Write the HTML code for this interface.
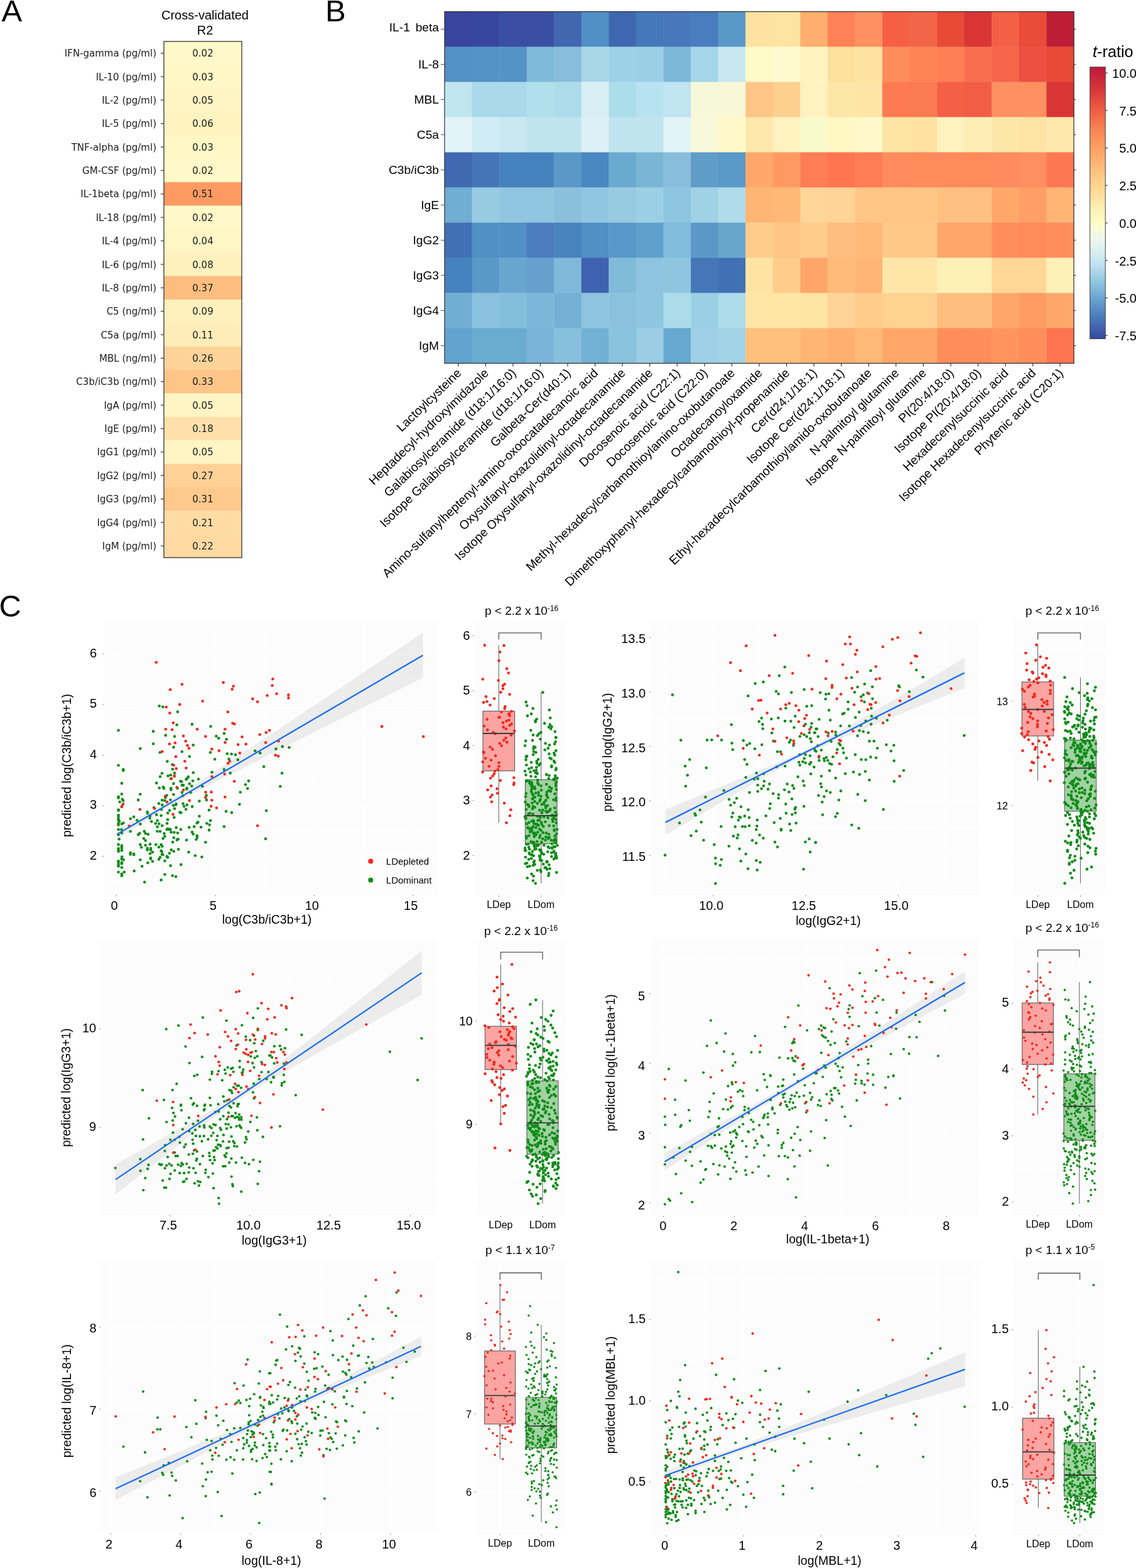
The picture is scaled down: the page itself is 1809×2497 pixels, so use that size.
<!DOCTYPE html>
<html><head><meta charset="utf-8"><title>Figure</title>
<style>html,body{margin:0;padding:0;background:#fff;} svg{display:block;}</style></head>
<body><svg width="1809" height="2497" viewBox="0 0 1809 2497">
<rect width="1809" height="2497" fill="#fff"/>
<text x="2.5" y="33.7" font-size="49" text-anchor="start" font-family="'Liberation Sans', Arial, sans-serif" fill="#000" >A</text>
<text x="326.5" y="30.5" font-size="20" text-anchor="middle" font-family="'Liberation Sans', Arial, sans-serif" fill="#000" >Cross-validated</text>
<text x="326.5" y="55.0" font-size="20" text-anchor="middle" font-family="'Liberation Sans', Arial, sans-serif" fill="#000" >R2</text>
<rect x="261" y="66.00" width="124" height="37.66" fill="#fff8c8"/>
<rect x="261" y="103.36" width="124" height="37.66" fill="#fff7c6"/>
<rect x="261" y="140.73" width="124" height="37.66" fill="#fff4c3"/>
<rect x="261" y="178.09" width="124" height="37.66" fill="#fff3c1"/>
<rect x="261" y="215.45" width="124" height="37.66" fill="#fff7c6"/>
<rect x="261" y="252.82" width="124" height="37.66" fill="#fff8c8"/>
<rect x="261" y="290.18" width="124" height="37.66" fill="#fc9a62"/>
<rect x="261" y="327.55" width="124" height="37.66" fill="#fff8c8"/>
<rect x="261" y="364.91" width="124" height="37.66" fill="#fff6c5"/>
<rect x="261" y="402.27" width="124" height="37.66" fill="#fff1be"/>
<rect x="261" y="439.64" width="124" height="37.66" fill="#fdbd7e"/>
<rect x="261" y="477.00" width="124" height="37.66" fill="#fff0bd"/>
<rect x="261" y="514.36" width="124" height="37.66" fill="#ffedb9"/>
<rect x="261" y="551.73" width="124" height="37.66" fill="#fed39a"/>
<rect x="261" y="589.09" width="124" height="37.66" fill="#fdc588"/>
<rect x="261" y="626.45" width="124" height="37.66" fill="#fff4c3"/>
<rect x="261" y="663.82" width="124" height="37.66" fill="#fee1aa"/>
<rect x="261" y="701.18" width="124" height="37.66" fill="#fff4c3"/>
<rect x="261" y="738.55" width="124" height="37.66" fill="#fed197"/>
<rect x="261" y="775.91" width="124" height="37.66" fill="#fec98d"/>
<rect x="261" y="813.27" width="124" height="37.66" fill="#fedca4"/>
<rect x="261" y="850.64" width="124" height="37.66" fill="#fedaa2"/>
<text x="249.0" y="90.2" font-size="15" text-anchor="end" font-family="'DejaVu Sans', sans-serif" fill="#1a1a1a" >IFN-gamma (pg/ml)</text>
<text x="323.0" y="90.2" font-size="15" text-anchor="middle" font-family="'DejaVu Sans', sans-serif" fill="#1a1a1a" >0.02</text>
<line x1="256" y1="84.7" x2="261" y2="84.7" stroke="#333" stroke-width="1.2"/>
<text x="249.0" y="127.5" font-size="15" text-anchor="end" font-family="'DejaVu Sans', sans-serif" fill="#1a1a1a" >IL-10 (pg/ml)</text>
<text x="323.0" y="127.5" font-size="15" text-anchor="middle" font-family="'DejaVu Sans', sans-serif" fill="#1a1a1a" >0.03</text>
<line x1="256" y1="122.0" x2="261" y2="122.0" stroke="#333" stroke-width="1.2"/>
<text x="249.0" y="164.9" font-size="15" text-anchor="end" font-family="'DejaVu Sans', sans-serif" fill="#1a1a1a" >IL-2 (pg/ml)</text>
<text x="323.0" y="164.9" font-size="15" text-anchor="middle" font-family="'DejaVu Sans', sans-serif" fill="#1a1a1a" >0.05</text>
<line x1="256" y1="159.4" x2="261" y2="159.4" stroke="#333" stroke-width="1.2"/>
<text x="249.0" y="202.3" font-size="15" text-anchor="end" font-family="'DejaVu Sans', sans-serif" fill="#1a1a1a" >IL-5 (pg/ml)</text>
<text x="323.0" y="202.3" font-size="15" text-anchor="middle" font-family="'DejaVu Sans', sans-serif" fill="#1a1a1a" >0.06</text>
<line x1="256" y1="196.8" x2="261" y2="196.8" stroke="#333" stroke-width="1.2"/>
<text x="249.0" y="239.6" font-size="15" text-anchor="end" font-family="'DejaVu Sans', sans-serif" fill="#1a1a1a" >TNF-alpha (pg/ml)</text>
<text x="323.0" y="239.6" font-size="15" text-anchor="middle" font-family="'DejaVu Sans', sans-serif" fill="#1a1a1a" >0.03</text>
<line x1="256" y1="234.1" x2="261" y2="234.1" stroke="#333" stroke-width="1.2"/>
<text x="249.0" y="277.0" font-size="15" text-anchor="end" font-family="'DejaVu Sans', sans-serif" fill="#1a1a1a" >GM-CSF (pg/ml)</text>
<text x="323.0" y="277.0" font-size="15" text-anchor="middle" font-family="'DejaVu Sans', sans-serif" fill="#1a1a1a" >0.02</text>
<line x1="256" y1="271.5" x2="261" y2="271.5" stroke="#333" stroke-width="1.2"/>
<text x="249.0" y="314.4" font-size="15" text-anchor="end" font-family="'DejaVu Sans', sans-serif" fill="#1a1a1a" >IL-1beta (pg/ml)</text>
<text x="323.0" y="314.4" font-size="15" text-anchor="middle" font-family="'DejaVu Sans', sans-serif" fill="#1a1a1a" >0.51</text>
<line x1="256" y1="308.9" x2="261" y2="308.9" stroke="#333" stroke-width="1.2"/>
<text x="249.0" y="351.7" font-size="15" text-anchor="end" font-family="'DejaVu Sans', sans-serif" fill="#1a1a1a" >IL-18 (pg/ml)</text>
<text x="323.0" y="351.7" font-size="15" text-anchor="middle" font-family="'DejaVu Sans', sans-serif" fill="#1a1a1a" >0.02</text>
<line x1="256" y1="346.2" x2="261" y2="346.2" stroke="#333" stroke-width="1.2"/>
<text x="249.0" y="389.1" font-size="15" text-anchor="end" font-family="'DejaVu Sans', sans-serif" fill="#1a1a1a" >IL-4 (pg/ml)</text>
<text x="323.0" y="389.1" font-size="15" text-anchor="middle" font-family="'DejaVu Sans', sans-serif" fill="#1a1a1a" >0.04</text>
<line x1="256" y1="383.6" x2="261" y2="383.6" stroke="#333" stroke-width="1.2"/>
<text x="249.0" y="426.5" font-size="15" text-anchor="end" font-family="'DejaVu Sans', sans-serif" fill="#1a1a1a" >IL-6 (pg/ml)</text>
<text x="323.0" y="426.5" font-size="15" text-anchor="middle" font-family="'DejaVu Sans', sans-serif" fill="#1a1a1a" >0.08</text>
<line x1="256" y1="421.0" x2="261" y2="421.0" stroke="#333" stroke-width="1.2"/>
<text x="249.0" y="463.8" font-size="15" text-anchor="end" font-family="'DejaVu Sans', sans-serif" fill="#1a1a1a" >IL-8 (pg/ml)</text>
<text x="323.0" y="463.8" font-size="15" text-anchor="middle" font-family="'DejaVu Sans', sans-serif" fill="#1a1a1a" >0.37</text>
<line x1="256" y1="458.3" x2="261" y2="458.3" stroke="#333" stroke-width="1.2"/>
<text x="249.0" y="501.2" font-size="15" text-anchor="end" font-family="'DejaVu Sans', sans-serif" fill="#1a1a1a" >C5 (ng/ml)</text>
<text x="323.0" y="501.2" font-size="15" text-anchor="middle" font-family="'DejaVu Sans', sans-serif" fill="#1a1a1a" >0.09</text>
<line x1="256" y1="495.7" x2="261" y2="495.7" stroke="#333" stroke-width="1.2"/>
<text x="249.0" y="538.5" font-size="15" text-anchor="end" font-family="'DejaVu Sans', sans-serif" fill="#1a1a1a" >C5a (pg/ml)</text>
<text x="323.0" y="538.5" font-size="15" text-anchor="middle" font-family="'DejaVu Sans', sans-serif" fill="#1a1a1a" >0.11</text>
<line x1="256" y1="533.0" x2="261" y2="533.0" stroke="#333" stroke-width="1.2"/>
<text x="249.0" y="575.9" font-size="15" text-anchor="end" font-family="'DejaVu Sans', sans-serif" fill="#1a1a1a" >MBL (ng/ml)</text>
<text x="323.0" y="575.9" font-size="15" text-anchor="middle" font-family="'DejaVu Sans', sans-serif" fill="#1a1a1a" >0.26</text>
<line x1="256" y1="570.4" x2="261" y2="570.4" stroke="#333" stroke-width="1.2"/>
<text x="249.0" y="613.3" font-size="15" text-anchor="end" font-family="'DejaVu Sans', sans-serif" fill="#1a1a1a" >C3b/iC3b (ng/ml)</text>
<text x="323.0" y="613.3" font-size="15" text-anchor="middle" font-family="'DejaVu Sans', sans-serif" fill="#1a1a1a" >0.33</text>
<line x1="256" y1="607.8" x2="261" y2="607.8" stroke="#333" stroke-width="1.2"/>
<text x="249.0" y="650.6" font-size="15" text-anchor="end" font-family="'DejaVu Sans', sans-serif" fill="#1a1a1a" >IgA (pg/ml)</text>
<text x="323.0" y="650.6" font-size="15" text-anchor="middle" font-family="'DejaVu Sans', sans-serif" fill="#1a1a1a" >0.05</text>
<line x1="256" y1="645.1" x2="261" y2="645.1" stroke="#333" stroke-width="1.2"/>
<text x="249.0" y="688.0" font-size="15" text-anchor="end" font-family="'DejaVu Sans', sans-serif" fill="#1a1a1a" >IgE (pg/ml)</text>
<text x="323.0" y="688.0" font-size="15" text-anchor="middle" font-family="'DejaVu Sans', sans-serif" fill="#1a1a1a" >0.18</text>
<line x1="256" y1="682.5" x2="261" y2="682.5" stroke="#333" stroke-width="1.2"/>
<text x="249.0" y="725.4" font-size="15" text-anchor="end" font-family="'DejaVu Sans', sans-serif" fill="#1a1a1a" >IgG1 (pg/ml)</text>
<text x="323.0" y="725.4" font-size="15" text-anchor="middle" font-family="'DejaVu Sans', sans-serif" fill="#1a1a1a" >0.05</text>
<line x1="256" y1="719.9" x2="261" y2="719.9" stroke="#333" stroke-width="1.2"/>
<text x="249.0" y="762.7" font-size="15" text-anchor="end" font-family="'DejaVu Sans', sans-serif" fill="#1a1a1a" >IgG2 (pg/ml)</text>
<text x="323.0" y="762.7" font-size="15" text-anchor="middle" font-family="'DejaVu Sans', sans-serif" fill="#1a1a1a" >0.27</text>
<line x1="256" y1="757.2" x2="261" y2="757.2" stroke="#333" stroke-width="1.2"/>
<text x="249.0" y="800.1" font-size="15" text-anchor="end" font-family="'DejaVu Sans', sans-serif" fill="#1a1a1a" >IgG3 (pg/ml)</text>
<text x="323.0" y="800.1" font-size="15" text-anchor="middle" font-family="'DejaVu Sans', sans-serif" fill="#1a1a1a" >0.31</text>
<line x1="256" y1="794.6" x2="261" y2="794.6" stroke="#333" stroke-width="1.2"/>
<text x="249.0" y="837.5" font-size="15" text-anchor="end" font-family="'DejaVu Sans', sans-serif" fill="#1a1a1a" >IgG4 (pg/ml)</text>
<text x="323.0" y="837.5" font-size="15" text-anchor="middle" font-family="'DejaVu Sans', sans-serif" fill="#1a1a1a" >0.21</text>
<line x1="256" y1="832.0" x2="261" y2="832.0" stroke="#333" stroke-width="1.2"/>
<text x="249.0" y="874.8" font-size="15" text-anchor="end" font-family="'DejaVu Sans', sans-serif" fill="#1a1a1a" >IgM (pg/ml)</text>
<text x="323.0" y="874.8" font-size="15" text-anchor="middle" font-family="'DejaVu Sans', sans-serif" fill="#1a1a1a" >0.22</text>
<line x1="256" y1="869.3" x2="261" y2="869.3" stroke="#333" stroke-width="1.2"/>
<rect x="261" y="66" width="124" height="822" fill="none" stroke="#333" stroke-width="1.3"/>
<text x="518.0" y="34.0" font-size="49" text-anchor="start" font-family="'Liberation Sans', Arial, sans-serif" fill="#000" >B</text>
<rect x="708.00" y="18.50" width="43.97" height="56.40" fill="#38449e"/>
<rect x="751.57" y="18.50" width="43.97" height="56.40" fill="#38469f"/>
<rect x="795.13" y="18.50" width="43.97" height="56.40" fill="#3a4ea2"/>
<rect x="838.70" y="18.50" width="43.97" height="56.40" fill="#3a4ea2"/>
<rect x="882.26" y="18.50" width="43.97" height="56.40" fill="#4067b0"/>
<rect x="925.83" y="18.50" width="43.97" height="56.40" fill="#5090c5"/>
<rect x="969.39" y="18.50" width="43.97" height="56.40" fill="#3f67b0"/>
<rect x="1012.96" y="18.50" width="43.97" height="56.40" fill="#4578ba"/>
<rect x="1056.52" y="18.50" width="43.97" height="56.40" fill="#4878bb"/>
<rect x="1100.09" y="18.50" width="43.97" height="56.40" fill="#4a7dbd"/>
<rect x="1143.65" y="18.50" width="43.97" height="56.40" fill="#5a98c8"/>
<rect x="1187.22" y="18.50" width="43.97" height="56.40" fill="#fde2a0"/>
<rect x="1230.78" y="18.50" width="43.97" height="56.40" fill="#fee4a2"/>
<rect x="1274.35" y="18.50" width="43.97" height="56.40" fill="#feae6e"/>
<rect x="1317.91" y="18.50" width="43.97" height="56.40" fill="#ff8256"/>
<rect x="1361.48" y="18.50" width="43.97" height="56.40" fill="#ff9060"/>
<rect x="1405.04" y="18.50" width="43.97" height="56.40" fill="#f56045"/>
<rect x="1448.61" y="18.50" width="43.97" height="56.40" fill="#f26548"/>
<rect x="1492.17" y="18.50" width="43.97" height="56.40" fill="#e84a35"/>
<rect x="1535.74" y="18.50" width="43.97" height="56.40" fill="#d93535"/>
<rect x="1579.30" y="18.50" width="43.97" height="56.40" fill="#f36045"/>
<rect x="1622.87" y="18.50" width="43.97" height="56.40" fill="#e94c38"/>
<rect x="1666.43" y="18.50" width="43.97" height="56.40" fill="#be1e35"/>
<rect x="708.00" y="74.50" width="43.97" height="56.40" fill="#5291c5"/>
<rect x="751.57" y="74.50" width="43.97" height="56.40" fill="#5493c6"/>
<rect x="795.13" y="74.50" width="43.97" height="56.40" fill="#5493c6"/>
<rect x="838.70" y="74.50" width="43.97" height="56.40" fill="#7eb9d9"/>
<rect x="882.26" y="74.50" width="43.97" height="56.40" fill="#88bedb"/>
<rect x="925.83" y="74.50" width="43.97" height="56.40" fill="#a8d8e8"/>
<rect x="969.39" y="74.50" width="43.97" height="56.40" fill="#9ed0e6"/>
<rect x="1012.96" y="74.50" width="43.97" height="56.40" fill="#9ccfe5"/>
<rect x="1056.52" y="74.50" width="43.97" height="56.40" fill="#7db8d8"/>
<rect x="1100.09" y="74.50" width="43.97" height="56.40" fill="#a4d6e8"/>
<rect x="1143.65" y="74.50" width="43.97" height="56.40" fill="#c8e8f0"/>
<rect x="1187.22" y="74.50" width="43.97" height="56.40" fill="#fffac8"/>
<rect x="1230.78" y="74.50" width="43.97" height="56.40" fill="#fffad0"/>
<rect x="1274.35" y="74.50" width="43.97" height="56.40" fill="#fff3c0"/>
<rect x="1317.91" y="74.50" width="43.97" height="56.40" fill="#fde09c"/>
<rect x="1361.48" y="74.50" width="43.97" height="56.40" fill="#fee2a0"/>
<rect x="1405.04" y="74.50" width="43.97" height="56.40" fill="#ff8c5a"/>
<rect x="1448.61" y="74.50" width="43.97" height="56.40" fill="#ff8455"/>
<rect x="1492.17" y="74.50" width="43.97" height="56.40" fill="#ff7f55"/>
<rect x="1535.74" y="74.50" width="43.97" height="56.40" fill="#f86e4e"/>
<rect x="1579.30" y="74.50" width="43.97" height="56.40" fill="#f4654a"/>
<rect x="1622.87" y="74.50" width="43.97" height="56.40" fill="#eb5040"/>
<rect x="1666.43" y="74.50" width="43.97" height="56.40" fill="#e94a38"/>
<rect x="708.00" y="130.50" width="43.97" height="56.40" fill="#c0e5ef"/>
<rect x="751.57" y="130.50" width="43.97" height="56.40" fill="#a9d9ea"/>
<rect x="795.13" y="130.50" width="43.97" height="56.40" fill="#a9d9ea"/>
<rect x="838.70" y="130.50" width="43.97" height="56.40" fill="#b0e0ec"/>
<rect x="882.26" y="130.50" width="43.97" height="56.40" fill="#acdcea"/>
<rect x="925.83" y="130.50" width="43.97" height="56.40" fill="#d8eff5"/>
<rect x="969.39" y="130.50" width="43.97" height="56.40" fill="#acdeea"/>
<rect x="1012.96" y="130.50" width="43.97" height="56.40" fill="#b8e2ef"/>
<rect x="1056.52" y="130.50" width="43.97" height="56.40" fill="#c0e4f0"/>
<rect x="1100.09" y="130.50" width="43.97" height="56.40" fill="#f6f8da"/>
<rect x="1143.65" y="130.50" width="43.97" height="56.40" fill="#f8f8d8"/>
<rect x="1187.22" y="130.50" width="43.97" height="56.40" fill="#fec587"/>
<rect x="1230.78" y="130.50" width="43.97" height="56.40" fill="#fed090"/>
<rect x="1274.35" y="130.50" width="43.97" height="56.40" fill="#fff2c0"/>
<rect x="1317.91" y="130.50" width="43.97" height="56.40" fill="#fee6a8"/>
<rect x="1361.48" y="130.50" width="43.97" height="56.40" fill="#fee4a6"/>
<rect x="1405.04" y="130.50" width="43.97" height="56.40" fill="#fd7a52"/>
<rect x="1448.61" y="130.50" width="43.97" height="56.40" fill="#fa7a52"/>
<rect x="1492.17" y="130.50" width="43.97" height="56.40" fill="#f45f45"/>
<rect x="1535.74" y="130.50" width="43.97" height="56.40" fill="#f15e45"/>
<rect x="1579.30" y="130.50" width="43.97" height="56.40" fill="#ff9060"/>
<rect x="1622.87" y="130.50" width="43.97" height="56.40" fill="#ff9060"/>
<rect x="1666.43" y="130.50" width="43.97" height="56.40" fill="#da3535"/>
<rect x="708.00" y="186.50" width="43.97" height="56.40" fill="#e2f4f8"/>
<rect x="751.57" y="186.50" width="43.97" height="56.40" fill="#d0ecf4"/>
<rect x="795.13" y="186.50" width="43.97" height="56.40" fill="#c8e8f2"/>
<rect x="838.70" y="186.50" width="43.97" height="56.40" fill="#c0e4ef"/>
<rect x="882.26" y="186.50" width="43.97" height="56.40" fill="#c0e4ef"/>
<rect x="925.83" y="186.50" width="43.97" height="56.40" fill="#dcf0f6"/>
<rect x="969.39" y="186.50" width="43.97" height="56.40" fill="#c0e4ef"/>
<rect x="1012.96" y="186.50" width="43.97" height="56.40" fill="#c0e4ef"/>
<rect x="1056.52" y="186.50" width="43.97" height="56.40" fill="#e2f4f8"/>
<rect x="1100.09" y="186.50" width="43.97" height="56.40" fill="#f8f8da"/>
<rect x="1143.65" y="186.50" width="43.97" height="56.40" fill="#fff8c8"/>
<rect x="1187.22" y="186.50" width="43.97" height="56.40" fill="#fee8ac"/>
<rect x="1230.78" y="186.50" width="43.97" height="56.40" fill="#fff2c0"/>
<rect x="1274.35" y="186.50" width="43.97" height="56.40" fill="#f8facc"/>
<rect x="1317.91" y="186.50" width="43.97" height="56.40" fill="#fff8c4"/>
<rect x="1361.48" y="186.50" width="43.97" height="56.40" fill="#fff8c8"/>
<rect x="1405.04" y="186.50" width="43.97" height="56.40" fill="#fee4a2"/>
<rect x="1448.61" y="186.50" width="43.97" height="56.40" fill="#fee2a0"/>
<rect x="1492.17" y="186.50" width="43.97" height="56.40" fill="#fff2c0"/>
<rect x="1535.74" y="186.50" width="43.97" height="56.40" fill="#feeeb5"/>
<rect x="1579.30" y="186.50" width="43.97" height="56.40" fill="#fee6a8"/>
<rect x="1622.87" y="186.50" width="43.97" height="56.40" fill="#fee4a4"/>
<rect x="1666.43" y="186.50" width="43.97" height="56.40" fill="#fee8ac"/>
<rect x="708.00" y="242.50" width="43.97" height="56.40" fill="#4069b2"/>
<rect x="751.57" y="242.50" width="43.97" height="56.40" fill="#4575b7"/>
<rect x="795.13" y="242.50" width="43.97" height="56.40" fill="#4683be"/>
<rect x="838.70" y="242.50" width="43.97" height="56.40" fill="#4683be"/>
<rect x="882.26" y="242.50" width="43.97" height="56.40" fill="#5b98c8"/>
<rect x="925.83" y="242.50" width="43.97" height="56.40" fill="#4a88c2"/>
<rect x="969.39" y="242.50" width="43.97" height="56.40" fill="#6aa9d0"/>
<rect x="1012.96" y="242.50" width="43.97" height="56.40" fill="#7ab5d6"/>
<rect x="1056.52" y="242.50" width="43.97" height="56.40" fill="#88bedc"/>
<rect x="1100.09" y="242.50" width="43.97" height="56.40" fill="#5f9cc8"/>
<rect x="1143.65" y="242.50" width="43.97" height="56.40" fill="#5b9ac8"/>
<rect x="1187.22" y="242.50" width="43.97" height="56.40" fill="#fea86a"/>
<rect x="1230.78" y="242.50" width="43.97" height="56.40" fill="#ff9862"/>
<rect x="1274.35" y="242.50" width="43.97" height="56.40" fill="#ff7d55"/>
<rect x="1317.91" y="242.50" width="43.97" height="56.40" fill="#ff7550"/>
<rect x="1361.48" y="242.50" width="43.97" height="56.40" fill="#ff7c55"/>
<rect x="1405.04" y="242.50" width="43.97" height="56.40" fill="#ff8c5c"/>
<rect x="1448.61" y="242.50" width="43.97" height="56.40" fill="#ff8a5a"/>
<rect x="1492.17" y="242.50" width="43.97" height="56.40" fill="#ff8a5a"/>
<rect x="1535.74" y="242.50" width="43.97" height="56.40" fill="#ff8a5a"/>
<rect x="1579.30" y="242.50" width="43.97" height="56.40" fill="#ff8c5e"/>
<rect x="1622.87" y="242.50" width="43.97" height="56.40" fill="#ff8e60"/>
<rect x="1666.43" y="242.50" width="43.97" height="56.40" fill="#fd7852"/>
<rect x="708.00" y="298.50" width="43.97" height="56.40" fill="#70aed4"/>
<rect x="751.57" y="298.50" width="43.97" height="56.40" fill="#98cae2"/>
<rect x="795.13" y="298.50" width="43.97" height="56.40" fill="#90c6e0"/>
<rect x="838.70" y="298.50" width="43.97" height="56.40" fill="#90c6e0"/>
<rect x="882.26" y="298.50" width="43.97" height="56.40" fill="#8ac0dc"/>
<rect x="925.83" y="298.50" width="43.97" height="56.40" fill="#90c6e2"/>
<rect x="969.39" y="298.50" width="43.97" height="56.40" fill="#98cae2"/>
<rect x="1012.96" y="298.50" width="43.97" height="56.40" fill="#9ccfe4"/>
<rect x="1056.52" y="298.50" width="43.97" height="56.40" fill="#8ec6e0"/>
<rect x="1100.09" y="298.50" width="43.97" height="56.40" fill="#a0d2e6"/>
<rect x="1143.65" y="298.50" width="43.97" height="56.40" fill="#b0dcea"/>
<rect x="1187.22" y="298.50" width="43.97" height="56.40" fill="#ffb574"/>
<rect x="1230.78" y="298.50" width="43.97" height="56.40" fill="#ffb876"/>
<rect x="1274.35" y="298.50" width="43.97" height="56.40" fill="#ffd598"/>
<rect x="1317.91" y="298.50" width="43.97" height="56.40" fill="#ffd496"/>
<rect x="1361.48" y="298.50" width="43.97" height="56.40" fill="#ffc585"/>
<rect x="1405.04" y="298.50" width="43.97" height="56.40" fill="#ffc585"/>
<rect x="1448.61" y="298.50" width="43.97" height="56.40" fill="#ffc585"/>
<rect x="1492.17" y="298.50" width="43.97" height="56.40" fill="#ffc080"/>
<rect x="1535.74" y="298.50" width="43.97" height="56.40" fill="#ffc080"/>
<rect x="1579.30" y="298.50" width="43.97" height="56.40" fill="#ffa86a"/>
<rect x="1622.87" y="298.50" width="43.97" height="56.40" fill="#ff9e66"/>
<rect x="1666.43" y="298.50" width="43.97" height="56.40" fill="#ffb574"/>
<rect x="708.00" y="354.50" width="43.97" height="56.40" fill="#4270b5"/>
<rect x="751.57" y="354.50" width="43.97" height="56.40" fill="#5090c4"/>
<rect x="795.13" y="354.50" width="43.97" height="56.40" fill="#5090c4"/>
<rect x="838.70" y="354.50" width="43.97" height="56.40" fill="#4a7cbe"/>
<rect x="882.26" y="354.50" width="43.97" height="56.40" fill="#4883bd"/>
<rect x="925.83" y="354.50" width="43.97" height="56.40" fill="#5090c4"/>
<rect x="969.39" y="354.50" width="43.97" height="56.40" fill="#5898c8"/>
<rect x="1012.96" y="354.50" width="43.97" height="56.40" fill="#60a0cc"/>
<rect x="1056.52" y="354.50" width="43.97" height="56.40" fill="#80bcdc"/>
<rect x="1100.09" y="354.50" width="43.97" height="56.40" fill="#5b98c8"/>
<rect x="1143.65" y="354.50" width="43.97" height="56.40" fill="#68a6ce"/>
<rect x="1187.22" y="354.50" width="43.97" height="56.40" fill="#ffcc8c"/>
<rect x="1230.78" y="354.50" width="43.97" height="56.40" fill="#ffc685"/>
<rect x="1274.35" y="354.50" width="43.97" height="56.40" fill="#ffcc8c"/>
<rect x="1317.91" y="354.50" width="43.97" height="56.40" fill="#ffbd7e"/>
<rect x="1361.48" y="354.50" width="43.97" height="56.40" fill="#ffb878"/>
<rect x="1405.04" y="354.50" width="43.97" height="56.40" fill="#ffc886"/>
<rect x="1448.61" y="354.50" width="43.97" height="56.40" fill="#ffc886"/>
<rect x="1492.17" y="354.50" width="43.97" height="56.40" fill="#ffa66a"/>
<rect x="1535.74" y="354.50" width="43.97" height="56.40" fill="#ffa66a"/>
<rect x="1579.30" y="354.50" width="43.97" height="56.40" fill="#ff8e5c"/>
<rect x="1622.87" y="354.50" width="43.97" height="56.40" fill="#ff8a5a"/>
<rect x="1666.43" y="354.50" width="43.97" height="56.40" fill="#ff8e5c"/>
<rect x="708.00" y="410.50" width="43.97" height="56.40" fill="#4682bd"/>
<rect x="751.57" y="410.50" width="43.97" height="56.40" fill="#5a98c8"/>
<rect x="795.13" y="410.50" width="43.97" height="56.40" fill="#68a6d0"/>
<rect x="838.70" y="410.50" width="43.97" height="56.40" fill="#66a0cc"/>
<rect x="882.26" y="410.50" width="43.97" height="56.40" fill="#80b8d9"/>
<rect x="925.83" y="410.50" width="43.97" height="56.40" fill="#3f62b0"/>
<rect x="969.39" y="410.50" width="43.97" height="56.40" fill="#80bbd9"/>
<rect x="1012.96" y="410.50" width="43.97" height="56.40" fill="#8ec4df"/>
<rect x="1056.52" y="410.50" width="43.97" height="56.40" fill="#8ec6e0"/>
<rect x="1100.09" y="410.50" width="43.97" height="56.40" fill="#4576b8"/>
<rect x="1143.65" y="410.50" width="43.97" height="56.40" fill="#4270b5"/>
<rect x="1187.22" y="410.50" width="43.97" height="56.40" fill="#ffe4a4"/>
<rect x="1230.78" y="410.50" width="43.97" height="56.40" fill="#ffcc8c"/>
<rect x="1274.35" y="410.50" width="43.97" height="56.40" fill="#ffa56a"/>
<rect x="1317.91" y="410.50" width="43.97" height="56.40" fill="#ffbb7a"/>
<rect x="1361.48" y="410.50" width="43.97" height="56.40" fill="#ffb575"/>
<rect x="1405.04" y="410.50" width="43.97" height="56.40" fill="#ffe6a8"/>
<rect x="1448.61" y="410.50" width="43.97" height="56.40" fill="#ffe6a8"/>
<rect x="1492.17" y="410.50" width="43.97" height="56.40" fill="#fff0b5"/>
<rect x="1535.74" y="410.50" width="43.97" height="56.40" fill="#fff0b5"/>
<rect x="1579.30" y="410.50" width="43.97" height="56.40" fill="#ffd696"/>
<rect x="1622.87" y="410.50" width="43.97" height="56.40" fill="#ffd696"/>
<rect x="1666.43" y="410.50" width="43.97" height="56.40" fill="#fff0b8"/>
<rect x="708.00" y="466.50" width="43.97" height="56.40" fill="#70aed4"/>
<rect x="751.57" y="466.50" width="43.97" height="56.40" fill="#8ac1de"/>
<rect x="795.13" y="466.50" width="43.97" height="56.40" fill="#84bedd"/>
<rect x="838.70" y="466.50" width="43.97" height="56.40" fill="#7cb6d8"/>
<rect x="882.26" y="466.50" width="43.97" height="56.40" fill="#74b0d4"/>
<rect x="925.83" y="466.50" width="43.97" height="56.40" fill="#8ec4e0"/>
<rect x="969.39" y="466.50" width="43.97" height="56.40" fill="#8ac2de"/>
<rect x="1012.96" y="466.50" width="43.97" height="56.40" fill="#8ec6e0"/>
<rect x="1056.52" y="466.50" width="43.97" height="56.40" fill="#acdcea"/>
<rect x="1100.09" y="466.50" width="43.97" height="56.40" fill="#9ccee4"/>
<rect x="1143.65" y="466.50" width="43.97" height="56.40" fill="#acdcea"/>
<rect x="1187.22" y="466.50" width="43.97" height="56.40" fill="#ffe6a6"/>
<rect x="1230.78" y="466.50" width="43.97" height="56.40" fill="#ffe6a4"/>
<rect x="1274.35" y="466.50" width="43.97" height="56.40" fill="#ffe4a2"/>
<rect x="1317.91" y="466.50" width="43.97" height="56.40" fill="#ffd496"/>
<rect x="1361.48" y="466.50" width="43.97" height="56.40" fill="#ffcc8c"/>
<rect x="1405.04" y="466.50" width="43.97" height="56.40" fill="#ffd292"/>
<rect x="1448.61" y="466.50" width="43.97" height="56.40" fill="#ffd292"/>
<rect x="1492.17" y="466.50" width="43.97" height="56.40" fill="#ffbe7e"/>
<rect x="1535.74" y="466.50" width="43.97" height="56.40" fill="#ffbe7e"/>
<rect x="1579.30" y="466.50" width="43.97" height="56.40" fill="#ffa66a"/>
<rect x="1622.87" y="466.50" width="43.97" height="56.40" fill="#ff9c64"/>
<rect x="1666.43" y="466.50" width="43.97" height="56.40" fill="#ffa86c"/>
<rect x="708.00" y="522.50" width="43.97" height="56.40" fill="#64a2cf"/>
<rect x="751.57" y="522.50" width="43.97" height="56.40" fill="#6aabd2"/>
<rect x="795.13" y="522.50" width="43.97" height="56.40" fill="#6aabd2"/>
<rect x="838.70" y="522.50" width="43.97" height="56.40" fill="#7ab4d8"/>
<rect x="882.26" y="522.50" width="43.97" height="56.40" fill="#86c0dc"/>
<rect x="925.83" y="522.50" width="43.97" height="56.40" fill="#72b0d4"/>
<rect x="969.39" y="522.50" width="43.97" height="56.40" fill="#8ac3de"/>
<rect x="1012.96" y="522.50" width="43.97" height="56.40" fill="#9ccde4"/>
<rect x="1056.52" y="522.50" width="43.97" height="56.40" fill="#66a8d0"/>
<rect x="1100.09" y="522.50" width="43.97" height="56.40" fill="#9ecfe5"/>
<rect x="1143.65" y="522.50" width="43.97" height="56.40" fill="#a2d4e6"/>
<rect x="1187.22" y="522.50" width="43.97" height="56.40" fill="#ffc07e"/>
<rect x="1230.78" y="522.50" width="43.97" height="56.40" fill="#ffc07e"/>
<rect x="1274.35" y="522.50" width="43.97" height="56.40" fill="#ffb674"/>
<rect x="1317.91" y="522.50" width="43.97" height="56.40" fill="#ffb070"/>
<rect x="1361.48" y="522.50" width="43.97" height="56.40" fill="#ffb878"/>
<rect x="1405.04" y="522.50" width="43.97" height="56.40" fill="#ffa86a"/>
<rect x="1448.61" y="522.50" width="43.97" height="56.40" fill="#ffa86a"/>
<rect x="1492.17" y="522.50" width="43.97" height="56.40" fill="#ff8e5c"/>
<rect x="1535.74" y="522.50" width="43.97" height="56.40" fill="#ff8e5c"/>
<rect x="1579.30" y="522.50" width="43.97" height="56.40" fill="#ff945e"/>
<rect x="1622.87" y="522.50" width="43.97" height="56.40" fill="#ff8e5c"/>
<rect x="1666.43" y="522.50" width="43.97" height="56.40" fill="#fd7550"/>
<rect x="708" y="18.5" width="1002" height="560.0" fill="none" stroke="#2a2a2a" stroke-width="1.2"/>
<text x="699.0" y="50.0" font-size="19.2" text-anchor="end" font-family="'Liberation Sans', Arial, sans-serif" fill="#000" word-spacing="3.5">IL-1 beta</text>
<line x1="702" y1="46.5" x2="708" y2="46.5" stroke="#555" stroke-width="1.05"/>
<line x1="1710" y1="46.5" x2="1713" y2="46.5" stroke="#333" stroke-width="1.2"/>
<text x="699.0" y="108.8" font-size="19.2" text-anchor="end" font-family="'Liberation Sans', Arial, sans-serif" fill="#000" >IL-8</text>
<line x1="702" y1="102.5" x2="708" y2="102.5" stroke="#555" stroke-width="1.05"/>
<line x1="1710" y1="102.5" x2="1713" y2="102.5" stroke="#333" stroke-width="1.2"/>
<text x="699.0" y="164.8" font-size="19.2" text-anchor="end" font-family="'Liberation Sans', Arial, sans-serif" fill="#000" >MBL</text>
<line x1="702" y1="158.5" x2="708" y2="158.5" stroke="#555" stroke-width="1.05"/>
<line x1="1710" y1="158.5" x2="1713" y2="158.5" stroke="#333" stroke-width="1.2"/>
<text x="699.0" y="220.8" font-size="19.2" text-anchor="end" font-family="'Liberation Sans', Arial, sans-serif" fill="#000" >C5a</text>
<line x1="702" y1="214.5" x2="708" y2="214.5" stroke="#555" stroke-width="1.05"/>
<line x1="1710" y1="214.5" x2="1713" y2="214.5" stroke="#333" stroke-width="1.2"/>
<text x="699.0" y="276.8" font-size="19.2" text-anchor="end" font-family="'Liberation Sans', Arial, sans-serif" fill="#000" >C3b/iC3b</text>
<line x1="702" y1="270.5" x2="708" y2="270.5" stroke="#555" stroke-width="1.05"/>
<line x1="1710" y1="270.5" x2="1713" y2="270.5" stroke="#333" stroke-width="1.2"/>
<text x="699.0" y="332.8" font-size="19.2" text-anchor="end" font-family="'Liberation Sans', Arial, sans-serif" fill="#000" >IgE</text>
<line x1="702" y1="326.5" x2="708" y2="326.5" stroke="#555" stroke-width="1.05"/>
<line x1="1710" y1="326.5" x2="1713" y2="326.5" stroke="#333" stroke-width="1.2"/>
<text x="699.0" y="388.8" font-size="19.2" text-anchor="end" font-family="'Liberation Sans', Arial, sans-serif" fill="#000" >IgG2</text>
<line x1="702" y1="382.5" x2="708" y2="382.5" stroke="#555" stroke-width="1.05"/>
<line x1="1710" y1="382.5" x2="1713" y2="382.5" stroke="#333" stroke-width="1.2"/>
<text x="699.0" y="444.8" font-size="19.2" text-anchor="end" font-family="'Liberation Sans', Arial, sans-serif" fill="#000" >IgG3</text>
<line x1="702" y1="438.5" x2="708" y2="438.5" stroke="#555" stroke-width="1.05"/>
<line x1="1710" y1="438.5" x2="1713" y2="438.5" stroke="#333" stroke-width="1.2"/>
<text x="699.0" y="500.8" font-size="19.2" text-anchor="end" font-family="'Liberation Sans', Arial, sans-serif" fill="#000" >IgG4</text>
<line x1="702" y1="494.5" x2="708" y2="494.5" stroke="#555" stroke-width="1.05"/>
<line x1="1710" y1="494.5" x2="1713" y2="494.5" stroke="#333" stroke-width="1.2"/>
<text x="699.0" y="556.8" font-size="19.2" text-anchor="end" font-family="'Liberation Sans', Arial, sans-serif" fill="#000" >IgM</text>
<line x1="702" y1="550.5" x2="708" y2="550.5" stroke="#555" stroke-width="1.05"/>
<line x1="1710" y1="550.5" x2="1713" y2="550.5" stroke="#333" stroke-width="1.2"/>
<line x1="729.8" y1="578.5" x2="729.8" y2="583.5" stroke="#333" stroke-width="1.2"/>
<text x="735.8" y="595.5" font-size="19.6" text-anchor="end" font-family="'Liberation Sans', Arial, sans-serif" transform="rotate(-44 735.8 595.5)">Lactoylcysteine</text>
<line x1="773.3" y1="578.5" x2="773.3" y2="583.5" stroke="#333" stroke-width="1.2"/>
<text x="779.3" y="595.5" font-size="19.6" text-anchor="end" font-family="'Liberation Sans', Arial, sans-serif" transform="rotate(-44 779.3 595.5)">Heptadecyl-hydroxyimidazole</text>
<line x1="816.9" y1="578.5" x2="816.9" y2="583.5" stroke="#333" stroke-width="1.2"/>
<text x="822.9" y="595.5" font-size="19.6" text-anchor="end" font-family="'Liberation Sans', Arial, sans-serif" transform="rotate(-44 822.9 595.5)">Galabiosylceramide (d18:1/16:0)</text>
<line x1="860.5" y1="578.5" x2="860.5" y2="583.5" stroke="#333" stroke-width="1.2"/>
<text x="866.5" y="595.5" font-size="19.6" text-anchor="end" font-family="'Liberation Sans', Arial, sans-serif" transform="rotate(-44 866.5 595.5)">Isotope Galabiosylceramide (d18:1/16:0)</text>
<line x1="904.0" y1="578.5" x2="904.0" y2="583.5" stroke="#333" stroke-width="1.2"/>
<text x="910.0" y="595.5" font-size="19.6" text-anchor="end" font-family="'Liberation Sans', Arial, sans-serif" transform="rotate(-44 910.0 595.5)">Galbeta-Cer(d40:1)</text>
<line x1="947.6" y1="578.5" x2="947.6" y2="583.5" stroke="#333" stroke-width="1.2"/>
<text x="953.6" y="595.5" font-size="19.6" text-anchor="end" font-family="'Liberation Sans', Arial, sans-serif" transform="rotate(-44 953.6 595.5)">Amino-sulfanylheptenyl-amino-oxoocatadecanoic acid</text>
<line x1="991.2" y1="578.5" x2="991.2" y2="583.5" stroke="#333" stroke-width="1.2"/>
<text x="997.2" y="595.5" font-size="19.6" text-anchor="end" font-family="'Liberation Sans', Arial, sans-serif" transform="rotate(-44 997.2 595.5)">Oxysulfanyl-oxazolidinyl-octadecanamide</text>
<line x1="1034.7" y1="578.5" x2="1034.7" y2="583.5" stroke="#333" stroke-width="1.2"/>
<text x="1040.7" y="595.5" font-size="19.6" text-anchor="end" font-family="'Liberation Sans', Arial, sans-serif" transform="rotate(-44 1040.7 595.5)">Isotope Oxysulfanyl-oxazolidinyl-octadecanamide</text>
<line x1="1078.3" y1="578.5" x2="1078.3" y2="583.5" stroke="#333" stroke-width="1.2"/>
<text x="1084.3" y="595.5" font-size="19.6" text-anchor="end" font-family="'Liberation Sans', Arial, sans-serif" transform="rotate(-44 1084.3 595.5)">Docosenoic acid (C22:1)</text>
<line x1="1121.9" y1="578.5" x2="1121.9" y2="583.5" stroke="#333" stroke-width="1.2"/>
<text x="1127.9" y="595.5" font-size="19.6" text-anchor="end" font-family="'Liberation Sans', Arial, sans-serif" transform="rotate(-44 1127.9 595.5)">Docosenoic acid (C22:0)</text>
<line x1="1165.4" y1="578.5" x2="1165.4" y2="583.5" stroke="#333" stroke-width="1.2"/>
<text x="1171.4" y="595.5" font-size="19.6" text-anchor="end" font-family="'Liberation Sans', Arial, sans-serif" transform="rotate(-44 1171.4 595.5)">Methyl-hexadecylcarbamothioylamino-oxobutanoate</text>
<line x1="1209.0" y1="578.5" x2="1209.0" y2="583.5" stroke="#333" stroke-width="1.2"/>
<text x="1215.0" y="595.5" font-size="19.6" text-anchor="end" font-family="'Liberation Sans', Arial, sans-serif" transform="rotate(-44 1215.0 595.5)">Octadecanoyloxamide</text>
<line x1="1252.6" y1="578.5" x2="1252.6" y2="583.5" stroke="#333" stroke-width="1.2"/>
<text x="1258.6" y="595.5" font-size="19.6" text-anchor="end" font-family="'Liberation Sans', Arial, sans-serif" transform="rotate(-44 1258.6 595.5)">Dimethoxyphenyl-hexadecylcarbamothioyl-propenamide</text>
<line x1="1296.1" y1="578.5" x2="1296.1" y2="583.5" stroke="#333" stroke-width="1.2"/>
<text x="1302.1" y="595.5" font-size="19.6" text-anchor="end" font-family="'Liberation Sans', Arial, sans-serif" transform="rotate(-44 1302.1 595.5)">Cer(d24:1/18:1)</text>
<line x1="1339.7" y1="578.5" x2="1339.7" y2="583.5" stroke="#333" stroke-width="1.2"/>
<text x="1345.7" y="595.5" font-size="19.6" text-anchor="end" font-family="'Liberation Sans', Arial, sans-serif" transform="rotate(-44 1345.7 595.5)">Isotope Cer(d24:1/18:1)</text>
<line x1="1383.3" y1="578.5" x2="1383.3" y2="583.5" stroke="#333" stroke-width="1.2"/>
<text x="1389.3" y="595.5" font-size="19.6" text-anchor="end" font-family="'Liberation Sans', Arial, sans-serif" transform="rotate(-44 1389.3 595.5)">Ethyl-hexadecylcarbamothioylamido-oxobutanoate</text>
<line x1="1426.8" y1="578.5" x2="1426.8" y2="583.5" stroke="#333" stroke-width="1.2"/>
<text x="1432.8" y="595.5" font-size="19.6" text-anchor="end" font-family="'Liberation Sans', Arial, sans-serif" transform="rotate(-44 1432.8 595.5)">N-palmitoyl glutamine</text>
<line x1="1470.4" y1="578.5" x2="1470.4" y2="583.5" stroke="#333" stroke-width="1.2"/>
<text x="1476.4" y="595.5" font-size="19.6" text-anchor="end" font-family="'Liberation Sans', Arial, sans-serif" transform="rotate(-44 1476.4 595.5)">Isotope N-palmitoyl glutamine</text>
<line x1="1514.0" y1="578.5" x2="1514.0" y2="583.5" stroke="#333" stroke-width="1.2"/>
<text x="1520.0" y="595.5" font-size="19.6" text-anchor="end" font-family="'Liberation Sans', Arial, sans-serif" transform="rotate(-44 1520.0 595.5)">PI(20:4/18:0)</text>
<line x1="1557.5" y1="578.5" x2="1557.5" y2="583.5" stroke="#333" stroke-width="1.2"/>
<text x="1563.5" y="595.5" font-size="19.6" text-anchor="end" font-family="'Liberation Sans', Arial, sans-serif" transform="rotate(-44 1563.5 595.5)">Isotope PI(20:4/18:0)</text>
<line x1="1601.1" y1="578.5" x2="1601.1" y2="583.5" stroke="#333" stroke-width="1.2"/>
<text x="1607.1" y="595.5" font-size="19.6" text-anchor="end" font-family="'Liberation Sans', Arial, sans-serif" transform="rotate(-44 1607.1 595.5)">Hexadecenylsuccinic acid</text>
<line x1="1644.7" y1="578.5" x2="1644.7" y2="583.5" stroke="#333" stroke-width="1.2"/>
<text x="1650.7" y="595.5" font-size="19.6" text-anchor="end" font-family="'Liberation Sans', Arial, sans-serif" transform="rotate(-44 1650.7 595.5)">Isotope Hexadecenylsuccinic acid</text>
<line x1="1688.2" y1="578.5" x2="1688.2" y2="583.5" stroke="#333" stroke-width="1.2"/>
<text x="1694.2" y="595.5" font-size="19.6" text-anchor="end" font-family="'Liberation Sans', Arial, sans-serif" transform="rotate(-44 1694.2 595.5)">Phytenic acid (C20:1)</text>
<defs><linearGradient id="cbg" x1="0" y1="0" x2="0" y2="1">
<stop offset="0.0000" stop-color="#bb1b37"/>
<stop offset="0.0217" stop-color="#c4203a"/>
<stop offset="0.0907" stop-color="#d93a3a"/>
<stop offset="0.1597" stop-color="#ef5d45"/>
<stop offset="0.2287" stop-color="#f98352"/>
<stop offset="0.2977" stop-color="#fca062"/>
<stop offset="0.3667" stop-color="#fdbb78"/>
<stop offset="0.4356" stop-color="#fed48e"/>
<stop offset="0.5046" stop-color="#feeaad"/>
<stop offset="0.5736" stop-color="#fdfdc8"/>
<stop offset="0.6426" stop-color="#eaf5f0"/>
<stop offset="0.7116" stop-color="#c8e6f0"/>
<stop offset="0.7806" stop-color="#98cbe2"/>
<stop offset="0.8495" stop-color="#6aa6cf"/>
<stop offset="0.9185" stop-color="#4a7cbc"/>
<stop offset="0.9875" stop-color="#3a52a5"/>
<stop offset="1.0000" stop-color="#34489f"/>
</linearGradient></defs>
<rect x="1735.7" y="106.8" width="24.5" height="432.7" fill="url(#cbg)" stroke="#444" stroke-width="1"/>
<line x1="1760.2" y1="116.2" x2="1763.7" y2="116.2" stroke="#333" stroke-width="1.2"/>
<text x="1810.0" y="124.0" font-size="20" text-anchor="end" font-family="'Liberation Sans', Arial, sans-serif" fill="#000" >10.0</text>
<line x1="1760.2" y1="175.9" x2="1763.7" y2="175.9" stroke="#333" stroke-width="1.2"/>
<text x="1810.0" y="183.7" font-size="20" text-anchor="end" font-family="'Liberation Sans', Arial, sans-serif" fill="#000" >7.5</text>
<line x1="1760.2" y1="235.6" x2="1763.7" y2="235.6" stroke="#333" stroke-width="1.2"/>
<text x="1810.0" y="243.4" font-size="20" text-anchor="end" font-family="'Liberation Sans', Arial, sans-serif" fill="#000" >5.0</text>
<line x1="1760.2" y1="295.3" x2="1763.7" y2="295.3" stroke="#333" stroke-width="1.2"/>
<text x="1810.0" y="303.1" font-size="20" text-anchor="end" font-family="'Liberation Sans', Arial, sans-serif" fill="#000" >2.5</text>
<line x1="1760.2" y1="355.0" x2="1763.7" y2="355.0" stroke="#333" stroke-width="1.2"/>
<text x="1810.0" y="362.8" font-size="20" text-anchor="end" font-family="'Liberation Sans', Arial, sans-serif" fill="#000" >0.0</text>
<line x1="1760.2" y1="414.7" x2="1763.7" y2="414.7" stroke="#333" stroke-width="1.2"/>
<text x="1810.0" y="422.5" font-size="20" text-anchor="end" font-family="'Liberation Sans', Arial, sans-serif" fill="#000" >-2.5</text>
<line x1="1760.2" y1="474.4" x2="1763.7" y2="474.4" stroke="#333" stroke-width="1.2"/>
<text x="1810.0" y="482.2" font-size="20" text-anchor="end" font-family="'Liberation Sans', Arial, sans-serif" fill="#000" >-5.0</text>
<line x1="1760.2" y1="534.1" x2="1763.7" y2="534.1" stroke="#333" stroke-width="1.2"/>
<text x="1810.0" y="541.9" font-size="20" text-anchor="end" font-family="'Liberation Sans', Arial, sans-serif" fill="#000" >-7.5</text>
<text x="1740" y="90.9" font-size="25.3" font-family="'Liberation Sans', Arial, sans-serif"><tspan font-style="italic">t</tspan>-ratio</text>
<text x="-1.5" y="982.0" font-size="49" text-anchor="start" font-family="'Liberation Sans', Arial, sans-serif" fill="#000" >C</text>
<rect x="165" y="988" width="532" height="437" fill="#fcfcfc"/>
<line x1="185.6" y1="988" x2="185.6" y2="1425" stroke="#fff" stroke-width="1.4"/>
<line x1="264.3" y1="988" x2="264.3" y2="1425" stroke="#fff" stroke-width="1.4"/>
<line x1="343.0" y1="988" x2="343.0" y2="1425" stroke="#fff" stroke-width="1.4"/>
<line x1="421.7" y1="988" x2="421.7" y2="1425" stroke="#fff" stroke-width="1.4"/>
<line x1="500.4" y1="988" x2="500.4" y2="1425" stroke="#fff" stroke-width="1.4"/>
<line x1="579.1" y1="988" x2="579.1" y2="1425" stroke="#fff" stroke-width="1.4"/>
<line x1="657.8" y1="988" x2="657.8" y2="1425" stroke="#fff" stroke-width="1.4"/>
<line x1="165" y1="1403.9" x2="697" y2="1403.9" stroke="#fff" stroke-width="1.4"/>
<line x1="165" y1="1363.6" x2="697" y2="1363.6" stroke="#fff" stroke-width="1.4"/>
<line x1="165" y1="1323.3" x2="697" y2="1323.3" stroke="#fff" stroke-width="1.4"/>
<line x1="165" y1="1283.0" x2="697" y2="1283.0" stroke="#fff" stroke-width="1.4"/>
<line x1="165" y1="1242.7" x2="697" y2="1242.7" stroke="#fff" stroke-width="1.4"/>
<line x1="165" y1="1202.4" x2="697" y2="1202.4" stroke="#fff" stroke-width="1.4"/>
<line x1="165" y1="1162.1" x2="697" y2="1162.1" stroke="#fff" stroke-width="1.4"/>
<line x1="165" y1="1121.8" x2="697" y2="1121.8" stroke="#fff" stroke-width="1.4"/>
<line x1="165" y1="1081.5" x2="697" y2="1081.5" stroke="#fff" stroke-width="1.4"/>
<line x1="165" y1="1041.2" x2="697" y2="1041.2" stroke="#fff" stroke-width="1.4"/>
<line x1="165" y1="1000.9" x2="697" y2="1000.9" stroke="#fff" stroke-width="1.4"/>
<line x1="185.6" y1="1425" x2="185.6" y2="1427.2" stroke="#888" stroke-width="1"/>
<text x="182.0" y="1449.4" font-size="20" text-anchor="middle" font-family="'Liberation Sans', Arial, sans-serif" fill="#000" >0</text>
<line x1="343.0" y1="1425" x2="343.0" y2="1427.2" stroke="#888" stroke-width="1"/>
<text x="339.4" y="1449.4" font-size="20" text-anchor="middle" font-family="'Liberation Sans', Arial, sans-serif" fill="#000" >5</text>
<line x1="500.4" y1="1425" x2="500.4" y2="1427.2" stroke="#888" stroke-width="1"/>
<text x="496.8" y="1449.4" font-size="20" text-anchor="middle" font-family="'Liberation Sans', Arial, sans-serif" fill="#000" >10</text>
<line x1="657.8" y1="1425" x2="657.8" y2="1427.2" stroke="#888" stroke-width="1"/>
<text x="654.2" y="1449.4" font-size="20" text-anchor="middle" font-family="'Liberation Sans', Arial, sans-serif" fill="#000" >15</text>
<line x1="162.8" y1="1041.2" x2="165" y2="1041.2" stroke="#888" stroke-width="1"/>
<text x="154.0" y="1046.5" font-size="20" text-anchor="end" font-family="'Liberation Sans', Arial, sans-serif" fill="#000" >6</text>
<line x1="162.8" y1="1121.8" x2="165" y2="1121.8" stroke="#888" stroke-width="1"/>
<text x="154.0" y="1127.1" font-size="20" text-anchor="end" font-family="'Liberation Sans', Arial, sans-serif" fill="#000" >5</text>
<line x1="162.8" y1="1202.4" x2="165" y2="1202.4" stroke="#888" stroke-width="1"/>
<text x="154.0" y="1207.7" font-size="20" text-anchor="end" font-family="'Liberation Sans', Arial, sans-serif" fill="#000" >4</text>
<line x1="162.8" y1="1283.0" x2="165" y2="1283.0" stroke="#888" stroke-width="1"/>
<text x="154.0" y="1288.3" font-size="20" text-anchor="end" font-family="'Liberation Sans', Arial, sans-serif" fill="#000" >3</text>
<line x1="162.8" y1="1363.6" x2="165" y2="1363.6" stroke="#888" stroke-width="1"/>
<text x="154.0" y="1368.9" font-size="20" text-anchor="end" font-family="'Liberation Sans', Arial, sans-serif" fill="#000" >2</text>
<text x="425.0" y="1471.0" font-size="19.5" text-anchor="middle" font-family="'Liberation Sans', Arial, sans-serif" fill="#000" >log(C3b/iC3b+1)</text>
<text x="113.3" y="1219" font-size="19.5" text-anchor="middle" font-family="'Liberation Sans', Arial, sans-serif" transform="rotate(-90 113.3 1219)">predicted log(C3b/iC3b+1)</text>
<polygon points="186.2,1320.7 198.4,1314.4 210.6,1307.9 222.7,1301.4 234.9,1294.8 247.1,1287.9 259.3,1280.9 271.5,1273.7 283.7,1266.2 295.8,1258.6 308.0,1250.8 320.2,1243.0 332.4,1235.0 344.6,1227.1 356.8,1219.1 368.9,1211.0 381.1,1202.9 393.3,1194.9 405.5,1186.8 417.7,1178.6 429.9,1170.5 442.0,1162.4 454.2,1154.3 466.4,1146.1 478.6,1138.0 490.8,1129.8 502.9,1121.7 515.1,1113.5 527.3,1105.4 539.5,1097.2 551.7,1089.1 563.9,1080.9 576.0,1072.7 588.2,1064.6 600.4,1056.4 612.6,1048.2 624.8,1040.1 637.0,1031.9 649.1,1023.7 661.3,1015.6 673.5,1007.4 673.5,1079.4 661.3,1085.5 649.1,1091.6 637.0,1097.7 624.8,1103.8 612.6,1109.9 600.4,1116.0 588.2,1122.1 576.0,1128.2 563.9,1134.3 551.7,1140.4 539.5,1146.5 527.3,1152.6 515.1,1158.7 502.9,1164.8 490.8,1170.9 478.6,1177.1 466.4,1183.2 454.2,1189.3 442.0,1195.4 429.9,1201.6 417.7,1207.7 405.5,1213.9 393.3,1220.0 381.1,1226.2 368.9,1232.4 356.8,1238.6 344.6,1244.9 332.4,1251.2 320.2,1257.5 308.0,1263.9 295.8,1270.4 283.7,1277.1 271.5,1283.9 259.3,1290.9 247.1,1298.1 234.9,1305.6 222.7,1313.2 210.6,1320.9 198.4,1328.8 186.2,1336.7" fill="#d6d6d6" fill-opacity="0.42"/>
<circle cx="253.7" cy="1124.2" r="2.3" fill="#0e8c18"/>
<circle cx="259.4" cy="1125.7" r="2.3" fill="#0e8c18"/>
<circle cx="282.9" cy="1133.6" r="2.3" fill="#0e8c18"/>
<circle cx="281.6" cy="1154.3" r="2.3" fill="#0e8c18"/>
<circle cx="305.9" cy="1153.4" r="2.3" fill="#0e8c18"/>
<circle cx="335.5" cy="1156.7" r="2.3" fill="#0e8c18"/>
<circle cx="188.6" cy="1163.0" r="2.3" fill="#0e8c18"/>
<circle cx="244.0" cy="1164.6" r="2.3" fill="#0e8c18"/>
<circle cx="263.7" cy="1170.9" r="2.3" fill="#0e8c18"/>
<circle cx="278.0" cy="1172.7" r="2.3" fill="#0e8c18"/>
<circle cx="344.4" cy="1172.2" r="2.3" fill="#0e8c18"/>
<circle cx="348.2" cy="1175.6" r="2.3" fill="#0e8c18"/>
<circle cx="356.9" cy="1168.1" r="2.3" fill="#0e8c18"/>
<circle cx="360.7" cy="1177.3" r="2.3" fill="#0e8c18"/>
<circle cx="244.0" cy="1184.5" r="2.3" fill="#0e8c18"/>
<circle cx="307.6" cy="1186.5" r="2.3" fill="#0e8c18"/>
<circle cx="276.5" cy="1190.1" r="2.3" fill="#0e8c18"/>
<circle cx="223.3" cy="1192.1" r="2.3" fill="#0e8c18"/>
<circle cx="254.8" cy="1198.3" r="2.3" fill="#0e8c18"/>
<circle cx="289.8" cy="1197.0" r="2.3" fill="#0e8c18"/>
<circle cx="334.9" cy="1198.3" r="2.3" fill="#0e8c18"/>
<circle cx="361.8" cy="1200.3" r="2.3" fill="#0e8c18"/>
<circle cx="368.7" cy="1200.8" r="2.3" fill="#0e8c18"/>
<circle cx="375.1" cy="1201.9" r="2.3" fill="#0e8c18"/>
<circle cx="406.2" cy="1195.8" r="2.3" fill="#0e8c18"/>
<circle cx="414.2" cy="1199.3" r="2.3" fill="#0e8c18"/>
<circle cx="301.7" cy="1204.7" r="2.3" fill="#0e8c18"/>
<circle cx="439.4" cy="1192.6" r="2.3" fill="#0e8c18"/>
<circle cx="449.7" cy="1188.9" r="2.3" fill="#0e8c18"/>
<circle cx="460.4" cy="1190.3" r="2.3" fill="#0e8c18"/>
<circle cx="188.6" cy="1218.7" r="2.3" fill="#0e8c18"/>
<circle cx="196.3" cy="1225.2" r="2.3" fill="#0e8c18"/>
<circle cx="196.3" cy="1226.9" r="2.3" fill="#0e8c18"/>
<circle cx="266.3" cy="1212.6" r="2.3" fill="#0e8c18"/>
<circle cx="274.5" cy="1217.8" r="2.3" fill="#0e8c18"/>
<circle cx="342.1" cy="1209.0" r="2.3" fill="#0e8c18"/>
<circle cx="364.6" cy="1208.8" r="2.3" fill="#0e8c18"/>
<circle cx="378.7" cy="1209.9" r="2.3" fill="#0e8c18"/>
<circle cx="420.1" cy="1220.8" r="2.3" fill="#0e8c18"/>
<circle cx="274.9" cy="1224.9" r="2.3" fill="#0e8c18"/>
<circle cx="278.0" cy="1231.1" r="2.3" fill="#0e8c18"/>
<circle cx="257.9" cy="1231.5" r="2.3" fill="#0e8c18"/>
<circle cx="307.7" cy="1230.5" r="2.3" fill="#0e8c18"/>
<circle cx="337.5" cy="1229.7" r="2.3" fill="#0e8c18"/>
<circle cx="356.9" cy="1225.4" r="2.3" fill="#0e8c18"/>
<circle cx="366.7" cy="1231.1" r="2.3" fill="#0e8c18"/>
<circle cx="255.0" cy="1236.7" r="2.3" fill="#0e8c18"/>
<circle cx="267.6" cy="1235.6" r="2.3" fill="#0e8c18"/>
<circle cx="271.8" cy="1234.3" r="2.3" fill="#0e8c18"/>
<circle cx="277.8" cy="1236.1" r="2.3" fill="#0e8c18"/>
<circle cx="272.1" cy="1240.2" r="2.3" fill="#0e8c18"/>
<circle cx="299.9" cy="1237.1" r="2.3" fill="#0e8c18"/>
<circle cx="298.0" cy="1239.2" r="2.3" fill="#0e8c18"/>
<circle cx="296.4" cy="1241.3" r="2.3" fill="#0e8c18"/>
<circle cx="316.0" cy="1240.7" r="2.3" fill="#0e8c18"/>
<circle cx="193.9" cy="1247.4" r="2.3" fill="#0e8c18"/>
<circle cx="249.2" cy="1246.9" r="2.3" fill="#0e8c18"/>
<circle cx="276.4" cy="1247.9" r="2.3" fill="#0e8c18"/>
<circle cx="287.5" cy="1244.1" r="2.3" fill="#0e8c18"/>
<circle cx="289.3" cy="1244.8" r="2.3" fill="#0e8c18"/>
<circle cx="307.1" cy="1243.5" r="2.3" fill="#0e8c18"/>
<circle cx="396.0" cy="1243.6" r="2.3" fill="#0e8c18"/>
<circle cx="289.8" cy="1250.4" r="2.3" fill="#0e8c18"/>
<circle cx="292.0" cy="1250.4" r="2.3" fill="#0e8c18"/>
<circle cx="301.7" cy="1248.1" r="2.3" fill="#0e8c18"/>
<circle cx="305.3" cy="1251.7" r="2.3" fill="#0e8c18"/>
<circle cx="322.4" cy="1252.3" r="2.3" fill="#0e8c18"/>
<circle cx="390.9" cy="1249.5" r="2.3" fill="#0e8c18"/>
<circle cx="394.2" cy="1255.6" r="2.3" fill="#0e8c18"/>
<circle cx="253.7" cy="1254.8" r="2.3" fill="#0e8c18"/>
<circle cx="259.9" cy="1253.2" r="2.3" fill="#0e8c18"/>
<circle cx="261.1" cy="1255.5" r="2.3" fill="#0e8c18"/>
<circle cx="272.2" cy="1255.3" r="2.3" fill="#0e8c18"/>
<circle cx="272.4" cy="1257.6" r="2.3" fill="#0e8c18"/>
<circle cx="282.4" cy="1255.3" r="2.3" fill="#0e8c18"/>
<circle cx="297.7" cy="1255.0" r="2.3" fill="#0e8c18"/>
<circle cx="297.2" cy="1256.6" r="2.3" fill="#0e8c18"/>
<circle cx="193.9" cy="1264.5" r="2.3" fill="#0e8c18"/>
<circle cx="223.3" cy="1264.8" r="2.3" fill="#0e8c18"/>
<circle cx="289.8" cy="1261.9" r="2.3" fill="#0e8c18"/>
<circle cx="303.5" cy="1261.9" r="2.3" fill="#0e8c18"/>
<circle cx="382.7" cy="1261.5" r="2.3" fill="#0e8c18"/>
<circle cx="188.6" cy="1268.9" r="2.3" fill="#0e8c18"/>
<circle cx="188.6" cy="1270.4" r="2.3" fill="#0e8c18"/>
<circle cx="265.5" cy="1266.8" r="2.3" fill="#0e8c18"/>
<circle cx="276.4" cy="1265.2" r="2.3" fill="#0e8c18"/>
<circle cx="263.5" cy="1270.1" r="2.3" fill="#0e8c18"/>
<circle cx="291.1" cy="1267.3" r="2.3" fill="#0e8c18"/>
<circle cx="328.6" cy="1266.6" r="2.3" fill="#0e8c18"/>
<circle cx="194.7" cy="1272.7" r="2.3" fill="#0e8c18"/>
<circle cx="196.2" cy="1275.0" r="2.3" fill="#0e8c18"/>
<circle cx="220.1" cy="1273.9" r="2.3" fill="#0e8c18"/>
<circle cx="258.1" cy="1274.2" r="2.3" fill="#0e8c18"/>
<circle cx="262.4" cy="1274.7" r="2.3" fill="#0e8c18"/>
<circle cx="271.4" cy="1273.7" r="2.3" fill="#0e8c18"/>
<circle cx="190.7" cy="1277.0" r="2.3" fill="#0e8c18"/>
<circle cx="317.4" cy="1275.7" r="2.3" fill="#0e8c18"/>
<circle cx="328.9" cy="1273.9" r="2.3" fill="#0e8c18"/>
<circle cx="253.0" cy="1279.6" r="2.3" fill="#0e8c18"/>
<circle cx="258.3" cy="1281.9" r="2.3" fill="#0e8c18"/>
<circle cx="276.0" cy="1282.6" r="2.3" fill="#0e8c18"/>
<circle cx="280.5" cy="1280.3" r="2.3" fill="#0e8c18"/>
<circle cx="280.0" cy="1281.6" r="2.3" fill="#0e8c18"/>
<circle cx="291.5" cy="1279.8" r="2.3" fill="#0e8c18"/>
<circle cx="297.7" cy="1281.8" r="2.3" fill="#0e8c18"/>
<circle cx="194.2" cy="1283.6" r="2.3" fill="#0e8c18"/>
<circle cx="293.1" cy="1284.1" r="2.3" fill="#0e8c18"/>
<circle cx="306.1" cy="1284.4" r="2.3" fill="#0e8c18"/>
<circle cx="381.4" cy="1280.9" r="2.3" fill="#0e8c18"/>
<circle cx="188.6" cy="1289.5" r="2.3" fill="#0e8c18"/>
<circle cx="188.6" cy="1290.6" r="2.3" fill="#0e8c18"/>
<circle cx="245.1" cy="1286.0" r="2.3" fill="#0e8c18"/>
<circle cx="257.0" cy="1289.0" r="2.3" fill="#0e8c18"/>
<circle cx="278.0" cy="1287.8" r="2.3" fill="#0e8c18"/>
<circle cx="296.1" cy="1288.8" r="2.3" fill="#0e8c18"/>
<circle cx="332.9" cy="1290.1" r="2.3" fill="#0e8c18"/>
<circle cx="360.0" cy="1292.1" r="2.3" fill="#0e8c18"/>
<circle cx="369.0" cy="1294.1" r="2.3" fill="#0e8c18"/>
<circle cx="424.1" cy="1291.0" r="2.3" fill="#0e8c18"/>
<circle cx="234.6" cy="1293.1" r="2.3" fill="#0e8c18"/>
<circle cx="234.9" cy="1294.9" r="2.3" fill="#0e8c18"/>
<circle cx="267.1" cy="1294.7" r="2.3" fill="#0e8c18"/>
<circle cx="270.1" cy="1290.6" r="2.3" fill="#0e8c18"/>
<circle cx="286.4" cy="1293.6" r="2.3" fill="#0e8c18"/>
<circle cx="288.2" cy="1294.2" r="2.3" fill="#0e8c18"/>
<circle cx="188.6" cy="1298.0" r="2.3" fill="#0e8c18"/>
<circle cx="188.6" cy="1300.0" r="2.3" fill="#0e8c18"/>
<circle cx="238.9" cy="1299.3" r="2.3" fill="#0e8c18"/>
<circle cx="249.2" cy="1297.4" r="2.3" fill="#0e8c18"/>
<circle cx="256.6" cy="1298.7" r="2.3" fill="#0e8c18"/>
<circle cx="317.4" cy="1299.8" r="2.3" fill="#0e8c18"/>
<circle cx="188.6" cy="1303.5" r="2.3" fill="#0e8c18"/>
<circle cx="207.8" cy="1303.8" r="2.3" fill="#0e8c18"/>
<circle cx="213.1" cy="1300.7" r="2.3" fill="#0e8c18"/>
<circle cx="188.6" cy="1305.9" r="2.3" fill="#0e8c18"/>
<circle cx="189.9" cy="1307.9" r="2.3" fill="#0e8c18"/>
<circle cx="218.3" cy="1306.2" r="2.3" fill="#0e8c18"/>
<circle cx="238.6" cy="1303.0" r="2.3" fill="#0e8c18"/>
<circle cx="241.2" cy="1308.2" r="2.3" fill="#0e8c18"/>
<circle cx="250.6" cy="1306.7" r="2.3" fill="#0e8c18"/>
<circle cx="267.1" cy="1305.3" r="2.3" fill="#0e8c18"/>
<circle cx="277.3" cy="1301.8" r="2.3" fill="#0e8c18"/>
<circle cx="188.6" cy="1311.2" r="2.3" fill="#0e8c18"/>
<circle cx="188.6" cy="1313.8" r="2.3" fill="#0e8c18"/>
<circle cx="193.9" cy="1312.0" r="2.3" fill="#0e8c18"/>
<circle cx="196.5" cy="1310.5" r="2.3" fill="#0e8c18"/>
<circle cx="223.4" cy="1312.2" r="2.3" fill="#0e8c18"/>
<circle cx="247.8" cy="1311.2" r="2.3" fill="#0e8c18"/>
<circle cx="253.3" cy="1311.7" r="2.3" fill="#0e8c18"/>
<circle cx="266.0" cy="1311.2" r="2.3" fill="#0e8c18"/>
<circle cx="313.7" cy="1310.7" r="2.3" fill="#0e8c18"/>
<circle cx="315.3" cy="1309.2" r="2.3" fill="#0e8c18"/>
<circle cx="329.3" cy="1311.2" r="2.3" fill="#0e8c18"/>
<circle cx="335.2" cy="1306.7" r="2.3" fill="#0e8c18"/>
<circle cx="333.7" cy="1313.6" r="2.3" fill="#0e8c18"/>
<circle cx="193.5" cy="1321.0" r="2.3" fill="#0e8c18"/>
<circle cx="188.6" cy="1321.0" r="2.3" fill="#0e8c18"/>
<circle cx="250.6" cy="1316.6" r="2.3" fill="#0e8c18"/>
<circle cx="258.3" cy="1314.8" r="2.3" fill="#0e8c18"/>
<circle cx="280.6" cy="1317.9" r="2.3" fill="#0e8c18"/>
<circle cx="301.2" cy="1317.6" r="2.3" fill="#0e8c18"/>
<circle cx="309.2" cy="1316.4" r="2.3" fill="#0e8c18"/>
<circle cx="320.1" cy="1317.3" r="2.3" fill="#0e8c18"/>
<circle cx="356.9" cy="1316.3" r="2.3" fill="#0e8c18"/>
<circle cx="207.7" cy="1324.0" r="2.3" fill="#0e8c18"/>
<circle cx="229.7" cy="1323.7" r="2.3" fill="#0e8c18"/>
<circle cx="250.4" cy="1323.8" r="2.3" fill="#0e8c18"/>
<circle cx="255.0" cy="1324.0" r="2.3" fill="#0e8c18"/>
<circle cx="265.7" cy="1321.0" r="2.3" fill="#0e8c18"/>
<circle cx="267.1" cy="1319.9" r="2.3" fill="#0e8c18"/>
<circle cx="268.5" cy="1320.5" r="2.3" fill="#0e8c18"/>
<circle cx="270.1" cy="1321.0" r="2.3" fill="#0e8c18"/>
<circle cx="271.4" cy="1320.7" r="2.3" fill="#0e8c18"/>
<circle cx="287.9" cy="1320.9" r="2.3" fill="#0e8c18"/>
<circle cx="333.0" cy="1321.9" r="2.3" fill="#0e8c18"/>
<circle cx="193.9" cy="1326.5" r="2.3" fill="#0e8c18"/>
<circle cx="188.6" cy="1329.3" r="2.3" fill="#0e8c18"/>
<circle cx="220.1" cy="1329.3" r="2.3" fill="#0e8c18"/>
<circle cx="222.3" cy="1327.1" r="2.3" fill="#0e8c18"/>
<circle cx="231.7" cy="1327.3" r="2.3" fill="#0e8c18"/>
<circle cx="235.8" cy="1328.6" r="2.3" fill="#0e8c18"/>
<circle cx="261.4" cy="1327.3" r="2.3" fill="#0e8c18"/>
<circle cx="272.4" cy="1325.3" r="2.3" fill="#0e8c18"/>
<circle cx="277.3" cy="1325.5" r="2.3" fill="#0e8c18"/>
<circle cx="282.9" cy="1326.5" r="2.3" fill="#0e8c18"/>
<circle cx="305.9" cy="1325.1" r="2.3" fill="#0e8c18"/>
<circle cx="307.6" cy="1328.3" r="2.3" fill="#0e8c18"/>
<circle cx="313.7" cy="1330.9" r="2.3" fill="#0e8c18"/>
<circle cx="314.1" cy="1333.4" r="2.3" fill="#0e8c18"/>
<circle cx="189.7" cy="1336.3" r="2.3" fill="#0e8c18"/>
<circle cx="228.9" cy="1335.2" r="2.3" fill="#0e8c18"/>
<circle cx="231.7" cy="1338.6" r="2.3" fill="#0e8c18"/>
<circle cx="259.6" cy="1335.2" r="2.3" fill="#0e8c18"/>
<circle cx="262.4" cy="1331.7" r="2.3" fill="#0e8c18"/>
<circle cx="276.7" cy="1334.0" r="2.3" fill="#0e8c18"/>
<circle cx="281.8" cy="1337.6" r="2.3" fill="#0e8c18"/>
<circle cx="283.6" cy="1336.3" r="2.3" fill="#0e8c18"/>
<circle cx="297.1" cy="1337.8" r="2.3" fill="#0e8c18"/>
<circle cx="312.5" cy="1336.8" r="2.3" fill="#0e8c18"/>
<circle cx="422.9" cy="1335.8" r="2.3" fill="#0e8c18"/>
<circle cx="188.6" cy="1344.9" r="2.3" fill="#0e8c18"/>
<circle cx="193.9" cy="1346.5" r="2.3" fill="#0e8c18"/>
<circle cx="193.9" cy="1349.0" r="2.3" fill="#0e8c18"/>
<circle cx="193.9" cy="1350.6" r="2.3" fill="#0e8c18"/>
<circle cx="223.3" cy="1344.9" r="2.3" fill="#0e8c18"/>
<circle cx="225.1" cy="1349.3" r="2.3" fill="#0e8c18"/>
<circle cx="231.7" cy="1346.0" r="2.3" fill="#0e8c18"/>
<circle cx="239.0" cy="1344.4" r="2.3" fill="#0e8c18"/>
<circle cx="248.2" cy="1345.0" r="2.3" fill="#0e8c18"/>
<circle cx="253.0" cy="1349.0" r="2.3" fill="#0e8c18"/>
<circle cx="256.6" cy="1345.0" r="2.3" fill="#0e8c18"/>
<circle cx="258.3" cy="1347.8" r="2.3" fill="#0e8c18"/>
<circle cx="275.0" cy="1341.1" r="2.3" fill="#0e8c18"/>
<circle cx="327.3" cy="1341.3" r="2.3" fill="#0e8c18"/>
<circle cx="188.6" cy="1351.4" r="2.3" fill="#0e8c18"/>
<circle cx="188.6" cy="1353.6" r="2.3" fill="#0e8c18"/>
<circle cx="188.6" cy="1355.9" r="2.3" fill="#0e8c18"/>
<circle cx="193.9" cy="1354.4" r="2.3" fill="#0e8c18"/>
<circle cx="234.6" cy="1350.9" r="2.3" fill="#0e8c18"/>
<circle cx="234.6" cy="1353.4" r="2.3" fill="#0e8c18"/>
<circle cx="240.0" cy="1351.1" r="2.3" fill="#0e8c18"/>
<circle cx="240.0" cy="1353.6" r="2.3" fill="#0e8c18"/>
<circle cx="284.1" cy="1352.6" r="2.3" fill="#0e8c18"/>
<circle cx="207.7" cy="1358.0" r="2.3" fill="#0e8c18"/>
<circle cx="207.7" cy="1360.5" r="2.3" fill="#0e8c18"/>
<circle cx="213.1" cy="1359.7" r="2.3" fill="#0e8c18"/>
<circle cx="213.1" cy="1361.3" r="2.3" fill="#0e8c18"/>
<circle cx="239.0" cy="1359.3" r="2.3" fill="#0e8c18"/>
<circle cx="243.0" cy="1357.0" r="2.3" fill="#0e8c18"/>
<circle cx="256.6" cy="1354.9" r="2.3" fill="#0e8c18"/>
<circle cx="257.8" cy="1356.5" r="2.3" fill="#0e8c18"/>
<circle cx="259.4" cy="1361.0" r="2.3" fill="#0e8c18"/>
<circle cx="257.9" cy="1360.8" r="2.3" fill="#0e8c18"/>
<circle cx="269.8" cy="1358.7" r="2.3" fill="#0e8c18"/>
<circle cx="272.7" cy="1353.4" r="2.3" fill="#0e8c18"/>
<circle cx="276.7" cy="1355.7" r="2.3" fill="#0e8c18"/>
<circle cx="300.5" cy="1357.0" r="2.3" fill="#0e8c18"/>
<circle cx="310.9" cy="1362.5" r="2.3" fill="#0e8c18"/>
<circle cx="321.4" cy="1364.8" r="2.3" fill="#0e8c18"/>
<circle cx="194.2" cy="1364.6" r="2.3" fill="#0e8c18"/>
<circle cx="193.7" cy="1368.0" r="2.3" fill="#0e8c18"/>
<circle cx="196.6" cy="1369.2" r="2.3" fill="#0e8c18"/>
<circle cx="223.3" cy="1369.2" r="2.3" fill="#0e8c18"/>
<circle cx="240.0" cy="1366.2" r="2.3" fill="#0e8c18"/>
<circle cx="240.0" cy="1367.7" r="2.3" fill="#0e8c18"/>
<circle cx="253.0" cy="1368.4" r="2.3" fill="#0e8c18"/>
<circle cx="255.0" cy="1365.2" r="2.3" fill="#0e8c18"/>
<circle cx="265.7" cy="1363.9" r="2.3" fill="#0e8c18"/>
<circle cx="267.1" cy="1365.4" r="2.3" fill="#0e8c18"/>
<circle cx="188.6" cy="1371.2" r="2.3" fill="#0e8c18"/>
<circle cx="188.6" cy="1373.6" r="2.3" fill="#0e8c18"/>
<circle cx="188.6" cy="1376.9" r="2.3" fill="#0e8c18"/>
<circle cx="188.6" cy="1379.4" r="2.3" fill="#0e8c18"/>
<circle cx="193.9" cy="1373.6" r="2.3" fill="#0e8c18"/>
<circle cx="193.9" cy="1375.3" r="2.3" fill="#0e8c18"/>
<circle cx="235.3" cy="1374.0" r="2.3" fill="#0e8c18"/>
<circle cx="243.0" cy="1371.7" r="2.3" fill="#0e8c18"/>
<circle cx="262.5" cy="1371.0" r="2.3" fill="#0e8c18"/>
<circle cx="193.9" cy="1381.5" r="2.3" fill="#0e8c18"/>
<circle cx="226.2" cy="1379.5" r="2.3" fill="#0e8c18"/>
<circle cx="271.6" cy="1378.6" r="2.3" fill="#0e8c18"/>
<circle cx="288.2" cy="1376.9" r="2.3" fill="#0e8c18"/>
<circle cx="188.6" cy="1388.7" r="2.3" fill="#0e8c18"/>
<circle cx="193.9" cy="1391.7" r="2.3" fill="#0e8c18"/>
<circle cx="197.8" cy="1388.7" r="2.3" fill="#0e8c18"/>
<circle cx="193.9" cy="1394.7" r="2.3" fill="#0e8c18"/>
<circle cx="213.7" cy="1387.1" r="2.3" fill="#0e8c18"/>
<circle cx="262.5" cy="1392.5" r="2.3" fill="#0e8c18"/>
<circle cx="274.7" cy="1394.5" r="2.3" fill="#0e8c18"/>
<circle cx="280.0" cy="1396.0" r="2.3" fill="#0e8c18"/>
<circle cx="256.6" cy="1401.4" r="2.3" fill="#0e8c18"/>
<circle cx="230.3" cy="1404.8" r="2.3" fill="#0e8c18"/>
<circle cx="449.1" cy="1231.3" r="2.3" fill="#0e8c18"/>
<circle cx="446.3" cy="1252.2" r="2.3" fill="#0e8c18"/>
<circle cx="248.7" cy="1054.8" r="2.3" fill="#f3281c"/>
<circle cx="289.8" cy="1089.7" r="2.3" fill="#f3281c"/>
<circle cx="271.1" cy="1098.2" r="2.3" fill="#f3281c"/>
<circle cx="355.6" cy="1086.9" r="2.3" fill="#f3281c"/>
<circle cx="371.7" cy="1092.8" r="2.3" fill="#f3281c"/>
<circle cx="369.7" cy="1097.6" r="2.3" fill="#f3281c"/>
<circle cx="425.6" cy="1107.6" r="2.3" fill="#f3281c"/>
<circle cx="402.4" cy="1112.9" r="2.3" fill="#f3281c"/>
<circle cx="410.1" cy="1117.6" r="2.3" fill="#f3281c"/>
<circle cx="322.7" cy="1116.5" r="2.3" fill="#f3281c"/>
<circle cx="286.2" cy="1121.9" r="2.3" fill="#f3281c"/>
<circle cx="264.7" cy="1126.0" r="2.3" fill="#f3281c"/>
<circle cx="270.4" cy="1135.5" r="2.3" fill="#f3281c"/>
<circle cx="362.8" cy="1133.7" r="2.3" fill="#f3281c"/>
<circle cx="275.9" cy="1151.1" r="2.3" fill="#f3281c"/>
<circle cx="370.5" cy="1151.8" r="2.3" fill="#f3281c"/>
<circle cx="373.3" cy="1153.0" r="2.3" fill="#f3281c"/>
<circle cx="263.9" cy="1161.3" r="2.3" fill="#f3281c"/>
<circle cx="274.1" cy="1162.0" r="2.3" fill="#f3281c"/>
<circle cx="314.1" cy="1161.3" r="2.3" fill="#f3281c"/>
<circle cx="358.4" cy="1161.2" r="2.3" fill="#f3281c"/>
<circle cx="429.2" cy="1163.0" r="2.3" fill="#f3281c"/>
<circle cx="292.0" cy="1172.0" r="2.3" fill="#f3281c"/>
<circle cx="327.3" cy="1172.8" r="2.3" fill="#f3281c"/>
<circle cx="385.5" cy="1173.5" r="2.3" fill="#f3281c"/>
<circle cx="413.7" cy="1169.7" r="2.3" fill="#f3281c"/>
<circle cx="423.8" cy="1166.6" r="2.3" fill="#f3281c"/>
<circle cx="295.7" cy="1180.2" r="2.3" fill="#f3281c"/>
<circle cx="269.9" cy="1184.7" r="2.3" fill="#f3281c"/>
<circle cx="278.7" cy="1183.0" r="2.3" fill="#f3281c"/>
<circle cx="298.5" cy="1187.1" r="2.3" fill="#f3281c"/>
<circle cx="301.0" cy="1191.6" r="2.3" fill="#f3281c"/>
<circle cx="358.5" cy="1182.4" r="2.3" fill="#f3281c"/>
<circle cx="379.1" cy="1185.7" r="2.3" fill="#f3281c"/>
<circle cx="391.7" cy="1185.0" r="2.3" fill="#f3281c"/>
<circle cx="423.1" cy="1182.5" r="2.3" fill="#f3281c"/>
<circle cx="337.3" cy="1192.9" r="2.3" fill="#f3281c"/>
<circle cx="348.8" cy="1195.5" r="2.3" fill="#f3281c"/>
<circle cx="258.3" cy="1196.7" r="2.3" fill="#f3281c"/>
<circle cx="381.9" cy="1199.3" r="2.3" fill="#f3281c"/>
<circle cx="280.0" cy="1204.9" r="2.3" fill="#f3281c"/>
<circle cx="434.4" cy="1081.3" r="2.3" fill="#f3281c"/>
<circle cx="433.5" cy="1091.8" r="2.3" fill="#f3281c"/>
<circle cx="440.5" cy="1104.8" r="2.3" fill="#f3281c"/>
<circle cx="459.4" cy="1106.6" r="2.3" fill="#f3281c"/>
<circle cx="459.4" cy="1111.4" r="2.3" fill="#f3281c"/>
<circle cx="443.5" cy="1180.2" r="2.3" fill="#f3281c"/>
<circle cx="608.1" cy="1156.9" r="2.3" fill="#f3281c"/>
<circle cx="674.2" cy="1173.0" r="2.3" fill="#f3281c"/>
<circle cx="438.7" cy="1202.6" r="2.3" fill="#f3281c"/>
<circle cx="443.1" cy="1204.1" r="2.3" fill="#f3281c"/>
<circle cx="294.3" cy="1212.2" r="2.3" fill="#f3281c"/>
<circle cx="276.7" cy="1218.5" r="2.3" fill="#f3281c"/>
<circle cx="280.6" cy="1224.1" r="2.3" fill="#f3281c"/>
<circle cx="296.4" cy="1223.1" r="2.3" fill="#f3281c"/>
<circle cx="365.8" cy="1212.2" r="2.3" fill="#f3281c"/>
<circle cx="363.1" cy="1215.5" r="2.3" fill="#f3281c"/>
<circle cx="277.5" cy="1235.6" r="2.3" fill="#f3281c"/>
<circle cx="273.1" cy="1239.7" r="2.3" fill="#f3281c"/>
<circle cx="337.5" cy="1236.7" r="2.3" fill="#f3281c"/>
<circle cx="357.7" cy="1232.8" r="2.3" fill="#f3281c"/>
<circle cx="373.1" cy="1244.3" r="2.3" fill="#f3281c"/>
<circle cx="281.6" cy="1253.7" r="2.3" fill="#f3281c"/>
<circle cx="292.1" cy="1258.1" r="2.3" fill="#f3281c"/>
<circle cx="327.5" cy="1261.5" r="2.3" fill="#f3281c"/>
<circle cx="336.5" cy="1261.4" r="2.3" fill="#f3281c"/>
<circle cx="263.2" cy="1268.1" r="2.3" fill="#f3281c"/>
<circle cx="266.0" cy="1277.2" r="2.3" fill="#f3281c"/>
<circle cx="358.4" cy="1269.3" r="2.3" fill="#f3281c"/>
<circle cx="327.3" cy="1269.9" r="2.3" fill="#f3281c"/>
<circle cx="301.7" cy="1274.9" r="2.3" fill="#f3281c"/>
<circle cx="337.3" cy="1274.2" r="2.3" fill="#f3281c"/>
<circle cx="196.0" cy="1280.4" r="2.3" fill="#f3281c"/>
<circle cx="193.9" cy="1285.0" r="2.3" fill="#f3281c"/>
<circle cx="222.8" cy="1289.0" r="2.3" fill="#f3281c"/>
<circle cx="246.1" cy="1287.5" r="2.3" fill="#f3281c"/>
<circle cx="336.2" cy="1283.9" r="2.3" fill="#f3281c"/>
<circle cx="344.9" cy="1286.5" r="2.3" fill="#f3281c"/>
<circle cx="275.5" cy="1296.9" r="2.3" fill="#f3281c"/>
<circle cx="205.9" cy="1315.3" r="2.3" fill="#f3281c"/>
<circle cx="410.1" cy="1315.0" r="2.3" fill="#f3281c"/>
<line x1="186.2" y1="1328.7" x2="673.5" y2="1043.4" stroke="#1f6fe6" stroke-width="2.3"/>
<rect x="572" y="1354" width="120" height="67" fill="#fdfdfd"/>
<circle cx="590.3" cy="1371.6" r="4" fill="#f3281c"/>
<circle cx="590.3" cy="1401.4" r="4" fill="#0e8c18"/>
<text x="614.8" y="1377.0" font-size="15" text-anchor="start" font-family="'Liberation Sans', Arial, sans-serif" fill="#000" >LDepleted</text>
<text x="614.8" y="1407.0" font-size="15" text-anchor="start" font-family="'Liberation Sans', Arial, sans-serif" fill="#000" >LDominant</text>
<rect x="755" y="989" width="146" height="437" fill="#fcfcfc"/>
<line x1="755" y1="1406.3" x2="901" y2="1406.3" stroke="#fff" stroke-width="1.4"/>
<line x1="755" y1="1362.5" x2="901" y2="1362.5" stroke="#fff" stroke-width="1.4"/>
<line x1="755" y1="1318.7" x2="901" y2="1318.7" stroke="#fff" stroke-width="1.4"/>
<line x1="755" y1="1274.9" x2="901" y2="1274.9" stroke="#fff" stroke-width="1.4"/>
<line x1="755" y1="1231.1" x2="901" y2="1231.1" stroke="#fff" stroke-width="1.4"/>
<line x1="755" y1="1187.3" x2="901" y2="1187.3" stroke="#fff" stroke-width="1.4"/>
<line x1="755" y1="1143.6" x2="901" y2="1143.6" stroke="#fff" stroke-width="1.4"/>
<line x1="755" y1="1099.8" x2="901" y2="1099.8" stroke="#fff" stroke-width="1.4"/>
<line x1="755" y1="1056.0" x2="901" y2="1056.0" stroke="#fff" stroke-width="1.4"/>
<line x1="755" y1="1012.2" x2="901" y2="1012.2" stroke="#fff" stroke-width="1.4"/>
<line x1="794.3" y1="989" x2="794.3" y2="1426" stroke="#fff" stroke-width="1.4"/>
<line x1="861.7" y1="989" x2="861.7" y2="1426" stroke="#fff" stroke-width="1.4"/>
<line x1="752.8" y1="1012.2" x2="755" y2="1012.2" stroke="#888" stroke-width="1"/>
<text x="748.4" y="1018.6" font-size="20" text-anchor="end" font-family="'Liberation Sans', Arial, sans-serif" fill="#000" >6</text>
<line x1="752.8" y1="1099.8" x2="755" y2="1099.8" stroke="#888" stroke-width="1"/>
<text x="748.4" y="1106.2" font-size="20" text-anchor="end" font-family="'Liberation Sans', Arial, sans-serif" fill="#000" >5</text>
<line x1="752.8" y1="1187.3" x2="755" y2="1187.3" stroke="#888" stroke-width="1"/>
<text x="748.4" y="1193.8" font-size="20" text-anchor="end" font-family="'Liberation Sans', Arial, sans-serif" fill="#000" >4</text>
<line x1="752.8" y1="1274.9" x2="755" y2="1274.9" stroke="#888" stroke-width="1"/>
<text x="748.4" y="1281.3" font-size="20" text-anchor="end" font-family="'Liberation Sans', Arial, sans-serif" fill="#000" >3</text>
<line x1="752.8" y1="1362.5" x2="755" y2="1362.5" stroke="#888" stroke-width="1"/>
<text x="748.4" y="1368.9" font-size="20" text-anchor="end" font-family="'Liberation Sans', Arial, sans-serif" fill="#000" >2</text>
<line x1="794.3" y1="1426" x2="794.3" y2="1428.2" stroke="#888" stroke-width="1"/>
<text x="794.3" y="1446.0" font-size="16" text-anchor="middle" font-family="'Liberation Sans', Arial, sans-serif" fill="#000" >LDep</text>
<line x1="861.7" y1="1426" x2="861.7" y2="1428.2" stroke="#888" stroke-width="1"/>
<text x="861.7" y="1446.0" font-size="16" text-anchor="middle" font-family="'Liberation Sans', Arial, sans-serif" fill="#000" >LDom</text>
<polyline points="794.3,1018.6 794.3,1007.9 861.7,1007.9 861.7,1018.6" fill="none" stroke="#555" stroke-width="1.3"/>
<text x="772" y="979" font-size="19" font-family="'Liberation Sans', Arial, sans-serif">p &lt; 2.2 x 10<tspan font-size="12" dy="-6.5">-16</tspan></text>
<line x1="794.3" y1="1027.6" x2="794.3" y2="1310.2" stroke="#666" stroke-width="1.05"/>
<rect x="769.0" y="1132.4" width="50.6" height="95.2" fill="#fba4a2" stroke="#555" stroke-width="1.05"/>
<line x1="861.7" y1="1102.6" x2="861.7" y2="1406.7" stroke="#666" stroke-width="1.05"/>
<rect x="836.4" y="1241.7" width="50.6" height="101.9" fill="#a2d2a2" stroke="#555" stroke-width="1.05"/>
<circle cx="811.9" cy="1299.0" r="2.3" fill="#f3281c"/>
<circle cx="813.4" cy="1289.6" r="2.3" fill="#f3281c"/>
<circle cx="803.1" cy="1279.0" r="2.3" fill="#f3281c"/>
<circle cx="783.0" cy="1276.7" r="2.3" fill="#f3281c"/>
<circle cx="781.0" cy="1269.5" r="2.3" fill="#f3281c"/>
<circle cx="783.6" cy="1266.0" r="2.3" fill="#f3281c"/>
<circle cx="792.2" cy="1263.2" r="2.3" fill="#f3281c"/>
<circle cx="776.6" cy="1257.9" r="2.3" fill="#f3281c"/>
<circle cx="791.5" cy="1256.1" r="2.3" fill="#f3281c"/>
<circle cx="782.1" cy="1251.6" r="2.3" fill="#f3281c"/>
<circle cx="818.1" cy="1249.6" r="2.3" fill="#f3281c"/>
<circle cx="818.7" cy="1246.7" r="2.3" fill="#f3281c"/>
<circle cx="796.7" cy="1242.9" r="2.3" fill="#f3281c"/>
<circle cx="781.1" cy="1239.3" r="2.3" fill="#f3281c"/>
<circle cx="818.3" cy="1238.5" r="2.3" fill="#f3281c"/>
<circle cx="784.5" cy="1235.8" r="2.3" fill="#f3281c"/>
<circle cx="786.9" cy="1232.4" r="2.3" fill="#f3281c"/>
<circle cx="768.5" cy="1229.4" r="2.3" fill="#f3281c"/>
<circle cx="788.2" cy="1228.0" r="2.3" fill="#f3281c"/>
<circle cx="793.0" cy="1225.5" r="2.3" fill="#f3281c"/>
<circle cx="794.4" cy="1220.5" r="2.3" fill="#f3281c"/>
<circle cx="778.9" cy="1220.3" r="2.3" fill="#f3281c"/>
<circle cx="794.5" cy="1214.5" r="2.3" fill="#f3281c"/>
<circle cx="768.7" cy="1213.2" r="2.3" fill="#f3281c"/>
<circle cx="782.1" cy="1210.5" r="2.3" fill="#f3281c"/>
<circle cx="773.1" cy="1207.4" r="2.3" fill="#f3281c"/>
<circle cx="789.1" cy="1203.6" r="2.3" fill="#f3281c"/>
<circle cx="770.6" cy="1198.8" r="2.3" fill="#f3281c"/>
<circle cx="769.7" cy="1197.6" r="2.3" fill="#f3281c"/>
<circle cx="784.2" cy="1193.2" r="2.3" fill="#f3281c"/>
<circle cx="780.5" cy="1189.8" r="2.3" fill="#f3281c"/>
<circle cx="798.7" cy="1187.5" r="2.3" fill="#f3281c"/>
<circle cx="795.8" cy="1183.7" r="2.3" fill="#f3281c"/>
<circle cx="807.2" cy="1182.1" r="2.3" fill="#f3281c"/>
<circle cx="802.4" cy="1178.9" r="2.3" fill="#f3281c"/>
<circle cx="805.4" cy="1175.3" r="2.3" fill="#f3281c"/>
<circle cx="813.9" cy="1170.6" r="2.3" fill="#f3281c"/>
<circle cx="788.6" cy="1168.2" r="2.3" fill="#f3281c"/>
<circle cx="785.3" cy="1166.5" r="2.3" fill="#f3281c"/>
<circle cx="819.3" cy="1164.0" r="2.3" fill="#f3281c"/>
<circle cx="776.2" cy="1162.4" r="2.3" fill="#f3281c"/>
<circle cx="805.9" cy="1160.8" r="2.3" fill="#f3281c"/>
<circle cx="801.7" cy="1157.9" r="2.3" fill="#f3281c"/>
<circle cx="770.8" cy="1156.2" r="2.3" fill="#f3281c"/>
<circle cx="811.6" cy="1155.2" r="2.3" fill="#f3281c"/>
<circle cx="814.5" cy="1152.7" r="2.3" fill="#f3281c"/>
<circle cx="800.9" cy="1150.9" r="2.3" fill="#f3281c"/>
<circle cx="806.4" cy="1148.3" r="2.3" fill="#f3281c"/>
<circle cx="810.4" cy="1146.7" r="2.3" fill="#f3281c"/>
<circle cx="775.7" cy="1145.6" r="2.3" fill="#f3281c"/>
<circle cx="795.5" cy="1142.4" r="2.3" fill="#f3281c"/>
<circle cx="794.5" cy="1142.1" r="2.3" fill="#f3281c"/>
<circle cx="811.6" cy="1139.7" r="2.3" fill="#f3281c"/>
<circle cx="810.0" cy="1137.1" r="2.3" fill="#f3281c"/>
<circle cx="811.1" cy="1136.4" r="2.3" fill="#f3281c"/>
<circle cx="798.6" cy="1133.8" r="2.3" fill="#f3281c"/>
<circle cx="814.6" cy="1132.8" r="2.3" fill="#f3281c"/>
<circle cx="803.7" cy="1128.4" r="2.3" fill="#f3281c"/>
<circle cx="804.3" cy="1125.1" r="2.3" fill="#f3281c"/>
<circle cx="780.4" cy="1122.7" r="2.3" fill="#f3281c"/>
<circle cx="770.1" cy="1118.6" r="2.3" fill="#f3281c"/>
<circle cx="775.4" cy="1117.2" r="2.3" fill="#f3281c"/>
<circle cx="787.1" cy="1112.5" r="2.3" fill="#f3281c"/>
<circle cx="773.9" cy="1109.4" r="2.3" fill="#f3281c"/>
<circle cx="811.6" cy="1105.8" r="2.3" fill="#f3281c"/>
<circle cx="797.3" cy="1102.4" r="2.3" fill="#f3281c"/>
<circle cx="800.9" cy="1096.8" r="2.3" fill="#f3281c"/>
<circle cx="800.8" cy="1091.9" r="2.3" fill="#f3281c"/>
<circle cx="803.6" cy="1089.5" r="2.3" fill="#f3281c"/>
<circle cx="793.7" cy="1083.6" r="2.3" fill="#f3281c"/>
<circle cx="768.7" cy="1081.5" r="2.3" fill="#f3281c"/>
<circle cx="809.7" cy="1071.7" r="2.3" fill="#f3281c"/>
<circle cx="807.1" cy="1064.9" r="2.3" fill="#f3281c"/>
<circle cx="794.5" cy="1052.1" r="2.3" fill="#f3281c"/>
<circle cx="796.1" cy="1038.3" r="2.3" fill="#f3281c"/>
<circle cx="802.5" cy="1028.0" r="2.3" fill="#f3281c"/>
<circle cx="771.9" cy="1027.6" r="2.3" fill="#f3281c"/>
<circle cx="806.5" cy="1310.2" r="2.3" fill="#f3281c"/>
<circle cx="848.9" cy="1402.5" r="2.3" fill="#0e8c18"/>
<circle cx="839.7" cy="1398.3" r="2.3" fill="#0e8c18"/>
<circle cx="849.6" cy="1395.2" r="2.3" fill="#0e8c18"/>
<circle cx="873.5" cy="1394.5" r="2.3" fill="#0e8c18"/>
<circle cx="846.5" cy="1391.9" r="2.3" fill="#0e8c18"/>
<circle cx="874.1" cy="1390.8" r="2.3" fill="#0e8c18"/>
<circle cx="886.3" cy="1389.4" r="2.3" fill="#0e8c18"/>
<circle cx="861.4" cy="1388.1" r="2.3" fill="#0e8c18"/>
<circle cx="855.6" cy="1386.0" r="2.3" fill="#0e8c18"/>
<circle cx="860.6" cy="1385.6" r="2.3" fill="#0e8c18"/>
<circle cx="871.2" cy="1384.4" r="2.3" fill="#0e8c18"/>
<circle cx="875.5" cy="1383.2" r="2.3" fill="#0e8c18"/>
<circle cx="867.7" cy="1381.7" r="2.3" fill="#0e8c18"/>
<circle cx="869.1" cy="1381.5" r="2.3" fill="#0e8c18"/>
<circle cx="839.9" cy="1380.2" r="2.3" fill="#0e8c18"/>
<circle cx="843.5" cy="1379.2" r="2.3" fill="#0e8c18"/>
<circle cx="849.0" cy="1378.1" r="2.3" fill="#0e8c18"/>
<circle cx="874.3" cy="1377.3" r="2.3" fill="#0e8c18"/>
<circle cx="851.6" cy="1376.5" r="2.3" fill="#0e8c18"/>
<circle cx="865.2" cy="1376.1" r="2.3" fill="#0e8c18"/>
<circle cx="836.5" cy="1375.3" r="2.3" fill="#0e8c18"/>
<circle cx="839.0" cy="1374.5" r="2.3" fill="#0e8c18"/>
<circle cx="849.8" cy="1373.4" r="2.3" fill="#0e8c18"/>
<circle cx="870.6" cy="1372.7" r="2.3" fill="#0e8c18"/>
<circle cx="871.6" cy="1372.5" r="2.3" fill="#0e8c18"/>
<circle cx="870.8" cy="1371.8" r="2.3" fill="#0e8c18"/>
<circle cx="850.9" cy="1371.1" r="2.3" fill="#0e8c18"/>
<circle cx="862.6" cy="1370.4" r="2.3" fill="#0e8c18"/>
<circle cx="859.9" cy="1369.6" r="2.3" fill="#0e8c18"/>
<circle cx="860.0" cy="1368.9" r="2.3" fill="#0e8c18"/>
<circle cx="842.0" cy="1368.5" r="2.3" fill="#0e8c18"/>
<circle cx="882.0" cy="1368.0" r="2.3" fill="#0e8c18"/>
<circle cx="846.2" cy="1367.1" r="2.3" fill="#0e8c18"/>
<circle cx="886.4" cy="1366.5" r="2.3" fill="#0e8c18"/>
<circle cx="884.2" cy="1365.8" r="2.3" fill="#0e8c18"/>
<circle cx="836.8" cy="1365.0" r="2.3" fill="#0e8c18"/>
<circle cx="859.6" cy="1364.6" r="2.3" fill="#0e8c18"/>
<circle cx="878.2" cy="1364.1" r="2.3" fill="#0e8c18"/>
<circle cx="885.9" cy="1363.5" r="2.3" fill="#0e8c18"/>
<circle cx="859.1" cy="1362.9" r="2.3" fill="#0e8c18"/>
<circle cx="849.8" cy="1362.7" r="2.3" fill="#0e8c18"/>
<circle cx="846.7" cy="1361.7" r="2.3" fill="#0e8c18"/>
<circle cx="884.7" cy="1361.2" r="2.3" fill="#0e8c18"/>
<circle cx="846.8" cy="1360.7" r="2.3" fill="#0e8c18"/>
<circle cx="865.9" cy="1360.2" r="2.3" fill="#0e8c18"/>
<circle cx="843.2" cy="1359.9" r="2.3" fill="#0e8c18"/>
<circle cx="862.9" cy="1359.4" r="2.3" fill="#0e8c18"/>
<circle cx="885.1" cy="1359.0" r="2.3" fill="#0e8c18"/>
<circle cx="842.7" cy="1358.2" r="2.3" fill="#0e8c18"/>
<circle cx="878.2" cy="1358.0" r="2.3" fill="#0e8c18"/>
<circle cx="862.2" cy="1357.5" r="2.3" fill="#0e8c18"/>
<circle cx="881.7" cy="1357.0" r="2.3" fill="#0e8c18"/>
<circle cx="872.2" cy="1356.5" r="2.3" fill="#0e8c18"/>
<circle cx="847.8" cy="1355.9" r="2.3" fill="#0e8c18"/>
<circle cx="882.2" cy="1355.6" r="2.3" fill="#0e8c18"/>
<circle cx="861.0" cy="1355.2" r="2.3" fill="#0e8c18"/>
<circle cx="837.2" cy="1354.6" r="2.3" fill="#0e8c18"/>
<circle cx="836.1" cy="1354.2" r="2.3" fill="#0e8c18"/>
<circle cx="861.3" cy="1353.6" r="2.3" fill="#0e8c18"/>
<circle cx="859.2" cy="1353.3" r="2.3" fill="#0e8c18"/>
<circle cx="851.5" cy="1352.5" r="2.3" fill="#0e8c18"/>
<circle cx="843.2" cy="1352.2" r="2.3" fill="#0e8c18"/>
<circle cx="853.6" cy="1351.9" r="2.3" fill="#0e8c18"/>
<circle cx="852.2" cy="1351.4" r="2.3" fill="#0e8c18"/>
<circle cx="879.3" cy="1351.0" r="2.3" fill="#0e8c18"/>
<circle cx="836.0" cy="1350.5" r="2.3" fill="#0e8c18"/>
<circle cx="874.6" cy="1350.2" r="2.3" fill="#0e8c18"/>
<circle cx="879.2" cy="1349.5" r="2.3" fill="#0e8c18"/>
<circle cx="842.1" cy="1349.0" r="2.3" fill="#0e8c18"/>
<circle cx="883.7" cy="1348.8" r="2.3" fill="#0e8c18"/>
<circle cx="872.7" cy="1348.4" r="2.3" fill="#0e8c18"/>
<circle cx="882.4" cy="1348.1" r="2.3" fill="#0e8c18"/>
<circle cx="850.9" cy="1347.7" r="2.3" fill="#0e8c18"/>
<circle cx="855.1" cy="1347.2" r="2.3" fill="#0e8c18"/>
<circle cx="856.2" cy="1346.8" r="2.3" fill="#0e8c18"/>
<circle cx="887.4" cy="1346.2" r="2.3" fill="#0e8c18"/>
<circle cx="866.3" cy="1346.1" r="2.3" fill="#0e8c18"/>
<circle cx="854.5" cy="1345.7" r="2.3" fill="#0e8c18"/>
<circle cx="858.0" cy="1345.0" r="2.3" fill="#0e8c18"/>
<circle cx="850.1" cy="1344.7" r="2.3" fill="#0e8c18"/>
<circle cx="838.4" cy="1344.5" r="2.3" fill="#0e8c18"/>
<circle cx="841.1" cy="1344.0" r="2.3" fill="#0e8c18"/>
<circle cx="879.0" cy="1343.8" r="2.3" fill="#0e8c18"/>
<circle cx="850.6" cy="1343.0" r="2.3" fill="#0e8c18"/>
<circle cx="884.2" cy="1342.3" r="2.3" fill="#0e8c18"/>
<circle cx="848.8" cy="1341.8" r="2.3" fill="#0e8c18"/>
<circle cx="849.6" cy="1341.3" r="2.3" fill="#0e8c18"/>
<circle cx="862.3" cy="1341.0" r="2.3" fill="#0e8c18"/>
<circle cx="845.7" cy="1340.4" r="2.3" fill="#0e8c18"/>
<circle cx="855.2" cy="1340.0" r="2.3" fill="#0e8c18"/>
<circle cx="885.2" cy="1339.1" r="2.3" fill="#0e8c18"/>
<circle cx="881.5" cy="1338.7" r="2.3" fill="#0e8c18"/>
<circle cx="877.8" cy="1338.0" r="2.3" fill="#0e8c18"/>
<circle cx="868.5" cy="1337.7" r="2.3" fill="#0e8c18"/>
<circle cx="883.0" cy="1337.3" r="2.3" fill="#0e8c18"/>
<circle cx="884.4" cy="1336.4" r="2.3" fill="#0e8c18"/>
<circle cx="864.2" cy="1335.8" r="2.3" fill="#0e8c18"/>
<circle cx="873.0" cy="1335.3" r="2.3" fill="#0e8c18"/>
<circle cx="838.4" cy="1334.8" r="2.3" fill="#0e8c18"/>
<circle cx="873.7" cy="1334.2" r="2.3" fill="#0e8c18"/>
<circle cx="859.2" cy="1333.7" r="2.3" fill="#0e8c18"/>
<circle cx="874.7" cy="1333.5" r="2.3" fill="#0e8c18"/>
<circle cx="869.2" cy="1332.8" r="2.3" fill="#0e8c18"/>
<circle cx="850.7" cy="1332.3" r="2.3" fill="#0e8c18"/>
<circle cx="838.4" cy="1332.0" r="2.3" fill="#0e8c18"/>
<circle cx="883.7" cy="1331.4" r="2.3" fill="#0e8c18"/>
<circle cx="842.5" cy="1330.7" r="2.3" fill="#0e8c18"/>
<circle cx="860.3" cy="1330.2" r="2.3" fill="#0e8c18"/>
<circle cx="853.6" cy="1329.4" r="2.3" fill="#0e8c18"/>
<circle cx="851.3" cy="1328.8" r="2.3" fill="#0e8c18"/>
<circle cx="874.0" cy="1328.5" r="2.3" fill="#0e8c18"/>
<circle cx="886.3" cy="1327.7" r="2.3" fill="#0e8c18"/>
<circle cx="849.3" cy="1327.1" r="2.3" fill="#0e8c18"/>
<circle cx="869.8" cy="1326.6" r="2.3" fill="#0e8c18"/>
<circle cx="851.4" cy="1326.4" r="2.3" fill="#0e8c18"/>
<circle cx="864.7" cy="1325.9" r="2.3" fill="#0e8c18"/>
<circle cx="856.2" cy="1325.4" r="2.3" fill="#0e8c18"/>
<circle cx="844.5" cy="1324.8" r="2.3" fill="#0e8c18"/>
<circle cx="844.2" cy="1324.3" r="2.3" fill="#0e8c18"/>
<circle cx="846.6" cy="1323.5" r="2.3" fill="#0e8c18"/>
<circle cx="882.7" cy="1322.8" r="2.3" fill="#0e8c18"/>
<circle cx="861.5" cy="1322.3" r="2.3" fill="#0e8c18"/>
<circle cx="847.2" cy="1322.0" r="2.3" fill="#0e8c18"/>
<circle cx="882.7" cy="1321.4" r="2.3" fill="#0e8c18"/>
<circle cx="887.3" cy="1320.7" r="2.3" fill="#0e8c18"/>
<circle cx="859.1" cy="1320.6" r="2.3" fill="#0e8c18"/>
<circle cx="843.1" cy="1319.7" r="2.3" fill="#0e8c18"/>
<circle cx="845.8" cy="1319.1" r="2.3" fill="#0e8c18"/>
<circle cx="840.6" cy="1318.6" r="2.3" fill="#0e8c18"/>
<circle cx="853.5" cy="1318.1" r="2.3" fill="#0e8c18"/>
<circle cx="840.6" cy="1317.7" r="2.3" fill="#0e8c18"/>
<circle cx="848.2" cy="1317.3" r="2.3" fill="#0e8c18"/>
<circle cx="849.2" cy="1316.4" r="2.3" fill="#0e8c18"/>
<circle cx="865.3" cy="1316.1" r="2.3" fill="#0e8c18"/>
<circle cx="881.7" cy="1315.3" r="2.3" fill="#0e8c18"/>
<circle cx="874.6" cy="1314.7" r="2.3" fill="#0e8c18"/>
<circle cx="857.2" cy="1314.5" r="2.3" fill="#0e8c18"/>
<circle cx="857.3" cy="1313.9" r="2.3" fill="#0e8c18"/>
<circle cx="862.9" cy="1313.1" r="2.3" fill="#0e8c18"/>
<circle cx="855.3" cy="1312.7" r="2.3" fill="#0e8c18"/>
<circle cx="853.3" cy="1312.4" r="2.3" fill="#0e8c18"/>
<circle cx="839.1" cy="1311.9" r="2.3" fill="#0e8c18"/>
<circle cx="850.2" cy="1311.4" r="2.3" fill="#0e8c18"/>
<circle cx="885.8" cy="1310.4" r="2.3" fill="#0e8c18"/>
<circle cx="842.4" cy="1309.9" r="2.3" fill="#0e8c18"/>
<circle cx="861.9" cy="1309.7" r="2.3" fill="#0e8c18"/>
<circle cx="868.4" cy="1308.8" r="2.3" fill="#0e8c18"/>
<circle cx="880.4" cy="1308.2" r="2.3" fill="#0e8c18"/>
<circle cx="847.0" cy="1307.8" r="2.3" fill="#0e8c18"/>
<circle cx="849.9" cy="1307.5" r="2.3" fill="#0e8c18"/>
<circle cx="848.7" cy="1306.8" r="2.3" fill="#0e8c18"/>
<circle cx="856.5" cy="1306.5" r="2.3" fill="#0e8c18"/>
<circle cx="858.9" cy="1306.0" r="2.3" fill="#0e8c18"/>
<circle cx="885.1" cy="1305.0" r="2.3" fill="#0e8c18"/>
<circle cx="879.7" cy="1304.6" r="2.3" fill="#0e8c18"/>
<circle cx="880.9" cy="1304.1" r="2.3" fill="#0e8c18"/>
<circle cx="837.0" cy="1303.4" r="2.3" fill="#0e8c18"/>
<circle cx="837.6" cy="1303.1" r="2.3" fill="#0e8c18"/>
<circle cx="872.5" cy="1302.3" r="2.3" fill="#0e8c18"/>
<circle cx="882.1" cy="1301.8" r="2.3" fill="#0e8c18"/>
<circle cx="860.3" cy="1301.6" r="2.3" fill="#0e8c18"/>
<circle cx="866.2" cy="1301.0" r="2.3" fill="#0e8c18"/>
<circle cx="835.9" cy="1300.5" r="2.3" fill="#0e8c18"/>
<circle cx="856.1" cy="1300.0" r="2.3" fill="#0e8c18"/>
<circle cx="883.7" cy="1299.2" r="2.3" fill="#0e8c18"/>
<circle cx="878.5" cy="1298.8" r="2.3" fill="#0e8c18"/>
<circle cx="880.0" cy="1298.0" r="2.3" fill="#0e8c18"/>
<circle cx="886.1" cy="1297.5" r="2.3" fill="#0e8c18"/>
<circle cx="848.7" cy="1296.3" r="2.3" fill="#0e8c18"/>
<circle cx="841.5" cy="1296.0" r="2.3" fill="#0e8c18"/>
<circle cx="843.9" cy="1295.2" r="2.3" fill="#0e8c18"/>
<circle cx="862.9" cy="1294.4" r="2.3" fill="#0e8c18"/>
<circle cx="871.1" cy="1293.5" r="2.3" fill="#0e8c18"/>
<circle cx="884.5" cy="1293.2" r="2.3" fill="#0e8c18"/>
<circle cx="873.1" cy="1292.1" r="2.3" fill="#0e8c18"/>
<circle cx="869.3" cy="1291.7" r="2.3" fill="#0e8c18"/>
<circle cx="875.4" cy="1291.0" r="2.3" fill="#0e8c18"/>
<circle cx="859.5" cy="1290.3" r="2.3" fill="#0e8c18"/>
<circle cx="864.4" cy="1290.0" r="2.3" fill="#0e8c18"/>
<circle cx="837.9" cy="1289.0" r="2.3" fill="#0e8c18"/>
<circle cx="876.3" cy="1288.5" r="2.3" fill="#0e8c18"/>
<circle cx="847.9" cy="1287.9" r="2.3" fill="#0e8c18"/>
<circle cx="883.4" cy="1286.6" r="2.3" fill="#0e8c18"/>
<circle cx="869.2" cy="1286.4" r="2.3" fill="#0e8c18"/>
<circle cx="851.6" cy="1285.5" r="2.3" fill="#0e8c18"/>
<circle cx="842.5" cy="1284.6" r="2.3" fill="#0e8c18"/>
<circle cx="848.9" cy="1284.0" r="2.3" fill="#0e8c18"/>
<circle cx="868.7" cy="1283.5" r="2.3" fill="#0e8c18"/>
<circle cx="871.9" cy="1282.7" r="2.3" fill="#0e8c18"/>
<circle cx="841.7" cy="1281.9" r="2.3" fill="#0e8c18"/>
<circle cx="839.5" cy="1281.1" r="2.3" fill="#0e8c18"/>
<circle cx="863.0" cy="1280.9" r="2.3" fill="#0e8c18"/>
<circle cx="866.0" cy="1279.9" r="2.3" fill="#0e8c18"/>
<circle cx="855.9" cy="1279.4" r="2.3" fill="#0e8c18"/>
<circle cx="847.4" cy="1278.7" r="2.3" fill="#0e8c18"/>
<circle cx="866.9" cy="1277.6" r="2.3" fill="#0e8c18"/>
<circle cx="836.4" cy="1277.1" r="2.3" fill="#0e8c18"/>
<circle cx="851.5" cy="1276.4" r="2.3" fill="#0e8c18"/>
<circle cx="859.7" cy="1275.6" r="2.3" fill="#0e8c18"/>
<circle cx="885.4" cy="1274.8" r="2.3" fill="#0e8c18"/>
<circle cx="869.2" cy="1274.4" r="2.3" fill="#0e8c18"/>
<circle cx="881.5" cy="1273.6" r="2.3" fill="#0e8c18"/>
<circle cx="860.4" cy="1273.0" r="2.3" fill="#0e8c18"/>
<circle cx="848.0" cy="1272.3" r="2.3" fill="#0e8c18"/>
<circle cx="848.6" cy="1271.4" r="2.3" fill="#0e8c18"/>
<circle cx="885.5" cy="1270.9" r="2.3" fill="#0e8c18"/>
<circle cx="872.3" cy="1270.2" r="2.3" fill="#0e8c18"/>
<circle cx="851.8" cy="1269.5" r="2.3" fill="#0e8c18"/>
<circle cx="837.0" cy="1268.5" r="2.3" fill="#0e8c18"/>
<circle cx="861.6" cy="1268.0" r="2.3" fill="#0e8c18"/>
<circle cx="870.7" cy="1267.1" r="2.3" fill="#0e8c18"/>
<circle cx="857.6" cy="1266.4" r="2.3" fill="#0e8c18"/>
<circle cx="849.2" cy="1266.2" r="2.3" fill="#0e8c18"/>
<circle cx="870.3" cy="1265.3" r="2.3" fill="#0e8c18"/>
<circle cx="883.6" cy="1264.3" r="2.3" fill="#0e8c18"/>
<circle cx="847.6" cy="1263.7" r="2.3" fill="#0e8c18"/>
<circle cx="837.7" cy="1263.5" r="2.3" fill="#0e8c18"/>
<circle cx="853.3" cy="1262.8" r="2.3" fill="#0e8c18"/>
<circle cx="857.6" cy="1261.9" r="2.3" fill="#0e8c18"/>
<circle cx="871.1" cy="1261.4" r="2.3" fill="#0e8c18"/>
<circle cx="846.1" cy="1260.6" r="2.3" fill="#0e8c18"/>
<circle cx="877.0" cy="1260.1" r="2.3" fill="#0e8c18"/>
<circle cx="874.0" cy="1258.9" r="2.3" fill="#0e8c18"/>
<circle cx="862.0" cy="1258.2" r="2.3" fill="#0e8c18"/>
<circle cx="846.5" cy="1257.4" r="2.3" fill="#0e8c18"/>
<circle cx="886.0" cy="1257.2" r="2.3" fill="#0e8c18"/>
<circle cx="852.0" cy="1256.1" r="2.3" fill="#0e8c18"/>
<circle cx="878.2" cy="1255.5" r="2.3" fill="#0e8c18"/>
<circle cx="847.8" cy="1255.1" r="2.3" fill="#0e8c18"/>
<circle cx="847.3" cy="1253.9" r="2.3" fill="#0e8c18"/>
<circle cx="875.1" cy="1253.2" r="2.3" fill="#0e8c18"/>
<circle cx="851.1" cy="1253.0" r="2.3" fill="#0e8c18"/>
<circle cx="885.0" cy="1251.8" r="2.3" fill="#0e8c18"/>
<circle cx="861.5" cy="1251.5" r="2.3" fill="#0e8c18"/>
<circle cx="845.6" cy="1250.7" r="2.3" fill="#0e8c18"/>
<circle cx="847.4" cy="1249.7" r="2.3" fill="#0e8c18"/>
<circle cx="857.4" cy="1249.1" r="2.3" fill="#0e8c18"/>
<circle cx="870.2" cy="1248.9" r="2.3" fill="#0e8c18"/>
<circle cx="884.9" cy="1248.0" r="2.3" fill="#0e8c18"/>
<circle cx="843.4" cy="1247.2" r="2.3" fill="#0e8c18"/>
<circle cx="856.2" cy="1246.7" r="2.3" fill="#0e8c18"/>
<circle cx="846.9" cy="1246.1" r="2.3" fill="#0e8c18"/>
<circle cx="886.2" cy="1245.3" r="2.3" fill="#0e8c18"/>
<circle cx="843.2" cy="1244.3" r="2.3" fill="#0e8c18"/>
<circle cx="838.6" cy="1244.1" r="2.3" fill="#0e8c18"/>
<circle cx="839.0" cy="1243.1" r="2.3" fill="#0e8c18"/>
<circle cx="856.2" cy="1242.4" r="2.3" fill="#0e8c18"/>
<circle cx="882.3" cy="1242.0" r="2.3" fill="#0e8c18"/>
<circle cx="881.5" cy="1241.0" r="2.3" fill="#0e8c18"/>
<circle cx="873.7" cy="1239.9" r="2.3" fill="#0e8c18"/>
<circle cx="887.4" cy="1239.1" r="2.3" fill="#0e8c18"/>
<circle cx="884.0" cy="1238.7" r="2.3" fill="#0e8c18"/>
<circle cx="852.9" cy="1237.0" r="2.3" fill="#0e8c18"/>
<circle cx="845.5" cy="1236.3" r="2.3" fill="#0e8c18"/>
<circle cx="884.2" cy="1235.3" r="2.3" fill="#0e8c18"/>
<circle cx="874.4" cy="1235.1" r="2.3" fill="#0e8c18"/>
<circle cx="837.5" cy="1234.1" r="2.3" fill="#0e8c18"/>
<circle cx="870.2" cy="1233.4" r="2.3" fill="#0e8c18"/>
<circle cx="855.4" cy="1231.9" r="2.3" fill="#0e8c18"/>
<circle cx="855.2" cy="1231.4" r="2.3" fill="#0e8c18"/>
<circle cx="853.0" cy="1230.6" r="2.3" fill="#0e8c18"/>
<circle cx="844.6" cy="1229.4" r="2.3" fill="#0e8c18"/>
<circle cx="836.0" cy="1228.1" r="2.3" fill="#0e8c18"/>
<circle cx="850.3" cy="1227.2" r="2.3" fill="#0e8c18"/>
<circle cx="854.0" cy="1226.8" r="2.3" fill="#0e8c18"/>
<circle cx="885.2" cy="1225.9" r="2.3" fill="#0e8c18"/>
<circle cx="842.3" cy="1224.3" r="2.3" fill="#0e8c18"/>
<circle cx="885.7" cy="1223.6" r="2.3" fill="#0e8c18"/>
<circle cx="846.6" cy="1222.5" r="2.3" fill="#0e8c18"/>
<circle cx="854.3" cy="1222.1" r="2.3" fill="#0e8c18"/>
<circle cx="878.3" cy="1221.2" r="2.3" fill="#0e8c18"/>
<circle cx="878.3" cy="1219.6" r="2.3" fill="#0e8c18"/>
<circle cx="858.2" cy="1218.8" r="2.3" fill="#0e8c18"/>
<circle cx="838.4" cy="1218.2" r="2.3" fill="#0e8c18"/>
<circle cx="860.3" cy="1216.3" r="2.3" fill="#0e8c18"/>
<circle cx="855.1" cy="1215.5" r="2.3" fill="#0e8c18"/>
<circle cx="883.4" cy="1214.3" r="2.3" fill="#0e8c18"/>
<circle cx="845.9" cy="1214.0" r="2.3" fill="#0e8c18"/>
<circle cx="854.7" cy="1212.2" r="2.3" fill="#0e8c18"/>
<circle cx="882.2" cy="1211.9" r="2.3" fill="#0e8c18"/>
<circle cx="837.5" cy="1210.0" r="2.3" fill="#0e8c18"/>
<circle cx="857.1" cy="1209.3" r="2.3" fill="#0e8c18"/>
<circle cx="877.8" cy="1208.4" r="2.3" fill="#0e8c18"/>
<circle cx="875.5" cy="1207.0" r="2.3" fill="#0e8c18"/>
<circle cx="838.0" cy="1205.5" r="2.3" fill="#0e8c18"/>
<circle cx="837.7" cy="1205.1" r="2.3" fill="#0e8c18"/>
<circle cx="839.1" cy="1204.1" r="2.3" fill="#0e8c18"/>
<circle cx="883.4" cy="1202.5" r="2.3" fill="#0e8c18"/>
<circle cx="849.2" cy="1201.6" r="2.3" fill="#0e8c18"/>
<circle cx="874.5" cy="1200.6" r="2.3" fill="#0e8c18"/>
<circle cx="882.3" cy="1199.3" r="2.3" fill="#0e8c18"/>
<circle cx="853.4" cy="1198.2" r="2.3" fill="#0e8c18"/>
<circle cx="849.9" cy="1196.8" r="2.3" fill="#0e8c18"/>
<circle cx="885.3" cy="1195.4" r="2.3" fill="#0e8c18"/>
<circle cx="867.7" cy="1194.2" r="2.3" fill="#0e8c18"/>
<circle cx="849.4" cy="1192.3" r="2.3" fill="#0e8c18"/>
<circle cx="872.9" cy="1191.6" r="2.3" fill="#0e8c18"/>
<circle cx="852.2" cy="1190.0" r="2.3" fill="#0e8c18"/>
<circle cx="850.1" cy="1189.1" r="2.3" fill="#0e8c18"/>
<circle cx="836.1" cy="1187.5" r="2.3" fill="#0e8c18"/>
<circle cx="874.9" cy="1186.5" r="2.3" fill="#0e8c18"/>
<circle cx="883.2" cy="1184.8" r="2.3" fill="#0e8c18"/>
<circle cx="868.6" cy="1183.7" r="2.3" fill="#0e8c18"/>
<circle cx="884.6" cy="1181.2" r="2.3" fill="#0e8c18"/>
<circle cx="837.1" cy="1179.9" r="2.3" fill="#0e8c18"/>
<circle cx="848.0" cy="1179.0" r="2.3" fill="#0e8c18"/>
<circle cx="860.4" cy="1177.0" r="2.3" fill="#0e8c18"/>
<circle cx="885.3" cy="1174.6" r="2.3" fill="#0e8c18"/>
<circle cx="885.1" cy="1174.4" r="2.3" fill="#0e8c18"/>
<circle cx="855.8" cy="1171.5" r="2.3" fill="#0e8c18"/>
<circle cx="848.9" cy="1170.5" r="2.3" fill="#0e8c18"/>
<circle cx="858.1" cy="1168.6" r="2.3" fill="#0e8c18"/>
<circle cx="861.4" cy="1166.2" r="2.3" fill="#0e8c18"/>
<circle cx="883.8" cy="1165.1" r="2.3" fill="#0e8c18"/>
<circle cx="845.3" cy="1163.0" r="2.3" fill="#0e8c18"/>
<circle cx="877.3" cy="1160.7" r="2.3" fill="#0e8c18"/>
<circle cx="874.0" cy="1158.0" r="2.3" fill="#0e8c18"/>
<circle cx="878.4" cy="1157.2" r="2.3" fill="#0e8c18"/>
<circle cx="875.8" cy="1153.9" r="2.3" fill="#0e8c18"/>
<circle cx="867.2" cy="1151.9" r="2.3" fill="#0e8c18"/>
<circle cx="852.8" cy="1149.6" r="2.3" fill="#0e8c18"/>
<circle cx="852.4" cy="1147.7" r="2.3" fill="#0e8c18"/>
<circle cx="854.6" cy="1145.2" r="2.3" fill="#0e8c18"/>
<circle cx="876.3" cy="1143.2" r="2.3" fill="#0e8c18"/>
<circle cx="840.0" cy="1139.9" r="2.3" fill="#0e8c18"/>
<circle cx="846.1" cy="1136.9" r="2.3" fill="#0e8c18"/>
<circle cx="874.8" cy="1130.6" r="2.3" fill="#0e8c18"/>
<circle cx="848.7" cy="1128.3" r="2.3" fill="#0e8c18"/>
<circle cx="839.2" cy="1123.8" r="2.3" fill="#0e8c18"/>
<circle cx="837.6" cy="1117.9" r="2.3" fill="#0e8c18"/>
<circle cx="864.4" cy="1102.6" r="2.3" fill="#0e8c18"/>
<circle cx="852.7" cy="1406.7" r="2.3" fill="#0e8c18"/>
<line x1="769.0" y1="1168" x2="819.6" y2="1168" stroke="#3c3c3c" stroke-width="1.9"/>
<line x1="836.4" y1="1299" x2="887.0" y2="1299" stroke="#3c3c3c" stroke-width="1.9"/>
<rect x="1036" y="988" width="522.5" height="437.4000000000001" fill="#fcfcfc"/>
<line x1="1062.1" y1="988" x2="1062.1" y2="1425.4" stroke="#fff" stroke-width="1.4"/>
<line x1="1135.7" y1="988" x2="1135.7" y2="1425.4" stroke="#fff" stroke-width="1.4"/>
<line x1="1209.3" y1="988" x2="1209.3" y2="1425.4" stroke="#fff" stroke-width="1.4"/>
<line x1="1283.0" y1="988" x2="1283.0" y2="1425.4" stroke="#fff" stroke-width="1.4"/>
<line x1="1356.7" y1="988" x2="1356.7" y2="1425.4" stroke="#fff" stroke-width="1.4"/>
<line x1="1430.3" y1="988" x2="1430.3" y2="1425.4" stroke="#fff" stroke-width="1.4"/>
<line x1="1503.9" y1="988" x2="1503.9" y2="1425.4" stroke="#fff" stroke-width="1.4"/>
<line x1="1036" y1="1405.7" x2="1558.5" y2="1405.7" stroke="#fff" stroke-width="1.4"/>
<line x1="1036" y1="1362.3" x2="1558.5" y2="1362.3" stroke="#fff" stroke-width="1.4"/>
<line x1="1036" y1="1318.9" x2="1558.5" y2="1318.9" stroke="#fff" stroke-width="1.4"/>
<line x1="1036" y1="1275.5" x2="1558.5" y2="1275.5" stroke="#fff" stroke-width="1.4"/>
<line x1="1036" y1="1232.1" x2="1558.5" y2="1232.1" stroke="#fff" stroke-width="1.4"/>
<line x1="1036" y1="1188.7" x2="1558.5" y2="1188.7" stroke="#fff" stroke-width="1.4"/>
<line x1="1036" y1="1145.3" x2="1558.5" y2="1145.3" stroke="#fff" stroke-width="1.4"/>
<line x1="1036" y1="1101.9" x2="1558.5" y2="1101.9" stroke="#fff" stroke-width="1.4"/>
<line x1="1036" y1="1058.5" x2="1558.5" y2="1058.5" stroke="#fff" stroke-width="1.4"/>
<line x1="1036" y1="1015.1" x2="1558.5" y2="1015.1" stroke="#fff" stroke-width="1.4"/>
<line x1="1135.7" y1="1425.4" x2="1135.7" y2="1427.6000000000001" stroke="#888" stroke-width="1"/>
<text x="1132.7" y="1448.6" font-size="20" text-anchor="middle" font-family="'Liberation Sans', Arial, sans-serif" fill="#000" >10.0</text>
<line x1="1283.0" y1="1425.4" x2="1283.0" y2="1427.6000000000001" stroke="#888" stroke-width="1"/>
<text x="1280.0" y="1448.6" font-size="20" text-anchor="middle" font-family="'Liberation Sans', Arial, sans-serif" fill="#000" >12.5</text>
<line x1="1430.3" y1="1425.4" x2="1430.3" y2="1427.6000000000001" stroke="#888" stroke-width="1"/>
<text x="1427.3" y="1448.6" font-size="20" text-anchor="middle" font-family="'Liberation Sans', Arial, sans-serif" fill="#000" >15.0</text>
<line x1="1033.8" y1="1015.1" x2="1036" y2="1015.1" stroke="#888" stroke-width="1"/>
<text x="1028.2" y="1023.9" font-size="20" text-anchor="end" font-family="'Liberation Sans', Arial, sans-serif" fill="#000" >13.5</text>
<line x1="1033.8" y1="1101.9" x2="1036" y2="1101.9" stroke="#888" stroke-width="1"/>
<text x="1028.2" y="1110.7" font-size="20" text-anchor="end" font-family="'Liberation Sans', Arial, sans-serif" fill="#000" >13.0</text>
<line x1="1033.8" y1="1188.7" x2="1036" y2="1188.7" stroke="#888" stroke-width="1"/>
<text x="1028.2" y="1197.5" font-size="20" text-anchor="end" font-family="'Liberation Sans', Arial, sans-serif" fill="#000" >12.5</text>
<line x1="1033.8" y1="1275.5" x2="1036" y2="1275.5" stroke="#888" stroke-width="1"/>
<text x="1028.2" y="1284.3" font-size="20" text-anchor="end" font-family="'Liberation Sans', Arial, sans-serif" fill="#000" >12.0</text>
<line x1="1033.8" y1="1362.3" x2="1036" y2="1362.3" stroke="#888" stroke-width="1"/>
<text x="1028.2" y="1371.1" font-size="20" text-anchor="end" font-family="'Liberation Sans', Arial, sans-serif" fill="#000" >11.5</text>
<text x="1319.0" y="1473.0" font-size="19.5" text-anchor="middle" font-family="'Liberation Sans', Arial, sans-serif" fill="#000" >log(IgG2+1)</text>
<text x="974.4" y="1198" font-size="19.5" text-anchor="middle" font-family="'Liberation Sans', Arial, sans-serif" transform="rotate(-90 974.4 1198)">predicted log(IgG2+1)</text>
<polygon points="1059.6,1289.1 1071.5,1284.2 1083.4,1279.3 1095.3,1274.4 1107.2,1269.5 1119.1,1264.6 1131.0,1259.7 1142.9,1254.8 1154.8,1249.9 1166.7,1245.0 1178.6,1240.0 1190.6,1235.0 1202.5,1230.1 1214.4,1225.0 1226.3,1219.9 1238.2,1214.8 1250.1,1209.5 1262.0,1204.1 1273.9,1198.4 1285.8,1192.5 1297.7,1186.2 1309.6,1179.8 1321.5,1173.1 1333.4,1166.4 1345.3,1159.6 1357.2,1152.7 1369.1,1145.8 1381.0,1138.8 1392.9,1131.9 1404.8,1124.9 1416.8,1117.9 1428.7,1110.9 1440.6,1103.9 1452.5,1096.9 1464.4,1089.9 1476.3,1082.9 1488.2,1075.9 1500.1,1068.9 1512.0,1061.8 1523.9,1054.8 1535.8,1047.8 1535.8,1095.2 1523.9,1100.1 1512.0,1105.0 1500.1,1109.9 1488.2,1114.7 1476.3,1119.6 1464.4,1124.5 1452.5,1129.4 1440.6,1134.3 1428.7,1139.2 1416.8,1144.1 1404.8,1149.1 1392.9,1154.0 1381.0,1158.9 1369.1,1163.9 1357.2,1168.9 1345.3,1173.9 1333.4,1179.0 1321.5,1184.2 1309.6,1189.4 1297.7,1194.9 1285.8,1200.5 1273.9,1206.5 1262.0,1212.7 1250.1,1219.2 1238.2,1225.8 1226.3,1232.6 1214.4,1239.4 1202.5,1246.3 1190.6,1253.2 1178.6,1260.1 1166.7,1267.1 1154.8,1274.1 1142.9,1281.1 1131.0,1288.0 1119.1,1295.0 1107.2,1302.0 1095.3,1309.1 1083.4,1316.1 1071.5,1323.1 1059.6,1330.1" fill="#d6d6d6" fill-opacity="0.42"/>
<circle cx="1249.7" cy="1062.2" r="2.25" fill="#0e8c18"/>
<circle cx="1240.9" cy="1075.9" r="2.25" fill="#0e8c18"/>
<circle cx="1202.6" cy="1088.4" r="2.25" fill="#0e8c18"/>
<circle cx="1215.5" cy="1086.0" r="2.25" fill="#0e8c18"/>
<circle cx="1280.6" cy="1097.9" r="2.25" fill="#0e8c18"/>
<circle cx="1236.0" cy="1101.1" r="2.25" fill="#0e8c18"/>
<circle cx="1239.7" cy="1105.0" r="2.25" fill="#0e8c18"/>
<circle cx="1260.3" cy="1102.7" r="2.25" fill="#0e8c18"/>
<circle cx="1070.9" cy="1106.6" r="2.25" fill="#0e8c18"/>
<circle cx="1191.4" cy="1108.2" r="2.25" fill="#0e8c18"/>
<circle cx="1284.7" cy="1124.7" r="2.25" fill="#0e8c18"/>
<circle cx="1292.6" cy="1123.8" r="2.25" fill="#0e8c18"/>
<circle cx="1251.3" cy="1127.8" r="2.25" fill="#0e8c18"/>
<circle cx="1212.7" cy="1143.5" r="2.25" fill="#0e8c18"/>
<circle cx="1228.3" cy="1145.1" r="2.25" fill="#0e8c18"/>
<circle cx="1239.3" cy="1143.2" r="2.25" fill="#0e8c18"/>
<circle cx="1266.3" cy="1140.6" r="2.25" fill="#0e8c18"/>
<circle cx="1208.7" cy="1149.0" r="2.25" fill="#0e8c18"/>
<circle cx="1250.0" cy="1148.2" r="2.25" fill="#0e8c18"/>
<circle cx="1259.3" cy="1148.4" r="2.25" fill="#0e8c18"/>
<circle cx="1214.4" cy="1153.5" r="2.25" fill="#0e8c18"/>
<circle cx="1282.6" cy="1153.2" r="2.25" fill="#0e8c18"/>
<circle cx="1292.6" cy="1151.9" r="2.25" fill="#0e8c18"/>
<circle cx="1164.7" cy="1154.0" r="2.25" fill="#0e8c18"/>
<circle cx="1214.7" cy="1160.4" r="2.25" fill="#0e8c18"/>
<circle cx="1264.5" cy="1158.5" r="2.25" fill="#0e8c18"/>
<circle cx="1291.5" cy="1158.0" r="2.25" fill="#0e8c18"/>
<circle cx="1299.5" cy="1160.7" r="2.25" fill="#0e8c18"/>
<circle cx="1229.1" cy="1167.2" r="2.25" fill="#0e8c18"/>
<circle cx="1288.8" cy="1166.7" r="2.25" fill="#0e8c18"/>
<circle cx="1297.1" cy="1166.8" r="2.25" fill="#0e8c18"/>
<circle cx="1280.7" cy="1169.9" r="2.25" fill="#0e8c18"/>
<circle cx="1273.8" cy="1172.8" r="2.25" fill="#0e8c18"/>
<circle cx="1284.6" cy="1173.1" r="2.25" fill="#0e8c18"/>
<circle cx="1290.4" cy="1176.2" r="2.25" fill="#0e8c18"/>
<circle cx="1084.2" cy="1178.7" r="2.25" fill="#0e8c18"/>
<circle cx="1126.0" cy="1178.4" r="2.25" fill="#0e8c18"/>
<circle cx="1133.4" cy="1178.2" r="2.25" fill="#0e8c18"/>
<circle cx="1149.1" cy="1178.4" r="2.25" fill="#0e8c18"/>
<circle cx="1183.8" cy="1179.2" r="2.25" fill="#0e8c18"/>
<circle cx="1231.5" cy="1179.9" r="2.25" fill="#0e8c18"/>
<circle cx="1258.9" cy="1178.6" r="2.25" fill="#0e8c18"/>
<circle cx="1256.9" cy="1182.1" r="2.25" fill="#0e8c18"/>
<circle cx="1292.0" cy="1181.3" r="2.25" fill="#0e8c18"/>
<circle cx="1165.5" cy="1183.5" r="2.25" fill="#0e8c18"/>
<circle cx="1193.8" cy="1184.0" r="2.25" fill="#0e8c18"/>
<circle cx="1189.5" cy="1186.4" r="2.25" fill="#0e8c18"/>
<circle cx="1213.2" cy="1186.0" r="2.25" fill="#0e8c18"/>
<circle cx="1263.4" cy="1186.9" r="2.25" fill="#0e8c18"/>
<circle cx="1166.8" cy="1193.7" r="2.25" fill="#0e8c18"/>
<circle cx="1202.0" cy="1192.4" r="2.25" fill="#0e8c18"/>
<circle cx="1238.0" cy="1196.9" r="2.25" fill="#0e8c18"/>
<circle cx="1243.0" cy="1197.2" r="2.25" fill="#0e8c18"/>
<circle cx="1273.5" cy="1201.7" r="2.25" fill="#0e8c18"/>
<circle cx="1282.6" cy="1201.7" r="2.25" fill="#0e8c18"/>
<circle cx="1289.9" cy="1203.6" r="2.25" fill="#0e8c18"/>
<circle cx="1280.7" cy="1207.8" r="2.25" fill="#0e8c18"/>
<circle cx="1098.2" cy="1209.4" r="2.25" fill="#0e8c18"/>
<circle cx="1185.8" cy="1209.4" r="2.25" fill="#0e8c18"/>
<circle cx="1297.9" cy="1195.3" r="2.25" fill="#0e8c18"/>
<circle cx="1386.5" cy="1068.0" r="2.25" fill="#0e8c18"/>
<circle cx="1459.3" cy="1067.1" r="2.25" fill="#0e8c18"/>
<circle cx="1356.1" cy="1079.1" r="2.25" fill="#0e8c18"/>
<circle cx="1469.7" cy="1078.3" r="2.25" fill="#0e8c18"/>
<circle cx="1376.8" cy="1089.2" r="2.25" fill="#0e8c18"/>
<circle cx="1389.2" cy="1093.7" r="2.25" fill="#0e8c18"/>
<circle cx="1365.6" cy="1094.0" r="2.25" fill="#0e8c18"/>
<circle cx="1431.0" cy="1092.1" r="2.25" fill="#0e8c18"/>
<circle cx="1432.3" cy="1094.0" r="2.25" fill="#0e8c18"/>
<circle cx="1306.1" cy="1103.0" r="2.25" fill="#0e8c18"/>
<circle cx="1315.3" cy="1105.6" r="2.25" fill="#0e8c18"/>
<circle cx="1319.8" cy="1104.7" r="2.25" fill="#0e8c18"/>
<circle cx="1360.9" cy="1102.2" r="2.25" fill="#0e8c18"/>
<circle cx="1381.6" cy="1103.4" r="2.25" fill="#0e8c18"/>
<circle cx="1374.7" cy="1106.4" r="2.25" fill="#0e8c18"/>
<circle cx="1371.2" cy="1109.6" r="2.25" fill="#0e8c18"/>
<circle cx="1448.0" cy="1101.4" r="2.25" fill="#0e8c18"/>
<circle cx="1314.6" cy="1113.3" r="2.25" fill="#0e8c18"/>
<circle cx="1389.4" cy="1112.8" r="2.25" fill="#0e8c18"/>
<circle cx="1350.5" cy="1117.7" r="2.25" fill="#0e8c18"/>
<circle cx="1376.5" cy="1117.8" r="2.25" fill="#0e8c18"/>
<circle cx="1387.4" cy="1128.1" r="2.25" fill="#0e8c18"/>
<circle cx="1320.1" cy="1131.0" r="2.25" fill="#0e8c18"/>
<circle cx="1350.6" cy="1129.6" r="2.25" fill="#0e8c18"/>
<circle cx="1368.1" cy="1134.1" r="2.25" fill="#0e8c18"/>
<circle cx="1341.8" cy="1137.1" r="2.25" fill="#0e8c18"/>
<circle cx="1344.2" cy="1135.8" r="2.25" fill="#0e8c18"/>
<circle cx="1304.4" cy="1145.6" r="2.25" fill="#0e8c18"/>
<circle cx="1322.2" cy="1146.8" r="2.25" fill="#0e8c18"/>
<circle cx="1362.2" cy="1142.4" r="2.25" fill="#0e8c18"/>
<circle cx="1387.9" cy="1140.6" r="2.25" fill="#0e8c18"/>
<circle cx="1395.6" cy="1143.7" r="2.25" fill="#0e8c18"/>
<circle cx="1378.6" cy="1148.0" r="2.25" fill="#0e8c18"/>
<circle cx="1412.8" cy="1147.1" r="2.25" fill="#0e8c18"/>
<circle cx="1300.8" cy="1160.7" r="2.25" fill="#0e8c18"/>
<circle cx="1338.6" cy="1155.9" r="2.25" fill="#0e8c18"/>
<circle cx="1352.6" cy="1155.9" r="2.25" fill="#0e8c18"/>
<circle cx="1370.7" cy="1155.6" r="2.25" fill="#0e8c18"/>
<circle cx="1387.1" cy="1153.2" r="2.25" fill="#0e8c18"/>
<circle cx="1297.6" cy="1166.8" r="2.25" fill="#0e8c18"/>
<circle cx="1319.0" cy="1167.6" r="2.25" fill="#0e8c18"/>
<circle cx="1330.5" cy="1165.7" r="2.25" fill="#0e8c18"/>
<circle cx="1331.0" cy="1170.4" r="2.25" fill="#0e8c18"/>
<circle cx="1368.6" cy="1163.6" r="2.25" fill="#0e8c18"/>
<circle cx="1374.7" cy="1165.1" r="2.25" fill="#0e8c18"/>
<circle cx="1382.8" cy="1166.8" r="2.25" fill="#0e8c18"/>
<circle cx="1302.7" cy="1173.1" r="2.25" fill="#0e8c18"/>
<circle cx="1365.6" cy="1171.8" r="2.25" fill="#0e8c18"/>
<circle cx="1323.6" cy="1180.8" r="2.25" fill="#0e8c18"/>
<circle cx="1384.4" cy="1180.3" r="2.25" fill="#0e8c18"/>
<circle cx="1391.8" cy="1180.3" r="2.25" fill="#0e8c18"/>
<circle cx="1336.2" cy="1184.0" r="2.25" fill="#0e8c18"/>
<circle cx="1338.1" cy="1186.4" r="2.25" fill="#0e8c18"/>
<circle cx="1411.4" cy="1186.0" r="2.25" fill="#0e8c18"/>
<circle cx="1423.4" cy="1186.8" r="2.25" fill="#0e8c18"/>
<circle cx="1302.4" cy="1187.6" r="2.25" fill="#0e8c18"/>
<circle cx="1296.8" cy="1192.1" r="2.25" fill="#0e8c18"/>
<circle cx="1342.3" cy="1191.4" r="2.25" fill="#0e8c18"/>
<circle cx="1397.2" cy="1191.4" r="2.25" fill="#0e8c18"/>
<circle cx="1333.3" cy="1193.4" r="2.25" fill="#0e8c18"/>
<circle cx="1307.9" cy="1194.6" r="2.25" fill="#0e8c18"/>
<circle cx="1299.5" cy="1196.6" r="2.25" fill="#0e8c18"/>
<circle cx="1343.4" cy="1198.8" r="2.25" fill="#0e8c18"/>
<circle cx="1418.9" cy="1196.1" r="2.25" fill="#0e8c18"/>
<circle cx="1361.9" cy="1201.7" r="2.25" fill="#0e8c18"/>
<circle cx="1326.5" cy="1205.2" r="2.25" fill="#0e8c18"/>
<circle cx="1315.9" cy="1206.2" r="2.25" fill="#0e8c18"/>
<circle cx="1312.1" cy="1208.1" r="2.25" fill="#0e8c18"/>
<circle cx="1347.9" cy="1207.3" r="2.25" fill="#0e8c18"/>
<circle cx="1386.5" cy="1205.4" r="2.25" fill="#0e8c18"/>
<circle cx="1395.1" cy="1206.8" r="2.25" fill="#0e8c18"/>
<circle cx="1371.5" cy="1209.4" r="2.25" fill="#0e8c18"/>
<circle cx="1378.8" cy="1209.7" r="2.25" fill="#0e8c18"/>
<circle cx="1535.4" cy="1171.2" r="2.25" fill="#0e8c18"/>
<circle cx="1303.9" cy="1206.0" r="2.25" fill="#0e8c18"/>
<circle cx="1091.0" cy="1219.9" r="2.25" fill="#0e8c18"/>
<circle cx="1124.7" cy="1222.7" r="2.25" fill="#0e8c18"/>
<circle cx="1189.5" cy="1217.2" r="2.25" fill="#0e8c18"/>
<circle cx="1250.2" cy="1219.9" r="2.25" fill="#0e8c18"/>
<circle cx="1236.9" cy="1221.2" r="2.25" fill="#0e8c18"/>
<circle cx="1272.2" cy="1213.8" r="2.25" fill="#0e8c18"/>
<circle cx="1278.3" cy="1213.0" r="2.25" fill="#0e8c18"/>
<circle cx="1282.6" cy="1214.8" r="2.25" fill="#0e8c18"/>
<circle cx="1273.8" cy="1218.5" r="2.25" fill="#0e8c18"/>
<circle cx="1289.1" cy="1217.1" r="2.25" fill="#0e8c18"/>
<circle cx="1291.2" cy="1214.3" r="2.25" fill="#0e8c18"/>
<circle cx="1296.3" cy="1221.4" r="2.25" fill="#0e8c18"/>
<circle cx="1094.8" cy="1234.6" r="2.25" fill="#0e8c18"/>
<circle cx="1204.7" cy="1231.0" r="2.25" fill="#0e8c18"/>
<circle cx="1216.0" cy="1232.0" r="2.25" fill="#0e8c18"/>
<circle cx="1187.7" cy="1237.9" r="2.25" fill="#0e8c18"/>
<circle cx="1201.2" cy="1240.7" r="2.25" fill="#0e8c18"/>
<circle cx="1206.8" cy="1240.0" r="2.25" fill="#0e8c18"/>
<circle cx="1270.6" cy="1237.1" r="2.25" fill="#0e8c18"/>
<circle cx="1291.2" cy="1232.6" r="2.25" fill="#0e8c18"/>
<circle cx="1216.9" cy="1244.0" r="2.25" fill="#0e8c18"/>
<circle cx="1279.0" cy="1243.7" r="2.25" fill="#0e8c18"/>
<circle cx="1091.9" cy="1252.1" r="2.25" fill="#0e8c18"/>
<circle cx="1206.6" cy="1250.2" r="2.25" fill="#0e8c18"/>
<circle cx="1225.4" cy="1248.4" r="2.25" fill="#0e8c18"/>
<circle cx="1216.0" cy="1251.6" r="2.25" fill="#0e8c18"/>
<circle cx="1253.6" cy="1248.4" r="2.25" fill="#0e8c18"/>
<circle cx="1262.2" cy="1251.0" r="2.25" fill="#0e8c18"/>
<circle cx="1280.6" cy="1251.1" r="2.25" fill="#0e8c18"/>
<circle cx="1212.6" cy="1255.9" r="2.25" fill="#0e8c18"/>
<circle cx="1223.0" cy="1256.7" r="2.25" fill="#0e8c18"/>
<circle cx="1264.3" cy="1255.6" r="2.25" fill="#0e8c18"/>
<circle cx="1249.2" cy="1257.7" r="2.25" fill="#0e8c18"/>
<circle cx="1152.7" cy="1258.7" r="2.25" fill="#0e8c18"/>
<circle cx="1206.6" cy="1260.3" r="2.25" fill="#0e8c18"/>
<circle cx="1193.5" cy="1262.0" r="2.25" fill="#0e8c18"/>
<circle cx="1256.5" cy="1261.2" r="2.25" fill="#0e8c18"/>
<circle cx="1231.2" cy="1263.8" r="2.25" fill="#0e8c18"/>
<circle cx="1239.9" cy="1265.6" r="2.25" fill="#0e8c18"/>
<circle cx="1123.4" cy="1269.3" r="2.25" fill="#0e8c18"/>
<circle cx="1173.1" cy="1271.2" r="2.25" fill="#0e8c18"/>
<circle cx="1161.0" cy="1273.1" r="2.25" fill="#0e8c18"/>
<circle cx="1239.6" cy="1270.9" r="2.25" fill="#0e8c18"/>
<circle cx="1261.0" cy="1272.2" r="2.25" fill="#0e8c18"/>
<circle cx="1169.4" cy="1278.3" r="2.25" fill="#0e8c18"/>
<circle cx="1226.7" cy="1280.0" r="2.25" fill="#0e8c18"/>
<circle cx="1251.3" cy="1280.4" r="2.25" fill="#0e8c18"/>
<circle cx="1163.4" cy="1282.3" r="2.25" fill="#0e8c18"/>
<circle cx="1180.0" cy="1284.7" r="2.25" fill="#0e8c18"/>
<circle cx="1280.1" cy="1283.9" r="2.25" fill="#0e8c18"/>
<circle cx="1114.7" cy="1289.7" r="2.25" fill="#0e8c18"/>
<circle cx="1191.5" cy="1289.5" r="2.25" fill="#0e8c18"/>
<circle cx="1225.6" cy="1287.6" r="2.25" fill="#0e8c18"/>
<circle cx="1266.9" cy="1285.7" r="2.25" fill="#0e8c18"/>
<circle cx="1265.8" cy="1288.6" r="2.25" fill="#0e8c18"/>
<circle cx="1106.4" cy="1295.8" r="2.25" fill="#0e8c18"/>
<circle cx="1107.7" cy="1298.2" r="2.25" fill="#0e8c18"/>
<circle cx="1167.0" cy="1294.7" r="2.25" fill="#0e8c18"/>
<circle cx="1251.8" cy="1295.1" r="2.25" fill="#0e8c18"/>
<circle cx="1266.6" cy="1294.5" r="2.25" fill="#0e8c18"/>
<circle cx="1219.7" cy="1299.2" r="2.25" fill="#0e8c18"/>
<circle cx="1185.8" cy="1299.5" r="2.25" fill="#0e8c18"/>
<circle cx="1165.3" cy="1301.1" r="2.25" fill="#0e8c18"/>
<circle cx="1177.4" cy="1300.9" r="2.25" fill="#0e8c18"/>
<circle cx="1179.0" cy="1301.7" r="2.25" fill="#0e8c18"/>
<circle cx="1193.0" cy="1302.1" r="2.25" fill="#0e8c18"/>
<circle cx="1261.3" cy="1296.9" r="2.25" fill="#0e8c18"/>
<circle cx="1242.5" cy="1303.3" r="2.25" fill="#0e8c18"/>
<circle cx="1175.8" cy="1305.9" r="2.25" fill="#0e8c18"/>
<circle cx="1205.8" cy="1305.7" r="2.25" fill="#0e8c18"/>
<circle cx="1082.1" cy="1310.4" r="2.25" fill="#0e8c18"/>
<circle cx="1116.7" cy="1309.3" r="2.25" fill="#0e8c18"/>
<circle cx="1232.8" cy="1310.1" r="2.25" fill="#0e8c18"/>
<circle cx="1257.3" cy="1312.2" r="2.25" fill="#0e8c18"/>
<circle cx="1267.7" cy="1310.7" r="2.25" fill="#0e8c18"/>
<circle cx="1148.3" cy="1316.2" r="2.25" fill="#0e8c18"/>
<circle cx="1170.7" cy="1316.4" r="2.25" fill="#0e8c18"/>
<circle cx="1182.2" cy="1316.2" r="2.25" fill="#0e8c18"/>
<circle cx="1186.7" cy="1316.5" r="2.25" fill="#0e8c18"/>
<circle cx="1193.1" cy="1314.9" r="2.25" fill="#0e8c18"/>
<circle cx="1205.4" cy="1315.5" r="2.25" fill="#0e8c18"/>
<circle cx="1204.2" cy="1320.9" r="2.25" fill="#0e8c18"/>
<circle cx="1244.1" cy="1320.4" r="2.25" fill="#0e8c18"/>
<circle cx="1243.8" cy="1322.0" r="2.25" fill="#0e8c18"/>
<circle cx="1259.3" cy="1322.5" r="2.25" fill="#0e8c18"/>
<circle cx="1108.8" cy="1323.4" r="2.25" fill="#0e8c18"/>
<circle cx="1175.3" cy="1329.4" r="2.25" fill="#0e8c18"/>
<circle cx="1167.8" cy="1331.5" r="2.25" fill="#0e8c18"/>
<circle cx="1209.5" cy="1329.8" r="2.25" fill="#0e8c18"/>
<circle cx="1100.4" cy="1330.8" r="2.25" fill="#0e8c18"/>
<circle cx="1173.9" cy="1334.5" r="2.25" fill="#0e8c18"/>
<circle cx="1215.5" cy="1334.7" r="2.25" fill="#0e8c18"/>
<circle cx="1288.6" cy="1336.0" r="2.25" fill="#0e8c18"/>
<circle cx="1120.4" cy="1338.0" r="2.25" fill="#0e8c18"/>
<circle cx="1198.0" cy="1338.2" r="2.25" fill="#0e8c18"/>
<circle cx="1204.2" cy="1342.5" r="2.25" fill="#0e8c18"/>
<circle cx="1234.0" cy="1340.9" r="2.25" fill="#0e8c18"/>
<circle cx="1282.5" cy="1340.8" r="2.25" fill="#0e8c18"/>
<circle cx="1298.7" cy="1341.6" r="2.25" fill="#0e8c18"/>
<circle cx="1137.4" cy="1345.1" r="2.25" fill="#0e8c18"/>
<circle cx="1160.8" cy="1347.4" r="2.25" fill="#0e8c18"/>
<circle cx="1177.6" cy="1351.7" r="2.25" fill="#0e8c18"/>
<circle cx="1238.1" cy="1348.8" r="2.25" fill="#0e8c18"/>
<circle cx="1187.7" cy="1359.9" r="2.25" fill="#0e8c18"/>
<circle cx="1290.2" cy="1356.7" r="2.25" fill="#0e8c18"/>
<circle cx="1059.0" cy="1361.8" r="2.25" fill="#0e8c18"/>
<circle cx="1139.3" cy="1366.5" r="2.25" fill="#0e8c18"/>
<circle cx="1148.8" cy="1368.7" r="2.25" fill="#0e8c18"/>
<circle cx="1179.8" cy="1371.3" r="2.25" fill="#0e8c18"/>
<circle cx="1204.4" cy="1370.2" r="2.25" fill="#0e8c18"/>
<circle cx="1210.5" cy="1373.2" r="2.25" fill="#0e8c18"/>
<circle cx="1139.6" cy="1375.5" r="2.25" fill="#0e8c18"/>
<circle cx="1146.9" cy="1377.9" r="2.25" fill="#0e8c18"/>
<circle cx="1191.2" cy="1383.4" r="2.25" fill="#0e8c18"/>
<circle cx="1205.8" cy="1385.4" r="2.25" fill="#0e8c18"/>
<circle cx="1279.6" cy="1384.2" r="2.25" fill="#0e8c18"/>
<circle cx="1139.3" cy="1407.0" r="2.25" fill="#0e8c18"/>
<circle cx="1304.4" cy="1210.9" r="2.25" fill="#0e8c18"/>
<circle cx="1312.7" cy="1211.4" r="2.25" fill="#0e8c18"/>
<circle cx="1318.2" cy="1211.1" r="2.25" fill="#0e8c18"/>
<circle cx="1423.7" cy="1211.4" r="2.25" fill="#0e8c18"/>
<circle cx="1321.1" cy="1215.8" r="2.25" fill="#0e8c18"/>
<circle cx="1324.3" cy="1217.2" r="2.25" fill="#0e8c18"/>
<circle cx="1320.9" cy="1227.2" r="2.25" fill="#0e8c18"/>
<circle cx="1439.0" cy="1227.0" r="2.25" fill="#0e8c18"/>
<circle cx="1346.0" cy="1232.0" r="2.25" fill="#0e8c18"/>
<circle cx="1359.0" cy="1229.6" r="2.25" fill="#0e8c18"/>
<circle cx="1368.8" cy="1233.3" r="2.25" fill="#0e8c18"/>
<circle cx="1377.9" cy="1228.5" r="2.25" fill="#0e8c18"/>
<circle cx="1307.9" cy="1235.9" r="2.25" fill="#0e8c18"/>
<circle cx="1330.7" cy="1239.1" r="2.25" fill="#0e8c18"/>
<circle cx="1384.4" cy="1242.3" r="2.25" fill="#0e8c18"/>
<circle cx="1423.9" cy="1244.2" r="2.25" fill="#0e8c18"/>
<circle cx="1306.9" cy="1248.1" r="2.25" fill="#0e8c18"/>
<circle cx="1308.2" cy="1253.2" r="2.25" fill="#0e8c18"/>
<circle cx="1316.1" cy="1259.5" r="2.25" fill="#0e8c18"/>
<circle cx="1322.2" cy="1262.0" r="2.25" fill="#0e8c18"/>
<circle cx="1338.9" cy="1259.6" r="2.25" fill="#0e8c18"/>
<circle cx="1303.4" cy="1266.7" r="2.25" fill="#0e8c18"/>
<circle cx="1312.4" cy="1268.5" r="2.25" fill="#0e8c18"/>
<circle cx="1365.9" cy="1264.9" r="2.25" fill="#0e8c18"/>
<circle cx="1335.8" cy="1274.1" r="2.25" fill="#0e8c18"/>
<circle cx="1377.8" cy="1275.1" r="2.25" fill="#0e8c18"/>
<circle cx="1309.3" cy="1277.3" r="2.25" fill="#0e8c18"/>
<circle cx="1406.7" cy="1289.0" r="2.25" fill="#0e8c18"/>
<circle cx="1310.0" cy="1297.4" r="2.25" fill="#0e8c18"/>
<circle cx="1333.3" cy="1295.3" r="2.25" fill="#0e8c18"/>
<circle cx="1330.5" cy="1300.4" r="2.25" fill="#0e8c18"/>
<circle cx="1356.3" cy="1313.8" r="2.25" fill="#0e8c18"/>
<circle cx="1367.5" cy="1318.9" r="2.25" fill="#0e8c18"/>
<circle cx="1298.9" cy="1341.7" r="2.25" fill="#0e8c18"/>
<circle cx="1234.1" cy="1011.8" r="2.25" fill="#f3281c"/>
<circle cx="1188.3" cy="1028.5" r="2.25" fill="#f3281c"/>
<circle cx="1287.8" cy="1043.9" r="2.25" fill="#f3281c"/>
<circle cx="1163.4" cy="1055.2" r="2.25" fill="#f3281c"/>
<circle cx="1179.0" cy="1068.0" r="2.25" fill="#f3281c"/>
<circle cx="1224.8" cy="1075.9" r="2.25" fill="#f3281c"/>
<circle cx="1262.2" cy="1072.2" r="2.25" fill="#f3281c"/>
<circle cx="1293.1" cy="1097.4" r="2.25" fill="#f3281c"/>
<circle cx="1207.9" cy="1115.4" r="2.25" fill="#f3281c"/>
<circle cx="1211.9" cy="1114.9" r="2.25" fill="#f3281c"/>
<circle cx="1251.3" cy="1122.2" r="2.25" fill="#f3281c"/>
<circle cx="1256.9" cy="1120.1" r="2.25" fill="#f3281c"/>
<circle cx="1267.4" cy="1123.8" r="2.25" fill="#f3281c"/>
<circle cx="1197.8" cy="1128.9" r="2.25" fill="#f3281c"/>
<circle cx="1243.0" cy="1129.1" r="2.25" fill="#f3281c"/>
<circle cx="1272.2" cy="1131.0" r="2.25" fill="#f3281c"/>
<circle cx="1221.6" cy="1135.5" r="2.25" fill="#f3281c"/>
<circle cx="1284.3" cy="1139.0" r="2.25" fill="#f3281c"/>
<circle cx="1281.4" cy="1144.2" r="2.25" fill="#f3281c"/>
<circle cx="1271.9" cy="1149.2" r="2.25" fill="#f3281c"/>
<circle cx="1280.2" cy="1155.9" r="2.25" fill="#f3281c"/>
<circle cx="1230.7" cy="1160.7" r="2.25" fill="#f3281c"/>
<circle cx="1289.4" cy="1161.5" r="2.25" fill="#f3281c"/>
<circle cx="1276.2" cy="1168.0" r="2.25" fill="#f3281c"/>
<circle cx="1142.9" cy="1171.7" r="2.25" fill="#f3281c"/>
<circle cx="1252.9" cy="1174.9" r="2.25" fill="#f3281c"/>
<circle cx="1234.1" cy="1180.5" r="2.25" fill="#f3281c"/>
<circle cx="1263.8" cy="1179.7" r="2.25" fill="#f3281c"/>
<circle cx="1264.2" cy="1184.0" r="2.25" fill="#f3281c"/>
<circle cx="1183.5" cy="1191.7" r="2.25" fill="#f3281c"/>
<circle cx="1244.6" cy="1200.9" r="2.25" fill="#f3281c"/>
<circle cx="1209.2" cy="1202.5" r="2.25" fill="#f3281c"/>
<circle cx="1353.0" cy="1014.2" r="2.25" fill="#f3281c"/>
<circle cx="1465.8" cy="1007.8" r="2.25" fill="#f3281c"/>
<circle cx="1421.0" cy="1017.9" r="2.25" fill="#f3281c"/>
<circle cx="1429.7" cy="1015.2" r="2.25" fill="#f3281c"/>
<circle cx="1346.1" cy="1025.6" r="2.25" fill="#f3281c"/>
<circle cx="1354.3" cy="1025.6" r="2.25" fill="#f3281c"/>
<circle cx="1405.9" cy="1030.1" r="2.25" fill="#f3281c"/>
<circle cx="1364.5" cy="1035.6" r="2.25" fill="#f3281c"/>
<circle cx="1362.2" cy="1042.1" r="2.25" fill="#f3281c"/>
<circle cx="1457.2" cy="1044.6" r="2.25" fill="#f3281c"/>
<circle cx="1459.9" cy="1045.2" r="2.25" fill="#f3281c"/>
<circle cx="1316.2" cy="1052.8" r="2.25" fill="#f3281c"/>
<circle cx="1342.0" cy="1058.4" r="2.25" fill="#f3281c"/>
<circle cx="1450.9" cy="1056.0" r="2.25" fill="#f3281c"/>
<circle cx="1394.7" cy="1061.4" r="2.25" fill="#f3281c"/>
<circle cx="1365.1" cy="1070.1" r="2.25" fill="#f3281c"/>
<circle cx="1315.0" cy="1080.7" r="2.25" fill="#f3281c"/>
<circle cx="1347.7" cy="1079.7" r="2.25" fill="#f3281c"/>
<circle cx="1395.0" cy="1081.4" r="2.25" fill="#f3281c"/>
<circle cx="1400.8" cy="1080.4" r="2.25" fill="#f3281c"/>
<circle cx="1325.1" cy="1091.2" r="2.25" fill="#f3281c"/>
<circle cx="1324.9" cy="1094.7" r="2.25" fill="#f3281c"/>
<circle cx="1356.7" cy="1096.0" r="2.25" fill="#f3281c"/>
<circle cx="1429.4" cy="1099.8" r="2.25" fill="#f3281c"/>
<circle cx="1383.6" cy="1104.8" r="2.25" fill="#f3281c"/>
<circle cx="1339.1" cy="1105.6" r="2.25" fill="#f3281c"/>
<circle cx="1514.5" cy="1096.5" r="2.25" fill="#f3281c"/>
<circle cx="1332.6" cy="1112.8" r="2.25" fill="#f3281c"/>
<circle cx="1447.7" cy="1109.2" r="2.25" fill="#f3281c"/>
<circle cx="1372.0" cy="1115.7" r="2.25" fill="#f3281c"/>
<circle cx="1433.1" cy="1116.1" r="2.25" fill="#f3281c"/>
<circle cx="1360.0" cy="1122.3" r="2.25" fill="#f3281c"/>
<circle cx="1394.5" cy="1118.8" r="2.25" fill="#f3281c"/>
<circle cx="1385.3" cy="1121.4" r="2.25" fill="#f3281c"/>
<circle cx="1387.1" cy="1122.3" r="2.25" fill="#f3281c"/>
<circle cx="1381.8" cy="1129.9" r="2.25" fill="#f3281c"/>
<circle cx="1416.2" cy="1138.7" r="2.25" fill="#f3281c"/>
<circle cx="1406.2" cy="1151.3" r="2.25" fill="#f3281c"/>
<circle cx="1315.3" cy="1165.6" r="2.25" fill="#f3281c"/>
<circle cx="1325.1" cy="1164.7" r="2.25" fill="#f3281c"/>
<circle cx="1358.5" cy="1164.3" r="2.25" fill="#f3281c"/>
<circle cx="1318.5" cy="1171.7" r="2.25" fill="#f3281c"/>
<circle cx="1336.8" cy="1178.7" r="2.25" fill="#f3281c"/>
<circle cx="1338.7" cy="1179.7" r="2.25" fill="#f3281c"/>
<circle cx="1332.3" cy="1199.0" r="2.25" fill="#f3281c"/>
<circle cx="1304.4" cy="1204.1" r="2.25" fill="#f3281c"/>
<circle cx="1337.0" cy="1216.2" r="2.25" fill="#f3281c"/>
<circle cx="1432.7" cy="1235.9" r="2.25" fill="#f3281c"/>
<line x1="1059.6" y1="1309.6" x2="1535.8" y2="1071.5" stroke="#1f6fe6" stroke-width="2.3"/>
<rect x="1612.9" y="987.6" width="146.89999999999986" height="438.1" fill="#fcfcfc"/>
<line x1="1612.9" y1="1366.0" x2="1759.8" y2="1366.0" stroke="#fff" stroke-width="1.4"/>
<line x1="1612.9" y1="1282.9" x2="1759.8" y2="1282.9" stroke="#fff" stroke-width="1.4"/>
<line x1="1612.9" y1="1199.8" x2="1759.8" y2="1199.8" stroke="#fff" stroke-width="1.4"/>
<line x1="1612.9" y1="1116.7" x2="1759.8" y2="1116.7" stroke="#fff" stroke-width="1.4"/>
<line x1="1612.9" y1="1033.6" x2="1759.8" y2="1033.6" stroke="#fff" stroke-width="1.4"/>
<line x1="1652.6" y1="987.6" x2="1652.6" y2="1425.7" stroke="#fff" stroke-width="1.4"/>
<line x1="1720.5" y1="987.6" x2="1720.5" y2="1425.7" stroke="#fff" stroke-width="1.4"/>
<line x1="1610.7" y1="1116.7" x2="1612.9" y2="1116.7" stroke="#888" stroke-width="1"/>
<text x="1605.1" y="1122.7" font-size="16.3" text-anchor="end" font-family="'Liberation Sans', Arial, sans-serif" fill="#000" >13</text>
<line x1="1610.7" y1="1282.9" x2="1612.9" y2="1282.9" stroke="#888" stroke-width="1"/>
<text x="1605.1" y="1288.9" font-size="16.3" text-anchor="end" font-family="'Liberation Sans', Arial, sans-serif" fill="#000" >12</text>
<line x1="1652.6" y1="1425.7" x2="1652.6" y2="1427.9" stroke="#888" stroke-width="1"/>
<text x="1652.6" y="1445.7" font-size="16" text-anchor="middle" font-family="'Liberation Sans', Arial, sans-serif" fill="#000" >LDep</text>
<line x1="1720.5" y1="1425.7" x2="1720.5" y2="1427.9" stroke="#888" stroke-width="1"/>
<text x="1720.5" y="1445.7" font-size="16" text-anchor="middle" font-family="'Liberation Sans', Arial, sans-serif" fill="#000" >LDom</text>
<polyline points="1652.6,1018.6 1652.6,1007.9 1720.5,1007.9 1720.5,1018.6" fill="none" stroke="#555" stroke-width="1.3"/>
<text x="1632.9" y="979" font-size="19" font-family="'Liberation Sans', Arial, sans-serif">p &lt; 2.2 x 10<tspan font-size="12" dy="-6.5">-16</tspan></text>
<line x1="1652.6" y1="1026.9" x2="1652.6" y2="1243.6" stroke="#666" stroke-width="1.05"/>
<rect x="1627.4" y="1086" width="50.4" height="86.0" fill="#fba4a2" stroke="#555" stroke-width="1.05"/>
<line x1="1720.5" y1="1078.8" x2="1720.5" y2="1406.7" stroke="#666" stroke-width="1.05"/>
<rect x="1695.3" y="1178.6" width="50.4" height="113.3" fill="#a2d2a2" stroke="#555" stroke-width="1.05"/>
<circle cx="1641.4" cy="1227.1" r="2.35" fill="#f3281c"/>
<circle cx="1663.7" cy="1220.8" r="2.35" fill="#f3281c"/>
<circle cx="1645.8" cy="1214.9" r="2.35" fill="#f3281c"/>
<circle cx="1643.4" cy="1213.7" r="2.35" fill="#f3281c"/>
<circle cx="1676.5" cy="1210.1" r="2.35" fill="#f3281c"/>
<circle cx="1652.8" cy="1206.2" r="2.35" fill="#f3281c"/>
<circle cx="1670.7" cy="1201.4" r="2.35" fill="#f3281c"/>
<circle cx="1658.7" cy="1197.7" r="2.35" fill="#f3281c"/>
<circle cx="1628.5" cy="1195.5" r="2.35" fill="#f3281c"/>
<circle cx="1648.1" cy="1193.3" r="2.35" fill="#f3281c"/>
<circle cx="1649.3" cy="1190.2" r="2.35" fill="#f3281c"/>
<circle cx="1666.6" cy="1187.2" r="2.35" fill="#f3281c"/>
<circle cx="1644.7" cy="1184.7" r="2.35" fill="#f3281c"/>
<circle cx="1663.1" cy="1182.3" r="2.35" fill="#f3281c"/>
<circle cx="1654.5" cy="1179.9" r="2.35" fill="#f3281c"/>
<circle cx="1638.0" cy="1178.1" r="2.35" fill="#f3281c"/>
<circle cx="1671.2" cy="1177.2" r="2.35" fill="#f3281c"/>
<circle cx="1631.6" cy="1173.8" r="2.35" fill="#f3281c"/>
<circle cx="1669.0" cy="1172.9" r="2.35" fill="#f3281c"/>
<circle cx="1635.7" cy="1170.2" r="2.35" fill="#f3281c"/>
<circle cx="1627.0" cy="1168.3" r="2.35" fill="#f3281c"/>
<circle cx="1637.3" cy="1165.3" r="2.35" fill="#f3281c"/>
<circle cx="1666.1" cy="1164.2" r="2.35" fill="#f3281c"/>
<circle cx="1677.2" cy="1161.9" r="2.35" fill="#f3281c"/>
<circle cx="1627.1" cy="1159.6" r="2.35" fill="#f3281c"/>
<circle cx="1652.1" cy="1157.6" r="2.35" fill="#f3281c"/>
<circle cx="1652.2" cy="1153.7" r="2.35" fill="#f3281c"/>
<circle cx="1667.9" cy="1152.1" r="2.35" fill="#f3281c"/>
<circle cx="1636.4" cy="1150.4" r="2.35" fill="#f3281c"/>
<circle cx="1652.3" cy="1148.0" r="2.35" fill="#f3281c"/>
<circle cx="1644.7" cy="1144.4" r="2.35" fill="#f3281c"/>
<circle cx="1669.7" cy="1143.3" r="2.35" fill="#f3281c"/>
<circle cx="1640.3" cy="1141.7" r="2.35" fill="#f3281c"/>
<circle cx="1675.4" cy="1138.1" r="2.35" fill="#f3281c"/>
<circle cx="1641.5" cy="1136.2" r="2.35" fill="#f3281c"/>
<circle cx="1637.9" cy="1133.2" r="2.35" fill="#f3281c"/>
<circle cx="1662.9" cy="1132.9" r="2.35" fill="#f3281c"/>
<circle cx="1652.5" cy="1129.9" r="2.35" fill="#f3281c"/>
<circle cx="1632.5" cy="1126.7" r="2.35" fill="#f3281c"/>
<circle cx="1659.6" cy="1124.3" r="2.35" fill="#f3281c"/>
<circle cx="1631.1" cy="1121.8" r="2.35" fill="#f3281c"/>
<circle cx="1667.4" cy="1121.5" r="2.35" fill="#f3281c"/>
<circle cx="1662.7" cy="1118.6" r="2.35" fill="#f3281c"/>
<circle cx="1667.4" cy="1116.7" r="2.35" fill="#f3281c"/>
<circle cx="1659.2" cy="1114.2" r="2.35" fill="#f3281c"/>
<circle cx="1645.2" cy="1110.0" r="2.35" fill="#f3281c"/>
<circle cx="1647.5" cy="1108.6" r="2.35" fill="#f3281c"/>
<circle cx="1647.2" cy="1105.4" r="2.35" fill="#f3281c"/>
<circle cx="1672.7" cy="1104.4" r="2.35" fill="#f3281c"/>
<circle cx="1631.3" cy="1100.9" r="2.35" fill="#f3281c"/>
<circle cx="1672.6" cy="1099.6" r="2.35" fill="#f3281c"/>
<circle cx="1628.2" cy="1097.7" r="2.35" fill="#f3281c"/>
<circle cx="1637.5" cy="1094.1" r="2.35" fill="#f3281c"/>
<circle cx="1640.4" cy="1091.4" r="2.35" fill="#f3281c"/>
<circle cx="1673.2" cy="1091.0" r="2.35" fill="#f3281c"/>
<circle cx="1652.7" cy="1087.5" r="2.35" fill="#f3281c"/>
<circle cx="1646.4" cy="1085.4" r="2.35" fill="#f3281c"/>
<circle cx="1672.3" cy="1084.5" r="2.35" fill="#f3281c"/>
<circle cx="1638.9" cy="1082.6" r="2.35" fill="#f3281c"/>
<circle cx="1650.6" cy="1081.3" r="2.35" fill="#f3281c"/>
<circle cx="1654.2" cy="1079.4" r="2.35" fill="#f3281c"/>
<circle cx="1665.7" cy="1077.5" r="2.35" fill="#f3281c"/>
<circle cx="1665.6" cy="1075.0" r="2.35" fill="#f3281c"/>
<circle cx="1660.1" cy="1072.9" r="2.35" fill="#f3281c"/>
<circle cx="1644.8" cy="1071.8" r="2.35" fill="#f3281c"/>
<circle cx="1643.7" cy="1070.1" r="2.35" fill="#f3281c"/>
<circle cx="1634.9" cy="1067.1" r="2.35" fill="#f3281c"/>
<circle cx="1670.2" cy="1063.9" r="2.35" fill="#f3281c"/>
<circle cx="1660.9" cy="1062.6" r="2.35" fill="#f3281c"/>
<circle cx="1665.0" cy="1059.5" r="2.35" fill="#f3281c"/>
<circle cx="1635.6" cy="1056.8" r="2.35" fill="#f3281c"/>
<circle cx="1649.5" cy="1051.4" r="2.35" fill="#f3281c"/>
<circle cx="1666.7" cy="1048.3" r="2.35" fill="#f3281c"/>
<circle cx="1656.7" cy="1046.0" r="2.35" fill="#f3281c"/>
<circle cx="1633.4" cy="1040.0" r="2.35" fill="#f3281c"/>
<circle cx="1650.6" cy="1026.9" r="2.35" fill="#f3281c"/>
<circle cx="1672.4" cy="1243.6" r="2.35" fill="#f3281c"/>
<circle cx="1707.0" cy="1398.0" r="2.35" fill="#0e8c18"/>
<circle cx="1704.6" cy="1390.6" r="2.35" fill="#0e8c18"/>
<circle cx="1710.3" cy="1385.9" r="2.35" fill="#0e8c18"/>
<circle cx="1730.9" cy="1384.2" r="2.35" fill="#0e8c18"/>
<circle cx="1738.2" cy="1380.7" r="2.35" fill="#0e8c18"/>
<circle cx="1702.7" cy="1376.3" r="2.35" fill="#0e8c18"/>
<circle cx="1702.8" cy="1374.5" r="2.35" fill="#0e8c18"/>
<circle cx="1707.5" cy="1372.4" r="2.35" fill="#0e8c18"/>
<circle cx="1711.6" cy="1370.1" r="2.35" fill="#0e8c18"/>
<circle cx="1721.6" cy="1366.7" r="2.35" fill="#0e8c18"/>
<circle cx="1703.1" cy="1366.0" r="2.35" fill="#0e8c18"/>
<circle cx="1711.7" cy="1363.6" r="2.35" fill="#0e8c18"/>
<circle cx="1704.5" cy="1362.1" r="2.35" fill="#0e8c18"/>
<circle cx="1744.9" cy="1360.3" r="2.35" fill="#0e8c18"/>
<circle cx="1732.3" cy="1357.9" r="2.35" fill="#0e8c18"/>
<circle cx="1700.0" cy="1356.0" r="2.35" fill="#0e8c18"/>
<circle cx="1744.3" cy="1355.5" r="2.35" fill="#0e8c18"/>
<circle cx="1700.0" cy="1354.2" r="2.35" fill="#0e8c18"/>
<circle cx="1714.5" cy="1351.9" r="2.35" fill="#0e8c18"/>
<circle cx="1745.4" cy="1351.2" r="2.35" fill="#0e8c18"/>
<circle cx="1735.7" cy="1350.1" r="2.35" fill="#0e8c18"/>
<circle cx="1732.5" cy="1347.5" r="2.35" fill="#0e8c18"/>
<circle cx="1717.2" cy="1346.8" r="2.35" fill="#0e8c18"/>
<circle cx="1704.9" cy="1344.9" r="2.35" fill="#0e8c18"/>
<circle cx="1727.6" cy="1344.2" r="2.35" fill="#0e8c18"/>
<circle cx="1700.3" cy="1342.3" r="2.35" fill="#0e8c18"/>
<circle cx="1705.4" cy="1341.6" r="2.35" fill="#0e8c18"/>
<circle cx="1714.8" cy="1340.8" r="2.35" fill="#0e8c18"/>
<circle cx="1696.5" cy="1339.7" r="2.35" fill="#0e8c18"/>
<circle cx="1715.3" cy="1337.9" r="2.35" fill="#0e8c18"/>
<circle cx="1735.5" cy="1336.7" r="2.35" fill="#0e8c18"/>
<circle cx="1730.4" cy="1335.2" r="2.35" fill="#0e8c18"/>
<circle cx="1720.5" cy="1335.0" r="2.35" fill="#0e8c18"/>
<circle cx="1727.3" cy="1333.4" r="2.35" fill="#0e8c18"/>
<circle cx="1718.6" cy="1332.5" r="2.35" fill="#0e8c18"/>
<circle cx="1702.1" cy="1331.3" r="2.35" fill="#0e8c18"/>
<circle cx="1725.8" cy="1330.7" r="2.35" fill="#0e8c18"/>
<circle cx="1715.6" cy="1329.5" r="2.35" fill="#0e8c18"/>
<circle cx="1732.9" cy="1328.2" r="2.35" fill="#0e8c18"/>
<circle cx="1741.5" cy="1326.8" r="2.35" fill="#0e8c18"/>
<circle cx="1716.9" cy="1326.6" r="2.35" fill="#0e8c18"/>
<circle cx="1724.3" cy="1325.2" r="2.35" fill="#0e8c18"/>
<circle cx="1733.3" cy="1324.0" r="2.35" fill="#0e8c18"/>
<circle cx="1716.4" cy="1322.9" r="2.35" fill="#0e8c18"/>
<circle cx="1706.5" cy="1322.6" r="2.35" fill="#0e8c18"/>
<circle cx="1731.9" cy="1321.8" r="2.35" fill="#0e8c18"/>
<circle cx="1740.0" cy="1320.1" r="2.35" fill="#0e8c18"/>
<circle cx="1734.6" cy="1319.1" r="2.35" fill="#0e8c18"/>
<circle cx="1730.8" cy="1318.7" r="2.35" fill="#0e8c18"/>
<circle cx="1738.6" cy="1318.1" r="2.35" fill="#0e8c18"/>
<circle cx="1729.7" cy="1316.5" r="2.35" fill="#0e8c18"/>
<circle cx="1727.8" cy="1316.1" r="2.35" fill="#0e8c18"/>
<circle cx="1718.1" cy="1314.7" r="2.35" fill="#0e8c18"/>
<circle cx="1710.9" cy="1314.1" r="2.35" fill="#0e8c18"/>
<circle cx="1727.1" cy="1313.1" r="2.35" fill="#0e8c18"/>
<circle cx="1699.8" cy="1312.8" r="2.35" fill="#0e8c18"/>
<circle cx="1716.4" cy="1311.4" r="2.35" fill="#0e8c18"/>
<circle cx="1735.0" cy="1311.1" r="2.35" fill="#0e8c18"/>
<circle cx="1731.5" cy="1310.1" r="2.35" fill="#0e8c18"/>
<circle cx="1727.2" cy="1308.9" r="2.35" fill="#0e8c18"/>
<circle cx="1707.7" cy="1308.1" r="2.35" fill="#0e8c18"/>
<circle cx="1716.6" cy="1307.8" r="2.35" fill="#0e8c18"/>
<circle cx="1718.2" cy="1307.0" r="2.35" fill="#0e8c18"/>
<circle cx="1726.7" cy="1306.0" r="2.35" fill="#0e8c18"/>
<circle cx="1715.8" cy="1305.2" r="2.35" fill="#0e8c18"/>
<circle cx="1729.5" cy="1304.5" r="2.35" fill="#0e8c18"/>
<circle cx="1742.6" cy="1303.9" r="2.35" fill="#0e8c18"/>
<circle cx="1704.2" cy="1303.0" r="2.35" fill="#0e8c18"/>
<circle cx="1728.4" cy="1301.9" r="2.35" fill="#0e8c18"/>
<circle cx="1734.8" cy="1301.0" r="2.35" fill="#0e8c18"/>
<circle cx="1714.8" cy="1300.9" r="2.35" fill="#0e8c18"/>
<circle cx="1720.0" cy="1299.8" r="2.35" fill="#0e8c18"/>
<circle cx="1744.9" cy="1298.9" r="2.35" fill="#0e8c18"/>
<circle cx="1696.8" cy="1298.7" r="2.35" fill="#0e8c18"/>
<circle cx="1722.7" cy="1297.4" r="2.35" fill="#0e8c18"/>
<circle cx="1703.1" cy="1297.2" r="2.35" fill="#0e8c18"/>
<circle cx="1735.0" cy="1296.1" r="2.35" fill="#0e8c18"/>
<circle cx="1743.1" cy="1295.4" r="2.35" fill="#0e8c18"/>
<circle cx="1721.5" cy="1294.6" r="2.35" fill="#0e8c18"/>
<circle cx="1700.0" cy="1294.1" r="2.35" fill="#0e8c18"/>
<circle cx="1724.3" cy="1293.4" r="2.35" fill="#0e8c18"/>
<circle cx="1722.6" cy="1292.5" r="2.35" fill="#0e8c18"/>
<circle cx="1731.7" cy="1292.0" r="2.35" fill="#0e8c18"/>
<circle cx="1721.1" cy="1290.9" r="2.35" fill="#0e8c18"/>
<circle cx="1727.7" cy="1290.3" r="2.35" fill="#0e8c18"/>
<circle cx="1737.4" cy="1289.5" r="2.35" fill="#0e8c18"/>
<circle cx="1721.6" cy="1289.0" r="2.35" fill="#0e8c18"/>
<circle cx="1715.9" cy="1287.6" r="2.35" fill="#0e8c18"/>
<circle cx="1743.5" cy="1286.9" r="2.35" fill="#0e8c18"/>
<circle cx="1705.6" cy="1286.3" r="2.35" fill="#0e8c18"/>
<circle cx="1730.0" cy="1285.0" r="2.35" fill="#0e8c18"/>
<circle cx="1715.0" cy="1284.2" r="2.35" fill="#0e8c18"/>
<circle cx="1734.0" cy="1283.6" r="2.35" fill="#0e8c18"/>
<circle cx="1701.1" cy="1283.0" r="2.35" fill="#0e8c18"/>
<circle cx="1745.4" cy="1281.9" r="2.35" fill="#0e8c18"/>
<circle cx="1713.1" cy="1281.4" r="2.35" fill="#0e8c18"/>
<circle cx="1697.7" cy="1280.6" r="2.35" fill="#0e8c18"/>
<circle cx="1708.9" cy="1279.5" r="2.35" fill="#0e8c18"/>
<circle cx="1715.3" cy="1278.9" r="2.35" fill="#0e8c18"/>
<circle cx="1695.5" cy="1277.8" r="2.35" fill="#0e8c18"/>
<circle cx="1716.3" cy="1276.9" r="2.35" fill="#0e8c18"/>
<circle cx="1716.4" cy="1276.5" r="2.35" fill="#0e8c18"/>
<circle cx="1730.7" cy="1275.2" r="2.35" fill="#0e8c18"/>
<circle cx="1712.9" cy="1274.8" r="2.35" fill="#0e8c18"/>
<circle cx="1708.4" cy="1273.4" r="2.35" fill="#0e8c18"/>
<circle cx="1706.3" cy="1272.5" r="2.35" fill="#0e8c18"/>
<circle cx="1732.9" cy="1271.9" r="2.35" fill="#0e8c18"/>
<circle cx="1743.1" cy="1271.5" r="2.35" fill="#0e8c18"/>
<circle cx="1721.9" cy="1270.3" r="2.35" fill="#0e8c18"/>
<circle cx="1706.0" cy="1269.6" r="2.35" fill="#0e8c18"/>
<circle cx="1736.0" cy="1268.2" r="2.35" fill="#0e8c18"/>
<circle cx="1714.9" cy="1268.1" r="2.35" fill="#0e8c18"/>
<circle cx="1705.7" cy="1266.7" r="2.35" fill="#0e8c18"/>
<circle cx="1701.4" cy="1265.7" r="2.35" fill="#0e8c18"/>
<circle cx="1734.7" cy="1265.1" r="2.35" fill="#0e8c18"/>
<circle cx="1736.4" cy="1264.2" r="2.35" fill="#0e8c18"/>
<circle cx="1727.4" cy="1263.9" r="2.35" fill="#0e8c18"/>
<circle cx="1718.9" cy="1262.4" r="2.35" fill="#0e8c18"/>
<circle cx="1723.7" cy="1262.0" r="2.35" fill="#0e8c18"/>
<circle cx="1706.4" cy="1260.8" r="2.35" fill="#0e8c18"/>
<circle cx="1744.3" cy="1260.0" r="2.35" fill="#0e8c18"/>
<circle cx="1712.9" cy="1259.7" r="2.35" fill="#0e8c18"/>
<circle cx="1727.6" cy="1258.4" r="2.35" fill="#0e8c18"/>
<circle cx="1736.9" cy="1257.4" r="2.35" fill="#0e8c18"/>
<circle cx="1736.8" cy="1257.3" r="2.35" fill="#0e8c18"/>
<circle cx="1718.9" cy="1256.3" r="2.35" fill="#0e8c18"/>
<circle cx="1709.9" cy="1255.1" r="2.35" fill="#0e8c18"/>
<circle cx="1723.0" cy="1254.8" r="2.35" fill="#0e8c18"/>
<circle cx="1701.2" cy="1253.3" r="2.35" fill="#0e8c18"/>
<circle cx="1737.7" cy="1253.0" r="2.35" fill="#0e8c18"/>
<circle cx="1713.0" cy="1251.7" r="2.35" fill="#0e8c18"/>
<circle cx="1738.5" cy="1251.5" r="2.35" fill="#0e8c18"/>
<circle cx="1708.5" cy="1250.3" r="2.35" fill="#0e8c18"/>
<circle cx="1714.1" cy="1249.1" r="2.35" fill="#0e8c18"/>
<circle cx="1707.8" cy="1248.9" r="2.35" fill="#0e8c18"/>
<circle cx="1716.7" cy="1248.0" r="2.35" fill="#0e8c18"/>
<circle cx="1704.4" cy="1247.0" r="2.35" fill="#0e8c18"/>
<circle cx="1694.9" cy="1246.3" r="2.35" fill="#0e8c18"/>
<circle cx="1731.9" cy="1245.7" r="2.35" fill="#0e8c18"/>
<circle cx="1709.3" cy="1244.8" r="2.35" fill="#0e8c18"/>
<circle cx="1707.4" cy="1244.0" r="2.35" fill="#0e8c18"/>
<circle cx="1710.3" cy="1242.5" r="2.35" fill="#0e8c18"/>
<circle cx="1719.4" cy="1241.9" r="2.35" fill="#0e8c18"/>
<circle cx="1716.8" cy="1240.8" r="2.35" fill="#0e8c18"/>
<circle cx="1727.6" cy="1240.6" r="2.35" fill="#0e8c18"/>
<circle cx="1728.7" cy="1239.3" r="2.35" fill="#0e8c18"/>
<circle cx="1713.4" cy="1239.0" r="2.35" fill="#0e8c18"/>
<circle cx="1742.5" cy="1237.8" r="2.35" fill="#0e8c18"/>
<circle cx="1738.7" cy="1236.9" r="2.35" fill="#0e8c18"/>
<circle cx="1697.7" cy="1236.3" r="2.35" fill="#0e8c18"/>
<circle cx="1737.4" cy="1235.0" r="2.35" fill="#0e8c18"/>
<circle cx="1741.4" cy="1234.5" r="2.35" fill="#0e8c18"/>
<circle cx="1735.1" cy="1233.6" r="2.35" fill="#0e8c18"/>
<circle cx="1702.0" cy="1232.5" r="2.35" fill="#0e8c18"/>
<circle cx="1737.5" cy="1232.4" r="2.35" fill="#0e8c18"/>
<circle cx="1727.3" cy="1230.8" r="2.35" fill="#0e8c18"/>
<circle cx="1695.6" cy="1230.3" r="2.35" fill="#0e8c18"/>
<circle cx="1695.4" cy="1229.6" r="2.35" fill="#0e8c18"/>
<circle cx="1743.7" cy="1228.5" r="2.35" fill="#0e8c18"/>
<circle cx="1728.5" cy="1228.1" r="2.35" fill="#0e8c18"/>
<circle cx="1707.6" cy="1226.6" r="2.35" fill="#0e8c18"/>
<circle cx="1700.0" cy="1226.1" r="2.35" fill="#0e8c18"/>
<circle cx="1702.1" cy="1225.5" r="2.35" fill="#0e8c18"/>
<circle cx="1706.8" cy="1224.3" r="2.35" fill="#0e8c18"/>
<circle cx="1734.7" cy="1223.8" r="2.35" fill="#0e8c18"/>
<circle cx="1712.6" cy="1223.2" r="2.35" fill="#0e8c18"/>
<circle cx="1702.6" cy="1222.4" r="2.35" fill="#0e8c18"/>
<circle cx="1741.3" cy="1222.2" r="2.35" fill="#0e8c18"/>
<circle cx="1735.5" cy="1221.2" r="2.35" fill="#0e8c18"/>
<circle cx="1703.4" cy="1221.0" r="2.35" fill="#0e8c18"/>
<circle cx="1740.6" cy="1220.2" r="2.35" fill="#0e8c18"/>
<circle cx="1726.1" cy="1219.5" r="2.35" fill="#0e8c18"/>
<circle cx="1735.0" cy="1219.2" r="2.35" fill="#0e8c18"/>
<circle cx="1729.2" cy="1218.6" r="2.35" fill="#0e8c18"/>
<circle cx="1740.8" cy="1218.3" r="2.35" fill="#0e8c18"/>
<circle cx="1735.3" cy="1217.9" r="2.35" fill="#0e8c18"/>
<circle cx="1737.9" cy="1217.3" r="2.35" fill="#0e8c18"/>
<circle cx="1704.9" cy="1216.7" r="2.35" fill="#0e8c18"/>
<circle cx="1730.4" cy="1215.9" r="2.35" fill="#0e8c18"/>
<circle cx="1722.1" cy="1215.5" r="2.35" fill="#0e8c18"/>
<circle cx="1732.9" cy="1214.9" r="2.35" fill="#0e8c18"/>
<circle cx="1717.3" cy="1214.1" r="2.35" fill="#0e8c18"/>
<circle cx="1740.2" cy="1214.0" r="2.35" fill="#0e8c18"/>
<circle cx="1723.3" cy="1213.4" r="2.35" fill="#0e8c18"/>
<circle cx="1708.4" cy="1212.7" r="2.35" fill="#0e8c18"/>
<circle cx="1706.8" cy="1212.5" r="2.35" fill="#0e8c18"/>
<circle cx="1702.0" cy="1211.9" r="2.35" fill="#0e8c18"/>
<circle cx="1720.1" cy="1211.2" r="2.35" fill="#0e8c18"/>
<circle cx="1697.8" cy="1210.8" r="2.35" fill="#0e8c18"/>
<circle cx="1718.8" cy="1210.1" r="2.35" fill="#0e8c18"/>
<circle cx="1702.2" cy="1209.6" r="2.35" fill="#0e8c18"/>
<circle cx="1720.1" cy="1208.9" r="2.35" fill="#0e8c18"/>
<circle cx="1720.4" cy="1208.4" r="2.35" fill="#0e8c18"/>
<circle cx="1722.5" cy="1208.0" r="2.35" fill="#0e8c18"/>
<circle cx="1739.2" cy="1207.2" r="2.35" fill="#0e8c18"/>
<circle cx="1695.1" cy="1206.8" r="2.35" fill="#0e8c18"/>
<circle cx="1738.0" cy="1206.4" r="2.35" fill="#0e8c18"/>
<circle cx="1718.9" cy="1205.5" r="2.35" fill="#0e8c18"/>
<circle cx="1723.7" cy="1205.3" r="2.35" fill="#0e8c18"/>
<circle cx="1729.0" cy="1204.8" r="2.35" fill="#0e8c18"/>
<circle cx="1738.0" cy="1204.3" r="2.35" fill="#0e8c18"/>
<circle cx="1714.1" cy="1203.4" r="2.35" fill="#0e8c18"/>
<circle cx="1716.3" cy="1202.8" r="2.35" fill="#0e8c18"/>
<circle cx="1744.2" cy="1202.3" r="2.35" fill="#0e8c18"/>
<circle cx="1698.7" cy="1202.0" r="2.35" fill="#0e8c18"/>
<circle cx="1727.5" cy="1201.5" r="2.35" fill="#0e8c18"/>
<circle cx="1727.5" cy="1201.1" r="2.35" fill="#0e8c18"/>
<circle cx="1696.3" cy="1200.2" r="2.35" fill="#0e8c18"/>
<circle cx="1726.1" cy="1199.7" r="2.35" fill="#0e8c18"/>
<circle cx="1729.9" cy="1199.3" r="2.35" fill="#0e8c18"/>
<circle cx="1742.7" cy="1198.6" r="2.35" fill="#0e8c18"/>
<circle cx="1711.8" cy="1198.1" r="2.35" fill="#0e8c18"/>
<circle cx="1745.3" cy="1197.3" r="2.35" fill="#0e8c18"/>
<circle cx="1721.0" cy="1196.9" r="2.35" fill="#0e8c18"/>
<circle cx="1719.7" cy="1196.6" r="2.35" fill="#0e8c18"/>
<circle cx="1740.9" cy="1195.7" r="2.35" fill="#0e8c18"/>
<circle cx="1696.5" cy="1195.6" r="2.35" fill="#0e8c18"/>
<circle cx="1731.7" cy="1194.8" r="2.35" fill="#0e8c18"/>
<circle cx="1726.9" cy="1194.4" r="2.35" fill="#0e8c18"/>
<circle cx="1712.2" cy="1193.9" r="2.35" fill="#0e8c18"/>
<circle cx="1739.1" cy="1193.5" r="2.35" fill="#0e8c18"/>
<circle cx="1713.6" cy="1192.5" r="2.35" fill="#0e8c18"/>
<circle cx="1719.2" cy="1192.4" r="2.35" fill="#0e8c18"/>
<circle cx="1721.8" cy="1191.6" r="2.35" fill="#0e8c18"/>
<circle cx="1734.4" cy="1190.8" r="2.35" fill="#0e8c18"/>
<circle cx="1705.6" cy="1190.7" r="2.35" fill="#0e8c18"/>
<circle cx="1717.2" cy="1190.1" r="2.35" fill="#0e8c18"/>
<circle cx="1716.5" cy="1189.4" r="2.35" fill="#0e8c18"/>
<circle cx="1723.3" cy="1188.9" r="2.35" fill="#0e8c18"/>
<circle cx="1737.3" cy="1188.3" r="2.35" fill="#0e8c18"/>
<circle cx="1709.9" cy="1187.6" r="2.35" fill="#0e8c18"/>
<circle cx="1737.3" cy="1187.4" r="2.35" fill="#0e8c18"/>
<circle cx="1715.6" cy="1186.8" r="2.35" fill="#0e8c18"/>
<circle cx="1720.7" cy="1186.3" r="2.35" fill="#0e8c18"/>
<circle cx="1708.8" cy="1185.9" r="2.35" fill="#0e8c18"/>
<circle cx="1720.8" cy="1184.9" r="2.35" fill="#0e8c18"/>
<circle cx="1744.9" cy="1184.4" r="2.35" fill="#0e8c18"/>
<circle cx="1728.4" cy="1183.9" r="2.35" fill="#0e8c18"/>
<circle cx="1735.5" cy="1183.7" r="2.35" fill="#0e8c18"/>
<circle cx="1711.8" cy="1182.7" r="2.35" fill="#0e8c18"/>
<circle cx="1711.1" cy="1182.3" r="2.35" fill="#0e8c18"/>
<circle cx="1710.2" cy="1181.9" r="2.35" fill="#0e8c18"/>
<circle cx="1724.9" cy="1181.2" r="2.35" fill="#0e8c18"/>
<circle cx="1727.4" cy="1180.8" r="2.35" fill="#0e8c18"/>
<circle cx="1735.1" cy="1180.4" r="2.35" fill="#0e8c18"/>
<circle cx="1696.9" cy="1179.9" r="2.35" fill="#0e8c18"/>
<circle cx="1731.9" cy="1179.3" r="2.35" fill="#0e8c18"/>
<circle cx="1740.3" cy="1178.8" r="2.35" fill="#0e8c18"/>
<circle cx="1722.8" cy="1178.1" r="2.35" fill="#0e8c18"/>
<circle cx="1697.4" cy="1177.2" r="2.35" fill="#0e8c18"/>
<circle cx="1710.2" cy="1176.7" r="2.35" fill="#0e8c18"/>
<circle cx="1695.1" cy="1175.9" r="2.35" fill="#0e8c18"/>
<circle cx="1704.6" cy="1175.4" r="2.35" fill="#0e8c18"/>
<circle cx="1742.2" cy="1175.1" r="2.35" fill="#0e8c18"/>
<circle cx="1726.1" cy="1174.2" r="2.35" fill="#0e8c18"/>
<circle cx="1728.6" cy="1173.7" r="2.35" fill="#0e8c18"/>
<circle cx="1735.4" cy="1172.8" r="2.35" fill="#0e8c18"/>
<circle cx="1741.6" cy="1172.3" r="2.35" fill="#0e8c18"/>
<circle cx="1726.2" cy="1171.9" r="2.35" fill="#0e8c18"/>
<circle cx="1726.5" cy="1171.0" r="2.35" fill="#0e8c18"/>
<circle cx="1727.0" cy="1170.1" r="2.35" fill="#0e8c18"/>
<circle cx="1730.6" cy="1169.9" r="2.35" fill="#0e8c18"/>
<circle cx="1725.5" cy="1168.8" r="2.35" fill="#0e8c18"/>
<circle cx="1729.8" cy="1168.7" r="2.35" fill="#0e8c18"/>
<circle cx="1705.7" cy="1167.9" r="2.35" fill="#0e8c18"/>
<circle cx="1729.1" cy="1167.2" r="2.35" fill="#0e8c18"/>
<circle cx="1718.3" cy="1166.2" r="2.35" fill="#0e8c18"/>
<circle cx="1734.0" cy="1165.4" r="2.35" fill="#0e8c18"/>
<circle cx="1700.0" cy="1164.8" r="2.35" fill="#0e8c18"/>
<circle cx="1704.1" cy="1164.4" r="2.35" fill="#0e8c18"/>
<circle cx="1696.7" cy="1163.3" r="2.35" fill="#0e8c18"/>
<circle cx="1734.6" cy="1163.0" r="2.35" fill="#0e8c18"/>
<circle cx="1741.8" cy="1162.3" r="2.35" fill="#0e8c18"/>
<circle cx="1728.5" cy="1161.1" r="2.35" fill="#0e8c18"/>
<circle cx="1713.8" cy="1160.6" r="2.35" fill="#0e8c18"/>
<circle cx="1737.1" cy="1159.8" r="2.35" fill="#0e8c18"/>
<circle cx="1735.2" cy="1159.1" r="2.35" fill="#0e8c18"/>
<circle cx="1723.7" cy="1158.1" r="2.35" fill="#0e8c18"/>
<circle cx="1708.1" cy="1157.7" r="2.35" fill="#0e8c18"/>
<circle cx="1710.3" cy="1156.6" r="2.35" fill="#0e8c18"/>
<circle cx="1716.5" cy="1156.0" r="2.35" fill="#0e8c18"/>
<circle cx="1711.2" cy="1155.1" r="2.35" fill="#0e8c18"/>
<circle cx="1716.9" cy="1154.6" r="2.35" fill="#0e8c18"/>
<circle cx="1727.8" cy="1153.6" r="2.35" fill="#0e8c18"/>
<circle cx="1742.8" cy="1152.9" r="2.35" fill="#0e8c18"/>
<circle cx="1697.6" cy="1152.3" r="2.35" fill="#0e8c18"/>
<circle cx="1724.0" cy="1151.5" r="2.35" fill="#0e8c18"/>
<circle cx="1696.8" cy="1150.4" r="2.35" fill="#0e8c18"/>
<circle cx="1700.9" cy="1150.0" r="2.35" fill="#0e8c18"/>
<circle cx="1736.5" cy="1148.4" r="2.35" fill="#0e8c18"/>
<circle cx="1724.4" cy="1148.2" r="2.35" fill="#0e8c18"/>
<circle cx="1742.0" cy="1147.4" r="2.35" fill="#0e8c18"/>
<circle cx="1717.7" cy="1146.5" r="2.35" fill="#0e8c18"/>
<circle cx="1695.5" cy="1144.8" r="2.35" fill="#0e8c18"/>
<circle cx="1714.7" cy="1144.5" r="2.35" fill="#0e8c18"/>
<circle cx="1725.2" cy="1143.7" r="2.35" fill="#0e8c18"/>
<circle cx="1743.0" cy="1142.9" r="2.35" fill="#0e8c18"/>
<circle cx="1745.2" cy="1141.9" r="2.35" fill="#0e8c18"/>
<circle cx="1719.2" cy="1140.3" r="2.35" fill="#0e8c18"/>
<circle cx="1716.0" cy="1139.4" r="2.35" fill="#0e8c18"/>
<circle cx="1700.0" cy="1138.3" r="2.35" fill="#0e8c18"/>
<circle cx="1727.9" cy="1137.3" r="2.35" fill="#0e8c18"/>
<circle cx="1705.7" cy="1136.9" r="2.35" fill="#0e8c18"/>
<circle cx="1702.6" cy="1135.3" r="2.35" fill="#0e8c18"/>
<circle cx="1695.6" cy="1134.5" r="2.35" fill="#0e8c18"/>
<circle cx="1695.0" cy="1132.9" r="2.35" fill="#0e8c18"/>
<circle cx="1729.9" cy="1131.8" r="2.35" fill="#0e8c18"/>
<circle cx="1701.1" cy="1130.5" r="2.35" fill="#0e8c18"/>
<circle cx="1744.5" cy="1130.3" r="2.35" fill="#0e8c18"/>
<circle cx="1699.3" cy="1128.2" r="2.35" fill="#0e8c18"/>
<circle cx="1739.5" cy="1126.9" r="2.35" fill="#0e8c18"/>
<circle cx="1701.4" cy="1125.6" r="2.35" fill="#0e8c18"/>
<circle cx="1695.7" cy="1125.4" r="2.35" fill="#0e8c18"/>
<circle cx="1731.8" cy="1123.9" r="2.35" fill="#0e8c18"/>
<circle cx="1707.3" cy="1122.7" r="2.35" fill="#0e8c18"/>
<circle cx="1732.5" cy="1121.4" r="2.35" fill="#0e8c18"/>
<circle cx="1704.4" cy="1118.8" r="2.35" fill="#0e8c18"/>
<circle cx="1697.4" cy="1117.3" r="2.35" fill="#0e8c18"/>
<circle cx="1734.6" cy="1116.0" r="2.35" fill="#0e8c18"/>
<circle cx="1731.5" cy="1114.0" r="2.35" fill="#0e8c18"/>
<circle cx="1738.8" cy="1112.6" r="2.35" fill="#0e8c18"/>
<circle cx="1732.3" cy="1111.4" r="2.35" fill="#0e8c18"/>
<circle cx="1699.1" cy="1109.8" r="2.35" fill="#0e8c18"/>
<circle cx="1727.1" cy="1107.8" r="2.35" fill="#0e8c18"/>
<circle cx="1731.3" cy="1104.1" r="2.35" fill="#0e8c18"/>
<circle cx="1718.5" cy="1103.1" r="2.35" fill="#0e8c18"/>
<circle cx="1742.7" cy="1100.1" r="2.35" fill="#0e8c18"/>
<circle cx="1707.9" cy="1096.7" r="2.35" fill="#0e8c18"/>
<circle cx="1744.4" cy="1094.6" r="2.35" fill="#0e8c18"/>
<circle cx="1731.7" cy="1088.8" r="2.35" fill="#0e8c18"/>
<circle cx="1695.4" cy="1078.8" r="2.35" fill="#0e8c18"/>
<circle cx="1695.6" cy="1406.7" r="2.35" fill="#0e8c18"/>
<line x1="1627.4" y1="1129.8" x2="1677.8" y2="1129.8" stroke="#3c3c3c" stroke-width="1.9"/>
<line x1="1695.3" y1="1223.3" x2="1745.7" y2="1223.3" stroke="#3c3c3c" stroke-width="1.9"/>
<rect x="160" y="1496.6" width="535.7" height="438.20000000000005" fill="#fcfcfc"/>
<line x1="206.5" y1="1496.6" x2="206.5" y2="1934.8" stroke="#fff" stroke-width="1.4"/>
<line x1="270.4" y1="1496.6" x2="270.4" y2="1934.8" stroke="#fff" stroke-width="1.4"/>
<line x1="334.2" y1="1496.6" x2="334.2" y2="1934.8" stroke="#fff" stroke-width="1.4"/>
<line x1="398.1" y1="1496.6" x2="398.1" y2="1934.8" stroke="#fff" stroke-width="1.4"/>
<line x1="462.0" y1="1496.6" x2="462.0" y2="1934.8" stroke="#fff" stroke-width="1.4"/>
<line x1="525.8" y1="1496.6" x2="525.8" y2="1934.8" stroke="#fff" stroke-width="1.4"/>
<line x1="589.7" y1="1496.6" x2="589.7" y2="1934.8" stroke="#fff" stroke-width="1.4"/>
<line x1="653.5" y1="1496.6" x2="653.5" y2="1934.8" stroke="#fff" stroke-width="1.4"/>
<line x1="160" y1="1874.2" x2="695.7" y2="1874.2" stroke="#fff" stroke-width="1.4"/>
<line x1="160" y1="1795.5" x2="695.7" y2="1795.5" stroke="#fff" stroke-width="1.4"/>
<line x1="160" y1="1716.8" x2="695.7" y2="1716.8" stroke="#fff" stroke-width="1.4"/>
<line x1="160" y1="1638.1" x2="695.7" y2="1638.1" stroke="#fff" stroke-width="1.4"/>
<line x1="160" y1="1559.4" x2="695.7" y2="1559.4" stroke="#fff" stroke-width="1.4"/>
<line x1="270.4" y1="1934.8" x2="270.4" y2="1937.0" stroke="#888" stroke-width="1"/>
<text x="267.9" y="1958.3" font-size="20" text-anchor="middle" font-family="'Liberation Sans', Arial, sans-serif" fill="#000" >7.5</text>
<line x1="398.1" y1="1934.8" x2="398.1" y2="1937.0" stroke="#888" stroke-width="1"/>
<text x="395.6" y="1958.3" font-size="20" text-anchor="middle" font-family="'Liberation Sans', Arial, sans-serif" fill="#000" >10.0</text>
<line x1="525.8" y1="1934.8" x2="525.8" y2="1937.0" stroke="#888" stroke-width="1"/>
<text x="523.3" y="1958.3" font-size="20" text-anchor="middle" font-family="'Liberation Sans', Arial, sans-serif" fill="#000" >12.5</text>
<line x1="653.5" y1="1934.8" x2="653.5" y2="1937.0" stroke="#888" stroke-width="1"/>
<text x="651.0" y="1958.3" font-size="20" text-anchor="middle" font-family="'Liberation Sans', Arial, sans-serif" fill="#000" >15.0</text>
<line x1="157.8" y1="1638.1" x2="160" y2="1638.1" stroke="#888" stroke-width="1"/>
<text x="153.2" y="1643.9" font-size="20" text-anchor="end" font-family="'Liberation Sans', Arial, sans-serif" fill="#000" >10</text>
<line x1="157.8" y1="1795.5" x2="160" y2="1795.5" stroke="#888" stroke-width="1"/>
<text x="153.2" y="1801.3" font-size="20" text-anchor="end" font-family="'Liberation Sans', Arial, sans-serif" fill="#000" >9</text>
<text x="436.8" y="1982.4" font-size="19.5" text-anchor="middle" font-family="'Liberation Sans', Arial, sans-serif" fill="#000" >log(IgG3+1)</text>
<text x="112" y="1732" font-size="19.5" text-anchor="middle" font-family="'Liberation Sans', Arial, sans-serif" transform="rotate(-90 112 1732)">predicted log(IgG3+1)</text>
<polygon points="184.0,1854.4 196.2,1847.6 208.4,1840.7 220.6,1833.9 232.8,1827.0 244.9,1820.1 257.1,1813.2 269.3,1806.3 281.5,1799.4 293.7,1792.4 305.9,1785.4 318.1,1778.3 330.3,1771.2 342.5,1763.9 354.7,1756.4 366.9,1748.7 379.0,1740.7 391.2,1732.3 403.4,1723.6 415.6,1714.7 427.8,1705.5 440.0,1696.2 452.2,1686.9 464.4,1677.4 476.6,1667.9 488.8,1658.4 500.9,1648.9 513.1,1639.3 525.3,1629.7 537.5,1620.1 549.7,1610.5 561.9,1600.9 574.1,1591.3 586.3,1581.6 598.5,1572.0 610.6,1562.3 622.8,1552.7 635.0,1543.1 647.2,1533.4 659.4,1523.8 671.6,1514.1 671.6,1584.1 659.4,1590.9 647.2,1597.7 635.0,1604.5 622.8,1611.4 610.6,1618.2 598.5,1625.0 586.3,1631.8 574.1,1638.7 561.9,1645.5 549.7,1652.4 537.5,1659.2 525.3,1666.1 513.1,1673.0 500.9,1679.8 488.8,1686.8 476.6,1693.7 464.4,1700.7 452.2,1707.7 440.0,1714.8 427.8,1722.0 415.6,1729.3 403.4,1736.8 391.2,1744.6 379.0,1752.7 366.9,1761.1 354.7,1769.9 342.5,1778.9 330.3,1788.0 318.1,1797.3 305.9,1806.7 293.7,1816.2 281.5,1825.7 269.3,1835.2 257.1,1844.8 244.9,1854.3 232.8,1863.9 220.6,1873.5 208.4,1883.2 196.2,1892.8 184.0,1902.4" fill="#d6d6d6" fill-opacity="0.42"/>
<circle cx="410.6" cy="1605.8" r="2.15" fill="#0e8c18"/>
<circle cx="322.9" cy="1620.4" r="2.15" fill="#0e8c18"/>
<circle cx="360.7" cy="1625.3" r="2.15" fill="#0e8c18"/>
<circle cx="403.1" cy="1621.0" r="2.15" fill="#0e8c18"/>
<circle cx="284.2" cy="1633.2" r="2.15" fill="#0e8c18"/>
<circle cx="264.7" cy="1638.9" r="2.15" fill="#0e8c18"/>
<circle cx="385.3" cy="1632.7" r="2.15" fill="#0e8c18"/>
<circle cx="410.6" cy="1640.3" r="2.15" fill="#0e8c18"/>
<circle cx="391.4" cy="1650.8" r="2.15" fill="#0e8c18"/>
<circle cx="404.4" cy="1649.3" r="2.15" fill="#0e8c18"/>
<circle cx="398.3" cy="1656.5" r="2.15" fill="#0e8c18"/>
<circle cx="419.2" cy="1657.5" r="2.15" fill="#0e8c18"/>
<circle cx="404.9" cy="1661.3" r="2.15" fill="#0e8c18"/>
<circle cx="376.6" cy="1664.9" r="2.15" fill="#0e8c18"/>
<circle cx="295.4" cy="1666.6" r="2.15" fill="#0e8c18"/>
<circle cx="407.3" cy="1673.8" r="2.15" fill="#0e8c18"/>
<circle cx="429.0" cy="1680.9" r="2.15" fill="#0e8c18"/>
<circle cx="399.3" cy="1682.3" r="2.15" fill="#0e8c18"/>
<circle cx="405.7" cy="1684.6" r="2.15" fill="#0e8c18"/>
<circle cx="409.6" cy="1682.2" r="2.15" fill="#0e8c18"/>
<circle cx="321.9" cy="1683.2" r="2.15" fill="#0e8c18"/>
<circle cx="381.7" cy="1689.7" r="2.15" fill="#0e8c18"/>
<circle cx="301.7" cy="1692.8" r="2.15" fill="#0e8c18"/>
<circle cx="402.2" cy="1693.0" r="2.15" fill="#0e8c18"/>
<circle cx="416.4" cy="1691.5" r="2.15" fill="#0e8c18"/>
<circle cx="362.6" cy="1699.9" r="2.15" fill="#0e8c18"/>
<circle cx="368.1" cy="1701.9" r="2.15" fill="#0e8c18"/>
<circle cx="370.4" cy="1700.7" r="2.15" fill="#0e8c18"/>
<circle cx="381.7" cy="1699.4" r="2.15" fill="#0e8c18"/>
<circle cx="404.5" cy="1699.9" r="2.15" fill="#0e8c18"/>
<circle cx="387.3" cy="1703.5" r="2.15" fill="#0e8c18"/>
<circle cx="358.0" cy="1703.7" r="2.15" fill="#0e8c18"/>
<circle cx="348.0" cy="1705.8" r="2.15" fill="#0e8c18"/>
<circle cx="371.7" cy="1706.8" r="2.15" fill="#0e8c18"/>
<circle cx="337.6" cy="1706.8" r="2.15" fill="#0e8c18"/>
<circle cx="337.5" cy="1710.1" r="2.15" fill="#0e8c18"/>
<circle cx="359.2" cy="1709.6" r="2.15" fill="#0e8c18"/>
<circle cx="386.5" cy="1707.3" r="2.15" fill="#0e8c18"/>
<circle cx="385.3" cy="1708.5" r="2.15" fill="#0e8c18"/>
<circle cx="416.4" cy="1707.3" r="2.15" fill="#0e8c18"/>
<circle cx="427.4" cy="1707.1" r="2.15" fill="#0e8c18"/>
<circle cx="314.1" cy="1711.7" r="2.15" fill="#0e8c18"/>
<circle cx="309.5" cy="1713.4" r="2.15" fill="#0e8c18"/>
<circle cx="455.6" cy="1639.4" r="2.15" fill="#0e8c18"/>
<circle cx="480.3" cy="1648.0" r="2.15" fill="#0e8c18"/>
<circle cx="436.9" cy="1666.2" r="2.15" fill="#0e8c18"/>
<circle cx="445.8" cy="1665.7" r="2.15" fill="#0e8c18"/>
<circle cx="447.7" cy="1671.2" r="2.15" fill="#0e8c18"/>
<circle cx="453.8" cy="1669.2" r="2.15" fill="#0e8c18"/>
<circle cx="671.4" cy="1653.6" r="2.15" fill="#0e8c18"/>
<circle cx="620.8" cy="1674.9" r="2.15" fill="#0e8c18"/>
<circle cx="430.5" cy="1680.9" r="2.15" fill="#0e8c18"/>
<circle cx="433.3" cy="1684.0" r="2.15" fill="#0e8c18"/>
<circle cx="436.6" cy="1693.5" r="2.15" fill="#0e8c18"/>
<circle cx="452.2" cy="1693.8" r="2.15" fill="#0e8c18"/>
<circle cx="451.9" cy="1711.7" r="2.15" fill="#0e8c18"/>
<circle cx="435.4" cy="1715.0" r="2.15" fill="#0e8c18"/>
<circle cx="334.2" cy="1719.3" r="2.15" fill="#0e8c18"/>
<circle cx="353.9" cy="1720.3" r="2.15" fill="#0e8c18"/>
<circle cx="281.3" cy="1726.0" r="2.15" fill="#0e8c18"/>
<circle cx="227.2" cy="1736.0" r="2.15" fill="#0e8c18"/>
<circle cx="274.7" cy="1736.0" r="2.15" fill="#0e8c18"/>
<circle cx="412.8" cy="1718.3" r="2.15" fill="#0e8c18"/>
<circle cx="424.6" cy="1718.3" r="2.15" fill="#0e8c18"/>
<circle cx="404.0" cy="1725.7" r="2.15" fill="#0e8c18"/>
<circle cx="372.0" cy="1731.4" r="2.15" fill="#0e8c18"/>
<circle cx="377.7" cy="1729.0" r="2.15" fill="#0e8c18"/>
<circle cx="380.2" cy="1729.0" r="2.15" fill="#0e8c18"/>
<circle cx="384.0" cy="1732.3" r="2.15" fill="#0e8c18"/>
<circle cx="365.4" cy="1736.0" r="2.15" fill="#0e8c18"/>
<circle cx="368.4" cy="1737.0" r="2.15" fill="#0e8c18"/>
<circle cx="369.5" cy="1740.5" r="2.15" fill="#0e8c18"/>
<circle cx="402.9" cy="1739.7" r="2.15" fill="#0e8c18"/>
<circle cx="260.9" cy="1751.6" r="2.15" fill="#0e8c18"/>
<circle cx="304.1" cy="1748.9" r="2.15" fill="#0e8c18"/>
<circle cx="334.2" cy="1748.4" r="2.15" fill="#0e8c18"/>
<circle cx="355.6" cy="1746.2" r="2.15" fill="#0e8c18"/>
<circle cx="404.4" cy="1749.2" r="2.15" fill="#0e8c18"/>
<circle cx="357.2" cy="1753.9" r="2.15" fill="#0e8c18"/>
<circle cx="361.5" cy="1752.3" r="2.15" fill="#0e8c18"/>
<circle cx="287.9" cy="1760.7" r="2.15" fill="#0e8c18"/>
<circle cx="288.2" cy="1759.4" r="2.15" fill="#0e8c18"/>
<circle cx="308.7" cy="1756.9" r="2.15" fill="#0e8c18"/>
<circle cx="307.1" cy="1759.0" r="2.15" fill="#0e8c18"/>
<circle cx="313.7" cy="1761.0" r="2.15" fill="#0e8c18"/>
<circle cx="326.3" cy="1759.4" r="2.15" fill="#0e8c18"/>
<circle cx="325.7" cy="1760.7" r="2.15" fill="#0e8c18"/>
<circle cx="335.2" cy="1760.2" r="2.15" fill="#0e8c18"/>
<circle cx="347.7" cy="1758.4" r="2.15" fill="#0e8c18"/>
<circle cx="365.3" cy="1761.3" r="2.15" fill="#0e8c18"/>
<circle cx="367.9" cy="1763.6" r="2.15" fill="#0e8c18"/>
<circle cx="372.0" cy="1756.9" r="2.15" fill="#0e8c18"/>
<circle cx="378.4" cy="1761.8" r="2.15" fill="#0e8c18"/>
<circle cx="378.6" cy="1758.5" r="2.15" fill="#0e8c18"/>
<circle cx="380.2" cy="1758.1" r="2.15" fill="#0e8c18"/>
<circle cx="274.1" cy="1764.3" r="2.15" fill="#0e8c18"/>
<circle cx="289.0" cy="1768.1" r="2.15" fill="#0e8c18"/>
<circle cx="325.7" cy="1766.4" r="2.15" fill="#0e8c18"/>
<circle cx="324.8" cy="1768.1" r="2.15" fill="#0e8c18"/>
<circle cx="276.2" cy="1772.4" r="2.15" fill="#0e8c18"/>
<circle cx="278.7" cy="1777.9" r="2.15" fill="#0e8c18"/>
<circle cx="301.0" cy="1779.9" r="2.15" fill="#0e8c18"/>
<circle cx="342.9" cy="1770.9" r="2.15" fill="#0e8c18"/>
<circle cx="348.2" cy="1770.1" r="2.15" fill="#0e8c18"/>
<circle cx="363.9" cy="1771.9" r="2.15" fill="#0e8c18"/>
<circle cx="375.1" cy="1772.7" r="2.15" fill="#0e8c18"/>
<circle cx="381.0" cy="1775.0" r="2.15" fill="#0e8c18"/>
<circle cx="368.7" cy="1777.4" r="2.15" fill="#0e8c18"/>
<circle cx="370.7" cy="1777.4" r="2.15" fill="#0e8c18"/>
<circle cx="374.3" cy="1780.2" r="2.15" fill="#0e8c18"/>
<circle cx="377.7" cy="1778.6" r="2.15" fill="#0e8c18"/>
<circle cx="380.2" cy="1779.9" r="2.15" fill="#0e8c18"/>
<circle cx="384.2" cy="1779.1" r="2.15" fill="#0e8c18"/>
<circle cx="381.0" cy="1782.9" r="2.15" fill="#0e8c18"/>
<circle cx="384.5" cy="1782.9" r="2.15" fill="#0e8c18"/>
<circle cx="355.6" cy="1777.4" r="2.15" fill="#0e8c18"/>
<circle cx="409.1" cy="1779.3" r="2.15" fill="#0e8c18"/>
<circle cx="237.2" cy="1780.9" r="2.15" fill="#0e8c18"/>
<circle cx="265.3" cy="1786.8" r="2.15" fill="#0e8c18"/>
<circle cx="275.0" cy="1784.4" r="2.15" fill="#0e8c18"/>
<circle cx="296.1" cy="1788.8" r="2.15" fill="#0e8c18"/>
<circle cx="315.3" cy="1784.8" r="2.15" fill="#0e8c18"/>
<circle cx="350.6" cy="1782.5" r="2.15" fill="#0e8c18"/>
<circle cx="361.5" cy="1782.2" r="2.15" fill="#0e8c18"/>
<circle cx="398.6" cy="1786.7" r="2.15" fill="#0e8c18"/>
<circle cx="307.6" cy="1789.8" r="2.15" fill="#0e8c18"/>
<circle cx="317.8" cy="1793.9" r="2.15" fill="#0e8c18"/>
<circle cx="325.0" cy="1792.2" r="2.15" fill="#0e8c18"/>
<circle cx="325.3" cy="1795.5" r="2.15" fill="#0e8c18"/>
<circle cx="334.2" cy="1793.9" r="2.15" fill="#0e8c18"/>
<circle cx="336.7" cy="1796.3" r="2.15" fill="#0e8c18"/>
<circle cx="340.1" cy="1790.6" r="2.15" fill="#0e8c18"/>
<circle cx="343.2" cy="1791.7" r="2.15" fill="#0e8c18"/>
<circle cx="350.6" cy="1796.3" r="2.15" fill="#0e8c18"/>
<circle cx="351.8" cy="1799.3" r="2.15" fill="#0e8c18"/>
<circle cx="359.5" cy="1790.1" r="2.15" fill="#0e8c18"/>
<circle cx="363.8" cy="1790.6" r="2.15" fill="#0e8c18"/>
<circle cx="361.0" cy="1797.2" r="2.15" fill="#0e8c18"/>
<circle cx="367.7" cy="1795.2" r="2.15" fill="#0e8c18"/>
<circle cx="376.6" cy="1793.6" r="2.15" fill="#0e8c18"/>
<circle cx="381.4" cy="1792.2" r="2.15" fill="#0e8c18"/>
<circle cx="382.7" cy="1794.7" r="2.15" fill="#0e8c18"/>
<circle cx="384.0" cy="1796.0" r="2.15" fill="#0e8c18"/>
<circle cx="290.8" cy="1798.3" r="2.15" fill="#0e8c18"/>
<circle cx="310.9" cy="1799.3" r="2.15" fill="#0e8c18"/>
<circle cx="301.3" cy="1801.3" r="2.15" fill="#0e8c18"/>
<circle cx="395.2" cy="1801.9" r="2.15" fill="#0e8c18"/>
<circle cx="409.8" cy="1800.0" r="2.15" fill="#0e8c18"/>
<circle cx="275.5" cy="1803.7" r="2.15" fill="#0e8c18"/>
<circle cx="306.3" cy="1804.9" r="2.15" fill="#0e8c18"/>
<circle cx="339.6" cy="1804.1" r="2.15" fill="#0e8c18"/>
<circle cx="355.9" cy="1807.5" r="2.15" fill="#0e8c18"/>
<circle cx="368.7" cy="1809.8" r="2.15" fill="#0e8c18"/>
<circle cx="312.0" cy="1809.0" r="2.15" fill="#0e8c18"/>
<circle cx="318.3" cy="1809.5" r="2.15" fill="#0e8c18"/>
<circle cx="324.8" cy="1809.2" r="2.15" fill="#0e8c18"/>
<circle cx="336.7" cy="1808.7" r="2.15" fill="#0e8c18"/>
<circle cx="346.2" cy="1809.0" r="2.15" fill="#0e8c18"/>
<circle cx="391.7" cy="1810.8" r="2.15" fill="#0e8c18"/>
<circle cx="392.5" cy="1814.3" r="2.15" fill="#0e8c18"/>
<circle cx="418.7" cy="1810.5" r="2.15" fill="#0e8c18"/>
<circle cx="227.7" cy="1814.6" r="2.15" fill="#0e8c18"/>
<circle cx="271.3" cy="1815.1" r="2.15" fill="#0e8c18"/>
<circle cx="278.3" cy="1814.9" r="2.15" fill="#0e8c18"/>
<circle cx="285.4" cy="1810.3" r="2.15" fill="#0e8c18"/>
<circle cx="306.6" cy="1815.1" r="2.15" fill="#0e8c18"/>
<circle cx="331.4" cy="1814.4" r="2.15" fill="#0e8c18"/>
<circle cx="344.9" cy="1815.6" r="2.15" fill="#0e8c18"/>
<circle cx="321.5" cy="1817.5" r="2.15" fill="#0e8c18"/>
<circle cx="355.1" cy="1817.7" r="2.15" fill="#0e8c18"/>
<circle cx="364.9" cy="1818.2" r="2.15" fill="#0e8c18"/>
<circle cx="371.3" cy="1817.4" r="2.15" fill="#0e8c18"/>
<circle cx="373.3" cy="1820.2" r="2.15" fill="#0e8c18"/>
<circle cx="390.2" cy="1819.5" r="2.15" fill="#0e8c18"/>
<circle cx="286.5" cy="1819.7" r="2.15" fill="#0e8c18"/>
<circle cx="307.6" cy="1821.2" r="2.15" fill="#0e8c18"/>
<circle cx="295.6" cy="1822.5" r="2.15" fill="#0e8c18"/>
<circle cx="347.3" cy="1823.0" r="2.15" fill="#0e8c18"/>
<circle cx="350.6" cy="1823.5" r="2.15" fill="#0e8c18"/>
<circle cx="351.5" cy="1825.1" r="2.15" fill="#0e8c18"/>
<circle cx="373.0" cy="1825.1" r="2.15" fill="#0e8c18"/>
<circle cx="377.3" cy="1825.8" r="2.15" fill="#0e8c18"/>
<circle cx="263.0" cy="1823.6" r="2.15" fill="#0e8c18"/>
<circle cx="293.3" cy="1826.6" r="2.15" fill="#0e8c18"/>
<circle cx="344.1" cy="1826.8" r="2.15" fill="#0e8c18"/>
<circle cx="346.2" cy="1828.9" r="2.15" fill="#0e8c18"/>
<circle cx="361.0" cy="1828.4" r="2.15" fill="#0e8c18"/>
<circle cx="363.8" cy="1827.7" r="2.15" fill="#0e8c18"/>
<circle cx="340.0" cy="1832.5" r="2.15" fill="#0e8c18"/>
<circle cx="341.9" cy="1832.0" r="2.15" fill="#0e8c18"/>
<circle cx="262.5" cy="1832.8" r="2.15" fill="#0e8c18"/>
<circle cx="309.1" cy="1831.8" r="2.15" fill="#0e8c18"/>
<circle cx="313.7" cy="1833.7" r="2.15" fill="#0e8c18"/>
<circle cx="278.0" cy="1835.5" r="2.15" fill="#0e8c18"/>
<circle cx="300.7" cy="1838.6" r="2.15" fill="#0e8c18"/>
<circle cx="307.1" cy="1837.4" r="2.15" fill="#0e8c18"/>
<circle cx="333.2" cy="1836.1" r="2.15" fill="#0e8c18"/>
<circle cx="360.7" cy="1836.6" r="2.15" fill="#0e8c18"/>
<circle cx="357.7" cy="1839.9" r="2.15" fill="#0e8c18"/>
<circle cx="359.3" cy="1842.4" r="2.15" fill="#0e8c18"/>
<circle cx="267.0" cy="1842.5" r="2.15" fill="#0e8c18"/>
<circle cx="279.8" cy="1841.0" r="2.15" fill="#0e8c18"/>
<circle cx="282.8" cy="1841.0" r="2.15" fill="#0e8c18"/>
<circle cx="323.0" cy="1841.0" r="2.15" fill="#0e8c18"/>
<circle cx="333.7" cy="1841.0" r="2.15" fill="#0e8c18"/>
<circle cx="340.9" cy="1842.7" r="2.15" fill="#0e8c18"/>
<circle cx="334.5" cy="1847.3" r="2.15" fill="#0e8c18"/>
<circle cx="341.8" cy="1847.5" r="2.15" fill="#0e8c18"/>
<circle cx="313.5" cy="1845.3" r="2.15" fill="#0e8c18"/>
<circle cx="312.5" cy="1848.1" r="2.15" fill="#0e8c18"/>
<circle cx="368.5" cy="1845.0" r="2.15" fill="#0e8c18"/>
<circle cx="385.1" cy="1843.7" r="2.15" fill="#0e8c18"/>
<circle cx="223.4" cy="1846.0" r="2.15" fill="#0e8c18"/>
<circle cx="403.4" cy="1847.1" r="2.15" fill="#0e8c18"/>
<circle cx="413.9" cy="1850.1" r="2.15" fill="#0e8c18"/>
<circle cx="338.6" cy="1852.6" r="2.15" fill="#0e8c18"/>
<circle cx="365.1" cy="1851.4" r="2.15" fill="#0e8c18"/>
<circle cx="375.8" cy="1851.4" r="2.15" fill="#0e8c18"/>
<circle cx="390.2" cy="1851.9" r="2.15" fill="#0e8c18"/>
<circle cx="396.5" cy="1853.9" r="2.15" fill="#0e8c18"/>
<circle cx="236.4" cy="1855.0" r="2.15" fill="#0e8c18"/>
<circle cx="253.7" cy="1853.9" r="2.15" fill="#0e8c18"/>
<circle cx="256.1" cy="1855.0" r="2.15" fill="#0e8c18"/>
<circle cx="257.5" cy="1854.4" r="2.15" fill="#0e8c18"/>
<circle cx="265.2" cy="1856.0" r="2.15" fill="#0e8c18"/>
<circle cx="269.6" cy="1853.4" r="2.15" fill="#0e8c18"/>
<circle cx="273.1" cy="1856.0" r="2.15" fill="#0e8c18"/>
<circle cx="283.7" cy="1854.7" r="2.15" fill="#0e8c18"/>
<circle cx="288.0" cy="1856.8" r="2.15" fill="#0e8c18"/>
<circle cx="289.3" cy="1852.2" r="2.15" fill="#0e8c18"/>
<circle cx="291.0" cy="1854.4" r="2.15" fill="#0e8c18"/>
<circle cx="297.2" cy="1853.4" r="2.15" fill="#0e8c18"/>
<circle cx="318.4" cy="1853.9" r="2.15" fill="#0e8c18"/>
<circle cx="355.2" cy="1857.3" r="2.15" fill="#0e8c18"/>
<circle cx="358.5" cy="1857.2" r="2.15" fill="#0e8c18"/>
<circle cx="183.7" cy="1860.1" r="2.15" fill="#0e8c18"/>
<circle cx="235.1" cy="1861.4" r="2.15" fill="#0e8c18"/>
<circle cx="262.7" cy="1860.4" r="2.15" fill="#0e8c18"/>
<circle cx="301.3" cy="1859.3" r="2.15" fill="#0e8c18"/>
<circle cx="308.1" cy="1860.4" r="2.15" fill="#0e8c18"/>
<circle cx="223.6" cy="1864.5" r="2.15" fill="#0e8c18"/>
<circle cx="278.2" cy="1863.9" r="2.15" fill="#0e8c18"/>
<circle cx="327.6" cy="1862.9" r="2.15" fill="#0e8c18"/>
<circle cx="271.6" cy="1869.3" r="2.15" fill="#0e8c18"/>
<circle cx="286.2" cy="1868.2" r="2.15" fill="#0e8c18"/>
<circle cx="293.1" cy="1868.2" r="2.15" fill="#0e8c18"/>
<circle cx="300.5" cy="1867.0" r="2.15" fill="#0e8c18"/>
<circle cx="311.5" cy="1867.8" r="2.15" fill="#0e8c18"/>
<circle cx="327.0" cy="1867.8" r="2.15" fill="#0e8c18"/>
<circle cx="339.0" cy="1868.8" r="2.15" fill="#0e8c18"/>
<circle cx="412.6" cy="1865.2" r="2.15" fill="#0e8c18"/>
<circle cx="231.3" cy="1876.1" r="2.15" fill="#0e8c18"/>
<circle cx="368.7" cy="1873.8" r="2.15" fill="#0e8c18"/>
<circle cx="331.9" cy="1874.6" r="2.15" fill="#0e8c18"/>
<circle cx="259.1" cy="1880.0" r="2.15" fill="#0e8c18"/>
<circle cx="269.9" cy="1877.4" r="2.15" fill="#0e8c18"/>
<circle cx="296.9" cy="1877.4" r="2.15" fill="#0e8c18"/>
<circle cx="291.6" cy="1882.1" r="2.15" fill="#0e8c18"/>
<circle cx="293.4" cy="1881.5" r="2.15" fill="#0e8c18"/>
<circle cx="315.3" cy="1881.1" r="2.15" fill="#0e8c18"/>
<circle cx="318.9" cy="1882.3" r="2.15" fill="#0e8c18"/>
<circle cx="309.9" cy="1884.4" r="2.15" fill="#0e8c18"/>
<circle cx="316.9" cy="1888.0" r="2.15" fill="#0e8c18"/>
<circle cx="370.2" cy="1885.9" r="2.15" fill="#0e8c18"/>
<circle cx="370.8" cy="1888.9" r="2.15" fill="#0e8c18"/>
<circle cx="410.5" cy="1885.3" r="2.15" fill="#0e8c18"/>
<circle cx="261.9" cy="1891.3" r="2.15" fill="#0e8c18"/>
<circle cx="264.2" cy="1891.3" r="2.15" fill="#0e8c18"/>
<circle cx="228.2" cy="1895.3" r="2.15" fill="#0e8c18"/>
<circle cx="340.1" cy="1892.2" r="2.15" fill="#0e8c18"/>
<circle cx="384.2" cy="1897.7" r="2.15" fill="#0e8c18"/>
<circle cx="348.2" cy="1907.8" r="2.15" fill="#0e8c18"/>
<circle cx="348.7" cy="1916.8" r="2.15" fill="#0e8c18"/>
<circle cx="435.8" cy="1716.2" r="2.15" fill="#0e8c18"/>
<circle cx="431.6" cy="1723.5" r="2.15" fill="#0e8c18"/>
<circle cx="448.9" cy="1724.9" r="2.15" fill="#0e8c18"/>
<circle cx="452.8" cy="1722.9" r="2.15" fill="#0e8c18"/>
<circle cx="448.6" cy="1728.6" r="2.15" fill="#0e8c18"/>
<circle cx="470.9" cy="1744.1" r="2.15" fill="#0e8c18"/>
<circle cx="445.9" cy="1793.6" r="2.15" fill="#0e8c18"/>
<circle cx="665.0" cy="1719.9" r="2.15" fill="#0e8c18"/>
<circle cx="402.6" cy="1551.5" r="2.15" fill="#f3281c"/>
<circle cx="376.3" cy="1579.8" r="2.15" fill="#f3281c"/>
<circle cx="380.9" cy="1578.5" r="2.15" fill="#f3281c"/>
<circle cx="416.5" cy="1597.5" r="2.15" fill="#f3281c"/>
<circle cx="427.1" cy="1606.6" r="2.15" fill="#f3281c"/>
<circle cx="351.3" cy="1609.2" r="2.15" fill="#f3281c"/>
<circle cx="393.9" cy="1613.5" r="2.15" fill="#f3281c"/>
<circle cx="425.7" cy="1623.3" r="2.15" fill="#f3281c"/>
<circle cx="303.5" cy="1631.6" r="2.15" fill="#f3281c"/>
<circle cx="375.4" cy="1638.8" r="2.15" fill="#f3281c"/>
<circle cx="410.5" cy="1638.5" r="2.15" fill="#f3281c"/>
<circle cx="309.9" cy="1645.2" r="2.15" fill="#f3281c"/>
<circle cx="330.9" cy="1647.5" r="2.15" fill="#f3281c"/>
<circle cx="358.5" cy="1643.4" r="2.15" fill="#f3281c"/>
<circle cx="379.2" cy="1645.8" r="2.15" fill="#f3281c"/>
<circle cx="363.1" cy="1650.5" r="2.15" fill="#f3281c"/>
<circle cx="402.7" cy="1647.7" r="2.15" fill="#f3281c"/>
<circle cx="301.7" cy="1653.2" r="2.15" fill="#f3281c"/>
<circle cx="422.1" cy="1650.5" r="2.15" fill="#f3281c"/>
<circle cx="422.1" cy="1653.7" r="2.15" fill="#f3281c"/>
<circle cx="391.7" cy="1655.9" r="2.15" fill="#f3281c"/>
<circle cx="406.3" cy="1655.4" r="2.15" fill="#f3281c"/>
<circle cx="367.9" cy="1657.7" r="2.15" fill="#f3281c"/>
<circle cx="417.2" cy="1662.6" r="2.15" fill="#f3281c"/>
<circle cx="378.9" cy="1663.6" r="2.15" fill="#f3281c"/>
<circle cx="350.0" cy="1667.7" r="2.15" fill="#f3281c"/>
<circle cx="375.4" cy="1670.7" r="2.15" fill="#f3281c"/>
<circle cx="392.2" cy="1671.0" r="2.15" fill="#f3281c"/>
<circle cx="388.1" cy="1676.4" r="2.15" fill="#f3281c"/>
<circle cx="391.4" cy="1678.4" r="2.15" fill="#f3281c"/>
<circle cx="399.1" cy="1676.4" r="2.15" fill="#f3281c"/>
<circle cx="401.1" cy="1675.6" r="2.15" fill="#f3281c"/>
<circle cx="395.3" cy="1680.0" r="2.15" fill="#f3281c"/>
<circle cx="343.2" cy="1682.2" r="2.15" fill="#f3281c"/>
<circle cx="348.3" cy="1691.2" r="2.15" fill="#f3281c"/>
<circle cx="395.0" cy="1691.2" r="2.15" fill="#f3281c"/>
<circle cx="349.8" cy="1697.1" r="2.15" fill="#f3281c"/>
<circle cx="417.5" cy="1694.7" r="2.15" fill="#f3281c"/>
<circle cx="421.8" cy="1695.8" r="2.15" fill="#f3281c"/>
<circle cx="398.3" cy="1705.3" r="2.15" fill="#f3281c"/>
<circle cx="346.4" cy="1710.8" r="2.15" fill="#f3281c"/>
<circle cx="366.6" cy="1712.2" r="2.15" fill="#f3281c"/>
<circle cx="386.0" cy="1711.7" r="2.15" fill="#f3281c"/>
<circle cx="412.6" cy="1713.1" r="2.15" fill="#f3281c"/>
<circle cx="465.0" cy="1589.5" r="2.15" fill="#f3281c"/>
<circle cx="448.2" cy="1600.8" r="2.15" fill="#f3281c"/>
<circle cx="455.6" cy="1603.0" r="2.15" fill="#f3281c"/>
<circle cx="456.3" cy="1605.4" r="2.15" fill="#f3281c"/>
<circle cx="437.4" cy="1620.2" r="2.15" fill="#f3281c"/>
<circle cx="583.3" cy="1631.6" r="2.15" fill="#f3281c"/>
<circle cx="432.8" cy="1645.5" r="2.15" fill="#f3281c"/>
<circle cx="439.0" cy="1647.3" r="2.15" fill="#f3281c"/>
<circle cx="432.0" cy="1675.3" r="2.15" fill="#f3281c"/>
<circle cx="436.1" cy="1675.4" r="2.15" fill="#f3281c"/>
<circle cx="451.4" cy="1675.3" r="2.15" fill="#f3281c"/>
<circle cx="453.5" cy="1679.4" r="2.15" fill="#f3281c"/>
<circle cx="439.9" cy="1685.1" r="2.15" fill="#f3281c"/>
<circle cx="441.5" cy="1692.0" r="2.15" fill="#f3281c"/>
<circle cx="456.1" cy="1692.0" r="2.15" fill="#f3281c"/>
<circle cx="452.8" cy="1702.4" r="2.15" fill="#f3281c"/>
<circle cx="374.3" cy="1726.0" r="2.15" fill="#f3281c"/>
<circle cx="392.4" cy="1730.3" r="2.15" fill="#f3281c"/>
<circle cx="395.3" cy="1734.4" r="2.15" fill="#f3281c"/>
<circle cx="375.3" cy="1734.2" r="2.15" fill="#f3281c"/>
<circle cx="379.7" cy="1739.2" r="2.15" fill="#f3281c"/>
<circle cx="405.9" cy="1747.2" r="2.15" fill="#f3281c"/>
<circle cx="364.8" cy="1751.0" r="2.15" fill="#f3281c"/>
<circle cx="249.6" cy="1752.8" r="2.15" fill="#f3281c"/>
<circle cx="275.7" cy="1754.8" r="2.15" fill="#f3281c"/>
<circle cx="414.1" cy="1756.4" r="2.15" fill="#f3281c"/>
<circle cx="315.6" cy="1777.1" r="2.15" fill="#f3281c"/>
<circle cx="363.8" cy="1778.4" r="2.15" fill="#f3281c"/>
<circle cx="400.3" cy="1776.8" r="2.15" fill="#f3281c"/>
<circle cx="276.0" cy="1791.6" r="2.15" fill="#f3281c"/>
<circle cx="311.2" cy="1830.9" r="2.15" fill="#f3281c"/>
<circle cx="276.0" cy="1835.5" r="2.15" fill="#f3281c"/>
<circle cx="435.3" cy="1742.8" r="2.15" fill="#f3281c"/>
<circle cx="514.0" cy="1767.1" r="2.15" fill="#f3281c"/>
<circle cx="432.3" cy="1795.5" r="2.15" fill="#f3281c"/>
<line x1="184" y1="1878.4" x2="671.6" y2="1549.1" stroke="#1f6fe6" stroke-width="2.3"/>
<rect x="759.3" y="1496.9" width="142.70000000000005" height="439.29999999999995" fill="#fcfcfc"/>
<line x1="759.3" y1="1872.9" x2="902" y2="1872.9" stroke="#fff" stroke-width="1.4"/>
<line x1="759.3" y1="1790.6" x2="902" y2="1790.6" stroke="#fff" stroke-width="1.4"/>
<line x1="759.3" y1="1708.2" x2="902" y2="1708.2" stroke="#fff" stroke-width="1.4"/>
<line x1="759.3" y1="1625.9" x2="902" y2="1625.9" stroke="#fff" stroke-width="1.4"/>
<line x1="759.3" y1="1543.6" x2="902" y2="1543.6" stroke="#fff" stroke-width="1.4"/>
<line x1="797.4" y1="1496.9" x2="797.4" y2="1936.2" stroke="#fff" stroke-width="1.4"/>
<line x1="864" y1="1496.9" x2="864" y2="1936.2" stroke="#fff" stroke-width="1.4"/>
<line x1="757.0999999999999" y1="1625.9" x2="759.3" y2="1625.9" stroke="#888" stroke-width="1"/>
<text x="752.7" y="1632.7" font-size="19.5" text-anchor="end" font-family="'Liberation Sans', Arial, sans-serif" fill="#000" >10</text>
<line x1="757.0999999999999" y1="1790.6" x2="759.3" y2="1790.6" stroke="#888" stroke-width="1"/>
<text x="752.7" y="1797.4" font-size="19.5" text-anchor="end" font-family="'Liberation Sans', Arial, sans-serif" fill="#000" >9</text>
<line x1="797.4" y1="1936.2" x2="797.4" y2="1938.4" stroke="#888" stroke-width="1"/>
<text x="797.4" y="1956.2" font-size="16" text-anchor="middle" font-family="'Liberation Sans', Arial, sans-serif" fill="#000" >LDep</text>
<line x1="864" y1="1936.2" x2="864" y2="1938.4" stroke="#888" stroke-width="1"/>
<text x="864.0" y="1956.2" font-size="16" text-anchor="middle" font-family="'Liberation Sans', Arial, sans-serif" fill="#000" >LDom</text>
<polyline points="797.4,1527.9 797.4,1516.4 864,1516.4 864,1527.9" fill="none" stroke="#555" stroke-width="1.3"/>
<text x="771" y="1488.6" font-size="19" font-family="'Liberation Sans', Arial, sans-serif">p &lt; 2.2 x 10<tspan font-size="12" dy="-6.5">-16</tspan></text>
<line x1="797.4" y1="1535.7" x2="797.4" y2="1789.8" stroke="#666" stroke-width="1.05"/>
<rect x="772.4" y="1634.3" width="50.0" height="69.0" fill="#fba4a2" stroke="#555" stroke-width="1.05"/>
<line x1="864" y1="1592.4" x2="864" y2="1916.7" stroke="#666" stroke-width="1.05"/>
<rect x="839.0" y="1721.2" width="50.0" height="116.9" fill="#a2d2a2" stroke="#555" stroke-width="1.05"/>
<circle cx="803.0" cy="1773.1" r="2.3" fill="#f3281c"/>
<circle cx="801.0" cy="1762.2" r="2.3" fill="#f3281c"/>
<circle cx="805.1" cy="1760.3" r="2.3" fill="#f3281c"/>
<circle cx="782.2" cy="1752.6" r="2.3" fill="#f3281c"/>
<circle cx="808.1" cy="1745.4" r="2.3" fill="#f3281c"/>
<circle cx="795.4" cy="1743.4" r="2.3" fill="#f3281c"/>
<circle cx="799.8" cy="1736.4" r="2.3" fill="#f3281c"/>
<circle cx="803.2" cy="1734.0" r="2.3" fill="#f3281c"/>
<circle cx="795.8" cy="1731.9" r="2.3" fill="#f3281c"/>
<circle cx="787.7" cy="1727.4" r="2.3" fill="#f3281c"/>
<circle cx="784.3" cy="1723.5" r="2.3" fill="#f3281c"/>
<circle cx="783.2" cy="1720.8" r="2.3" fill="#f3281c"/>
<circle cx="798.0" cy="1717.2" r="2.3" fill="#f3281c"/>
<circle cx="791.4" cy="1715.9" r="2.3" fill="#f3281c"/>
<circle cx="801.8" cy="1711.4" r="2.3" fill="#f3281c"/>
<circle cx="772.5" cy="1709.9" r="2.3" fill="#f3281c"/>
<circle cx="789.9" cy="1706.6" r="2.3" fill="#f3281c"/>
<circle cx="815.9" cy="1704.2" r="2.3" fill="#f3281c"/>
<circle cx="784.1" cy="1702.4" r="2.3" fill="#f3281c"/>
<circle cx="800.3" cy="1700.3" r="2.3" fill="#f3281c"/>
<circle cx="797.0" cy="1697.3" r="2.3" fill="#f3281c"/>
<circle cx="786.4" cy="1694.9" r="2.3" fill="#f3281c"/>
<circle cx="822.3" cy="1693.1" r="2.3" fill="#f3281c"/>
<circle cx="787.0" cy="1691.4" r="2.3" fill="#f3281c"/>
<circle cx="811.3" cy="1689.8" r="2.3" fill="#f3281c"/>
<circle cx="780.0" cy="1688.2" r="2.3" fill="#f3281c"/>
<circle cx="775.3" cy="1684.1" r="2.3" fill="#f3281c"/>
<circle cx="816.3" cy="1682.5" r="2.3" fill="#f3281c"/>
<circle cx="794.3" cy="1680.1" r="2.3" fill="#f3281c"/>
<circle cx="775.1" cy="1679.1" r="2.3" fill="#f3281c"/>
<circle cx="791.7" cy="1676.3" r="2.3" fill="#f3281c"/>
<circle cx="794.3" cy="1673.4" r="2.3" fill="#f3281c"/>
<circle cx="809.4" cy="1671.6" r="2.3" fill="#f3281c"/>
<circle cx="777.5" cy="1669.9" r="2.3" fill="#f3281c"/>
<circle cx="783.4" cy="1668.4" r="2.3" fill="#f3281c"/>
<circle cx="820.8" cy="1666.0" r="2.3" fill="#f3281c"/>
<circle cx="809.6" cy="1663.3" r="2.3" fill="#f3281c"/>
<circle cx="779.8" cy="1662.5" r="2.3" fill="#f3281c"/>
<circle cx="789.1" cy="1660.3" r="2.3" fill="#f3281c"/>
<circle cx="789.9" cy="1658.7" r="2.3" fill="#f3281c"/>
<circle cx="806.3" cy="1656.5" r="2.3" fill="#f3281c"/>
<circle cx="803.3" cy="1655.0" r="2.3" fill="#f3281c"/>
<circle cx="815.2" cy="1654.2" r="2.3" fill="#f3281c"/>
<circle cx="813.8" cy="1652.9" r="2.3" fill="#f3281c"/>
<circle cx="798.3" cy="1650.8" r="2.3" fill="#f3281c"/>
<circle cx="809.6" cy="1648.8" r="2.3" fill="#f3281c"/>
<circle cx="809.8" cy="1646.9" r="2.3" fill="#f3281c"/>
<circle cx="810.6" cy="1644.8" r="2.3" fill="#f3281c"/>
<circle cx="796.1" cy="1643.0" r="2.3" fill="#f3281c"/>
<circle cx="811.9" cy="1642.7" r="2.3" fill="#f3281c"/>
<circle cx="808.0" cy="1639.7" r="2.3" fill="#f3281c"/>
<circle cx="818.5" cy="1638.0" r="2.3" fill="#f3281c"/>
<circle cx="778.4" cy="1636.2" r="2.3" fill="#f3281c"/>
<circle cx="816.3" cy="1635.0" r="2.3" fill="#f3281c"/>
<circle cx="772.1" cy="1633.5" r="2.3" fill="#f3281c"/>
<circle cx="810.9" cy="1629.1" r="2.3" fill="#f3281c"/>
<circle cx="801.8" cy="1626.3" r="2.3" fill="#f3281c"/>
<circle cx="797.3" cy="1623.6" r="2.3" fill="#f3281c"/>
<circle cx="821.0" cy="1619.8" r="2.3" fill="#f3281c"/>
<circle cx="801.1" cy="1618.4" r="2.3" fill="#f3281c"/>
<circle cx="793.2" cy="1615.9" r="2.3" fill="#f3281c"/>
<circle cx="811.9" cy="1610.8" r="2.3" fill="#f3281c"/>
<circle cx="816.4" cy="1606.2" r="2.3" fill="#f3281c"/>
<circle cx="802.9" cy="1604.7" r="2.3" fill="#f3281c"/>
<circle cx="791.3" cy="1598.3" r="2.3" fill="#f3281c"/>
<circle cx="795.0" cy="1593.0" r="2.3" fill="#f3281c"/>
<circle cx="795.3" cy="1591.6" r="2.3" fill="#f3281c"/>
<circle cx="808.8" cy="1584.5" r="2.3" fill="#f3281c"/>
<circle cx="786.8" cy="1578.2" r="2.3" fill="#f3281c"/>
<circle cx="791.8" cy="1572.8" r="2.3" fill="#f3281c"/>
<circle cx="800.2" cy="1567.0" r="2.3" fill="#f3281c"/>
<circle cx="791.5" cy="1556.0" r="2.3" fill="#f3281c"/>
<circle cx="788.3" cy="1828.0" r="2.3" fill="#f3281c"/>
<circle cx="812.0" cy="1832.0" r="2.3" fill="#f3281c"/>
<circle cx="815.2" cy="1535.7" r="2.3" fill="#f3281c"/>
<circle cx="797.4" cy="1789.8" r="2.3" fill="#f3281c"/>
<circle cx="861.1" cy="1908.8" r="2.3" fill="#0e8c18"/>
<circle cx="847.9" cy="1904.9" r="2.3" fill="#0e8c18"/>
<circle cx="854.0" cy="1902.9" r="2.3" fill="#0e8c18"/>
<circle cx="845.9" cy="1901.3" r="2.3" fill="#0e8c18"/>
<circle cx="867.8" cy="1897.6" r="2.3" fill="#0e8c18"/>
<circle cx="868.2" cy="1895.8" r="2.3" fill="#0e8c18"/>
<circle cx="843.0" cy="1895.0" r="2.3" fill="#0e8c18"/>
<circle cx="885.4" cy="1892.8" r="2.3" fill="#0e8c18"/>
<circle cx="855.0" cy="1890.8" r="2.3" fill="#0e8c18"/>
<circle cx="881.5" cy="1889.4" r="2.3" fill="#0e8c18"/>
<circle cx="881.2" cy="1888.5" r="2.3" fill="#0e8c18"/>
<circle cx="887.4" cy="1887.3" r="2.3" fill="#0e8c18"/>
<circle cx="848.9" cy="1885.9" r="2.3" fill="#0e8c18"/>
<circle cx="860.2" cy="1885.2" r="2.3" fill="#0e8c18"/>
<circle cx="884.9" cy="1884.0" r="2.3" fill="#0e8c18"/>
<circle cx="839.0" cy="1882.9" r="2.3" fill="#0e8c18"/>
<circle cx="840.9" cy="1881.3" r="2.3" fill="#0e8c18"/>
<circle cx="867.3" cy="1880.6" r="2.3" fill="#0e8c18"/>
<circle cx="863.9" cy="1879.4" r="2.3" fill="#0e8c18"/>
<circle cx="885.4" cy="1878.5" r="2.3" fill="#0e8c18"/>
<circle cx="877.9" cy="1877.4" r="2.3" fill="#0e8c18"/>
<circle cx="866.0" cy="1876.8" r="2.3" fill="#0e8c18"/>
<circle cx="889.4" cy="1876.0" r="2.3" fill="#0e8c18"/>
<circle cx="864.9" cy="1874.3" r="2.3" fill="#0e8c18"/>
<circle cx="864.9" cy="1873.9" r="2.3" fill="#0e8c18"/>
<circle cx="873.4" cy="1873.3" r="2.3" fill="#0e8c18"/>
<circle cx="858.4" cy="1872.0" r="2.3" fill="#0e8c18"/>
<circle cx="856.7" cy="1871.0" r="2.3" fill="#0e8c18"/>
<circle cx="868.8" cy="1870.7" r="2.3" fill="#0e8c18"/>
<circle cx="856.4" cy="1869.6" r="2.3" fill="#0e8c18"/>
<circle cx="886.8" cy="1869.0" r="2.3" fill="#0e8c18"/>
<circle cx="873.0" cy="1868.1" r="2.3" fill="#0e8c18"/>
<circle cx="865.3" cy="1867.7" r="2.3" fill="#0e8c18"/>
<circle cx="843.5" cy="1866.9" r="2.3" fill="#0e8c18"/>
<circle cx="857.6" cy="1865.5" r="2.3" fill="#0e8c18"/>
<circle cx="858.9" cy="1864.8" r="2.3" fill="#0e8c18"/>
<circle cx="867.1" cy="1864.4" r="2.3" fill="#0e8c18"/>
<circle cx="867.8" cy="1863.6" r="2.3" fill="#0e8c18"/>
<circle cx="883.4" cy="1863.1" r="2.3" fill="#0e8c18"/>
<circle cx="887.7" cy="1862.1" r="2.3" fill="#0e8c18"/>
<circle cx="863.3" cy="1861.7" r="2.3" fill="#0e8c18"/>
<circle cx="860.9" cy="1860.6" r="2.3" fill="#0e8c18"/>
<circle cx="870.4" cy="1860.1" r="2.3" fill="#0e8c18"/>
<circle cx="889.3" cy="1859.4" r="2.3" fill="#0e8c18"/>
<circle cx="856.0" cy="1858.6" r="2.3" fill="#0e8c18"/>
<circle cx="865.5" cy="1858.5" r="2.3" fill="#0e8c18"/>
<circle cx="880.1" cy="1858.0" r="2.3" fill="#0e8c18"/>
<circle cx="847.2" cy="1857.2" r="2.3" fill="#0e8c18"/>
<circle cx="854.7" cy="1856.6" r="2.3" fill="#0e8c18"/>
<circle cx="888.4" cy="1856.1" r="2.3" fill="#0e8c18"/>
<circle cx="880.6" cy="1855.5" r="2.3" fill="#0e8c18"/>
<circle cx="864.6" cy="1854.5" r="2.3" fill="#0e8c18"/>
<circle cx="844.1" cy="1853.8" r="2.3" fill="#0e8c18"/>
<circle cx="884.1" cy="1853.4" r="2.3" fill="#0e8c18"/>
<circle cx="873.7" cy="1852.5" r="2.3" fill="#0e8c18"/>
<circle cx="880.3" cy="1852.0" r="2.3" fill="#0e8c18"/>
<circle cx="889.0" cy="1851.9" r="2.3" fill="#0e8c18"/>
<circle cx="883.8" cy="1851.0" r="2.3" fill="#0e8c18"/>
<circle cx="860.0" cy="1850.6" r="2.3" fill="#0e8c18"/>
<circle cx="846.5" cy="1850.1" r="2.3" fill="#0e8c18"/>
<circle cx="853.3" cy="1849.1" r="2.3" fill="#0e8c18"/>
<circle cx="864.6" cy="1849.0" r="2.3" fill="#0e8c18"/>
<circle cx="864.2" cy="1848.2" r="2.3" fill="#0e8c18"/>
<circle cx="848.1" cy="1847.7" r="2.3" fill="#0e8c18"/>
<circle cx="847.8" cy="1846.9" r="2.3" fill="#0e8c18"/>
<circle cx="870.6" cy="1846.6" r="2.3" fill="#0e8c18"/>
<circle cx="869.3" cy="1846.2" r="2.3" fill="#0e8c18"/>
<circle cx="856.5" cy="1845.6" r="2.3" fill="#0e8c18"/>
<circle cx="889.2" cy="1845.2" r="2.3" fill="#0e8c18"/>
<circle cx="871.0" cy="1844.3" r="2.3" fill="#0e8c18"/>
<circle cx="840.7" cy="1843.8" r="2.3" fill="#0e8c18"/>
<circle cx="859.5" cy="1843.7" r="2.3" fill="#0e8c18"/>
<circle cx="878.7" cy="1843.2" r="2.3" fill="#0e8c18"/>
<circle cx="854.1" cy="1842.6" r="2.3" fill="#0e8c18"/>
<circle cx="873.7" cy="1842.1" r="2.3" fill="#0e8c18"/>
<circle cx="838.7" cy="1841.3" r="2.3" fill="#0e8c18"/>
<circle cx="854.0" cy="1840.8" r="2.3" fill="#0e8c18"/>
<circle cx="881.5" cy="1840.4" r="2.3" fill="#0e8c18"/>
<circle cx="868.4" cy="1840.2" r="2.3" fill="#0e8c18"/>
<circle cx="872.6" cy="1839.4" r="2.3" fill="#0e8c18"/>
<circle cx="848.5" cy="1839.0" r="2.3" fill="#0e8c18"/>
<circle cx="863.9" cy="1838.5" r="2.3" fill="#0e8c18"/>
<circle cx="866.7" cy="1837.8" r="2.3" fill="#0e8c18"/>
<circle cx="852.1" cy="1837.8" r="2.3" fill="#0e8c18"/>
<circle cx="871.5" cy="1837.1" r="2.3" fill="#0e8c18"/>
<circle cx="865.6" cy="1836.1" r="2.3" fill="#0e8c18"/>
<circle cx="889.4" cy="1835.4" r="2.3" fill="#0e8c18"/>
<circle cx="867.8" cy="1835.0" r="2.3" fill="#0e8c18"/>
<circle cx="859.5" cy="1834.6" r="2.3" fill="#0e8c18"/>
<circle cx="844.7" cy="1833.8" r="2.3" fill="#0e8c18"/>
<circle cx="846.5" cy="1833.1" r="2.3" fill="#0e8c18"/>
<circle cx="877.2" cy="1832.9" r="2.3" fill="#0e8c18"/>
<circle cx="843.9" cy="1832.1" r="2.3" fill="#0e8c18"/>
<circle cx="843.6" cy="1831.6" r="2.3" fill="#0e8c18"/>
<circle cx="847.2" cy="1831.1" r="2.3" fill="#0e8c18"/>
<circle cx="865.1" cy="1830.2" r="2.3" fill="#0e8c18"/>
<circle cx="880.5" cy="1829.8" r="2.3" fill="#0e8c18"/>
<circle cx="869.8" cy="1829.2" r="2.3" fill="#0e8c18"/>
<circle cx="879.6" cy="1828.6" r="2.3" fill="#0e8c18"/>
<circle cx="841.7" cy="1827.7" r="2.3" fill="#0e8c18"/>
<circle cx="839.1" cy="1827.5" r="2.3" fill="#0e8c18"/>
<circle cx="877.8" cy="1826.5" r="2.3" fill="#0e8c18"/>
<circle cx="855.0" cy="1826.2" r="2.3" fill="#0e8c18"/>
<circle cx="875.0" cy="1825.7" r="2.3" fill="#0e8c18"/>
<circle cx="856.5" cy="1824.5" r="2.3" fill="#0e8c18"/>
<circle cx="847.1" cy="1824.3" r="2.3" fill="#0e8c18"/>
<circle cx="852.1" cy="1823.3" r="2.3" fill="#0e8c18"/>
<circle cx="843.6" cy="1822.7" r="2.3" fill="#0e8c18"/>
<circle cx="884.6" cy="1822.1" r="2.3" fill="#0e8c18"/>
<circle cx="868.2" cy="1822.0" r="2.3" fill="#0e8c18"/>
<circle cx="856.3" cy="1821.2" r="2.3" fill="#0e8c18"/>
<circle cx="861.4" cy="1820.8" r="2.3" fill="#0e8c18"/>
<circle cx="858.2" cy="1819.7" r="2.3" fill="#0e8c18"/>
<circle cx="841.3" cy="1819.1" r="2.3" fill="#0e8c18"/>
<circle cx="883.9" cy="1818.6" r="2.3" fill="#0e8c18"/>
<circle cx="868.2" cy="1818.1" r="2.3" fill="#0e8c18"/>
<circle cx="887.4" cy="1817.6" r="2.3" fill="#0e8c18"/>
<circle cx="860.9" cy="1816.7" r="2.3" fill="#0e8c18"/>
<circle cx="870.1" cy="1816.3" r="2.3" fill="#0e8c18"/>
<circle cx="851.2" cy="1815.6" r="2.3" fill="#0e8c18"/>
<circle cx="840.7" cy="1815.3" r="2.3" fill="#0e8c18"/>
<circle cx="886.0" cy="1814.6" r="2.3" fill="#0e8c18"/>
<circle cx="882.1" cy="1814.1" r="2.3" fill="#0e8c18"/>
<circle cx="854.6" cy="1813.1" r="2.3" fill="#0e8c18"/>
<circle cx="884.3" cy="1812.6" r="2.3" fill="#0e8c18"/>
<circle cx="880.1" cy="1812.3" r="2.3" fill="#0e8c18"/>
<circle cx="854.0" cy="1811.2" r="2.3" fill="#0e8c18"/>
<circle cx="869.2" cy="1811.0" r="2.3" fill="#0e8c18"/>
<circle cx="887.5" cy="1810.3" r="2.3" fill="#0e8c18"/>
<circle cx="863.8" cy="1809.8" r="2.3" fill="#0e8c18"/>
<circle cx="886.9" cy="1809.1" r="2.3" fill="#0e8c18"/>
<circle cx="850.9" cy="1808.2" r="2.3" fill="#0e8c18"/>
<circle cx="858.4" cy="1807.9" r="2.3" fill="#0e8c18"/>
<circle cx="875.1" cy="1807.4" r="2.3" fill="#0e8c18"/>
<circle cx="849.8" cy="1806.6" r="2.3" fill="#0e8c18"/>
<circle cx="854.3" cy="1806.1" r="2.3" fill="#0e8c18"/>
<circle cx="883.1" cy="1805.1" r="2.3" fill="#0e8c18"/>
<circle cx="863.2" cy="1805.0" r="2.3" fill="#0e8c18"/>
<circle cx="878.9" cy="1803.9" r="2.3" fill="#0e8c18"/>
<circle cx="850.9" cy="1803.8" r="2.3" fill="#0e8c18"/>
<circle cx="847.3" cy="1802.7" r="2.3" fill="#0e8c18"/>
<circle cx="856.8" cy="1802.2" r="2.3" fill="#0e8c18"/>
<circle cx="848.0" cy="1801.9" r="2.3" fill="#0e8c18"/>
<circle cx="888.0" cy="1801.1" r="2.3" fill="#0e8c18"/>
<circle cx="853.3" cy="1800.7" r="2.3" fill="#0e8c18"/>
<circle cx="867.1" cy="1800.1" r="2.3" fill="#0e8c18"/>
<circle cx="844.4" cy="1799.5" r="2.3" fill="#0e8c18"/>
<circle cx="865.7" cy="1798.8" r="2.3" fill="#0e8c18"/>
<circle cx="858.2" cy="1797.8" r="2.3" fill="#0e8c18"/>
<circle cx="859.1" cy="1797.2" r="2.3" fill="#0e8c18"/>
<circle cx="841.8" cy="1796.6" r="2.3" fill="#0e8c18"/>
<circle cx="844.8" cy="1796.5" r="2.3" fill="#0e8c18"/>
<circle cx="880.6" cy="1795.8" r="2.3" fill="#0e8c18"/>
<circle cx="856.4" cy="1794.8" r="2.3" fill="#0e8c18"/>
<circle cx="851.0" cy="1794.7" r="2.3" fill="#0e8c18"/>
<circle cx="848.3" cy="1793.7" r="2.3" fill="#0e8c18"/>
<circle cx="853.0" cy="1793.4" r="2.3" fill="#0e8c18"/>
<circle cx="850.6" cy="1792.4" r="2.3" fill="#0e8c18"/>
<circle cx="840.3" cy="1792.3" r="2.3" fill="#0e8c18"/>
<circle cx="872.4" cy="1791.2" r="2.3" fill="#0e8c18"/>
<circle cx="855.9" cy="1790.9" r="2.3" fill="#0e8c18"/>
<circle cx="846.5" cy="1790.4" r="2.3" fill="#0e8c18"/>
<circle cx="874.5" cy="1789.9" r="2.3" fill="#0e8c18"/>
<circle cx="843.2" cy="1788.8" r="2.3" fill="#0e8c18"/>
<circle cx="852.3" cy="1788.4" r="2.3" fill="#0e8c18"/>
<circle cx="881.1" cy="1787.9" r="2.3" fill="#0e8c18"/>
<circle cx="845.0" cy="1786.9" r="2.3" fill="#0e8c18"/>
<circle cx="861.1" cy="1785.7" r="2.3" fill="#0e8c18"/>
<circle cx="881.2" cy="1785.5" r="2.3" fill="#0e8c18"/>
<circle cx="879.6" cy="1784.4" r="2.3" fill="#0e8c18"/>
<circle cx="846.6" cy="1783.9" r="2.3" fill="#0e8c18"/>
<circle cx="856.5" cy="1783.1" r="2.3" fill="#0e8c18"/>
<circle cx="875.3" cy="1781.8" r="2.3" fill="#0e8c18"/>
<circle cx="857.7" cy="1781.0" r="2.3" fill="#0e8c18"/>
<circle cx="887.4" cy="1780.6" r="2.3" fill="#0e8c18"/>
<circle cx="849.1" cy="1779.9" r="2.3" fill="#0e8c18"/>
<circle cx="887.0" cy="1779.1" r="2.3" fill="#0e8c18"/>
<circle cx="864.2" cy="1777.9" r="2.3" fill="#0e8c18"/>
<circle cx="850.1" cy="1777.2" r="2.3" fill="#0e8c18"/>
<circle cx="861.6" cy="1776.5" r="2.3" fill="#0e8c18"/>
<circle cx="845.2" cy="1775.8" r="2.3" fill="#0e8c18"/>
<circle cx="874.5" cy="1774.6" r="2.3" fill="#0e8c18"/>
<circle cx="851.8" cy="1773.7" r="2.3" fill="#0e8c18"/>
<circle cx="884.4" cy="1772.8" r="2.3" fill="#0e8c18"/>
<circle cx="868.5" cy="1772.2" r="2.3" fill="#0e8c18"/>
<circle cx="857.3" cy="1771.7" r="2.3" fill="#0e8c18"/>
<circle cx="851.1" cy="1771.0" r="2.3" fill="#0e8c18"/>
<circle cx="869.5" cy="1769.7" r="2.3" fill="#0e8c18"/>
<circle cx="849.3" cy="1769.1" r="2.3" fill="#0e8c18"/>
<circle cx="883.0" cy="1768.1" r="2.3" fill="#0e8c18"/>
<circle cx="844.8" cy="1767.8" r="2.3" fill="#0e8c18"/>
<circle cx="864.7" cy="1766.4" r="2.3" fill="#0e8c18"/>
<circle cx="866.2" cy="1765.9" r="2.3" fill="#0e8c18"/>
<circle cx="852.3" cy="1764.7" r="2.3" fill="#0e8c18"/>
<circle cx="877.9" cy="1763.9" r="2.3" fill="#0e8c18"/>
<circle cx="858.1" cy="1763.4" r="2.3" fill="#0e8c18"/>
<circle cx="872.0" cy="1762.9" r="2.3" fill="#0e8c18"/>
<circle cx="867.5" cy="1761.4" r="2.3" fill="#0e8c18"/>
<circle cx="854.4" cy="1761.0" r="2.3" fill="#0e8c18"/>
<circle cx="858.4" cy="1759.8" r="2.3" fill="#0e8c18"/>
<circle cx="842.9" cy="1759.5" r="2.3" fill="#0e8c18"/>
<circle cx="847.5" cy="1758.8" r="2.3" fill="#0e8c18"/>
<circle cx="881.9" cy="1757.4" r="2.3" fill="#0e8c18"/>
<circle cx="854.9" cy="1757.0" r="2.3" fill="#0e8c18"/>
<circle cx="872.3" cy="1756.3" r="2.3" fill="#0e8c18"/>
<circle cx="844.1" cy="1755.4" r="2.3" fill="#0e8c18"/>
<circle cx="867.2" cy="1754.4" r="2.3" fill="#0e8c18"/>
<circle cx="856.9" cy="1754.0" r="2.3" fill="#0e8c18"/>
<circle cx="864.0" cy="1752.8" r="2.3" fill="#0e8c18"/>
<circle cx="853.6" cy="1752.1" r="2.3" fill="#0e8c18"/>
<circle cx="841.9" cy="1751.2" r="2.3" fill="#0e8c18"/>
<circle cx="854.4" cy="1750.7" r="2.3" fill="#0e8c18"/>
<circle cx="850.0" cy="1749.4" r="2.3" fill="#0e8c18"/>
<circle cx="844.9" cy="1748.5" r="2.3" fill="#0e8c18"/>
<circle cx="875.1" cy="1747.7" r="2.3" fill="#0e8c18"/>
<circle cx="852.9" cy="1747.3" r="2.3" fill="#0e8c18"/>
<circle cx="859.1" cy="1746.2" r="2.3" fill="#0e8c18"/>
<circle cx="884.9" cy="1745.6" r="2.3" fill="#0e8c18"/>
<circle cx="878.0" cy="1744.5" r="2.3" fill="#0e8c18"/>
<circle cx="883.5" cy="1744.3" r="2.3" fill="#0e8c18"/>
<circle cx="882.4" cy="1742.8" r="2.3" fill="#0e8c18"/>
<circle cx="845.2" cy="1741.9" r="2.3" fill="#0e8c18"/>
<circle cx="852.6" cy="1741.5" r="2.3" fill="#0e8c18"/>
<circle cx="840.0" cy="1740.7" r="2.3" fill="#0e8c18"/>
<circle cx="873.2" cy="1739.8" r="2.3" fill="#0e8c18"/>
<circle cx="872.3" cy="1739.0" r="2.3" fill="#0e8c18"/>
<circle cx="856.4" cy="1738.6" r="2.3" fill="#0e8c18"/>
<circle cx="859.5" cy="1737.0" r="2.3" fill="#0e8c18"/>
<circle cx="872.1" cy="1736.8" r="2.3" fill="#0e8c18"/>
<circle cx="874.2" cy="1736.1" r="2.3" fill="#0e8c18"/>
<circle cx="851.2" cy="1735.3" r="2.3" fill="#0e8c18"/>
<circle cx="881.7" cy="1734.4" r="2.3" fill="#0e8c18"/>
<circle cx="856.5" cy="1733.1" r="2.3" fill="#0e8c18"/>
<circle cx="870.6" cy="1732.9" r="2.3" fill="#0e8c18"/>
<circle cx="847.8" cy="1732.1" r="2.3" fill="#0e8c18"/>
<circle cx="844.4" cy="1730.8" r="2.3" fill="#0e8c18"/>
<circle cx="885.0" cy="1730.4" r="2.3" fill="#0e8c18"/>
<circle cx="875.9" cy="1729.7" r="2.3" fill="#0e8c18"/>
<circle cx="874.8" cy="1728.4" r="2.3" fill="#0e8c18"/>
<circle cx="840.6" cy="1727.6" r="2.3" fill="#0e8c18"/>
<circle cx="840.5" cy="1726.9" r="2.3" fill="#0e8c18"/>
<circle cx="846.8" cy="1725.9" r="2.3" fill="#0e8c18"/>
<circle cx="848.6" cy="1725.6" r="2.3" fill="#0e8c18"/>
<circle cx="854.0" cy="1724.1" r="2.3" fill="#0e8c18"/>
<circle cx="857.9" cy="1723.5" r="2.3" fill="#0e8c18"/>
<circle cx="840.5" cy="1723.2" r="2.3" fill="#0e8c18"/>
<circle cx="854.4" cy="1722.3" r="2.3" fill="#0e8c18"/>
<circle cx="871.1" cy="1721.2" r="2.3" fill="#0e8c18"/>
<circle cx="847.7" cy="1720.4" r="2.3" fill="#0e8c18"/>
<circle cx="881.3" cy="1719.8" r="2.3" fill="#0e8c18"/>
<circle cx="867.6" cy="1719.1" r="2.3" fill="#0e8c18"/>
<circle cx="875.0" cy="1718.1" r="2.3" fill="#0e8c18"/>
<circle cx="851.5" cy="1717.5" r="2.3" fill="#0e8c18"/>
<circle cx="860.7" cy="1716.4" r="2.3" fill="#0e8c18"/>
<circle cx="873.4" cy="1715.3" r="2.3" fill="#0e8c18"/>
<circle cx="856.3" cy="1715.1" r="2.3" fill="#0e8c18"/>
<circle cx="838.5" cy="1713.9" r="2.3" fill="#0e8c18"/>
<circle cx="881.0" cy="1712.9" r="2.3" fill="#0e8c18"/>
<circle cx="878.1" cy="1712.6" r="2.3" fill="#0e8c18"/>
<circle cx="853.1" cy="1711.2" r="2.3" fill="#0e8c18"/>
<circle cx="840.7" cy="1710.3" r="2.3" fill="#0e8c18"/>
<circle cx="882.1" cy="1709.9" r="2.3" fill="#0e8c18"/>
<circle cx="869.5" cy="1709.0" r="2.3" fill="#0e8c18"/>
<circle cx="840.9" cy="1707.8" r="2.3" fill="#0e8c18"/>
<circle cx="851.0" cy="1707.2" r="2.3" fill="#0e8c18"/>
<circle cx="844.2" cy="1706.4" r="2.3" fill="#0e8c18"/>
<circle cx="878.9" cy="1705.0" r="2.3" fill="#0e8c18"/>
<circle cx="849.2" cy="1704.3" r="2.3" fill="#0e8c18"/>
<circle cx="885.1" cy="1703.8" r="2.3" fill="#0e8c18"/>
<circle cx="876.7" cy="1703.0" r="2.3" fill="#0e8c18"/>
<circle cx="842.9" cy="1702.0" r="2.3" fill="#0e8c18"/>
<circle cx="873.9" cy="1700.9" r="2.3" fill="#0e8c18"/>
<circle cx="858.6" cy="1699.5" r="2.3" fill="#0e8c18"/>
<circle cx="876.6" cy="1698.7" r="2.3" fill="#0e8c18"/>
<circle cx="880.8" cy="1697.7" r="2.3" fill="#0e8c18"/>
<circle cx="852.8" cy="1696.8" r="2.3" fill="#0e8c18"/>
<circle cx="843.1" cy="1695.8" r="2.3" fill="#0e8c18"/>
<circle cx="886.8" cy="1695.6" r="2.3" fill="#0e8c18"/>
<circle cx="860.1" cy="1694.2" r="2.3" fill="#0e8c18"/>
<circle cx="885.9" cy="1692.7" r="2.3" fill="#0e8c18"/>
<circle cx="873.8" cy="1691.8" r="2.3" fill="#0e8c18"/>
<circle cx="876.2" cy="1691.4" r="2.3" fill="#0e8c18"/>
<circle cx="880.8" cy="1690.2" r="2.3" fill="#0e8c18"/>
<circle cx="870.5" cy="1689.0" r="2.3" fill="#0e8c18"/>
<circle cx="861.6" cy="1688.2" r="2.3" fill="#0e8c18"/>
<circle cx="841.3" cy="1687.0" r="2.3" fill="#0e8c18"/>
<circle cx="874.1" cy="1686.4" r="2.3" fill="#0e8c18"/>
<circle cx="860.3" cy="1685.0" r="2.3" fill="#0e8c18"/>
<circle cx="864.6" cy="1683.8" r="2.3" fill="#0e8c18"/>
<circle cx="885.8" cy="1683.2" r="2.3" fill="#0e8c18"/>
<circle cx="845.0" cy="1682.0" r="2.3" fill="#0e8c18"/>
<circle cx="877.4" cy="1679.9" r="2.3" fill="#0e8c18"/>
<circle cx="840.7" cy="1679.0" r="2.3" fill="#0e8c18"/>
<circle cx="874.3" cy="1677.6" r="2.3" fill="#0e8c18"/>
<circle cx="879.6" cy="1676.8" r="2.3" fill="#0e8c18"/>
<circle cx="851.8" cy="1675.4" r="2.3" fill="#0e8c18"/>
<circle cx="866.4" cy="1674.1" r="2.3" fill="#0e8c18"/>
<circle cx="887.9" cy="1672.8" r="2.3" fill="#0e8c18"/>
<circle cx="871.0" cy="1672.6" r="2.3" fill="#0e8c18"/>
<circle cx="866.2" cy="1670.6" r="2.3" fill="#0e8c18"/>
<circle cx="851.2" cy="1669.8" r="2.3" fill="#0e8c18"/>
<circle cx="841.5" cy="1667.9" r="2.3" fill="#0e8c18"/>
<circle cx="856.7" cy="1667.1" r="2.3" fill="#0e8c18"/>
<circle cx="859.5" cy="1665.4" r="2.3" fill="#0e8c18"/>
<circle cx="848.8" cy="1663.5" r="2.3" fill="#0e8c18"/>
<circle cx="854.3" cy="1662.5" r="2.3" fill="#0e8c18"/>
<circle cx="845.5" cy="1661.6" r="2.3" fill="#0e8c18"/>
<circle cx="874.6" cy="1659.7" r="2.3" fill="#0e8c18"/>
<circle cx="872.7" cy="1658.3" r="2.3" fill="#0e8c18"/>
<circle cx="850.6" cy="1656.0" r="2.3" fill="#0e8c18"/>
<circle cx="850.8" cy="1655.5" r="2.3" fill="#0e8c18"/>
<circle cx="864.8" cy="1653.8" r="2.3" fill="#0e8c18"/>
<circle cx="861.2" cy="1651.6" r="2.3" fill="#0e8c18"/>
<circle cx="886.2" cy="1650.8" r="2.3" fill="#0e8c18"/>
<circle cx="856.4" cy="1648.2" r="2.3" fill="#0e8c18"/>
<circle cx="853.8" cy="1645.7" r="2.3" fill="#0e8c18"/>
<circle cx="883.6" cy="1644.6" r="2.3" fill="#0e8c18"/>
<circle cx="845.7" cy="1643.1" r="2.3" fill="#0e8c18"/>
<circle cx="867.2" cy="1640.7" r="2.3" fill="#0e8c18"/>
<circle cx="855.5" cy="1638.4" r="2.3" fill="#0e8c18"/>
<circle cx="880.1" cy="1637.1" r="2.3" fill="#0e8c18"/>
<circle cx="866.5" cy="1634.8" r="2.3" fill="#0e8c18"/>
<circle cx="877.3" cy="1632.4" r="2.3" fill="#0e8c18"/>
<circle cx="847.1" cy="1629.3" r="2.3" fill="#0e8c18"/>
<circle cx="872.5" cy="1626.2" r="2.3" fill="#0e8c18"/>
<circle cx="869.0" cy="1623.4" r="2.3" fill="#0e8c18"/>
<circle cx="862.0" cy="1620.2" r="2.3" fill="#0e8c18"/>
<circle cx="877.6" cy="1616.9" r="2.3" fill="#0e8c18"/>
<circle cx="880.9" cy="1610.0" r="2.3" fill="#0e8c18"/>
<circle cx="844.3" cy="1599.4" r="2.3" fill="#0e8c18"/>
<circle cx="853.3" cy="1592.4" r="2.3" fill="#0e8c18"/>
<circle cx="856.9" cy="1916.7" r="2.3" fill="#0e8c18"/>
<line x1="772.4" y1="1664.8" x2="822.4" y2="1664.8" stroke="#3c3c3c" stroke-width="1.9"/>
<line x1="839.0" y1="1788.1" x2="889.0" y2="1788.1" stroke="#3c3c3c" stroke-width="1.9"/>
<rect x="1036" y="1493.8" width="523.7" height="442.60000000000014" fill="#fcfcfc"/>
<line x1="1056.4" y1="1493.8" x2="1056.4" y2="1936.4" stroke="#fff" stroke-width="1.4"/>
<line x1="1112.8" y1="1493.8" x2="1112.8" y2="1936.4" stroke="#fff" stroke-width="1.4"/>
<line x1="1169.1" y1="1493.8" x2="1169.1" y2="1936.4" stroke="#fff" stroke-width="1.4"/>
<line x1="1225.4" y1="1493.8" x2="1225.4" y2="1936.4" stroke="#fff" stroke-width="1.4"/>
<line x1="1281.8" y1="1493.8" x2="1281.8" y2="1936.4" stroke="#fff" stroke-width="1.4"/>
<line x1="1338.1" y1="1493.8" x2="1338.1" y2="1936.4" stroke="#fff" stroke-width="1.4"/>
<line x1="1394.5" y1="1493.8" x2="1394.5" y2="1936.4" stroke="#fff" stroke-width="1.4"/>
<line x1="1450.8" y1="1493.8" x2="1450.8" y2="1936.4" stroke="#fff" stroke-width="1.4"/>
<line x1="1507.2" y1="1493.8" x2="1507.2" y2="1936.4" stroke="#fff" stroke-width="1.4"/>
<line x1="1036" y1="1915.5" x2="1559.7" y2="1915.5" stroke="#fff" stroke-width="1.4"/>
<line x1="1036" y1="1859.9" x2="1559.7" y2="1859.9" stroke="#fff" stroke-width="1.4"/>
<line x1="1036" y1="1804.4" x2="1559.7" y2="1804.4" stroke="#fff" stroke-width="1.4"/>
<line x1="1036" y1="1748.9" x2="1559.7" y2="1748.9" stroke="#fff" stroke-width="1.4"/>
<line x1="1036" y1="1693.3" x2="1559.7" y2="1693.3" stroke="#fff" stroke-width="1.4"/>
<line x1="1036" y1="1637.8" x2="1559.7" y2="1637.8" stroke="#fff" stroke-width="1.4"/>
<line x1="1036" y1="1582.3" x2="1559.7" y2="1582.3" stroke="#fff" stroke-width="1.4"/>
<line x1="1036" y1="1526.8" x2="1559.7" y2="1526.8" stroke="#fff" stroke-width="1.4"/>
<line x1="1056.4" y1="1936.4" x2="1056.4" y2="1938.6000000000001" stroke="#888" stroke-width="1"/>
<text x="1055.9" y="1958.9" font-size="20" text-anchor="middle" font-family="'Liberation Sans', Arial, sans-serif" fill="#000" >0</text>
<line x1="1169.1" y1="1936.4" x2="1169.1" y2="1938.6000000000001" stroke="#888" stroke-width="1"/>
<text x="1168.6" y="1958.9" font-size="20" text-anchor="middle" font-family="'Liberation Sans', Arial, sans-serif" fill="#000" >2</text>
<line x1="1281.8" y1="1936.4" x2="1281.8" y2="1938.6000000000001" stroke="#888" stroke-width="1"/>
<text x="1281.3" y="1958.9" font-size="20" text-anchor="middle" font-family="'Liberation Sans', Arial, sans-serif" fill="#000" >4</text>
<line x1="1394.5" y1="1936.4" x2="1394.5" y2="1938.6000000000001" stroke="#888" stroke-width="1"/>
<text x="1394.0" y="1958.9" font-size="20" text-anchor="middle" font-family="'Liberation Sans', Arial, sans-serif" fill="#000" >6</text>
<line x1="1507.2" y1="1936.4" x2="1507.2" y2="1938.6000000000001" stroke="#888" stroke-width="1"/>
<text x="1506.7" y="1958.9" font-size="20" text-anchor="middle" font-family="'Liberation Sans', Arial, sans-serif" fill="#000" >8</text>
<line x1="1033.8" y1="1582.3" x2="1036" y2="1582.3" stroke="#888" stroke-width="1"/>
<text x="1027.2" y="1592.9" font-size="20" text-anchor="end" font-family="'Liberation Sans', Arial, sans-serif" fill="#000" >5</text>
<line x1="1033.8" y1="1693.3" x2="1036" y2="1693.3" stroke="#888" stroke-width="1"/>
<text x="1027.2" y="1703.9" font-size="20" text-anchor="end" font-family="'Liberation Sans', Arial, sans-serif" fill="#000" >4</text>
<line x1="1033.8" y1="1804.4" x2="1036" y2="1804.4" stroke="#888" stroke-width="1"/>
<text x="1027.2" y="1815.0" font-size="20" text-anchor="end" font-family="'Liberation Sans', Arial, sans-serif" fill="#000" >3</text>
<line x1="1033.8" y1="1915.5" x2="1036" y2="1915.5" stroke="#888" stroke-width="1"/>
<text x="1027.2" y="1926.1" font-size="20" text-anchor="end" font-family="'Liberation Sans', Arial, sans-serif" fill="#000" >2</text>
<text x="1318.2" y="1980.0" font-size="19.5" text-anchor="middle" font-family="'Liberation Sans', Arial, sans-serif" fill="#000" >log(IL-1beta+1)</text>
<text x="979" y="1692.4" font-size="19.5" text-anchor="middle" font-family="'Liberation Sans', Arial, sans-serif" transform="rotate(-90 979 1692.4)">predicted log(IL-1beta+1)</text>
<polygon points="1058.5,1835.9 1070.5,1829.5 1082.4,1823.1 1094.4,1816.7 1106.3,1810.2 1118.3,1803.8 1130.2,1797.3 1142.2,1790.9 1154.1,1784.4 1166.1,1777.9 1178.0,1771.4 1190.0,1764.8 1202.0,1758.2 1213.9,1751.6 1225.9,1744.9 1237.8,1738.0 1249.8,1731.1 1261.7,1724.1 1273.7,1716.9 1285.6,1709.6 1297.6,1702.2 1309.6,1694.7 1321.5,1687.2 1333.5,1679.5 1345.4,1671.8 1357.4,1664.1 1369.3,1656.3 1381.3,1648.5 1393.2,1640.7 1405.2,1632.9 1417.2,1625.1 1429.1,1617.3 1441.1,1609.4 1453.0,1601.6 1465.0,1593.7 1476.9,1585.9 1488.9,1578.0 1500.8,1570.1 1512.8,1562.3 1524.7,1554.4 1536.7,1546.5 1536.7,1582.5 1524.7,1588.9 1512.8,1595.3 1500.8,1601.7 1488.9,1608.1 1476.9,1614.5 1465.0,1620.9 1453.0,1627.3 1441.1,1633.7 1429.1,1640.2 1417.2,1646.6 1405.2,1653.0 1393.2,1659.5 1381.3,1666.0 1369.3,1672.5 1357.4,1679.0 1345.4,1685.5 1333.5,1692.1 1321.5,1698.7 1309.6,1705.4 1297.6,1712.2 1285.6,1719.0 1273.7,1726.0 1261.7,1733.1 1249.8,1740.3 1237.8,1747.7 1225.9,1755.2 1213.9,1762.7 1202.0,1770.3 1190.0,1778.0 1178.0,1785.7 1166.1,1793.5 1154.1,1801.2 1142.2,1809.0 1130.2,1816.8 1118.3,1824.7 1106.3,1832.5 1094.4,1840.3 1082.4,1848.2 1070.5,1856.0 1058.5,1863.9" fill="#d6d6d6" fill-opacity="0.42"/>
<circle cx="1271.4" cy="1601.3" r="2.05" fill="#0e8c18"/>
<circle cx="1131.9" cy="1625.1" r="2.05" fill="#0e8c18"/>
<circle cx="1250.2" cy="1635.3" r="2.05" fill="#0e8c18"/>
<circle cx="1285.2" cy="1640.7" r="2.05" fill="#0e8c18"/>
<circle cx="1155.2" cy="1645.8" r="2.05" fill="#0e8c18"/>
<circle cx="1202.4" cy="1649.8" r="2.05" fill="#0e8c18"/>
<circle cx="1141.1" cy="1660.9" r="2.05" fill="#0e8c18"/>
<circle cx="1125.8" cy="1665.5" r="2.05" fill="#0e8c18"/>
<circle cx="1263.4" cy="1658.5" r="2.05" fill="#0e8c18"/>
<circle cx="1261.7" cy="1661.3" r="2.05" fill="#0e8c18"/>
<circle cx="1265.0" cy="1660.1" r="2.05" fill="#0e8c18"/>
<circle cx="1153.1" cy="1674.6" r="2.05" fill="#0e8c18"/>
<circle cx="1166.9" cy="1678.4" r="2.05" fill="#0e8c18"/>
<circle cx="1196.5" cy="1675.7" r="2.05" fill="#0e8c18"/>
<circle cx="1210.0" cy="1675.4" r="2.05" fill="#0e8c18"/>
<circle cx="1241.3" cy="1684.3" r="2.05" fill="#0e8c18"/>
<circle cx="1255.0" cy="1685.4" r="2.05" fill="#0e8c18"/>
<circle cx="1261.9" cy="1684.9" r="2.05" fill="#0e8c18"/>
<circle cx="1267.0" cy="1682.0" r="2.05" fill="#0e8c18"/>
<circle cx="1263.4" cy="1689.0" r="2.05" fill="#0e8c18"/>
<circle cx="1266.0" cy="1690.0" r="2.05" fill="#0e8c18"/>
<circle cx="1170.8" cy="1691.7" r="2.05" fill="#0e8c18"/>
<circle cx="1167.2" cy="1696.9" r="2.05" fill="#0e8c18"/>
<circle cx="1065.0" cy="1702.4" r="2.05" fill="#0e8c18"/>
<circle cx="1279.0" cy="1702.0" r="2.05" fill="#0e8c18"/>
<circle cx="1120.1" cy="1708.1" r="2.05" fill="#0e8c18"/>
<circle cx="1216.2" cy="1710.6" r="2.05" fill="#0e8c18"/>
<circle cx="1226.7" cy="1712.2" r="2.05" fill="#0e8c18"/>
<circle cx="1264.7" cy="1711.1" r="2.05" fill="#0e8c18"/>
<circle cx="1298.7" cy="1708.9" r="2.05" fill="#0e8c18"/>
<circle cx="1395.2" cy="1545.7" r="2.05" fill="#0e8c18"/>
<circle cx="1369.0" cy="1549.8" r="2.05" fill="#0e8c18"/>
<circle cx="1484.4" cy="1564.0" r="2.05" fill="#0e8c18"/>
<circle cx="1321.2" cy="1573.7" r="2.05" fill="#0e8c18"/>
<circle cx="1373.3" cy="1586.5" r="2.05" fill="#0e8c18"/>
<circle cx="1393.2" cy="1589.6" r="2.05" fill="#0e8c18"/>
<circle cx="1406.2" cy="1592.2" r="2.05" fill="#0e8c18"/>
<circle cx="1503.6" cy="1586.0" r="2.05" fill="#0e8c18"/>
<circle cx="1352.9" cy="1601.0" r="2.05" fill="#0e8c18"/>
<circle cx="1351.4" cy="1607.0" r="2.05" fill="#0e8c18"/>
<circle cx="1396.0" cy="1612.5" r="2.05" fill="#0e8c18"/>
<circle cx="1427.7" cy="1612.8" r="2.05" fill="#0e8c18"/>
<circle cx="1504.8" cy="1609.2" r="2.05" fill="#0e8c18"/>
<circle cx="1352.9" cy="1619.2" r="2.05" fill="#0e8c18"/>
<circle cx="1458.1" cy="1616.2" r="2.05" fill="#0e8c18"/>
<circle cx="1327.1" cy="1623.1" r="2.05" fill="#0e8c18"/>
<circle cx="1464.2" cy="1627.3" r="2.05" fill="#0e8c18"/>
<circle cx="1307.7" cy="1633.3" r="2.05" fill="#0e8c18"/>
<circle cx="1311.5" cy="1636.3" r="2.05" fill="#0e8c18"/>
<circle cx="1313.8" cy="1637.3" r="2.05" fill="#0e8c18"/>
<circle cx="1304.1" cy="1638.8" r="2.05" fill="#0e8c18"/>
<circle cx="1367.5" cy="1634.3" r="2.05" fill="#0e8c18"/>
<circle cx="1400.4" cy="1633.2" r="2.05" fill="#0e8c18"/>
<circle cx="1427.0" cy="1638.3" r="2.05" fill="#0e8c18"/>
<circle cx="1324.2" cy="1642.7" r="2.05" fill="#0e8c18"/>
<circle cx="1309.2" cy="1648.5" r="2.05" fill="#0e8c18"/>
<circle cx="1311.5" cy="1650.9" r="2.05" fill="#0e8c18"/>
<circle cx="1314.8" cy="1652.4" r="2.05" fill="#0e8c18"/>
<circle cx="1318.6" cy="1657.8" r="2.05" fill="#0e8c18"/>
<circle cx="1347.8" cy="1658.5" r="2.05" fill="#0e8c18"/>
<circle cx="1329.4" cy="1661.1" r="2.05" fill="#0e8c18"/>
<circle cx="1322.5" cy="1663.9" r="2.05" fill="#0e8c18"/>
<circle cx="1387.3" cy="1665.9" r="2.05" fill="#0e8c18"/>
<circle cx="1448.2" cy="1651.6" r="2.05" fill="#0e8c18"/>
<circle cx="1459.6" cy="1651.7" r="2.05" fill="#0e8c18"/>
<circle cx="1439.0" cy="1670.8" r="2.05" fill="#0e8c18"/>
<circle cx="1307.9" cy="1676.6" r="2.05" fill="#0e8c18"/>
<circle cx="1337.1" cy="1677.0" r="2.05" fill="#0e8c18"/>
<circle cx="1418.7" cy="1678.5" r="2.05" fill="#0e8c18"/>
<circle cx="1447.6" cy="1677.9" r="2.05" fill="#0e8c18"/>
<circle cx="1493.9" cy="1681.6" r="2.05" fill="#0e8c18"/>
<circle cx="1335.3" cy="1684.9" r="2.05" fill="#0e8c18"/>
<circle cx="1382.5" cy="1687.6" r="2.05" fill="#0e8c18"/>
<circle cx="1330.7" cy="1694.1" r="2.05" fill="#0e8c18"/>
<circle cx="1312.5" cy="1696.9" r="2.05" fill="#0e8c18"/>
<circle cx="1334.2" cy="1697.9" r="2.05" fill="#0e8c18"/>
<circle cx="1314.8" cy="1700.2" r="2.05" fill="#0e8c18"/>
<circle cx="1341.9" cy="1699.7" r="2.05" fill="#0e8c18"/>
<circle cx="1366.7" cy="1696.1" r="2.05" fill="#0e8c18"/>
<circle cx="1382.5" cy="1693.8" r="2.05" fill="#0e8c18"/>
<circle cx="1337.0" cy="1705.6" r="2.05" fill="#0e8c18"/>
<circle cx="1381.5" cy="1709.6" r="2.05" fill="#0e8c18"/>
<circle cx="1390.4" cy="1711.4" r="2.05" fill="#0e8c18"/>
<circle cx="1422.6" cy="1712.7" r="2.05" fill="#0e8c18"/>
<circle cx="1300.3" cy="1709.3" r="2.05" fill="#0e8c18"/>
<circle cx="1091.6" cy="1720.7" r="2.05" fill="#0e8c18"/>
<circle cx="1165.6" cy="1723.5" r="2.05" fill="#0e8c18"/>
<circle cx="1166.1" cy="1726.6" r="2.05" fill="#0e8c18"/>
<circle cx="1159.3" cy="1729.6" r="2.05" fill="#0e8c18"/>
<circle cx="1217.8" cy="1719.7" r="2.05" fill="#0e8c18"/>
<circle cx="1226.9" cy="1713.5" r="2.05" fill="#0e8c18"/>
<circle cx="1247.4" cy="1719.2" r="2.05" fill="#0e8c18"/>
<circle cx="1221.5" cy="1730.9" r="2.05" fill="#0e8c18"/>
<circle cx="1239.2" cy="1730.4" r="2.05" fill="#0e8c18"/>
<circle cx="1245.3" cy="1729.4" r="2.05" fill="#0e8c18"/>
<circle cx="1246.9" cy="1728.9" r="2.05" fill="#0e8c18"/>
<circle cx="1270.8" cy="1721.9" r="2.05" fill="#0e8c18"/>
<circle cx="1281.6" cy="1728.3" r="2.05" fill="#0e8c18"/>
<circle cx="1295.9" cy="1725.0" r="2.05" fill="#0e8c18"/>
<circle cx="1136.5" cy="1741.3" r="2.05" fill="#0e8c18"/>
<circle cx="1175.1" cy="1738.5" r="2.05" fill="#0e8c18"/>
<circle cx="1178.4" cy="1736.0" r="2.05" fill="#0e8c18"/>
<circle cx="1182.2" cy="1737.8" r="2.05" fill="#0e8c18"/>
<circle cx="1183.5" cy="1745.5" r="2.05" fill="#0e8c18"/>
<circle cx="1205.7" cy="1736.2" r="2.05" fill="#0e8c18"/>
<circle cx="1239.5" cy="1740.9" r="2.05" fill="#0e8c18"/>
<circle cx="1246.9" cy="1743.2" r="2.05" fill="#0e8c18"/>
<circle cx="1249.6" cy="1741.9" r="2.05" fill="#0e8c18"/>
<circle cx="1247.4" cy="1747.8" r="2.05" fill="#0e8c18"/>
<circle cx="1260.7" cy="1744.2" r="2.05" fill="#0e8c18"/>
<circle cx="1265.7" cy="1745.5" r="2.05" fill="#0e8c18"/>
<circle cx="1268.6" cy="1740.1" r="2.05" fill="#0e8c18"/>
<circle cx="1272.7" cy="1746.5" r="2.05" fill="#0e8c18"/>
<circle cx="1280.1" cy="1744.9" r="2.05" fill="#0e8c18"/>
<circle cx="1290.0" cy="1740.4" r="2.05" fill="#0e8c18"/>
<circle cx="1293.4" cy="1747.3" r="2.05" fill="#0e8c18"/>
<circle cx="1075.0" cy="1751.3" r="2.05" fill="#0e8c18"/>
<circle cx="1129.9" cy="1754.7" r="2.05" fill="#0e8c18"/>
<circle cx="1155.9" cy="1751.0" r="2.05" fill="#0e8c18"/>
<circle cx="1227.2" cy="1751.6" r="2.05" fill="#0e8c18"/>
<circle cx="1258.9" cy="1750.1" r="2.05" fill="#0e8c18"/>
<circle cx="1291.5" cy="1751.1" r="2.05" fill="#0e8c18"/>
<circle cx="1250.5" cy="1754.4" r="2.05" fill="#0e8c18"/>
<circle cx="1257.6" cy="1754.9" r="2.05" fill="#0e8c18"/>
<circle cx="1263.0" cy="1756.1" r="2.05" fill="#0e8c18"/>
<circle cx="1282.3" cy="1756.9" r="2.05" fill="#0e8c18"/>
<circle cx="1242.5" cy="1759.5" r="2.05" fill="#0e8c18"/>
<circle cx="1252.2" cy="1759.8" r="2.05" fill="#0e8c18"/>
<circle cx="1253.5" cy="1762.3" r="2.05" fill="#0e8c18"/>
<circle cx="1166.4" cy="1761.2" r="2.05" fill="#0e8c18"/>
<circle cx="1163.9" cy="1764.1" r="2.05" fill="#0e8c18"/>
<circle cx="1159.2" cy="1766.9" r="2.05" fill="#0e8c18"/>
<circle cx="1151.6" cy="1766.2" r="2.05" fill="#0e8c18"/>
<circle cx="1185.8" cy="1762.8" r="2.05" fill="#0e8c18"/>
<circle cx="1191.9" cy="1765.3" r="2.05" fill="#0e8c18"/>
<circle cx="1185.6" cy="1767.7" r="2.05" fill="#0e8c18"/>
<circle cx="1230.0" cy="1763.9" r="2.05" fill="#0e8c18"/>
<circle cx="1230.0" cy="1766.4" r="2.05" fill="#0e8c18"/>
<circle cx="1257.0" cy="1767.2" r="2.05" fill="#0e8c18"/>
<circle cx="1261.7" cy="1765.1" r="2.05" fill="#0e8c18"/>
<circle cx="1266.2" cy="1763.3" r="2.05" fill="#0e8c18"/>
<circle cx="1096.9" cy="1767.7" r="2.05" fill="#0e8c18"/>
<circle cx="1130.2" cy="1769.9" r="2.05" fill="#0e8c18"/>
<circle cx="1192.4" cy="1772.5" r="2.05" fill="#0e8c18"/>
<circle cx="1233.5" cy="1773.0" r="2.05" fill="#0e8c18"/>
<circle cx="1217.5" cy="1775.0" r="2.05" fill="#0e8c18"/>
<circle cx="1222.8" cy="1773.3" r="2.05" fill="#0e8c18"/>
<circle cx="1283.9" cy="1771.3" r="2.05" fill="#0e8c18"/>
<circle cx="1058.8" cy="1778.2" r="2.05" fill="#0e8c18"/>
<circle cx="1075.2" cy="1775.3" r="2.05" fill="#0e8c18"/>
<circle cx="1128.1" cy="1778.9" r="2.05" fill="#0e8c18"/>
<circle cx="1145.0" cy="1780.9" r="2.05" fill="#0e8c18"/>
<circle cx="1182.2" cy="1778.7" r="2.05" fill="#0e8c18"/>
<circle cx="1216.5" cy="1777.9" r="2.05" fill="#0e8c18"/>
<circle cx="1215.5" cy="1780.4" r="2.05" fill="#0e8c18"/>
<circle cx="1222.6" cy="1779.2" r="2.05" fill="#0e8c18"/>
<circle cx="1196.1" cy="1783.2" r="2.05" fill="#0e8c18"/>
<circle cx="1199.4" cy="1786.6" r="2.05" fill="#0e8c18"/>
<circle cx="1098.5" cy="1784.8" r="2.05" fill="#0e8c18"/>
<circle cx="1059.3" cy="1791.2" r="2.05" fill="#0e8c18"/>
<circle cx="1084.9" cy="1791.9" r="2.05" fill="#0e8c18"/>
<circle cx="1083.4" cy="1794.3" r="2.05" fill="#0e8c18"/>
<circle cx="1144.5" cy="1793.5" r="2.05" fill="#0e8c18"/>
<circle cx="1142.7" cy="1794.8" r="2.05" fill="#0e8c18"/>
<circle cx="1183.2" cy="1790.2" r="2.05" fill="#0e8c18"/>
<circle cx="1177.2" cy="1794.7" r="2.05" fill="#0e8c18"/>
<circle cx="1209.1" cy="1791.9" r="2.05" fill="#0e8c18"/>
<circle cx="1223.1" cy="1790.6" r="2.05" fill="#0e8c18"/>
<circle cx="1270.1" cy="1794.7" r="2.05" fill="#0e8c18"/>
<circle cx="1199.9" cy="1798.5" r="2.05" fill="#0e8c18"/>
<circle cx="1238.7" cy="1799.3" r="2.05" fill="#0e8c18"/>
<circle cx="1238.5" cy="1804.5" r="2.05" fill="#0e8c18"/>
<circle cx="1170.5" cy="1800.1" r="2.05" fill="#0e8c18"/>
<circle cx="1167.6" cy="1802.2" r="2.05" fill="#0e8c18"/>
<circle cx="1172.3" cy="1804.4" r="2.05" fill="#0e8c18"/>
<circle cx="1173.8" cy="1806.7" r="2.05" fill="#0e8c18"/>
<circle cx="1162.8" cy="1803.6" r="2.05" fill="#0e8c18"/>
<circle cx="1191.1" cy="1801.7" r="2.05" fill="#0e8c18"/>
<circle cx="1192.4" cy="1802.7" r="2.05" fill="#0e8c18"/>
<circle cx="1291.5" cy="1801.7" r="2.05" fill="#0e8c18"/>
<circle cx="1132.1" cy="1805.5" r="2.05" fill="#0e8c18"/>
<circle cx="1138.1" cy="1807.5" r="2.05" fill="#0e8c18"/>
<circle cx="1145.4" cy="1807.0" r="2.05" fill="#0e8c18"/>
<circle cx="1265.5" cy="1805.5" r="2.05" fill="#0e8c18"/>
<circle cx="1212.6" cy="1809.1" r="2.05" fill="#0e8c18"/>
<circle cx="1214.4" cy="1811.3" r="2.05" fill="#0e8c18"/>
<circle cx="1172.3" cy="1811.6" r="2.05" fill="#0e8c18"/>
<circle cx="1259.9" cy="1811.9" r="2.05" fill="#0e8c18"/>
<circle cx="1274.4" cy="1815.5" r="2.05" fill="#0e8c18"/>
<circle cx="1164.4" cy="1817.5" r="2.05" fill="#0e8c18"/>
<circle cx="1182.2" cy="1817.0" r="2.05" fill="#0e8c18"/>
<circle cx="1203.5" cy="1816.4" r="2.05" fill="#0e8c18"/>
<circle cx="1205.8" cy="1821.5" r="2.05" fill="#0e8c18"/>
<circle cx="1163.4" cy="1821.6" r="2.05" fill="#0e8c18"/>
<circle cx="1168.0" cy="1824.4" r="2.05" fill="#0e8c18"/>
<circle cx="1165.7" cy="1826.4" r="2.05" fill="#0e8c18"/>
<circle cx="1247.4" cy="1820.1" r="2.05" fill="#0e8c18"/>
<circle cx="1245.0" cy="1823.6" r="2.05" fill="#0e8c18"/>
<circle cx="1244.8" cy="1828.0" r="2.05" fill="#0e8c18"/>
<circle cx="1223.9" cy="1823.9" r="2.05" fill="#0e8c18"/>
<circle cx="1201.1" cy="1827.5" r="2.05" fill="#0e8c18"/>
<circle cx="1188.3" cy="1825.6" r="2.05" fill="#0e8c18"/>
<circle cx="1058.8" cy="1826.9" r="2.05" fill="#0e8c18"/>
<circle cx="1081.9" cy="1828.2" r="2.05" fill="#0e8c18"/>
<circle cx="1101.8" cy="1826.4" r="2.05" fill="#0e8c18"/>
<circle cx="1127.5" cy="1824.8" r="2.05" fill="#0e8c18"/>
<circle cx="1132.1" cy="1825.2" r="2.05" fill="#0e8c18"/>
<circle cx="1133.9" cy="1828.0" r="2.05" fill="#0e8c18"/>
<circle cx="1138.3" cy="1824.4" r="2.05" fill="#0e8c18"/>
<circle cx="1148.7" cy="1828.9" r="2.05" fill="#0e8c18"/>
<circle cx="1156.0" cy="1825.9" r="2.05" fill="#0e8c18"/>
<circle cx="1154.9" cy="1833.5" r="2.05" fill="#0e8c18"/>
<circle cx="1157.9" cy="1835.1" r="2.05" fill="#0e8c18"/>
<circle cx="1165.4" cy="1835.6" r="2.05" fill="#0e8c18"/>
<circle cx="1098.9" cy="1834.3" r="2.05" fill="#0e8c18"/>
<circle cx="1262.7" cy="1831.5" r="2.05" fill="#0e8c18"/>
<circle cx="1290.0" cy="1832.6" r="2.05" fill="#0e8c18"/>
<circle cx="1158.0" cy="1840.4" r="2.05" fill="#0e8c18"/>
<circle cx="1161.1" cy="1845.0" r="2.05" fill="#0e8c18"/>
<circle cx="1188.8" cy="1842.3" r="2.05" fill="#0e8c18"/>
<circle cx="1216.9" cy="1840.0" r="2.05" fill="#0e8c18"/>
<circle cx="1240.2" cy="1841.2" r="2.05" fill="#0e8c18"/>
<circle cx="1249.9" cy="1841.0" r="2.05" fill="#0e8c18"/>
<circle cx="1254.8" cy="1843.3" r="2.05" fill="#0e8c18"/>
<circle cx="1273.4" cy="1840.4" r="2.05" fill="#0e8c18"/>
<circle cx="1072.1" cy="1843.3" r="2.05" fill="#0e8c18"/>
<circle cx="1091.8" cy="1848.3" r="2.05" fill="#0e8c18"/>
<circle cx="1115.6" cy="1849.6" r="2.05" fill="#0e8c18"/>
<circle cx="1170.5" cy="1851.0" r="2.05" fill="#0e8c18"/>
<circle cx="1058.8" cy="1854.3" r="2.05" fill="#0e8c18"/>
<circle cx="1101.8" cy="1856.5" r="2.05" fill="#0e8c18"/>
<circle cx="1136.0" cy="1853.8" r="2.05" fill="#0e8c18"/>
<circle cx="1145.7" cy="1855.8" r="2.05" fill="#0e8c18"/>
<circle cx="1153.9" cy="1857.8" r="2.05" fill="#0e8c18"/>
<circle cx="1167.7" cy="1859.8" r="2.05" fill="#0e8c18"/>
<circle cx="1208.0" cy="1857.8" r="2.05" fill="#0e8c18"/>
<circle cx="1265.2" cy="1857.5" r="2.05" fill="#0e8c18"/>
<circle cx="1123.0" cy="1863.0" r="2.05" fill="#0e8c18"/>
<circle cx="1124.2" cy="1861.7" r="2.05" fill="#0e8c18"/>
<circle cx="1172.6" cy="1865.7" r="2.05" fill="#0e8c18"/>
<circle cx="1186.8" cy="1863.7" r="2.05" fill="#0e8c18"/>
<circle cx="1198.3" cy="1867.3" r="2.05" fill="#0e8c18"/>
<circle cx="1076.3" cy="1869.6" r="2.05" fill="#0e8c18"/>
<circle cx="1143.6" cy="1870.3" r="2.05" fill="#0e8c18"/>
<circle cx="1188.3" cy="1870.8" r="2.05" fill="#0e8c18"/>
<circle cx="1223.9" cy="1872.7" r="2.05" fill="#0e8c18"/>
<circle cx="1163.1" cy="1877.2" r="2.05" fill="#0e8c18"/>
<circle cx="1254.5" cy="1877.8" r="2.05" fill="#0e8c18"/>
<circle cx="1120.1" cy="1878.3" r="2.05" fill="#0e8c18"/>
<circle cx="1115.6" cy="1883.4" r="2.05" fill="#0e8c18"/>
<circle cx="1084.7" cy="1900.2" r="2.05" fill="#0e8c18"/>
<circle cx="1064.8" cy="1909.5" r="2.05" fill="#0e8c18"/>
<circle cx="1067.0" cy="1912.0" r="2.05" fill="#0e8c18"/>
<circle cx="1267.6" cy="1906.8" r="2.05" fill="#0e8c18"/>
<circle cx="1102.3" cy="1914.3" r="2.05" fill="#0e8c18"/>
<circle cx="1058.8" cy="1917.8" r="2.05" fill="#0e8c18"/>
<circle cx="1310.2" cy="1715.0" r="2.05" fill="#0e8c18"/>
<circle cx="1339.4" cy="1715.6" r="2.05" fill="#0e8c18"/>
<circle cx="1362.9" cy="1719.6" r="2.05" fill="#0e8c18"/>
<circle cx="1361.8" cy="1725.7" r="2.05" fill="#0e8c18"/>
<circle cx="1372.0" cy="1721.2" r="2.05" fill="#0e8c18"/>
<circle cx="1372.0" cy="1725.3" r="2.05" fill="#0e8c18"/>
<circle cx="1376.7" cy="1727.3" r="2.05" fill="#0e8c18"/>
<circle cx="1390.4" cy="1727.5" r="2.05" fill="#0e8c18"/>
<circle cx="1414.5" cy="1715.0" r="2.05" fill="#0e8c18"/>
<circle cx="1422.9" cy="1713.8" r="2.05" fill="#0e8c18"/>
<circle cx="1409.9" cy="1732.1" r="2.05" fill="#0e8c18"/>
<circle cx="1328.3" cy="1732.7" r="2.05" fill="#0e8c18"/>
<circle cx="1330.4" cy="1732.7" r="2.05" fill="#0e8c18"/>
<circle cx="1322.7" cy="1737.3" r="2.05" fill="#0e8c18"/>
<circle cx="1334.5" cy="1736.5" r="2.05" fill="#0e8c18"/>
<circle cx="1316.4" cy="1742.6" r="2.05" fill="#0e8c18"/>
<circle cx="1324.2" cy="1743.4" r="2.05" fill="#0e8c18"/>
<circle cx="1336.2" cy="1741.4" r="2.05" fill="#0e8c18"/>
<circle cx="1304.8" cy="1752.4" r="2.05" fill="#0e8c18"/>
<circle cx="1324.0" cy="1750.0" r="2.05" fill="#0e8c18"/>
<circle cx="1325.5" cy="1752.4" r="2.05" fill="#0e8c18"/>
<circle cx="1364.3" cy="1752.4" r="2.05" fill="#0e8c18"/>
<circle cx="1433.3" cy="1749.2" r="2.05" fill="#0e8c18"/>
<circle cx="1302.6" cy="1759.8" r="2.05" fill="#0e8c18"/>
<circle cx="1306.9" cy="1761.3" r="2.05" fill="#0e8c18"/>
<circle cx="1340.9" cy="1762.6" r="2.05" fill="#0e8c18"/>
<circle cx="1345.4" cy="1778.2" r="2.05" fill="#0e8c18"/>
<circle cx="1315.6" cy="1783.8" r="2.05" fill="#0e8c18"/>
<circle cx="1354.7" cy="1793.0" r="2.05" fill="#0e8c18"/>
<circle cx="1313.3" cy="1812.3" r="2.05" fill="#0e8c18"/>
<circle cx="1318.2" cy="1856.0" r="2.05" fill="#0e8c18"/>
<circle cx="1287.5" cy="1553.1" r="2.05" fill="#f3281c"/>
<circle cx="1255.1" cy="1620.0" r="2.05" fill="#f3281c"/>
<circle cx="1274.2" cy="1633.0" r="2.05" fill="#f3281c"/>
<circle cx="1264.7" cy="1654.9" r="2.05" fill="#f3281c"/>
<circle cx="1211.4" cy="1665.0" r="2.05" fill="#f3281c"/>
<circle cx="1259.9" cy="1672.9" r="2.05" fill="#f3281c"/>
<circle cx="1270.4" cy="1684.6" r="2.05" fill="#f3281c"/>
<circle cx="1280.1" cy="1694.6" r="2.05" fill="#f3281c"/>
<circle cx="1278.0" cy="1696.4" r="2.05" fill="#f3281c"/>
<circle cx="1149.8" cy="1704.8" r="2.05" fill="#f3281c"/>
<circle cx="1397.0" cy="1512.9" r="2.05" fill="#f3281c"/>
<circle cx="1448.7" cy="1517.5" r="2.05" fill="#f3281c"/>
<circle cx="1536.6" cy="1520.3" r="2.05" fill="#f3281c"/>
<circle cx="1415.5" cy="1528.2" r="2.05" fill="#f3281c"/>
<circle cx="1409.3" cy="1540.0" r="2.05" fill="#f3281c"/>
<circle cx="1429.2" cy="1549.5" r="2.05" fill="#f3281c"/>
<circle cx="1435.6" cy="1548.9" r="2.05" fill="#f3281c"/>
<circle cx="1413.4" cy="1555.3" r="2.05" fill="#f3281c"/>
<circle cx="1442.0" cy="1558.1" r="2.05" fill="#f3281c"/>
<circle cx="1457.4" cy="1562.2" r="2.05" fill="#f3281c"/>
<circle cx="1471.9" cy="1557.9" r="2.05" fill="#f3281c"/>
<circle cx="1482.1" cy="1564.0" r="2.05" fill="#f3281c"/>
<circle cx="1516.3" cy="1551.2" r="2.05" fill="#f3281c"/>
<circle cx="1314.1" cy="1563.0" r="2.05" fill="#f3281c"/>
<circle cx="1377.9" cy="1564.8" r="2.05" fill="#f3281c"/>
<circle cx="1352.6" cy="1569.2" r="2.05" fill="#f3281c"/>
<circle cx="1357.4" cy="1575.8" r="2.05" fill="#f3281c"/>
<circle cx="1377.1" cy="1578.1" r="2.05" fill="#f3281c"/>
<circle cx="1327.4" cy="1582.2" r="2.05" fill="#f3281c"/>
<circle cx="1338.6" cy="1583.5" r="2.05" fill="#f3281c"/>
<circle cx="1439.0" cy="1581.1" r="2.05" fill="#f3281c"/>
<circle cx="1474.4" cy="1582.6" r="2.05" fill="#f3281c"/>
<circle cx="1502.8" cy="1575.2" r="2.05" fill="#f3281c"/>
<circle cx="1328.1" cy="1589.9" r="2.05" fill="#f3281c"/>
<circle cx="1398.3" cy="1586.3" r="2.05" fill="#f3281c"/>
<circle cx="1389.7" cy="1594.7" r="2.05" fill="#f3281c"/>
<circle cx="1378.6" cy="1595.5" r="2.05" fill="#f3281c"/>
<circle cx="1474.5" cy="1590.1" r="2.05" fill="#f3281c"/>
<circle cx="1336.0" cy="1596.7" r="2.05" fill="#f3281c"/>
<circle cx="1333.7" cy="1602.6" r="2.05" fill="#f3281c"/>
<circle cx="1316.3" cy="1605.6" r="2.05" fill="#f3281c"/>
<circle cx="1322.2" cy="1606.5" r="2.05" fill="#f3281c"/>
<circle cx="1357.5" cy="1604.9" r="2.05" fill="#f3281c"/>
<circle cx="1350.1" cy="1612.8" r="2.05" fill="#f3281c"/>
<circle cx="1378.4" cy="1612.8" r="2.05" fill="#f3281c"/>
<circle cx="1427.9" cy="1609.0" r="2.05" fill="#f3281c"/>
<circle cx="1417.7" cy="1620.7" r="2.05" fill="#f3281c"/>
<circle cx="1331.1" cy="1628.2" r="2.05" fill="#f3281c"/>
<circle cx="1345.0" cy="1632.7" r="2.05" fill="#f3281c"/>
<circle cx="1357.5" cy="1632.3" r="2.05" fill="#f3281c"/>
<circle cx="1351.8" cy="1637.3" r="2.05" fill="#f3281c"/>
<circle cx="1393.0" cy="1630.5" r="2.05" fill="#f3281c"/>
<circle cx="1393.8" cy="1632.2" r="2.05" fill="#f3281c"/>
<circle cx="1419.8" cy="1635.8" r="2.05" fill="#f3281c"/>
<circle cx="1308.4" cy="1640.9" r="2.05" fill="#f3281c"/>
<circle cx="1407.0" cy="1645.0" r="2.05" fill="#f3281c"/>
<circle cx="1377.1" cy="1649.6" r="2.05" fill="#f3281c"/>
<circle cx="1350.0" cy="1653.7" r="2.05" fill="#f3281c"/>
<circle cx="1349.8" cy="1663.2" r="2.05" fill="#f3281c"/>
<circle cx="1379.5" cy="1667.2" r="2.05" fill="#f3281c"/>
<circle cx="1367.1" cy="1672.0" r="2.05" fill="#f3281c"/>
<circle cx="1371.8" cy="1670.8" r="2.05" fill="#f3281c"/>
<circle cx="1319.1" cy="1680.2" r="2.05" fill="#f3281c"/>
<circle cx="1358.8" cy="1682.5" r="2.05" fill="#f3281c"/>
<circle cx="1302.8" cy="1703.7" r="2.05" fill="#f3281c"/>
<circle cx="1363.1" cy="1711.4" r="2.05" fill="#f3281c"/>
<circle cx="1058.8" cy="1718.8" r="2.05" fill="#f3281c"/>
<circle cx="1131.9" cy="1715.5" r="2.05" fill="#f3281c"/>
<circle cx="1171.8" cy="1723.2" r="2.05" fill="#f3281c"/>
<circle cx="1184.5" cy="1724.5" r="2.05" fill="#f3281c"/>
<circle cx="1058.8" cy="1749.8" r="2.05" fill="#f3281c"/>
<circle cx="1163.9" cy="1747.5" r="2.05" fill="#f3281c"/>
<circle cx="1163.4" cy="1753.8" r="2.05" fill="#f3281c"/>
<circle cx="1243.6" cy="1757.0" r="2.05" fill="#f3281c"/>
<circle cx="1283.9" cy="1754.9" r="2.05" fill="#f3281c"/>
<circle cx="1285.5" cy="1768.5" r="2.05" fill="#f3281c"/>
<circle cx="1344.4" cy="1728.8" r="2.05" fill="#f3281c"/>
<circle cx="1382.0" cy="1720.4" r="2.05" fill="#f3281c"/>
<circle cx="1376.9" cy="1740.1" r="2.05" fill="#f3281c"/>
<circle cx="1321.0" cy="1757.0" r="2.05" fill="#f3281c"/>
<circle cx="1411.6" cy="1759.3" r="2.05" fill="#f3281c"/>
<line x1="1058.5" y1="1849.9" x2="1536.7" y2="1564.5" stroke="#1f6fe6" stroke-width="2.3"/>
<rect x="1613.3" y="1493.3" width="144.70000000000005" height="441.70000000000005" fill="#fcfcfc"/>
<line x1="1613.3" y1="1914.3" x2="1758" y2="1914.3" stroke="#fff" stroke-width="1.4"/>
<line x1="1613.3" y1="1861.5" x2="1758" y2="1861.5" stroke="#fff" stroke-width="1.4"/>
<line x1="1613.3" y1="1808.7" x2="1758" y2="1808.7" stroke="#fff" stroke-width="1.4"/>
<line x1="1613.3" y1="1755.8" x2="1758" y2="1755.8" stroke="#fff" stroke-width="1.4"/>
<line x1="1613.3" y1="1703.0" x2="1758" y2="1703.0" stroke="#fff" stroke-width="1.4"/>
<line x1="1613.3" y1="1650.2" x2="1758" y2="1650.2" stroke="#fff" stroke-width="1.4"/>
<line x1="1613.3" y1="1597.4" x2="1758" y2="1597.4" stroke="#fff" stroke-width="1.4"/>
<line x1="1613.3" y1="1544.6" x2="1758" y2="1544.6" stroke="#fff" stroke-width="1.4"/>
<line x1="1652.6" y1="1493.3" x2="1652.6" y2="1935" stroke="#fff" stroke-width="1.4"/>
<line x1="1718.8" y1="1493.3" x2="1718.8" y2="1935" stroke="#fff" stroke-width="1.4"/>
<line x1="1611.1" y1="1597.4" x2="1613.3" y2="1597.4" stroke="#888" stroke-width="1"/>
<text x="1606.5" y="1603.4" font-size="20" text-anchor="end" font-family="'Liberation Sans', Arial, sans-serif" fill="#000" >5</text>
<line x1="1611.1" y1="1703.0" x2="1613.3" y2="1703.0" stroke="#888" stroke-width="1"/>
<text x="1606.5" y="1709.0" font-size="20" text-anchor="end" font-family="'Liberation Sans', Arial, sans-serif" fill="#000" >4</text>
<line x1="1611.1" y1="1808.7" x2="1613.3" y2="1808.7" stroke="#888" stroke-width="1"/>
<text x="1606.5" y="1814.7" font-size="20" text-anchor="end" font-family="'Liberation Sans', Arial, sans-serif" fill="#000" >3</text>
<line x1="1611.1" y1="1914.3" x2="1613.3" y2="1914.3" stroke="#888" stroke-width="1"/>
<text x="1606.5" y="1920.3" font-size="20" text-anchor="end" font-family="'Liberation Sans', Arial, sans-serif" fill="#000" >2</text>
<line x1="1652.6" y1="1935" x2="1652.6" y2="1937.2" stroke="#888" stroke-width="1"/>
<text x="1652.6" y="1955.0" font-size="16" text-anchor="middle" font-family="'Liberation Sans', Arial, sans-serif" fill="#000" >LDep</text>
<line x1="1718.8" y1="1935" x2="1718.8" y2="1937.2" stroke="#888" stroke-width="1"/>
<text x="1718.8" y="1955.0" font-size="16" text-anchor="middle" font-family="'Liberation Sans', Arial, sans-serif" fill="#000" >LDom</text>
<polyline points="1652.6,1524.3 1652.6,1512.9 1718.8,1512.9 1718.8,1524.3" fill="none" stroke="#555" stroke-width="1.3"/>
<text x="1633" y="1483.8" font-size="19" font-family="'Liberation Sans', Arial, sans-serif">p &lt; 2.2 x 10<tspan font-size="12" dy="-6.5">-16</tspan></text>
<line x1="1652.6" y1="1532.6" x2="1652.6" y2="1774.8" stroke="#666" stroke-width="1.05"/>
<rect x="1627.8" y="1597.1" width="49.6" height="98.1" fill="#fba4a2" stroke="#555" stroke-width="1.05"/>
<line x1="1718.8" y1="1564" x2="1718.8" y2="1916.7" stroke="#666" stroke-width="1.05"/>
<rect x="1694.0" y="1710" width="49.6" height="106.0" fill="#a2d2a2" stroke="#555" stroke-width="1.05"/>
<circle cx="1660.5" cy="1765.9" r="1.9" fill="#f3281c"/>
<circle cx="1666.5" cy="1755.3" r="1.9" fill="#f3281c"/>
<circle cx="1645.6" cy="1746.4" r="1.9" fill="#f3281c"/>
<circle cx="1677.4" cy="1741.2" r="1.9" fill="#f3281c"/>
<circle cx="1638.8" cy="1734.1" r="1.9" fill="#f3281c"/>
<circle cx="1665.6" cy="1731.0" r="1.9" fill="#f3281c"/>
<circle cx="1631.9" cy="1728.4" r="1.9" fill="#f3281c"/>
<circle cx="1628.7" cy="1724.0" r="1.9" fill="#f3281c"/>
<circle cx="1634.1" cy="1720.2" r="1.9" fill="#f3281c"/>
<circle cx="1630.3" cy="1717.4" r="1.9" fill="#f3281c"/>
<circle cx="1652.7" cy="1715.0" r="1.9" fill="#f3281c"/>
<circle cx="1655.4" cy="1712.4" r="1.9" fill="#f3281c"/>
<circle cx="1636.5" cy="1709.8" r="1.9" fill="#f3281c"/>
<circle cx="1674.8" cy="1704.6" r="1.9" fill="#f3281c"/>
<circle cx="1645.8" cy="1702.7" r="1.9" fill="#f3281c"/>
<circle cx="1634.9" cy="1701.9" r="1.9" fill="#f3281c"/>
<circle cx="1636.3" cy="1698.1" r="1.9" fill="#f3281c"/>
<circle cx="1664.6" cy="1695.2" r="1.9" fill="#f3281c"/>
<circle cx="1673.9" cy="1693.6" r="1.9" fill="#f3281c"/>
<circle cx="1635.5" cy="1692.0" r="1.9" fill="#f3281c"/>
<circle cx="1628.8" cy="1688.1" r="1.9" fill="#f3281c"/>
<circle cx="1666.7" cy="1685.4" r="1.9" fill="#f3281c"/>
<circle cx="1639.6" cy="1683.2" r="1.9" fill="#f3281c"/>
<circle cx="1677.0" cy="1679.4" r="1.9" fill="#f3281c"/>
<circle cx="1652.5" cy="1678.0" r="1.9" fill="#f3281c"/>
<circle cx="1659.5" cy="1672.6" r="1.9" fill="#f3281c"/>
<circle cx="1644.7" cy="1670.5" r="1.9" fill="#f3281c"/>
<circle cx="1667.8" cy="1667.7" r="1.9" fill="#f3281c"/>
<circle cx="1650.6" cy="1664.0" r="1.9" fill="#f3281c"/>
<circle cx="1643.7" cy="1661.9" r="1.9" fill="#f3281c"/>
<circle cx="1673.0" cy="1660.2" r="1.9" fill="#f3281c"/>
<circle cx="1632.8" cy="1657.4" r="1.9" fill="#f3281c"/>
<circle cx="1664.4" cy="1654.8" r="1.9" fill="#f3281c"/>
<circle cx="1630.6" cy="1652.3" r="1.9" fill="#f3281c"/>
<circle cx="1660.0" cy="1647.3" r="1.9" fill="#f3281c"/>
<circle cx="1647.6" cy="1644.3" r="1.9" fill="#f3281c"/>
<circle cx="1671.0" cy="1643.0" r="1.9" fill="#f3281c"/>
<circle cx="1630.3" cy="1640.7" r="1.9" fill="#f3281c"/>
<circle cx="1655.8" cy="1637.0" r="1.9" fill="#f3281c"/>
<circle cx="1648.0" cy="1633.8" r="1.9" fill="#f3281c"/>
<circle cx="1673.8" cy="1631.0" r="1.9" fill="#f3281c"/>
<circle cx="1675.1" cy="1630.4" r="1.9" fill="#f3281c"/>
<circle cx="1659.0" cy="1626.2" r="1.9" fill="#f3281c"/>
<circle cx="1638.6" cy="1623.5" r="1.9" fill="#f3281c"/>
<circle cx="1640.0" cy="1621.1" r="1.9" fill="#f3281c"/>
<circle cx="1640.6" cy="1619.6" r="1.9" fill="#f3281c"/>
<circle cx="1649.3" cy="1617.4" r="1.9" fill="#f3281c"/>
<circle cx="1639.0" cy="1613.1" r="1.9" fill="#f3281c"/>
<circle cx="1637.6" cy="1611.8" r="1.9" fill="#f3281c"/>
<circle cx="1665.7" cy="1609.1" r="1.9" fill="#f3281c"/>
<circle cx="1659.8" cy="1606.0" r="1.9" fill="#f3281c"/>
<circle cx="1642.4" cy="1603.9" r="1.9" fill="#f3281c"/>
<circle cx="1677.6" cy="1600.1" r="1.9" fill="#f3281c"/>
<circle cx="1638.3" cy="1599.1" r="1.9" fill="#f3281c"/>
<circle cx="1656.1" cy="1597.0" r="1.9" fill="#f3281c"/>
<circle cx="1635.2" cy="1594.2" r="1.9" fill="#f3281c"/>
<circle cx="1671.0" cy="1592.2" r="1.9" fill="#f3281c"/>
<circle cx="1671.3" cy="1589.9" r="1.9" fill="#f3281c"/>
<circle cx="1640.8" cy="1588.0" r="1.9" fill="#f3281c"/>
<circle cx="1665.3" cy="1585.5" r="1.9" fill="#f3281c"/>
<circle cx="1668.9" cy="1583.2" r="1.9" fill="#f3281c"/>
<circle cx="1641.6" cy="1581.9" r="1.9" fill="#f3281c"/>
<circle cx="1644.1" cy="1579.5" r="1.9" fill="#f3281c"/>
<circle cx="1651.9" cy="1577.8" r="1.9" fill="#f3281c"/>
<circle cx="1672.4" cy="1574.8" r="1.9" fill="#f3281c"/>
<circle cx="1635.5" cy="1571.2" r="1.9" fill="#f3281c"/>
<circle cx="1661.8" cy="1569.6" r="1.9" fill="#f3281c"/>
<circle cx="1657.5" cy="1564.2" r="1.9" fill="#f3281c"/>
<circle cx="1650.2" cy="1562.4" r="1.9" fill="#f3281c"/>
<circle cx="1656.6" cy="1557.0" r="1.9" fill="#f3281c"/>
<circle cx="1672.0" cy="1548.2" r="1.9" fill="#f3281c"/>
<circle cx="1637.9" cy="1547.2" r="1.9" fill="#f3281c"/>
<circle cx="1672.0" cy="1532.6" r="1.9" fill="#f3281c"/>
<circle cx="1645.5" cy="1774.8" r="1.9" fill="#f3281c"/>
<circle cx="1733.0" cy="1912.8" r="1.9" fill="#0e8c18"/>
<circle cx="1737.2" cy="1903.0" r="1.9" fill="#0e8c18"/>
<circle cx="1702.7" cy="1900.0" r="1.9" fill="#0e8c18"/>
<circle cx="1737.2" cy="1895.1" r="1.9" fill="#0e8c18"/>
<circle cx="1743.8" cy="1894.3" r="1.9" fill="#0e8c18"/>
<circle cx="1708.6" cy="1889.7" r="1.9" fill="#0e8c18"/>
<circle cx="1694.7" cy="1887.5" r="1.9" fill="#0e8c18"/>
<circle cx="1699.1" cy="1885.6" r="1.9" fill="#0e8c18"/>
<circle cx="1742.8" cy="1884.4" r="1.9" fill="#0e8c18"/>
<circle cx="1694.0" cy="1882.8" r="1.9" fill="#0e8c18"/>
<circle cx="1739.6" cy="1880.4" r="1.9" fill="#0e8c18"/>
<circle cx="1701.1" cy="1879.0" r="1.9" fill="#0e8c18"/>
<circle cx="1730.7" cy="1877.5" r="1.9" fill="#0e8c18"/>
<circle cx="1698.4" cy="1876.1" r="1.9" fill="#0e8c18"/>
<circle cx="1702.0" cy="1874.5" r="1.9" fill="#0e8c18"/>
<circle cx="1728.0" cy="1872.7" r="1.9" fill="#0e8c18"/>
<circle cx="1698.1" cy="1871.1" r="1.9" fill="#0e8c18"/>
<circle cx="1710.7" cy="1869.7" r="1.9" fill="#0e8c18"/>
<circle cx="1740.0" cy="1869.4" r="1.9" fill="#0e8c18"/>
<circle cx="1729.7" cy="1867.9" r="1.9" fill="#0e8c18"/>
<circle cx="1738.1" cy="1866.5" r="1.9" fill="#0e8c18"/>
<circle cx="1743.1" cy="1865.1" r="1.9" fill="#0e8c18"/>
<circle cx="1695.2" cy="1864.2" r="1.9" fill="#0e8c18"/>
<circle cx="1705.4" cy="1863.2" r="1.9" fill="#0e8c18"/>
<circle cx="1733.6" cy="1862.2" r="1.9" fill="#0e8c18"/>
<circle cx="1728.4" cy="1860.8" r="1.9" fill="#0e8c18"/>
<circle cx="1695.4" cy="1859.6" r="1.9" fill="#0e8c18"/>
<circle cx="1719.0" cy="1858.0" r="1.9" fill="#0e8c18"/>
<circle cx="1705.2" cy="1857.0" r="1.9" fill="#0e8c18"/>
<circle cx="1715.3" cy="1856.1" r="1.9" fill="#0e8c18"/>
<circle cx="1698.8" cy="1854.9" r="1.9" fill="#0e8c18"/>
<circle cx="1694.5" cy="1854.0" r="1.9" fill="#0e8c18"/>
<circle cx="1743.6" cy="1853.3" r="1.9" fill="#0e8c18"/>
<circle cx="1709.5" cy="1852.2" r="1.9" fill="#0e8c18"/>
<circle cx="1738.0" cy="1852.0" r="1.9" fill="#0e8c18"/>
<circle cx="1699.6" cy="1850.4" r="1.9" fill="#0e8c18"/>
<circle cx="1718.2" cy="1849.6" r="1.9" fill="#0e8c18"/>
<circle cx="1700.4" cy="1849.0" r="1.9" fill="#0e8c18"/>
<circle cx="1715.2" cy="1847.8" r="1.9" fill="#0e8c18"/>
<circle cx="1702.6" cy="1846.6" r="1.9" fill="#0e8c18"/>
<circle cx="1728.2" cy="1846.1" r="1.9" fill="#0e8c18"/>
<circle cx="1701.0" cy="1845.1" r="1.9" fill="#0e8c18"/>
<circle cx="1730.9" cy="1844.6" r="1.9" fill="#0e8c18"/>
<circle cx="1718.8" cy="1843.7" r="1.9" fill="#0e8c18"/>
<circle cx="1699.2" cy="1842.4" r="1.9" fill="#0e8c18"/>
<circle cx="1711.4" cy="1842.3" r="1.9" fill="#0e8c18"/>
<circle cx="1718.6" cy="1841.3" r="1.9" fill="#0e8c18"/>
<circle cx="1740.0" cy="1840.1" r="1.9" fill="#0e8c18"/>
<circle cx="1711.2" cy="1839.5" r="1.9" fill="#0e8c18"/>
<circle cx="1704.4" cy="1839.0" r="1.9" fill="#0e8c18"/>
<circle cx="1742.5" cy="1837.8" r="1.9" fill="#0e8c18"/>
<circle cx="1738.2" cy="1837.2" r="1.9" fill="#0e8c18"/>
<circle cx="1730.5" cy="1836.3" r="1.9" fill="#0e8c18"/>
<circle cx="1707.3" cy="1835.6" r="1.9" fill="#0e8c18"/>
<circle cx="1702.5" cy="1834.8" r="1.9" fill="#0e8c18"/>
<circle cx="1706.9" cy="1834.0" r="1.9" fill="#0e8c18"/>
<circle cx="1697.0" cy="1833.4" r="1.9" fill="#0e8c18"/>
<circle cx="1695.7" cy="1832.9" r="1.9" fill="#0e8c18"/>
<circle cx="1719.2" cy="1832.1" r="1.9" fill="#0e8c18"/>
<circle cx="1714.2" cy="1830.9" r="1.9" fill="#0e8c18"/>
<circle cx="1721.7" cy="1830.4" r="1.9" fill="#0e8c18"/>
<circle cx="1711.8" cy="1830.0" r="1.9" fill="#0e8c18"/>
<circle cx="1694.0" cy="1828.8" r="1.9" fill="#0e8c18"/>
<circle cx="1728.3" cy="1828.5" r="1.9" fill="#0e8c18"/>
<circle cx="1726.5" cy="1827.9" r="1.9" fill="#0e8c18"/>
<circle cx="1721.0" cy="1826.9" r="1.9" fill="#0e8c18"/>
<circle cx="1721.3" cy="1826.4" r="1.9" fill="#0e8c18"/>
<circle cx="1728.4" cy="1825.6" r="1.9" fill="#0e8c18"/>
<circle cx="1743.2" cy="1824.9" r="1.9" fill="#0e8c18"/>
<circle cx="1737.7" cy="1824.4" r="1.9" fill="#0e8c18"/>
<circle cx="1729.8" cy="1823.6" r="1.9" fill="#0e8c18"/>
<circle cx="1713.7" cy="1823.2" r="1.9" fill="#0e8c18"/>
<circle cx="1709.6" cy="1822.3" r="1.9" fill="#0e8c18"/>
<circle cx="1714.7" cy="1821.6" r="1.9" fill="#0e8c18"/>
<circle cx="1742.7" cy="1821.3" r="1.9" fill="#0e8c18"/>
<circle cx="1713.1" cy="1820.4" r="1.9" fill="#0e8c18"/>
<circle cx="1713.0" cy="1820.0" r="1.9" fill="#0e8c18"/>
<circle cx="1714.2" cy="1819.1" r="1.9" fill="#0e8c18"/>
<circle cx="1700.7" cy="1818.2" r="1.9" fill="#0e8c18"/>
<circle cx="1744.0" cy="1817.8" r="1.9" fill="#0e8c18"/>
<circle cx="1693.8" cy="1817.1" r="1.9" fill="#0e8c18"/>
<circle cx="1724.3" cy="1816.5" r="1.9" fill="#0e8c18"/>
<circle cx="1740.4" cy="1816.2" r="1.9" fill="#0e8c18"/>
<circle cx="1706.4" cy="1815.0" r="1.9" fill="#0e8c18"/>
<circle cx="1724.4" cy="1814.5" r="1.9" fill="#0e8c18"/>
<circle cx="1712.6" cy="1814.3" r="1.9" fill="#0e8c18"/>
<circle cx="1705.7" cy="1813.1" r="1.9" fill="#0e8c18"/>
<circle cx="1703.5" cy="1812.8" r="1.9" fill="#0e8c18"/>
<circle cx="1699.4" cy="1812.3" r="1.9" fill="#0e8c18"/>
<circle cx="1736.2" cy="1811.1" r="1.9" fill="#0e8c18"/>
<circle cx="1733.2" cy="1810.7" r="1.9" fill="#0e8c18"/>
<circle cx="1739.5" cy="1809.9" r="1.9" fill="#0e8c18"/>
<circle cx="1696.0" cy="1809.7" r="1.9" fill="#0e8c18"/>
<circle cx="1728.6" cy="1808.6" r="1.9" fill="#0e8c18"/>
<circle cx="1709.9" cy="1808.4" r="1.9" fill="#0e8c18"/>
<circle cx="1726.2" cy="1807.6" r="1.9" fill="#0e8c18"/>
<circle cx="1721.3" cy="1806.9" r="1.9" fill="#0e8c18"/>
<circle cx="1709.5" cy="1806.4" r="1.9" fill="#0e8c18"/>
<circle cx="1742.7" cy="1805.4" r="1.9" fill="#0e8c18"/>
<circle cx="1693.6" cy="1805.0" r="1.9" fill="#0e8c18"/>
<circle cx="1731.3" cy="1804.3" r="1.9" fill="#0e8c18"/>
<circle cx="1736.7" cy="1803.4" r="1.9" fill="#0e8c18"/>
<circle cx="1719.3" cy="1802.9" r="1.9" fill="#0e8c18"/>
<circle cx="1723.5" cy="1801.9" r="1.9" fill="#0e8c18"/>
<circle cx="1743.8" cy="1801.4" r="1.9" fill="#0e8c18"/>
<circle cx="1705.4" cy="1800.6" r="1.9" fill="#0e8c18"/>
<circle cx="1725.4" cy="1800.2" r="1.9" fill="#0e8c18"/>
<circle cx="1731.1" cy="1799.3" r="1.9" fill="#0e8c18"/>
<circle cx="1712.7" cy="1798.6" r="1.9" fill="#0e8c18"/>
<circle cx="1729.5" cy="1798.4" r="1.9" fill="#0e8c18"/>
<circle cx="1713.4" cy="1797.4" r="1.9" fill="#0e8c18"/>
<circle cx="1720.1" cy="1797.0" r="1.9" fill="#0e8c18"/>
<circle cx="1724.5" cy="1796.1" r="1.9" fill="#0e8c18"/>
<circle cx="1727.8" cy="1795.5" r="1.9" fill="#0e8c18"/>
<circle cx="1709.8" cy="1794.7" r="1.9" fill="#0e8c18"/>
<circle cx="1725.3" cy="1794.5" r="1.9" fill="#0e8c18"/>
<circle cx="1721.0" cy="1793.7" r="1.9" fill="#0e8c18"/>
<circle cx="1704.8" cy="1792.8" r="1.9" fill="#0e8c18"/>
<circle cx="1724.5" cy="1792.0" r="1.9" fill="#0e8c18"/>
<circle cx="1706.9" cy="1791.5" r="1.9" fill="#0e8c18"/>
<circle cx="1739.5" cy="1791.3" r="1.9" fill="#0e8c18"/>
<circle cx="1717.4" cy="1790.3" r="1.9" fill="#0e8c18"/>
<circle cx="1730.0" cy="1789.9" r="1.9" fill="#0e8c18"/>
<circle cx="1719.9" cy="1789.0" r="1.9" fill="#0e8c18"/>
<circle cx="1717.6" cy="1788.2" r="1.9" fill="#0e8c18"/>
<circle cx="1704.7" cy="1788.0" r="1.9" fill="#0e8c18"/>
<circle cx="1700.7" cy="1786.8" r="1.9" fill="#0e8c18"/>
<circle cx="1740.4" cy="1786.3" r="1.9" fill="#0e8c18"/>
<circle cx="1720.3" cy="1785.9" r="1.9" fill="#0e8c18"/>
<circle cx="1720.0" cy="1785.3" r="1.9" fill="#0e8c18"/>
<circle cx="1720.2" cy="1784.4" r="1.9" fill="#0e8c18"/>
<circle cx="1734.7" cy="1783.5" r="1.9" fill="#0e8c18"/>
<circle cx="1705.6" cy="1783.0" r="1.9" fill="#0e8c18"/>
<circle cx="1702.2" cy="1782.7" r="1.9" fill="#0e8c18"/>
<circle cx="1735.1" cy="1782.1" r="1.9" fill="#0e8c18"/>
<circle cx="1716.8" cy="1781.4" r="1.9" fill="#0e8c18"/>
<circle cx="1725.9" cy="1780.3" r="1.9" fill="#0e8c18"/>
<circle cx="1735.4" cy="1780.0" r="1.9" fill="#0e8c18"/>
<circle cx="1738.7" cy="1779.1" r="1.9" fill="#0e8c18"/>
<circle cx="1737.4" cy="1778.6" r="1.9" fill="#0e8c18"/>
<circle cx="1695.7" cy="1777.7" r="1.9" fill="#0e8c18"/>
<circle cx="1712.8" cy="1777.2" r="1.9" fill="#0e8c18"/>
<circle cx="1735.6" cy="1776.7" r="1.9" fill="#0e8c18"/>
<circle cx="1734.9" cy="1775.6" r="1.9" fill="#0e8c18"/>
<circle cx="1699.7" cy="1775.2" r="1.9" fill="#0e8c18"/>
<circle cx="1701.3" cy="1774.4" r="1.9" fill="#0e8c18"/>
<circle cx="1706.2" cy="1773.7" r="1.9" fill="#0e8c18"/>
<circle cx="1698.7" cy="1772.9" r="1.9" fill="#0e8c18"/>
<circle cx="1711.5" cy="1772.9" r="1.9" fill="#0e8c18"/>
<circle cx="1734.1" cy="1772.0" r="1.9" fill="#0e8c18"/>
<circle cx="1719.9" cy="1771.5" r="1.9" fill="#0e8c18"/>
<circle cx="1716.4" cy="1770.6" r="1.9" fill="#0e8c18"/>
<circle cx="1698.0" cy="1769.7" r="1.9" fill="#0e8c18"/>
<circle cx="1713.5" cy="1769.1" r="1.9" fill="#0e8c18"/>
<circle cx="1743.9" cy="1768.9" r="1.9" fill="#0e8c18"/>
<circle cx="1728.7" cy="1768.2" r="1.9" fill="#0e8c18"/>
<circle cx="1716.2" cy="1767.1" r="1.9" fill="#0e8c18"/>
<circle cx="1717.7" cy="1766.5" r="1.9" fill="#0e8c18"/>
<circle cx="1733.9" cy="1766.0" r="1.9" fill="#0e8c18"/>
<circle cx="1731.9" cy="1765.3" r="1.9" fill="#0e8c18"/>
<circle cx="1701.1" cy="1764.9" r="1.9" fill="#0e8c18"/>
<circle cx="1727.9" cy="1763.8" r="1.9" fill="#0e8c18"/>
<circle cx="1712.1" cy="1763.4" r="1.9" fill="#0e8c18"/>
<circle cx="1719.8" cy="1762.4" r="1.9" fill="#0e8c18"/>
<circle cx="1705.5" cy="1762.0" r="1.9" fill="#0e8c18"/>
<circle cx="1712.3" cy="1761.7" r="1.9" fill="#0e8c18"/>
<circle cx="1710.7" cy="1760.9" r="1.9" fill="#0e8c18"/>
<circle cx="1712.8" cy="1760.3" r="1.9" fill="#0e8c18"/>
<circle cx="1694.4" cy="1759.3" r="1.9" fill="#0e8c18"/>
<circle cx="1703.7" cy="1758.8" r="1.9" fill="#0e8c18"/>
<circle cx="1722.4" cy="1758.5" r="1.9" fill="#0e8c18"/>
<circle cx="1696.4" cy="1757.8" r="1.9" fill="#0e8c18"/>
<circle cx="1702.5" cy="1757.1" r="1.9" fill="#0e8c18"/>
<circle cx="1729.8" cy="1756.4" r="1.9" fill="#0e8c18"/>
<circle cx="1707.4" cy="1755.7" r="1.9" fill="#0e8c18"/>
<circle cx="1709.9" cy="1755.2" r="1.9" fill="#0e8c18"/>
<circle cx="1705.7" cy="1754.6" r="1.9" fill="#0e8c18"/>
<circle cx="1735.7" cy="1754.2" r="1.9" fill="#0e8c18"/>
<circle cx="1698.1" cy="1753.2" r="1.9" fill="#0e8c18"/>
<circle cx="1725.7" cy="1752.7" r="1.9" fill="#0e8c18"/>
<circle cx="1737.0" cy="1752.3" r="1.9" fill="#0e8c18"/>
<circle cx="1703.7" cy="1751.4" r="1.9" fill="#0e8c18"/>
<circle cx="1714.9" cy="1750.4" r="1.9" fill="#0e8c18"/>
<circle cx="1733.6" cy="1750.4" r="1.9" fill="#0e8c18"/>
<circle cx="1724.8" cy="1749.7" r="1.9" fill="#0e8c18"/>
<circle cx="1712.3" cy="1748.7" r="1.9" fill="#0e8c18"/>
<circle cx="1695.7" cy="1748.4" r="1.9" fill="#0e8c18"/>
<circle cx="1715.9" cy="1747.7" r="1.9" fill="#0e8c18"/>
<circle cx="1712.1" cy="1747.0" r="1.9" fill="#0e8c18"/>
<circle cx="1729.6" cy="1746.5" r="1.9" fill="#0e8c18"/>
<circle cx="1708.4" cy="1745.7" r="1.9" fill="#0e8c18"/>
<circle cx="1714.1" cy="1745.1" r="1.9" fill="#0e8c18"/>
<circle cx="1726.3" cy="1744.2" r="1.9" fill="#0e8c18"/>
<circle cx="1734.5" cy="1743.5" r="1.9" fill="#0e8c18"/>
<circle cx="1711.3" cy="1743.5" r="1.9" fill="#0e8c18"/>
<circle cx="1713.0" cy="1742.5" r="1.9" fill="#0e8c18"/>
<circle cx="1722.8" cy="1741.8" r="1.9" fill="#0e8c18"/>
<circle cx="1740.3" cy="1741.1" r="1.9" fill="#0e8c18"/>
<circle cx="1703.2" cy="1740.5" r="1.9" fill="#0e8c18"/>
<circle cx="1742.6" cy="1740.0" r="1.9" fill="#0e8c18"/>
<circle cx="1729.5" cy="1739.4" r="1.9" fill="#0e8c18"/>
<circle cx="1712.3" cy="1738.9" r="1.9" fill="#0e8c18"/>
<circle cx="1727.2" cy="1738.3" r="1.9" fill="#0e8c18"/>
<circle cx="1710.2" cy="1737.4" r="1.9" fill="#0e8c18"/>
<circle cx="1697.1" cy="1736.7" r="1.9" fill="#0e8c18"/>
<circle cx="1731.8" cy="1736.0" r="1.9" fill="#0e8c18"/>
<circle cx="1712.7" cy="1735.6" r="1.9" fill="#0e8c18"/>
<circle cx="1720.1" cy="1735.2" r="1.9" fill="#0e8c18"/>
<circle cx="1718.6" cy="1734.3" r="1.9" fill="#0e8c18"/>
<circle cx="1739.1" cy="1733.7" r="1.9" fill="#0e8c18"/>
<circle cx="1731.8" cy="1733.2" r="1.9" fill="#0e8c18"/>
<circle cx="1694.8" cy="1732.5" r="1.9" fill="#0e8c18"/>
<circle cx="1723.5" cy="1732.0" r="1.9" fill="#0e8c18"/>
<circle cx="1716.9" cy="1731.3" r="1.9" fill="#0e8c18"/>
<circle cx="1716.9" cy="1730.7" r="1.9" fill="#0e8c18"/>
<circle cx="1736.0" cy="1730.3" r="1.9" fill="#0e8c18"/>
<circle cx="1714.5" cy="1729.5" r="1.9" fill="#0e8c18"/>
<circle cx="1717.5" cy="1728.9" r="1.9" fill="#0e8c18"/>
<circle cx="1738.5" cy="1727.9" r="1.9" fill="#0e8c18"/>
<circle cx="1715.8" cy="1727.6" r="1.9" fill="#0e8c18"/>
<circle cx="1718.4" cy="1727.0" r="1.9" fill="#0e8c18"/>
<circle cx="1719.4" cy="1726.5" r="1.9" fill="#0e8c18"/>
<circle cx="1735.2" cy="1725.8" r="1.9" fill="#0e8c18"/>
<circle cx="1727.4" cy="1725.1" r="1.9" fill="#0e8c18"/>
<circle cx="1731.0" cy="1724.6" r="1.9" fill="#0e8c18"/>
<circle cx="1713.8" cy="1724.1" r="1.9" fill="#0e8c18"/>
<circle cx="1695.6" cy="1722.9" r="1.9" fill="#0e8c18"/>
<circle cx="1727.9" cy="1722.6" r="1.9" fill="#0e8c18"/>
<circle cx="1721.5" cy="1721.9" r="1.9" fill="#0e8c18"/>
<circle cx="1732.4" cy="1721.2" r="1.9" fill="#0e8c18"/>
<circle cx="1732.5" cy="1720.8" r="1.9" fill="#0e8c18"/>
<circle cx="1699.5" cy="1720.2" r="1.9" fill="#0e8c18"/>
<circle cx="1704.7" cy="1719.7" r="1.9" fill="#0e8c18"/>
<circle cx="1697.4" cy="1718.9" r="1.9" fill="#0e8c18"/>
<circle cx="1734.9" cy="1718.3" r="1.9" fill="#0e8c18"/>
<circle cx="1698.6" cy="1717.4" r="1.9" fill="#0e8c18"/>
<circle cx="1698.0" cy="1716.9" r="1.9" fill="#0e8c18"/>
<circle cx="1731.6" cy="1716.0" r="1.9" fill="#0e8c18"/>
<circle cx="1722.1" cy="1715.7" r="1.9" fill="#0e8c18"/>
<circle cx="1696.3" cy="1714.7" r="1.9" fill="#0e8c18"/>
<circle cx="1728.0" cy="1714.3" r="1.9" fill="#0e8c18"/>
<circle cx="1729.5" cy="1714.0" r="1.9" fill="#0e8c18"/>
<circle cx="1717.9" cy="1713.3" r="1.9" fill="#0e8c18"/>
<circle cx="1696.3" cy="1712.5" r="1.9" fill="#0e8c18"/>
<circle cx="1728.5" cy="1711.6" r="1.9" fill="#0e8c18"/>
<circle cx="1714.6" cy="1711.3" r="1.9" fill="#0e8c18"/>
<circle cx="1723.0" cy="1710.5" r="1.9" fill="#0e8c18"/>
<circle cx="1744.0" cy="1710.0" r="1.9" fill="#0e8c18"/>
<circle cx="1734.8" cy="1708.8" r="1.9" fill="#0e8c18"/>
<circle cx="1737.6" cy="1708.6" r="1.9" fill="#0e8c18"/>
<circle cx="1700.9" cy="1707.3" r="1.9" fill="#0e8c18"/>
<circle cx="1710.4" cy="1706.1" r="1.9" fill="#0e8c18"/>
<circle cx="1719.7" cy="1705.7" r="1.9" fill="#0e8c18"/>
<circle cx="1693.8" cy="1704.8" r="1.9" fill="#0e8c18"/>
<circle cx="1743.5" cy="1704.1" r="1.9" fill="#0e8c18"/>
<circle cx="1707.4" cy="1703.1" r="1.9" fill="#0e8c18"/>
<circle cx="1706.8" cy="1702.0" r="1.9" fill="#0e8c18"/>
<circle cx="1709.3" cy="1700.7" r="1.9" fill="#0e8c18"/>
<circle cx="1706.4" cy="1700.2" r="1.9" fill="#0e8c18"/>
<circle cx="1737.0" cy="1699.1" r="1.9" fill="#0e8c18"/>
<circle cx="1721.6" cy="1698.3" r="1.9" fill="#0e8c18"/>
<circle cx="1719.4" cy="1697.0" r="1.9" fill="#0e8c18"/>
<circle cx="1714.8" cy="1695.7" r="1.9" fill="#0e8c18"/>
<circle cx="1696.1" cy="1694.9" r="1.9" fill="#0e8c18"/>
<circle cx="1708.9" cy="1694.4" r="1.9" fill="#0e8c18"/>
<circle cx="1737.4" cy="1692.9" r="1.9" fill="#0e8c18"/>
<circle cx="1734.1" cy="1691.6" r="1.9" fill="#0e8c18"/>
<circle cx="1736.8" cy="1691.0" r="1.9" fill="#0e8c18"/>
<circle cx="1706.5" cy="1690.5" r="1.9" fill="#0e8c18"/>
<circle cx="1703.7" cy="1688.7" r="1.9" fill="#0e8c18"/>
<circle cx="1696.1" cy="1687.6" r="1.9" fill="#0e8c18"/>
<circle cx="1720.7" cy="1687.1" r="1.9" fill="#0e8c18"/>
<circle cx="1712.4" cy="1686.3" r="1.9" fill="#0e8c18"/>
<circle cx="1717.0" cy="1685.2" r="1.9" fill="#0e8c18"/>
<circle cx="1718.2" cy="1683.7" r="1.9" fill="#0e8c18"/>
<circle cx="1723.0" cy="1682.3" r="1.9" fill="#0e8c18"/>
<circle cx="1712.0" cy="1681.4" r="1.9" fill="#0e8c18"/>
<circle cx="1734.1" cy="1680.0" r="1.9" fill="#0e8c18"/>
<circle cx="1703.6" cy="1679.7" r="1.9" fill="#0e8c18"/>
<circle cx="1740.0" cy="1678.5" r="1.9" fill="#0e8c18"/>
<circle cx="1721.6" cy="1676.8" r="1.9" fill="#0e8c18"/>
<circle cx="1696.1" cy="1675.8" r="1.9" fill="#0e8c18"/>
<circle cx="1709.4" cy="1674.9" r="1.9" fill="#0e8c18"/>
<circle cx="1720.5" cy="1673.4" r="1.9" fill="#0e8c18"/>
<circle cx="1714.2" cy="1672.7" r="1.9" fill="#0e8c18"/>
<circle cx="1722.1" cy="1671.8" r="1.9" fill="#0e8c18"/>
<circle cx="1709.9" cy="1670.2" r="1.9" fill="#0e8c18"/>
<circle cx="1707.3" cy="1669.4" r="1.9" fill="#0e8c18"/>
<circle cx="1733.8" cy="1667.4" r="1.9" fill="#0e8c18"/>
<circle cx="1708.3" cy="1666.6" r="1.9" fill="#0e8c18"/>
<circle cx="1729.5" cy="1665.1" r="1.9" fill="#0e8c18"/>
<circle cx="1734.1" cy="1663.7" r="1.9" fill="#0e8c18"/>
<circle cx="1723.5" cy="1662.8" r="1.9" fill="#0e8c18"/>
<circle cx="1716.5" cy="1661.2" r="1.9" fill="#0e8c18"/>
<circle cx="1740.8" cy="1660.5" r="1.9" fill="#0e8c18"/>
<circle cx="1716.0" cy="1657.9" r="1.9" fill="#0e8c18"/>
<circle cx="1737.9" cy="1657.0" r="1.9" fill="#0e8c18"/>
<circle cx="1696.4" cy="1655.0" r="1.9" fill="#0e8c18"/>
<circle cx="1715.4" cy="1654.9" r="1.9" fill="#0e8c18"/>
<circle cx="1725.8" cy="1652.7" r="1.9" fill="#0e8c18"/>
<circle cx="1696.0" cy="1651.1" r="1.9" fill="#0e8c18"/>
<circle cx="1737.1" cy="1650.1" r="1.9" fill="#0e8c18"/>
<circle cx="1697.1" cy="1649.0" r="1.9" fill="#0e8c18"/>
<circle cx="1723.7" cy="1647.4" r="1.9" fill="#0e8c18"/>
<circle cx="1702.6" cy="1645.8" r="1.9" fill="#0e8c18"/>
<circle cx="1740.2" cy="1643.2" r="1.9" fill="#0e8c18"/>
<circle cx="1721.9" cy="1642.7" r="1.9" fill="#0e8c18"/>
<circle cx="1734.0" cy="1639.8" r="1.9" fill="#0e8c18"/>
<circle cx="1718.7" cy="1638.8" r="1.9" fill="#0e8c18"/>
<circle cx="1727.6" cy="1636.8" r="1.9" fill="#0e8c18"/>
<circle cx="1727.7" cy="1634.9" r="1.9" fill="#0e8c18"/>
<circle cx="1708.4" cy="1633.2" r="1.9" fill="#0e8c18"/>
<circle cx="1704.2" cy="1631.1" r="1.9" fill="#0e8c18"/>
<circle cx="1735.9" cy="1629.2" r="1.9" fill="#0e8c18"/>
<circle cx="1700.9" cy="1627.8" r="1.9" fill="#0e8c18"/>
<circle cx="1739.9" cy="1624.8" r="1.9" fill="#0e8c18"/>
<circle cx="1704.0" cy="1623.7" r="1.9" fill="#0e8c18"/>
<circle cx="1698.6" cy="1620.5" r="1.9" fill="#0e8c18"/>
<circle cx="1698.3" cy="1618.1" r="1.9" fill="#0e8c18"/>
<circle cx="1733.2" cy="1615.6" r="1.9" fill="#0e8c18"/>
<circle cx="1741.6" cy="1614.2" r="1.9" fill="#0e8c18"/>
<circle cx="1714.5" cy="1610.3" r="1.9" fill="#0e8c18"/>
<circle cx="1726.8" cy="1606.8" r="1.9" fill="#0e8c18"/>
<circle cx="1706.5" cy="1605.4" r="1.9" fill="#0e8c18"/>
<circle cx="1739.3" cy="1602.7" r="1.9" fill="#0e8c18"/>
<circle cx="1728.2" cy="1598.3" r="1.9" fill="#0e8c18"/>
<circle cx="1701.3" cy="1592.5" r="1.9" fill="#0e8c18"/>
<circle cx="1696.4" cy="1591.6" r="1.9" fill="#0e8c18"/>
<circle cx="1728.7" cy="1587.1" r="1.9" fill="#0e8c18"/>
<circle cx="1695.6" cy="1576.5" r="1.9" fill="#0e8c18"/>
<circle cx="1735.8" cy="1564.0" r="1.9" fill="#0e8c18"/>
<circle cx="1708.4" cy="1916.7" r="1.9" fill="#0e8c18"/>
<line x1="1627.8" y1="1643.8" x2="1677.4" y2="1643.8" stroke="#3c3c3c" stroke-width="1.9"/>
<line x1="1694.0" y1="1761.7" x2="1743.6" y2="1761.7" stroke="#3c3c3c" stroke-width="1.9"/>
<rect x="160" y="2008.2" width="534.6" height="433.79999999999995" fill="#fcfcfc"/>
<line x1="176.1" y1="2008.2" x2="176.1" y2="2442" stroke="#fff" stroke-width="1.4"/>
<line x1="231.8" y1="2008.2" x2="231.8" y2="2442" stroke="#fff" stroke-width="1.4"/>
<line x1="287.6" y1="2008.2" x2="287.6" y2="2442" stroke="#fff" stroke-width="1.4"/>
<line x1="343.3" y1="2008.2" x2="343.3" y2="2442" stroke="#fff" stroke-width="1.4"/>
<line x1="399.0" y1="2008.2" x2="399.0" y2="2442" stroke="#fff" stroke-width="1.4"/>
<line x1="454.7" y1="2008.2" x2="454.7" y2="2442" stroke="#fff" stroke-width="1.4"/>
<line x1="510.5" y1="2008.2" x2="510.5" y2="2442" stroke="#fff" stroke-width="1.4"/>
<line x1="566.2" y1="2008.2" x2="566.2" y2="2442" stroke="#fff" stroke-width="1.4"/>
<line x1="621.9" y1="2008.2" x2="621.9" y2="2442" stroke="#fff" stroke-width="1.4"/>
<line x1="677.6" y1="2008.2" x2="677.6" y2="2442" stroke="#fff" stroke-width="1.4"/>
<line x1="160" y1="2440.0" x2="694.6" y2="2440.0" stroke="#fff" stroke-width="1.4"/>
<line x1="160" y1="2374.7" x2="694.6" y2="2374.7" stroke="#fff" stroke-width="1.4"/>
<line x1="160" y1="2309.3" x2="694.6" y2="2309.3" stroke="#fff" stroke-width="1.4"/>
<line x1="160" y1="2244.0" x2="694.6" y2="2244.0" stroke="#fff" stroke-width="1.4"/>
<line x1="160" y1="2178.7" x2="694.6" y2="2178.7" stroke="#fff" stroke-width="1.4"/>
<line x1="160" y1="2113.3" x2="694.6" y2="2113.3" stroke="#fff" stroke-width="1.4"/>
<line x1="160" y1="2048.0" x2="694.6" y2="2048.0" stroke="#fff" stroke-width="1.4"/>
<line x1="176.1" y1="2442" x2="176.1" y2="2444.2" stroke="#888" stroke-width="1"/>
<text x="173.6" y="2465.5" font-size="20" text-anchor="middle" font-family="'Liberation Sans', Arial, sans-serif" fill="#000" >2</text>
<line x1="287.6" y1="2442" x2="287.6" y2="2444.2" stroke="#888" stroke-width="1"/>
<text x="285.1" y="2465.5" font-size="20" text-anchor="middle" font-family="'Liberation Sans', Arial, sans-serif" fill="#000" >4</text>
<line x1="399.0" y1="2442" x2="399.0" y2="2444.2" stroke="#888" stroke-width="1"/>
<text x="396.5" y="2465.5" font-size="20" text-anchor="middle" font-family="'Liberation Sans', Arial, sans-serif" fill="#000" >6</text>
<line x1="510.5" y1="2442" x2="510.5" y2="2444.2" stroke="#888" stroke-width="1"/>
<text x="508.0" y="2465.5" font-size="20" text-anchor="middle" font-family="'Liberation Sans', Arial, sans-serif" fill="#000" >8</text>
<line x1="621.9" y1="2442" x2="621.9" y2="2444.2" stroke="#888" stroke-width="1"/>
<text x="619.4" y="2465.5" font-size="20" text-anchor="middle" font-family="'Liberation Sans', Arial, sans-serif" fill="#000" >10</text>
<line x1="157.8" y1="2113.3" x2="160" y2="2113.3" stroke="#888" stroke-width="1"/>
<text x="153.6" y="2122.1" font-size="20" text-anchor="end" font-family="'Liberation Sans', Arial, sans-serif" fill="#000" >8</text>
<line x1="157.8" y1="2244.0" x2="160" y2="2244.0" stroke="#888" stroke-width="1"/>
<text x="153.6" y="2252.8" font-size="20" text-anchor="end" font-family="'Liberation Sans', Arial, sans-serif" fill="#000" >7</text>
<line x1="157.8" y1="2374.7" x2="160" y2="2374.7" stroke="#888" stroke-width="1"/>
<text x="153.6" y="2383.5" font-size="20" text-anchor="end" font-family="'Liberation Sans', Arial, sans-serif" fill="#000" >6</text>
<text x="432.2" y="2492.4" font-size="19.5" text-anchor="middle" font-family="'Liberation Sans', Arial, sans-serif" fill="#000" >log(IL-8+1)</text>
<text x="112.7" y="2231" font-size="19.5" text-anchor="middle" font-family="'Liberation Sans', Arial, sans-serif" transform="rotate(-90 112.7 2231)">predicted log(IL-8+1)</text>
<polygon points="184.0,2352.5 196.2,2347.6 208.3,2342.7 220.5,2337.8 232.7,2332.9 244.8,2328.0 257.0,2323.1 269.1,2318.2 281.3,2313.3 293.5,2308.4 305.6,2303.4 317.8,2298.5 329.9,2293.5 342.1,2288.6 354.3,2283.6 366.4,2278.5 378.6,2273.5 390.8,2268.4 402.9,2263.2 415.1,2258.0 427.2,2252.6 439.4,2247.2 451.6,2241.6 463.7,2235.8 475.9,2229.9 488.1,2223.9 500.2,2217.8 512.4,2211.7 524.5,2205.4 536.7,2199.1 548.9,2192.8 561.0,2186.5 573.2,2180.1 585.4,2173.7 597.5,2167.3 609.7,2160.9 621.9,2154.5 634.0,2148.1 646.2,2141.7 658.3,2135.2 670.5,2128.8 670.5,2159.2 658.3,2164.1 646.2,2169.0 634.0,2173.9 621.9,2178.8 609.7,2183.8 597.5,2188.7 585.4,2193.6 573.2,2198.6 561.0,2203.6 548.9,2208.6 536.7,2213.6 524.5,2218.6 512.4,2223.8 500.2,2228.9 488.1,2234.2 475.9,2239.5 463.7,2245.0 451.6,2250.6 439.4,2256.3 427.2,2262.2 415.1,2268.2 402.9,2274.3 390.8,2280.5 378.6,2286.7 366.4,2293.0 354.3,2299.3 342.1,2305.6 329.9,2312.0 317.8,2318.4 305.6,2324.8 293.5,2331.2 281.3,2337.6 269.1,2344.0 257.0,2350.4 244.8,2356.9 232.7,2363.3 220.5,2369.8 208.3,2376.2 196.2,2382.6 184.0,2389.1" fill="#d6d6d6" fill-opacity="0.42"/>
<circle cx="394.3" cy="2165.1" r="2.05" fill="#0e8c18"/>
<circle cx="413.7" cy="2184.0" r="2.05" fill="#0e8c18"/>
<circle cx="428.7" cy="2186.9" r="2.05" fill="#0e8c18"/>
<circle cx="373.6" cy="2202.8" r="2.05" fill="#0e8c18"/>
<circle cx="387.9" cy="2206.6" r="2.05" fill="#0e8c18"/>
<circle cx="412.1" cy="2203.3" r="2.05" fill="#0e8c18"/>
<circle cx="228.0" cy="2216.0" r="2.05" fill="#0e8c18"/>
<circle cx="404.7" cy="2220.3" r="2.05" fill="#0e8c18"/>
<circle cx="414.4" cy="2224.5" r="2.05" fill="#0e8c18"/>
<circle cx="582.2" cy="2064.3" r="2.05" fill="#0e8c18"/>
<circle cx="631.5" cy="2058.2" r="2.05" fill="#0e8c18"/>
<circle cx="573.0" cy="2078.9" r="2.05" fill="#0e8c18"/>
<circle cx="618.3" cy="2083.4" r="2.05" fill="#0e8c18"/>
<circle cx="630.5" cy="2095.5" r="2.05" fill="#0e8c18"/>
<circle cx="445.8" cy="2093.6" r="2.05" fill="#0e8c18"/>
<circle cx="554.9" cy="2100.5" r="2.05" fill="#0e8c18"/>
<circle cx="457.3" cy="2112.6" r="2.05" fill="#0e8c18"/>
<circle cx="526.3" cy="2119.7" r="2.05" fill="#0e8c18"/>
<circle cx="484.6" cy="2128.1" r="2.05" fill="#0e8c18"/>
<circle cx="529.9" cy="2134.6" r="2.05" fill="#0e8c18"/>
<circle cx="593.7" cy="2132.3" r="2.05" fill="#0e8c18"/>
<circle cx="562.5" cy="2142.9" r="2.05" fill="#0e8c18"/>
<circle cx="465.2" cy="2144.0" r="2.05" fill="#0e8c18"/>
<circle cx="476.3" cy="2146.3" r="2.05" fill="#0e8c18"/>
<circle cx="477.7" cy="2148.0" r="2.05" fill="#0e8c18"/>
<circle cx="455.5" cy="2148.9" r="2.05" fill="#0e8c18"/>
<circle cx="642.5" cy="2146.3" r="2.05" fill="#0e8c18"/>
<circle cx="660.4" cy="2152.4" r="2.05" fill="#0e8c18"/>
<circle cx="474.4" cy="2154.0" r="2.05" fill="#0e8c18"/>
<circle cx="501.0" cy="2153.5" r="2.05" fill="#0e8c18"/>
<circle cx="506.6" cy="2156.5" r="2.05" fill="#0e8c18"/>
<circle cx="478.8" cy="2160.1" r="2.05" fill="#0e8c18"/>
<circle cx="530.1" cy="2158.1" r="2.05" fill="#0e8c18"/>
<circle cx="545.5" cy="2160.3" r="2.05" fill="#0e8c18"/>
<circle cx="570.0" cy="2159.0" r="2.05" fill="#0e8c18"/>
<circle cx="571.5" cy="2158.5" r="2.05" fill="#0e8c18"/>
<circle cx="586.5" cy="2160.9" r="2.05" fill="#0e8c18"/>
<circle cx="439.9" cy="2166.7" r="2.05" fill="#0e8c18"/>
<circle cx="441.5" cy="2165.9" r="2.05" fill="#0e8c18"/>
<circle cx="470.4" cy="2167.2" r="2.05" fill="#0e8c18"/>
<circle cx="538.8" cy="2165.9" r="2.05" fill="#0e8c18"/>
<circle cx="552.6" cy="2165.4" r="2.05" fill="#0e8c18"/>
<circle cx="439.0" cy="2173.4" r="2.05" fill="#0e8c18"/>
<circle cx="484.6" cy="2171.6" r="2.05" fill="#0e8c18"/>
<circle cx="583.7" cy="2170.5" r="2.05" fill="#0e8c18"/>
<circle cx="592.7" cy="2169.7" r="2.05" fill="#0e8c18"/>
<circle cx="614.9" cy="2169.5" r="2.05" fill="#0e8c18"/>
<circle cx="647.3" cy="2168.8" r="2.05" fill="#0e8c18"/>
<circle cx="513.3" cy="2176.2" r="2.05" fill="#0e8c18"/>
<circle cx="500.3" cy="2179.8" r="2.05" fill="#0e8c18"/>
<circle cx="504.1" cy="2178.9" r="2.05" fill="#0e8c18"/>
<circle cx="588.1" cy="2179.2" r="2.05" fill="#0e8c18"/>
<circle cx="595.3" cy="2176.7" r="2.05" fill="#0e8c18"/>
<circle cx="488.5" cy="2184.6" r="2.05" fill="#0e8c18"/>
<circle cx="546.0" cy="2184.3" r="2.05" fill="#0e8c18"/>
<circle cx="550.0" cy="2186.4" r="2.05" fill="#0e8c18"/>
<circle cx="551.6" cy="2188.9" r="2.05" fill="#0e8c18"/>
<circle cx="556.0" cy="2182.0" r="2.05" fill="#0e8c18"/>
<circle cx="430.5" cy="2186.7" r="2.05" fill="#0e8c18"/>
<circle cx="523.3" cy="2189.4" r="2.05" fill="#0e8c18"/>
<circle cx="559.2" cy="2193.2" r="2.05" fill="#0e8c18"/>
<circle cx="625.2" cy="2194.0" r="2.05" fill="#0e8c18"/>
<circle cx="491.3" cy="2198.7" r="2.05" fill="#0e8c18"/>
<circle cx="461.7" cy="2200.9" r="2.05" fill="#0e8c18"/>
<circle cx="459.3" cy="2205.5" r="2.05" fill="#0e8c18"/>
<circle cx="581.2" cy="2201.4" r="2.05" fill="#0e8c18"/>
<circle cx="517.8" cy="2206.3" r="2.05" fill="#0e8c18"/>
<circle cx="469.9" cy="2209.8" r="2.05" fill="#0e8c18"/>
<circle cx="502.5" cy="2211.7" r="2.05" fill="#0e8c18"/>
<circle cx="486.4" cy="2213.0" r="2.05" fill="#0e8c18"/>
<circle cx="524.0" cy="2210.2" r="2.05" fill="#0e8c18"/>
<circle cx="533.2" cy="2215.7" r="2.05" fill="#0e8c18"/>
<circle cx="552.4" cy="2215.0" r="2.05" fill="#0e8c18"/>
<circle cx="568.4" cy="2211.1" r="2.05" fill="#0e8c18"/>
<circle cx="501.8" cy="2216.0" r="2.05" fill="#0e8c18"/>
<circle cx="432.8" cy="2221.9" r="2.05" fill="#0e8c18"/>
<circle cx="443.0" cy="2223.1" r="2.05" fill="#0e8c18"/>
<circle cx="476.5" cy="2223.7" r="2.05" fill="#0e8c18"/>
<circle cx="488.5" cy="2222.2" r="2.05" fill="#0e8c18"/>
<circle cx="489.2" cy="2223.7" r="2.05" fill="#0e8c18"/>
<circle cx="547.7" cy="2224.2" r="2.05" fill="#0e8c18"/>
<circle cx="311.0" cy="2229.9" r="2.05" fill="#0e8c18"/>
<circle cx="380.2" cy="2230.4" r="2.05" fill="#0e8c18"/>
<circle cx="377.1" cy="2233.5" r="2.05" fill="#0e8c18"/>
<circle cx="382.8" cy="2234.2" r="2.05" fill="#0e8c18"/>
<circle cx="392.5" cy="2229.4" r="2.05" fill="#0e8c18"/>
<circle cx="398.3" cy="2227.5" r="2.05" fill="#0e8c18"/>
<circle cx="414.1" cy="2226.0" r="2.05" fill="#0e8c18"/>
<circle cx="396.8" cy="2239.3" r="2.05" fill="#0e8c18"/>
<circle cx="415.5" cy="2238.0" r="2.05" fill="#0e8c18"/>
<circle cx="419.3" cy="2240.6" r="2.05" fill="#0e8c18"/>
<circle cx="419.8" cy="2242.3" r="2.05" fill="#0e8c18"/>
<circle cx="428.9" cy="2232.4" r="2.05" fill="#0e8c18"/>
<circle cx="428.9" cy="2235.7" r="2.05" fill="#0e8c18"/>
<circle cx="328.1" cy="2248.3" r="2.05" fill="#0e8c18"/>
<circle cx="344.7" cy="2254.4" r="2.05" fill="#0e8c18"/>
<circle cx="327.5" cy="2258.4" r="2.05" fill="#0e8c18"/>
<circle cx="251.0" cy="2257.5" r="2.05" fill="#0e8c18"/>
<circle cx="355.7" cy="2262.6" r="2.05" fill="#0e8c18"/>
<circle cx="396.8" cy="2253.8" r="2.05" fill="#0e8c18"/>
<circle cx="417.8" cy="2248.2" r="2.05" fill="#0e8c18"/>
<circle cx="418.8" cy="2254.3" r="2.05" fill="#0e8c18"/>
<circle cx="414.7" cy="2256.2" r="2.05" fill="#0e8c18"/>
<circle cx="411.1" cy="2261.2" r="2.05" fill="#0e8c18"/>
<circle cx="399.1" cy="2262.8" r="2.05" fill="#0e8c18"/>
<circle cx="396.0" cy="2265.3" r="2.05" fill="#0e8c18"/>
<circle cx="396.0" cy="2268.2" r="2.05" fill="#0e8c18"/>
<circle cx="406.0" cy="2268.5" r="2.05" fill="#0e8c18"/>
<circle cx="410.1" cy="2270.4" r="2.05" fill="#0e8c18"/>
<circle cx="312.7" cy="2267.4" r="2.05" fill="#0e8c18"/>
<circle cx="296.9" cy="2272.5" r="2.05" fill="#0e8c18"/>
<circle cx="347.5" cy="2269.7" r="2.05" fill="#0e8c18"/>
<circle cx="250.6" cy="2276.3" r="2.05" fill="#0e8c18"/>
<circle cx="255.2" cy="2276.1" r="2.05" fill="#0e8c18"/>
<circle cx="361.5" cy="2277.3" r="2.05" fill="#0e8c18"/>
<circle cx="373.0" cy="2274.5" r="2.05" fill="#0e8c18"/>
<circle cx="382.7" cy="2274.0" r="2.05" fill="#0e8c18"/>
<circle cx="394.8" cy="2278.1" r="2.05" fill="#0e8c18"/>
<circle cx="400.4" cy="2279.2" r="2.05" fill="#0e8c18"/>
<circle cx="402.9" cy="2280.5" r="2.05" fill="#0e8c18"/>
<circle cx="404.4" cy="2282.4" r="2.05" fill="#0e8c18"/>
<circle cx="393.4" cy="2283.8" r="2.05" fill="#0e8c18"/>
<circle cx="402.2" cy="2284.5" r="2.05" fill="#0e8c18"/>
<circle cx="399.6" cy="2288.6" r="2.05" fill="#0e8c18"/>
<circle cx="418.8" cy="2283.7" r="2.05" fill="#0e8c18"/>
<circle cx="304.8" cy="2288.8" r="2.05" fill="#0e8c18"/>
<circle cx="366.7" cy="2283.7" r="2.05" fill="#0e8c18"/>
<circle cx="329.3" cy="2293.0" r="2.05" fill="#0e8c18"/>
<circle cx="337.0" cy="2294.7" r="2.05" fill="#0e8c18"/>
<circle cx="351.5" cy="2291.4" r="2.05" fill="#0e8c18"/>
<circle cx="368.7" cy="2296.2" r="2.05" fill="#0e8c18"/>
<circle cx="387.4" cy="2290.1" r="2.05" fill="#0e8c18"/>
<circle cx="393.2" cy="2293.2" r="2.05" fill="#0e8c18"/>
<circle cx="393.0" cy="2297.3" r="2.05" fill="#0e8c18"/>
<circle cx="406.0" cy="2297.3" r="2.05" fill="#0e8c18"/>
<circle cx="423.9" cy="2290.2" r="2.05" fill="#0e8c18"/>
<circle cx="428.9" cy="2298.1" r="2.05" fill="#0e8c18"/>
<circle cx="419.3" cy="2301.3" r="2.05" fill="#0e8c18"/>
<circle cx="196.5" cy="2303.7" r="2.05" fill="#0e8c18"/>
<circle cx="354.4" cy="2300.8" r="2.05" fill="#0e8c18"/>
<circle cx="388.8" cy="2300.1" r="2.05" fill="#0e8c18"/>
<circle cx="396.5" cy="2302.6" r="2.05" fill="#0e8c18"/>
<circle cx="405.7" cy="2301.9" r="2.05" fill="#0e8c18"/>
<circle cx="408.6" cy="2304.9" r="2.05" fill="#0e8c18"/>
<circle cx="387.4" cy="2306.2" r="2.05" fill="#0e8c18"/>
<circle cx="402.2" cy="2307.2" r="2.05" fill="#0e8c18"/>
<circle cx="399.8" cy="2309.3" r="2.05" fill="#0e8c18"/>
<circle cx="399.6" cy="2311.9" r="2.05" fill="#0e8c18"/>
<circle cx="428.9" cy="2303.6" r="2.05" fill="#0e8c18"/>
<circle cx="428.9" cy="2309.8" r="2.05" fill="#0e8c18"/>
<circle cx="344.1" cy="2305.7" r="2.05" fill="#0e8c18"/>
<circle cx="334.7" cy="2309.6" r="2.05" fill="#0e8c18"/>
<circle cx="377.1" cy="2309.6" r="2.05" fill="#0e8c18"/>
<circle cx="231.0" cy="2312.9" r="2.05" fill="#0e8c18"/>
<circle cx="338.0" cy="2318.0" r="2.05" fill="#0e8c18"/>
<circle cx="348.3" cy="2318.3" r="2.05" fill="#0e8c18"/>
<circle cx="367.2" cy="2320.6" r="2.05" fill="#0e8c18"/>
<circle cx="422.3" cy="2315.6" r="2.05" fill="#0e8c18"/>
<circle cx="424.9" cy="2320.3" r="2.05" fill="#0e8c18"/>
<circle cx="418.0" cy="2322.0" r="2.05" fill="#0e8c18"/>
<circle cx="338.3" cy="2324.1" r="2.05" fill="#0e8c18"/>
<circle cx="360.5" cy="2324.6" r="2.05" fill="#0e8c18"/>
<circle cx="373.0" cy="2324.6" r="2.05" fill="#0e8c18"/>
<circle cx="387.0" cy="2324.3" r="2.05" fill="#0e8c18"/>
<circle cx="401.4" cy="2323.8" r="2.05" fill="#0e8c18"/>
<circle cx="408.6" cy="2326.6" r="2.05" fill="#0e8c18"/>
<circle cx="298.0" cy="2327.1" r="2.05" fill="#0e8c18"/>
<circle cx="268.8" cy="2329.5" r="2.05" fill="#0e8c18"/>
<circle cx="260.6" cy="2333.5" r="2.05" fill="#0e8c18"/>
<circle cx="321.9" cy="2330.8" r="2.05" fill="#0e8c18"/>
<circle cx="258.4" cy="2345.5" r="2.05" fill="#0e8c18"/>
<circle cx="259.9" cy="2348.6" r="2.05" fill="#0e8c18"/>
<circle cx="273.1" cy="2345.0" r="2.05" fill="#0e8c18"/>
<circle cx="274.1" cy="2350.2" r="2.05" fill="#0e8c18"/>
<circle cx="330.7" cy="2344.6" r="2.05" fill="#0e8c18"/>
<circle cx="337.0" cy="2343.7" r="2.05" fill="#0e8c18"/>
<circle cx="370.0" cy="2346.6" r="2.05" fill="#0e8c18"/>
<circle cx="280.0" cy="2357.6" r="2.05" fill="#0e8c18"/>
<circle cx="223.1" cy="2358.8" r="2.05" fill="#0e8c18"/>
<circle cx="328.0" cy="2356.1" r="2.05" fill="#0e8c18"/>
<circle cx="322.9" cy="2366.7" r="2.05" fill="#0e8c18"/>
<circle cx="346.7" cy="2376.0" r="2.05" fill="#0e8c18"/>
<circle cx="406.5" cy="2379.3" r="2.05" fill="#0e8c18"/>
<circle cx="413.7" cy="2376.7" r="2.05" fill="#0e8c18"/>
<circle cx="270.1" cy="2381.5" r="2.05" fill="#0e8c18"/>
<circle cx="234.8" cy="2384.4" r="2.05" fill="#0e8c18"/>
<circle cx="327.6" cy="2382.6" r="2.05" fill="#0e8c18"/>
<circle cx="352.9" cy="2414.2" r="2.05" fill="#0e8c18"/>
<circle cx="290.8" cy="2417.6" r="2.05" fill="#0e8c18"/>
<circle cx="412.8" cy="2425.3" r="2.05" fill="#0e8c18"/>
<circle cx="429.5" cy="2343.7" r="2.05" fill="#0e8c18"/>
<circle cx="441.3" cy="2228.6" r="2.05" fill="#0e8c18"/>
<circle cx="453.3" cy="2226.3" r="2.05" fill="#0e8c18"/>
<circle cx="459.4" cy="2227.8" r="2.05" fill="#0e8c18"/>
<circle cx="472.6" cy="2227.0" r="2.05" fill="#0e8c18"/>
<circle cx="434.9" cy="2233.5" r="2.05" fill="#0e8c18"/>
<circle cx="430.5" cy="2235.4" r="2.05" fill="#0e8c18"/>
<circle cx="478.6" cy="2231.6" r="2.05" fill="#0e8c18"/>
<circle cx="485.4" cy="2231.1" r="2.05" fill="#0e8c18"/>
<circle cx="515.8" cy="2232.4" r="2.05" fill="#0e8c18"/>
<circle cx="547.7" cy="2225.5" r="2.05" fill="#0e8c18"/>
<circle cx="625.1" cy="2226.8" r="2.05" fill="#0e8c18"/>
<circle cx="529.3" cy="2236.2" r="2.05" fill="#0e8c18"/>
<circle cx="551.9" cy="2235.8" r="2.05" fill="#0e8c18"/>
<circle cx="561.0" cy="2239.3" r="2.05" fill="#0e8c18"/>
<circle cx="506.6" cy="2240.6" r="2.05" fill="#0e8c18"/>
<circle cx="447.6" cy="2243.1" r="2.05" fill="#0e8c18"/>
<circle cx="453.0" cy="2241.4" r="2.05" fill="#0e8c18"/>
<circle cx="465.2" cy="2241.4" r="2.05" fill="#0e8c18"/>
<circle cx="459.3" cy="2245.7" r="2.05" fill="#0e8c18"/>
<circle cx="459.6" cy="2247.2" r="2.05" fill="#0e8c18"/>
<circle cx="468.1" cy="2246.7" r="2.05" fill="#0e8c18"/>
<circle cx="497.2" cy="2249.2" r="2.05" fill="#0e8c18"/>
<circle cx="502.0" cy="2250.0" r="2.05" fill="#0e8c18"/>
<circle cx="507.2" cy="2253.3" r="2.05" fill="#0e8c18"/>
<circle cx="442.5" cy="2252.1" r="2.05" fill="#0e8c18"/>
<circle cx="449.7" cy="2250.8" r="2.05" fill="#0e8c18"/>
<circle cx="472.7" cy="2255.4" r="2.05" fill="#0e8c18"/>
<circle cx="518.4" cy="2257.0" r="2.05" fill="#0e8c18"/>
<circle cx="580.0" cy="2249.3" r="2.05" fill="#0e8c18"/>
<circle cx="445.1" cy="2258.7" r="2.05" fill="#0e8c18"/>
<circle cx="460.7" cy="2259.8" r="2.05" fill="#0e8c18"/>
<circle cx="501.2" cy="2257.9" r="2.05" fill="#0e8c18"/>
<circle cx="502.5" cy="2259.5" r="2.05" fill="#0e8c18"/>
<circle cx="435.9" cy="2264.9" r="2.05" fill="#0e8c18"/>
<circle cx="464.3" cy="2263.3" r="2.05" fill="#0e8c18"/>
<circle cx="465.0" cy="2266.1" r="2.05" fill="#0e8c18"/>
<circle cx="473.4" cy="2267.1" r="2.05" fill="#0e8c18"/>
<circle cx="488.2" cy="2267.1" r="2.05" fill="#0e8c18"/>
<circle cx="535.2" cy="2263.6" r="2.05" fill="#0e8c18"/>
<circle cx="536.8" cy="2264.8" r="2.05" fill="#0e8c18"/>
<circle cx="549.8" cy="2262.1" r="2.05" fill="#0e8c18"/>
<circle cx="551.1" cy="2263.3" r="2.05" fill="#0e8c18"/>
<circle cx="481.8" cy="2271.8" r="2.05" fill="#0e8c18"/>
<circle cx="479.6" cy="2276.8" r="2.05" fill="#0e8c18"/>
<circle cx="601.2" cy="2274.8" r="2.05" fill="#0e8c18"/>
<circle cx="451.4" cy="2276.8" r="2.05" fill="#0e8c18"/>
<circle cx="450.2" cy="2278.6" r="2.05" fill="#0e8c18"/>
<circle cx="457.3" cy="2277.9" r="2.05" fill="#0e8c18"/>
<circle cx="431.8" cy="2280.1" r="2.05" fill="#0e8c18"/>
<circle cx="434.4" cy="2284.5" r="2.05" fill="#0e8c18"/>
<circle cx="470.3" cy="2283.3" r="2.05" fill="#0e8c18"/>
<circle cx="491.0" cy="2279.9" r="2.05" fill="#0e8c18"/>
<circle cx="496.4" cy="2282.0" r="2.05" fill="#0e8c18"/>
<circle cx="510.4" cy="2278.4" r="2.05" fill="#0e8c18"/>
<circle cx="513.8" cy="2278.1" r="2.05" fill="#0e8c18"/>
<circle cx="523.7" cy="2282.2" r="2.05" fill="#0e8c18"/>
<circle cx="534.5" cy="2282.8" r="2.05" fill="#0e8c18"/>
<circle cx="571.3" cy="2279.4" r="2.05" fill="#0e8c18"/>
<circle cx="434.6" cy="2288.9" r="2.05" fill="#0e8c18"/>
<circle cx="510.0" cy="2286.1" r="2.05" fill="#0e8c18"/>
<circle cx="549.8" cy="2285.8" r="2.05" fill="#0e8c18"/>
<circle cx="485.1" cy="2288.8" r="2.05" fill="#0e8c18"/>
<circle cx="473.2" cy="2291.9" r="2.05" fill="#0e8c18"/>
<circle cx="526.3" cy="2289.1" r="2.05" fill="#0e8c18"/>
<circle cx="528.1" cy="2291.2" r="2.05" fill="#0e8c18"/>
<circle cx="563.1" cy="2289.9" r="2.05" fill="#0e8c18"/>
<circle cx="487.0" cy="2295.0" r="2.05" fill="#0e8c18"/>
<circle cx="530.6" cy="2296.2" r="2.05" fill="#0e8c18"/>
<circle cx="564.3" cy="2297.1" r="2.05" fill="#0e8c18"/>
<circle cx="441.3" cy="2299.0" r="2.05" fill="#0e8c18"/>
<circle cx="475.5" cy="2299.8" r="2.05" fill="#0e8c18"/>
<circle cx="480.6" cy="2299.3" r="2.05" fill="#0e8c18"/>
<circle cx="488.3" cy="2300.4" r="2.05" fill="#0e8c18"/>
<circle cx="546.0" cy="2301.7" r="2.05" fill="#0e8c18"/>
<circle cx="438.5" cy="2303.9" r="2.05" fill="#0e8c18"/>
<circle cx="430.0" cy="2303.6" r="2.05" fill="#0e8c18"/>
<circle cx="439.0" cy="2309.6" r="2.05" fill="#0e8c18"/>
<circle cx="430.0" cy="2310.1" r="2.05" fill="#0e8c18"/>
<circle cx="456.6" cy="2311.1" r="2.05" fill="#0e8c18"/>
<circle cx="477.8" cy="2306.3" r="2.05" fill="#0e8c18"/>
<circle cx="520.1" cy="2307.2" r="2.05" fill="#0e8c18"/>
<circle cx="525.5" cy="2309.0" r="2.05" fill="#0e8c18"/>
<circle cx="536.2" cy="2307.0" r="2.05" fill="#0e8c18"/>
<circle cx="480.9" cy="2313.4" r="2.05" fill="#0e8c18"/>
<circle cx="479.0" cy="2318.0" r="2.05" fill="#0e8c18"/>
<circle cx="515.1" cy="2317.4" r="2.05" fill="#0e8c18"/>
<circle cx="447.3" cy="2323.9" r="2.05" fill="#0e8c18"/>
<circle cx="464.5" cy="2326.9" r="2.05" fill="#0e8c18"/>
<circle cx="432.1" cy="2331.0" r="2.05" fill="#0e8c18"/>
<circle cx="431.3" cy="2344.0" r="2.05" fill="#0e8c18"/>
<circle cx="432.1" cy="2363.0" r="2.05" fill="#0e8c18"/>
<circle cx="432.5" cy="2363.9" r="2.05" fill="#0e8c18"/>
<circle cx="516.8" cy="2386.5" r="2.05" fill="#0e8c18"/>
<circle cx="391.9" cy="2172.8" r="2.05" fill="#f3281c"/>
<circle cx="377.4" cy="2212.1" r="2.05" fill="#f3281c"/>
<circle cx="425.2" cy="2212.2" r="2.05" fill="#f3281c"/>
<circle cx="429.5" cy="2208.3" r="2.05" fill="#f3281c"/>
<circle cx="628.5" cy="2026.5" r="2.05" fill="#f3281c"/>
<circle cx="598.6" cy="2038.3" r="2.05" fill="#f3281c"/>
<circle cx="634.3" cy="2055.3" r="2.05" fill="#f3281c"/>
<circle cx="670.4" cy="2063.8" r="2.05" fill="#f3281c"/>
<circle cx="577.9" cy="2086.7" r="2.05" fill="#f3281c"/>
<circle cx="624.2" cy="2089.6" r="2.05" fill="#f3281c"/>
<circle cx="561.5" cy="2093.2" r="2.05" fill="#f3281c"/>
<circle cx="583.7" cy="2094.6" r="2.05" fill="#f3281c"/>
<circle cx="474.7" cy="2110.0" r="2.05" fill="#f3281c"/>
<circle cx="481.4" cy="2118.7" r="2.05" fill="#f3281c"/>
<circle cx="514.5" cy="2114.1" r="2.05" fill="#f3281c"/>
<circle cx="567.2" cy="2114.1" r="2.05" fill="#f3281c"/>
<circle cx="628.4" cy="2120.8" r="2.05" fill="#f3281c"/>
<circle cx="624.2" cy="2127.1" r="2.05" fill="#f3281c"/>
<circle cx="432.8" cy="2137.6" r="2.05" fill="#f3281c"/>
<circle cx="460.6" cy="2129.6" r="2.05" fill="#f3281c"/>
<circle cx="470.8" cy="2129.1" r="2.05" fill="#f3281c"/>
<circle cx="503.5" cy="2127.1" r="2.05" fill="#f3281c"/>
<circle cx="544.7" cy="2127.6" r="2.05" fill="#f3281c"/>
<circle cx="571.0" cy="2130.5" r="2.05" fill="#f3281c"/>
<circle cx="579.1" cy="2135.8" r="2.05" fill="#f3281c"/>
<circle cx="559.7" cy="2155.4" r="2.05" fill="#f3281c"/>
<circle cx="469.6" cy="2156.5" r="2.05" fill="#f3281c"/>
<circle cx="501.0" cy="2163.6" r="2.05" fill="#f3281c"/>
<circle cx="555.7" cy="2172.4" r="2.05" fill="#f3281c"/>
<circle cx="448.1" cy="2178.5" r="2.05" fill="#f3281c"/>
<circle cx="482.3" cy="2177.2" r="2.05" fill="#f3281c"/>
<circle cx="631.2" cy="2177.0" r="2.05" fill="#f3281c"/>
<circle cx="518.7" cy="2183.6" r="2.05" fill="#f3281c"/>
<circle cx="500.7" cy="2192.8" r="2.05" fill="#f3281c"/>
<circle cx="506.3" cy="2196.3" r="2.05" fill="#f3281c"/>
<circle cx="451.0" cy="2198.1" r="2.05" fill="#f3281c"/>
<circle cx="442.7" cy="2203.5" r="2.05" fill="#f3281c"/>
<circle cx="431.0" cy="2208.4" r="2.05" fill="#f3281c"/>
<circle cx="490.3" cy="2209.1" r="2.05" fill="#f3281c"/>
<circle cx="478.3" cy="2212.7" r="2.05" fill="#f3281c"/>
<circle cx="521.4" cy="2211.4" r="2.05" fill="#f3281c"/>
<circle cx="529.3" cy="2212.4" r="2.05" fill="#f3281c"/>
<circle cx="567.7" cy="2216.2" r="2.05" fill="#f3281c"/>
<circle cx="612.7" cy="2219.1" r="2.05" fill="#f3281c"/>
<circle cx="184.3" cy="2255.6" r="2.05" fill="#f3281c"/>
<circle cx="278.0" cy="2255.9" r="2.05" fill="#f3281c"/>
<circle cx="327.3" cy="2256.4" r="2.05" fill="#f3281c"/>
<circle cx="344.7" cy="2241.4" r="2.05" fill="#f3281c"/>
<circle cx="360.2" cy="2236.3" r="2.05" fill="#f3281c"/>
<circle cx="374.5" cy="2236.0" r="2.05" fill="#f3281c"/>
<circle cx="421.1" cy="2229.4" r="2.05" fill="#f3281c"/>
<circle cx="421.1" cy="2257.7" r="2.05" fill="#f3281c"/>
<circle cx="243.8" cy="2281.0" r="2.05" fill="#f3281c"/>
<circle cx="412.4" cy="2268.5" r="2.05" fill="#f3281c"/>
<circle cx="414.2" cy="2282.0" r="2.05" fill="#f3281c"/>
<circle cx="404.2" cy="2288.3" r="2.05" fill="#f3281c"/>
<circle cx="379.9" cy="2292.7" r="2.05" fill="#f3281c"/>
<circle cx="358.0" cy="2296.8" r="2.05" fill="#f3281c"/>
<circle cx="262.2" cy="2307.7" r="2.05" fill="#f3281c"/>
<circle cx="342.7" cy="2313.6" r="2.05" fill="#f3281c"/>
<circle cx="458.6" cy="2230.6" r="2.05" fill="#f3281c"/>
<circle cx="456.5" cy="2238.6" r="2.05" fill="#f3281c"/>
<circle cx="465.2" cy="2237.5" r="2.05" fill="#f3281c"/>
<circle cx="488.7" cy="2241.4" r="2.05" fill="#f3281c"/>
<circle cx="496.4" cy="2243.7" r="2.05" fill="#f3281c"/>
<circle cx="533.9" cy="2241.3" r="2.05" fill="#f3281c"/>
<circle cx="470.4" cy="2250.0" r="2.05" fill="#f3281c"/>
<circle cx="474.9" cy="2252.9" r="2.05" fill="#f3281c"/>
<circle cx="437.2" cy="2257.5" r="2.05" fill="#f3281c"/>
<circle cx="437.4" cy="2262.1" r="2.05" fill="#f3281c"/>
<circle cx="458.6" cy="2262.1" r="2.05" fill="#f3281c"/>
<circle cx="470.4" cy="2260.5" r="2.05" fill="#f3281c"/>
<circle cx="538.0" cy="2272.0" r="2.05" fill="#f3281c"/>
<circle cx="521.5" cy="2275.1" r="2.05" fill="#f3281c"/>
<circle cx="473.9" cy="2279.1" r="2.05" fill="#f3281c"/>
<circle cx="462.5" cy="2283.5" r="2.05" fill="#f3281c"/>
<circle cx="489.8" cy="2285.8" r="2.05" fill="#f3281c"/>
<circle cx="456.6" cy="2292.1" r="2.05" fill="#f3281c"/>
<circle cx="522.5" cy="2291.2" r="2.05" fill="#f3281c"/>
<circle cx="464.5" cy="2306.3" r="2.05" fill="#f3281c"/>
<circle cx="508.4" cy="2308.0" r="2.05" fill="#f3281c"/>
<circle cx="515.1" cy="2319.3" r="2.05" fill="#f3281c"/>
<line x1="184" y1="2370.8" x2="670.5" y2="2144" stroke="#1f6fe6" stroke-width="2.3"/>
<rect x="757.9" y="2007.4" width="143.10000000000002" height="435.5999999999999" fill="#fcfcfc"/>
<line x1="757.9" y1="2437.5" x2="901" y2="2437.5" stroke="#fff" stroke-width="1.4"/>
<line x1="757.9" y1="2375.6" x2="901" y2="2375.6" stroke="#fff" stroke-width="1.4"/>
<line x1="757.9" y1="2313.7" x2="901" y2="2313.7" stroke="#fff" stroke-width="1.4"/>
<line x1="757.9" y1="2251.8" x2="901" y2="2251.8" stroke="#fff" stroke-width="1.4"/>
<line x1="757.9" y1="2189.8" x2="901" y2="2189.8" stroke="#fff" stroke-width="1.4"/>
<line x1="757.9" y1="2127.9" x2="901" y2="2127.9" stroke="#fff" stroke-width="1.4"/>
<line x1="757.9" y1="2066.0" x2="901" y2="2066.0" stroke="#fff" stroke-width="1.4"/>
<line x1="796.2" y1="2007.4" x2="796.2" y2="2443" stroke="#fff" stroke-width="1.4"/>
<line x1="862" y1="2007.4" x2="862" y2="2443" stroke="#fff" stroke-width="1.4"/>
<line x1="755.6999999999999" y1="2127.9" x2="757.9" y2="2127.9" stroke="#888" stroke-width="1"/>
<text x="751.1" y="2133.9" font-size="16.3" text-anchor="end" font-family="'Liberation Sans', Arial, sans-serif" fill="#000" >8</text>
<line x1="755.6999999999999" y1="2251.8" x2="757.9" y2="2251.8" stroke="#888" stroke-width="1"/>
<text x="751.1" y="2257.8" font-size="16.3" text-anchor="end" font-family="'Liberation Sans', Arial, sans-serif" fill="#000" >7</text>
<line x1="755.6999999999999" y1="2375.6" x2="757.9" y2="2375.6" stroke="#888" stroke-width="1"/>
<text x="751.1" y="2381.6" font-size="16.3" text-anchor="end" font-family="'Liberation Sans', Arial, sans-serif" fill="#000" >6</text>
<line x1="796.2" y1="2443" x2="796.2" y2="2445.2" stroke="#888" stroke-width="1"/>
<text x="796.2" y="2463.0" font-size="16" text-anchor="middle" font-family="'Liberation Sans', Arial, sans-serif" fill="#000" >LDep</text>
<line x1="862" y1="2443" x2="862" y2="2445.2" stroke="#888" stroke-width="1"/>
<text x="862.0" y="2463.0" font-size="16" text-anchor="middle" font-family="'Liberation Sans', Arial, sans-serif" fill="#000" >LDom</text>
<polyline points="796.2,2038.1 796.2,2027 862,2027 862,2038.1" fill="none" stroke="#555" stroke-width="1.3"/>
<text x="773" y="1997.4" font-size="19" font-family="'Liberation Sans', Arial, sans-serif">p &lt; 1.1 x 10<tspan font-size="12" dy="-6.5">-7</tspan></text>
<line x1="796.2" y1="2046.4" x2="796.2" y2="2323.5" stroke="#666" stroke-width="1.05"/>
<rect x="771.7" y="2151.3" width="49.0" height="116.5" fill="#fba4a2" stroke="#555" stroke-width="1.05"/>
<line x1="862" y1="2109.7" x2="862" y2="2424.1" stroke="#666" stroke-width="1.05"/>
<rect x="837.5" y="2225.2" width="49.0" height="80.5" fill="#a2d2a2" stroke="#555" stroke-width="1.05"/>
<circle cx="788.1" cy="2316.9" r="1.8" fill="#f3281c"/>
<circle cx="774.5" cy="2306.9" r="1.8" fill="#f3281c"/>
<circle cx="791.9" cy="2303.4" r="1.8" fill="#f3281c"/>
<circle cx="796.3" cy="2298.7" r="1.8" fill="#f3281c"/>
<circle cx="813.8" cy="2296.7" r="1.8" fill="#f3281c"/>
<circle cx="804.6" cy="2291.5" r="1.8" fill="#f3281c"/>
<circle cx="800.1" cy="2290.5" r="1.8" fill="#f3281c"/>
<circle cx="791.4" cy="2286.7" r="1.8" fill="#f3281c"/>
<circle cx="799.9" cy="2286.0" r="1.8" fill="#f3281c"/>
<circle cx="784.9" cy="2282.4" r="1.8" fill="#f3281c"/>
<circle cx="813.4" cy="2280.0" r="1.8" fill="#f3281c"/>
<circle cx="810.6" cy="2279.2" r="1.8" fill="#f3281c"/>
<circle cx="813.1" cy="2277.9" r="1.8" fill="#f3281c"/>
<circle cx="778.8" cy="2275.5" r="1.8" fill="#f3281c"/>
<circle cx="804.8" cy="2273.3" r="1.8" fill="#f3281c"/>
<circle cx="808.9" cy="2272.3" r="1.8" fill="#f3281c"/>
<circle cx="796.2" cy="2270.1" r="1.8" fill="#f3281c"/>
<circle cx="816.1" cy="2269.2" r="1.8" fill="#f3281c"/>
<circle cx="816.1" cy="2266.6" r="1.8" fill="#f3281c"/>
<circle cx="808.3" cy="2263.4" r="1.8" fill="#f3281c"/>
<circle cx="812.2" cy="2261.7" r="1.8" fill="#f3281c"/>
<circle cx="803.6" cy="2258.5" r="1.8" fill="#f3281c"/>
<circle cx="815.1" cy="2257.4" r="1.8" fill="#f3281c"/>
<circle cx="777.8" cy="2253.1" r="1.8" fill="#f3281c"/>
<circle cx="806.4" cy="2252.4" r="1.8" fill="#f3281c"/>
<circle cx="806.4" cy="2247.8" r="1.8" fill="#f3281c"/>
<circle cx="801.8" cy="2245.1" r="1.8" fill="#f3281c"/>
<circle cx="785.0" cy="2242.7" r="1.8" fill="#f3281c"/>
<circle cx="774.6" cy="2241.3" r="1.8" fill="#f3281c"/>
<circle cx="801.4" cy="2239.3" r="1.8" fill="#f3281c"/>
<circle cx="812.4" cy="2236.7" r="1.8" fill="#f3281c"/>
<circle cx="784.9" cy="2233.1" r="1.8" fill="#f3281c"/>
<circle cx="781.9" cy="2231.2" r="1.8" fill="#f3281c"/>
<circle cx="782.4" cy="2227.6" r="1.8" fill="#f3281c"/>
<circle cx="775.9" cy="2227.2" r="1.8" fill="#f3281c"/>
<circle cx="805.0" cy="2223.7" r="1.8" fill="#f3281c"/>
<circle cx="819.9" cy="2219.0" r="1.8" fill="#f3281c"/>
<circle cx="811.3" cy="2216.1" r="1.8" fill="#f3281c"/>
<circle cx="789.2" cy="2212.4" r="1.8" fill="#f3281c"/>
<circle cx="806.2" cy="2210.2" r="1.8" fill="#f3281c"/>
<circle cx="774.8" cy="2206.0" r="1.8" fill="#f3281c"/>
<circle cx="813.1" cy="2201.6" r="1.8" fill="#f3281c"/>
<circle cx="787.5" cy="2195.2" r="1.8" fill="#f3281c"/>
<circle cx="771.4" cy="2191.4" r="1.8" fill="#f3281c"/>
<circle cx="802.7" cy="2189.9" r="1.8" fill="#f3281c"/>
<circle cx="778.1" cy="2183.2" r="1.8" fill="#f3281c"/>
<circle cx="785.0" cy="2182.8" r="1.8" fill="#f3281c"/>
<circle cx="774.2" cy="2176.6" r="1.8" fill="#f3281c"/>
<circle cx="793.5" cy="2171.2" r="1.8" fill="#f3281c"/>
<circle cx="798.9" cy="2169.7" r="1.8" fill="#f3281c"/>
<circle cx="811.6" cy="2163.4" r="1.8" fill="#f3281c"/>
<circle cx="773.2" cy="2160.6" r="1.8" fill="#f3281c"/>
<circle cx="812.6" cy="2159.0" r="1.8" fill="#f3281c"/>
<circle cx="776.7" cy="2153.9" r="1.8" fill="#f3281c"/>
<circle cx="782.4" cy="2150.0" r="1.8" fill="#f3281c"/>
<circle cx="802.7" cy="2147.6" r="1.8" fill="#f3281c"/>
<circle cx="788.2" cy="2143.0" r="1.8" fill="#f3281c"/>
<circle cx="787.8" cy="2141.6" r="1.8" fill="#f3281c"/>
<circle cx="799.6" cy="2136.3" r="1.8" fill="#f3281c"/>
<circle cx="782.1" cy="2134.5" r="1.8" fill="#f3281c"/>
<circle cx="810.9" cy="2131.8" r="1.8" fill="#f3281c"/>
<circle cx="781.7" cy="2126.3" r="1.8" fill="#f3281c"/>
<circle cx="813.2" cy="2124.2" r="1.8" fill="#f3281c"/>
<circle cx="811.6" cy="2118.3" r="1.8" fill="#f3281c"/>
<circle cx="798.1" cy="2112.8" r="1.8" fill="#f3281c"/>
<circle cx="772.7" cy="2109.0" r="1.8" fill="#f3281c"/>
<circle cx="810.1" cy="2104.7" r="1.8" fill="#f3281c"/>
<circle cx="772.6" cy="2101.6" r="1.8" fill="#f3281c"/>
<circle cx="796.4" cy="2092.7" r="1.8" fill="#f3281c"/>
<circle cx="792.4" cy="2088.6" r="1.8" fill="#f3281c"/>
<circle cx="774.4" cy="2075.3" r="1.8" fill="#f3281c"/>
<circle cx="802.7" cy="2069.7" r="1.8" fill="#f3281c"/>
<circle cx="807.4" cy="2058.0" r="1.8" fill="#f3281c"/>
<circle cx="800.4" cy="2070.0" r="1.8" fill="#f3281c"/>
<circle cx="791.2" cy="2090.0" r="1.8" fill="#f3281c"/>
<circle cx="796.8" cy="2046.4" r="1.8" fill="#f3281c"/>
<circle cx="800.6" cy="2323.5" r="1.8" fill="#f3281c"/>
<circle cx="848.3" cy="2413.5" r="1.8" fill="#0e8c18"/>
<circle cx="880.4" cy="2408.5" r="1.8" fill="#0e8c18"/>
<circle cx="886.8" cy="2403.7" r="1.8" fill="#0e8c18"/>
<circle cx="877.2" cy="2398.9" r="1.8" fill="#0e8c18"/>
<circle cx="885.1" cy="2397.3" r="1.8" fill="#0e8c18"/>
<circle cx="853.5" cy="2394.2" r="1.8" fill="#0e8c18"/>
<circle cx="886.3" cy="2389.6" r="1.8" fill="#0e8c18"/>
<circle cx="840.6" cy="2388.6" r="1.8" fill="#0e8c18"/>
<circle cx="860.9" cy="2385.2" r="1.8" fill="#0e8c18"/>
<circle cx="843.7" cy="2383.0" r="1.8" fill="#0e8c18"/>
<circle cx="859.7" cy="2381.8" r="1.8" fill="#0e8c18"/>
<circle cx="871.1" cy="2380.4" r="1.8" fill="#0e8c18"/>
<circle cx="872.4" cy="2378.6" r="1.8" fill="#0e8c18"/>
<circle cx="859.7" cy="2375.4" r="1.8" fill="#0e8c18"/>
<circle cx="854.1" cy="2375.0" r="1.8" fill="#0e8c18"/>
<circle cx="846.5" cy="2372.7" r="1.8" fill="#0e8c18"/>
<circle cx="857.1" cy="2371.0" r="1.8" fill="#0e8c18"/>
<circle cx="851.1" cy="2370.1" r="1.8" fill="#0e8c18"/>
<circle cx="846.7" cy="2368.0" r="1.8" fill="#0e8c18"/>
<circle cx="873.8" cy="2366.9" r="1.8" fill="#0e8c18"/>
<circle cx="862.8" cy="2364.9" r="1.8" fill="#0e8c18"/>
<circle cx="858.9" cy="2363.6" r="1.8" fill="#0e8c18"/>
<circle cx="846.9" cy="2362.4" r="1.8" fill="#0e8c18"/>
<circle cx="872.2" cy="2361.2" r="1.8" fill="#0e8c18"/>
<circle cx="846.8" cy="2359.6" r="1.8" fill="#0e8c18"/>
<circle cx="850.3" cy="2358.6" r="1.8" fill="#0e8c18"/>
<circle cx="865.0" cy="2357.4" r="1.8" fill="#0e8c18"/>
<circle cx="872.1" cy="2356.0" r="1.8" fill="#0e8c18"/>
<circle cx="885.6" cy="2354.0" r="1.8" fill="#0e8c18"/>
<circle cx="874.4" cy="2353.2" r="1.8" fill="#0e8c18"/>
<circle cx="884.4" cy="2351.6" r="1.8" fill="#0e8c18"/>
<circle cx="883.0" cy="2351.4" r="1.8" fill="#0e8c18"/>
<circle cx="873.1" cy="2349.2" r="1.8" fill="#0e8c18"/>
<circle cx="873.0" cy="2348.6" r="1.8" fill="#0e8c18"/>
<circle cx="840.1" cy="2347.2" r="1.8" fill="#0e8c18"/>
<circle cx="847.3" cy="2346.3" r="1.8" fill="#0e8c18"/>
<circle cx="837.7" cy="2345.1" r="1.8" fill="#0e8c18"/>
<circle cx="880.2" cy="2344.5" r="1.8" fill="#0e8c18"/>
<circle cx="873.1" cy="2342.9" r="1.8" fill="#0e8c18"/>
<circle cx="868.5" cy="2342.5" r="1.8" fill="#0e8c18"/>
<circle cx="850.2" cy="2341.3" r="1.8" fill="#0e8c18"/>
<circle cx="854.8" cy="2340.6" r="1.8" fill="#0e8c18"/>
<circle cx="845.2" cy="2339.2" r="1.8" fill="#0e8c18"/>
<circle cx="868.6" cy="2338.1" r="1.8" fill="#0e8c18"/>
<circle cx="886.6" cy="2337.3" r="1.8" fill="#0e8c18"/>
<circle cx="852.3" cy="2335.8" r="1.8" fill="#0e8c18"/>
<circle cx="839.2" cy="2335.6" r="1.8" fill="#0e8c18"/>
<circle cx="845.8" cy="2334.2" r="1.8" fill="#0e8c18"/>
<circle cx="854.8" cy="2333.5" r="1.8" fill="#0e8c18"/>
<circle cx="881.9" cy="2332.3" r="1.8" fill="#0e8c18"/>
<circle cx="877.2" cy="2331.2" r="1.8" fill="#0e8c18"/>
<circle cx="859.8" cy="2330.3" r="1.8" fill="#0e8c18"/>
<circle cx="842.1" cy="2330.0" r="1.8" fill="#0e8c18"/>
<circle cx="842.3" cy="2329.0" r="1.8" fill="#0e8c18"/>
<circle cx="844.7" cy="2327.8" r="1.8" fill="#0e8c18"/>
<circle cx="875.9" cy="2326.5" r="1.8" fill="#0e8c18"/>
<circle cx="860.6" cy="2326.5" r="1.8" fill="#0e8c18"/>
<circle cx="886.5" cy="2325.1" r="1.8" fill="#0e8c18"/>
<circle cx="882.6" cy="2324.2" r="1.8" fill="#0e8c18"/>
<circle cx="876.7" cy="2323.3" r="1.8" fill="#0e8c18"/>
<circle cx="860.8" cy="2322.8" r="1.8" fill="#0e8c18"/>
<circle cx="878.1" cy="2321.6" r="1.8" fill="#0e8c18"/>
<circle cx="843.4" cy="2321.1" r="1.8" fill="#0e8c18"/>
<circle cx="842.5" cy="2319.9" r="1.8" fill="#0e8c18"/>
<circle cx="865.2" cy="2319.8" r="1.8" fill="#0e8c18"/>
<circle cx="862.4" cy="2318.2" r="1.8" fill="#0e8c18"/>
<circle cx="847.5" cy="2317.9" r="1.8" fill="#0e8c18"/>
<circle cx="849.6" cy="2317.1" r="1.8" fill="#0e8c18"/>
<circle cx="838.1" cy="2316.5" r="1.8" fill="#0e8c18"/>
<circle cx="882.4" cy="2315.6" r="1.8" fill="#0e8c18"/>
<circle cx="872.5" cy="2314.5" r="1.8" fill="#0e8c18"/>
<circle cx="884.3" cy="2313.7" r="1.8" fill="#0e8c18"/>
<circle cx="886.0" cy="2313.4" r="1.8" fill="#0e8c18"/>
<circle cx="858.8" cy="2312.5" r="1.8" fill="#0e8c18"/>
<circle cx="873.6" cy="2311.9" r="1.8" fill="#0e8c18"/>
<circle cx="856.2" cy="2311.1" r="1.8" fill="#0e8c18"/>
<circle cx="877.6" cy="2310.3" r="1.8" fill="#0e8c18"/>
<circle cx="879.1" cy="2309.5" r="1.8" fill="#0e8c18"/>
<circle cx="843.7" cy="2308.3" r="1.8" fill="#0e8c18"/>
<circle cx="837.7" cy="2307.5" r="1.8" fill="#0e8c18"/>
<circle cx="847.7" cy="2306.9" r="1.8" fill="#0e8c18"/>
<circle cx="866.3" cy="2306.4" r="1.8" fill="#0e8c18"/>
<circle cx="855.9" cy="2305.7" r="1.8" fill="#0e8c18"/>
<circle cx="837.5" cy="2305.2" r="1.8" fill="#0e8c18"/>
<circle cx="878.5" cy="2304.7" r="1.8" fill="#0e8c18"/>
<circle cx="876.3" cy="2304.3" r="1.8" fill="#0e8c18"/>
<circle cx="860.2" cy="2304.0" r="1.8" fill="#0e8c18"/>
<circle cx="839.2" cy="2303.7" r="1.8" fill="#0e8c18"/>
<circle cx="881.4" cy="2303.1" r="1.8" fill="#0e8c18"/>
<circle cx="863.7" cy="2302.6" r="1.8" fill="#0e8c18"/>
<circle cx="840.6" cy="2302.2" r="1.8" fill="#0e8c18"/>
<circle cx="853.2" cy="2302.1" r="1.8" fill="#0e8c18"/>
<circle cx="868.2" cy="2301.4" r="1.8" fill="#0e8c18"/>
<circle cx="881.3" cy="2301.1" r="1.8" fill="#0e8c18"/>
<circle cx="861.2" cy="2300.8" r="1.8" fill="#0e8c18"/>
<circle cx="869.0" cy="2300.0" r="1.8" fill="#0e8c18"/>
<circle cx="847.3" cy="2299.7" r="1.8" fill="#0e8c18"/>
<circle cx="849.2" cy="2299.3" r="1.8" fill="#0e8c18"/>
<circle cx="882.3" cy="2299.1" r="1.8" fill="#0e8c18"/>
<circle cx="856.1" cy="2298.4" r="1.8" fill="#0e8c18"/>
<circle cx="842.2" cy="2297.9" r="1.8" fill="#0e8c18"/>
<circle cx="866.6" cy="2297.5" r="1.8" fill="#0e8c18"/>
<circle cx="843.3" cy="2297.2" r="1.8" fill="#0e8c18"/>
<circle cx="847.0" cy="2296.7" r="1.8" fill="#0e8c18"/>
<circle cx="859.8" cy="2296.3" r="1.8" fill="#0e8c18"/>
<circle cx="866.3" cy="2296.0" r="1.8" fill="#0e8c18"/>
<circle cx="868.8" cy="2295.6" r="1.8" fill="#0e8c18"/>
<circle cx="872.3" cy="2295.0" r="1.8" fill="#0e8c18"/>
<circle cx="859.0" cy="2294.6" r="1.8" fill="#0e8c18"/>
<circle cx="840.4" cy="2294.2" r="1.8" fill="#0e8c18"/>
<circle cx="873.2" cy="2294.0" r="1.8" fill="#0e8c18"/>
<circle cx="839.7" cy="2293.3" r="1.8" fill="#0e8c18"/>
<circle cx="860.5" cy="2293.0" r="1.8" fill="#0e8c18"/>
<circle cx="857.0" cy="2292.4" r="1.8" fill="#0e8c18"/>
<circle cx="870.6" cy="2292.4" r="1.8" fill="#0e8c18"/>
<circle cx="872.7" cy="2291.6" r="1.8" fill="#0e8c18"/>
<circle cx="849.0" cy="2291.2" r="1.8" fill="#0e8c18"/>
<circle cx="869.5" cy="2291.0" r="1.8" fill="#0e8c18"/>
<circle cx="871.6" cy="2290.4" r="1.8" fill="#0e8c18"/>
<circle cx="860.6" cy="2290.2" r="1.8" fill="#0e8c18"/>
<circle cx="844.1" cy="2289.8" r="1.8" fill="#0e8c18"/>
<circle cx="882.4" cy="2289.3" r="1.8" fill="#0e8c18"/>
<circle cx="867.0" cy="2288.9" r="1.8" fill="#0e8c18"/>
<circle cx="840.1" cy="2288.4" r="1.8" fill="#0e8c18"/>
<circle cx="848.9" cy="2287.8" r="1.8" fill="#0e8c18"/>
<circle cx="886.3" cy="2287.5" r="1.8" fill="#0e8c18"/>
<circle cx="848.4" cy="2287.1" r="1.8" fill="#0e8c18"/>
<circle cx="856.6" cy="2286.8" r="1.8" fill="#0e8c18"/>
<circle cx="876.4" cy="2286.2" r="1.8" fill="#0e8c18"/>
<circle cx="878.2" cy="2285.8" r="1.8" fill="#0e8c18"/>
<circle cx="868.7" cy="2285.4" r="1.8" fill="#0e8c18"/>
<circle cx="874.1" cy="2284.8" r="1.8" fill="#0e8c18"/>
<circle cx="838.9" cy="2284.5" r="1.8" fill="#0e8c18"/>
<circle cx="841.7" cy="2284.2" r="1.8" fill="#0e8c18"/>
<circle cx="885.8" cy="2283.9" r="1.8" fill="#0e8c18"/>
<circle cx="877.1" cy="2283.3" r="1.8" fill="#0e8c18"/>
<circle cx="838.9" cy="2282.8" r="1.8" fill="#0e8c18"/>
<circle cx="839.4" cy="2282.6" r="1.8" fill="#0e8c18"/>
<circle cx="849.0" cy="2282.0" r="1.8" fill="#0e8c18"/>
<circle cx="883.5" cy="2281.5" r="1.8" fill="#0e8c18"/>
<circle cx="848.0" cy="2281.1" r="1.8" fill="#0e8c18"/>
<circle cx="870.6" cy="2281.0" r="1.8" fill="#0e8c18"/>
<circle cx="883.5" cy="2280.4" r="1.8" fill="#0e8c18"/>
<circle cx="868.9" cy="2280.2" r="1.8" fill="#0e8c18"/>
<circle cx="883.0" cy="2279.7" r="1.8" fill="#0e8c18"/>
<circle cx="850.2" cy="2279.0" r="1.8" fill="#0e8c18"/>
<circle cx="844.7" cy="2278.7" r="1.8" fill="#0e8c18"/>
<circle cx="837.9" cy="2278.2" r="1.8" fill="#0e8c18"/>
<circle cx="874.9" cy="2277.9" r="1.8" fill="#0e8c18"/>
<circle cx="842.2" cy="2277.5" r="1.8" fill="#0e8c18"/>
<circle cx="885.6" cy="2277.1" r="1.8" fill="#0e8c18"/>
<circle cx="872.5" cy="2276.7" r="1.8" fill="#0e8c18"/>
<circle cx="846.4" cy="2276.0" r="1.8" fill="#0e8c18"/>
<circle cx="877.3" cy="2275.7" r="1.8" fill="#0e8c18"/>
<circle cx="845.1" cy="2275.4" r="1.8" fill="#0e8c18"/>
<circle cx="862.6" cy="2275.1" r="1.8" fill="#0e8c18"/>
<circle cx="842.3" cy="2274.6" r="1.8" fill="#0e8c18"/>
<circle cx="876.3" cy="2274.0" r="1.8" fill="#0e8c18"/>
<circle cx="881.5" cy="2273.7" r="1.8" fill="#0e8c18"/>
<circle cx="882.8" cy="2273.2" r="1.8" fill="#0e8c18"/>
<circle cx="837.1" cy="2272.7" r="1.8" fill="#0e8c18"/>
<circle cx="879.6" cy="2272.5" r="1.8" fill="#0e8c18"/>
<circle cx="864.8" cy="2271.9" r="1.8" fill="#0e8c18"/>
<circle cx="878.1" cy="2271.7" r="1.8" fill="#0e8c18"/>
<circle cx="862.1" cy="2271.0" r="1.8" fill="#0e8c18"/>
<circle cx="868.0" cy="2270.8" r="1.8" fill="#0e8c18"/>
<circle cx="866.7" cy="2270.2" r="1.8" fill="#0e8c18"/>
<circle cx="877.0" cy="2269.3" r="1.8" fill="#0e8c18"/>
<circle cx="840.9" cy="2269.0" r="1.8" fill="#0e8c18"/>
<circle cx="839.7" cy="2268.6" r="1.8" fill="#0e8c18"/>
<circle cx="864.3" cy="2267.6" r="1.8" fill="#0e8c18"/>
<circle cx="851.6" cy="2267.2" r="1.8" fill="#0e8c18"/>
<circle cx="856.9" cy="2266.5" r="1.8" fill="#0e8c18"/>
<circle cx="837.4" cy="2266.3" r="1.8" fill="#0e8c18"/>
<circle cx="874.2" cy="2265.6" r="1.8" fill="#0e8c18"/>
<circle cx="838.2" cy="2264.8" r="1.8" fill="#0e8c18"/>
<circle cx="878.5" cy="2264.5" r="1.8" fill="#0e8c18"/>
<circle cx="877.6" cy="2263.7" r="1.8" fill="#0e8c18"/>
<circle cx="859.9" cy="2263.6" r="1.8" fill="#0e8c18"/>
<circle cx="843.1" cy="2262.7" r="1.8" fill="#0e8c18"/>
<circle cx="869.5" cy="2262.5" r="1.8" fill="#0e8c18"/>
<circle cx="847.4" cy="2261.7" r="1.8" fill="#0e8c18"/>
<circle cx="858.5" cy="2261.5" r="1.8" fill="#0e8c18"/>
<circle cx="842.5" cy="2260.8" r="1.8" fill="#0e8c18"/>
<circle cx="885.8" cy="2259.9" r="1.8" fill="#0e8c18"/>
<circle cx="864.3" cy="2259.6" r="1.8" fill="#0e8c18"/>
<circle cx="854.6" cy="2258.8" r="1.8" fill="#0e8c18"/>
<circle cx="841.7" cy="2258.6" r="1.8" fill="#0e8c18"/>
<circle cx="873.5" cy="2258.0" r="1.8" fill="#0e8c18"/>
<circle cx="879.5" cy="2257.5" r="1.8" fill="#0e8c18"/>
<circle cx="879.4" cy="2256.7" r="1.8" fill="#0e8c18"/>
<circle cx="842.1" cy="2256.0" r="1.8" fill="#0e8c18"/>
<circle cx="855.4" cy="2255.7" r="1.8" fill="#0e8c18"/>
<circle cx="852.1" cy="2255.2" r="1.8" fill="#0e8c18"/>
<circle cx="875.1" cy="2254.3" r="1.8" fill="#0e8c18"/>
<circle cx="844.4" cy="2253.8" r="1.8" fill="#0e8c18"/>
<circle cx="867.3" cy="2253.4" r="1.8" fill="#0e8c18"/>
<circle cx="885.9" cy="2253.1" r="1.8" fill="#0e8c18"/>
<circle cx="875.4" cy="2252.3" r="1.8" fill="#0e8c18"/>
<circle cx="837.4" cy="2251.8" r="1.8" fill="#0e8c18"/>
<circle cx="840.8" cy="2251.0" r="1.8" fill="#0e8c18"/>
<circle cx="842.7" cy="2250.8" r="1.8" fill="#0e8c18"/>
<circle cx="871.6" cy="2250.0" r="1.8" fill="#0e8c18"/>
<circle cx="866.9" cy="2249.5" r="1.8" fill="#0e8c18"/>
<circle cx="863.0" cy="2249.1" r="1.8" fill="#0e8c18"/>
<circle cx="859.8" cy="2248.5" r="1.8" fill="#0e8c18"/>
<circle cx="857.4" cy="2247.8" r="1.8" fill="#0e8c18"/>
<circle cx="867.5" cy="2247.1" r="1.8" fill="#0e8c18"/>
<circle cx="869.4" cy="2246.8" r="1.8" fill="#0e8c18"/>
<circle cx="882.8" cy="2246.3" r="1.8" fill="#0e8c18"/>
<circle cx="873.6" cy="2245.4" r="1.8" fill="#0e8c18"/>
<circle cx="876.8" cy="2245.4" r="1.8" fill="#0e8c18"/>
<circle cx="882.6" cy="2244.4" r="1.8" fill="#0e8c18"/>
<circle cx="878.9" cy="2243.9" r="1.8" fill="#0e8c18"/>
<circle cx="872.8" cy="2243.4" r="1.8" fill="#0e8c18"/>
<circle cx="838.5" cy="2243.0" r="1.8" fill="#0e8c18"/>
<circle cx="871.0" cy="2242.2" r="1.8" fill="#0e8c18"/>
<circle cx="879.5" cy="2241.6" r="1.8" fill="#0e8c18"/>
<circle cx="858.5" cy="2241.1" r="1.8" fill="#0e8c18"/>
<circle cx="880.9" cy="2240.6" r="1.8" fill="#0e8c18"/>
<circle cx="846.0" cy="2240.4" r="1.8" fill="#0e8c18"/>
<circle cx="884.1" cy="2239.7" r="1.8" fill="#0e8c18"/>
<circle cx="859.1" cy="2239.2" r="1.8" fill="#0e8c18"/>
<circle cx="872.3" cy="2238.2" r="1.8" fill="#0e8c18"/>
<circle cx="849.6" cy="2237.7" r="1.8" fill="#0e8c18"/>
<circle cx="852.0" cy="2237.6" r="1.8" fill="#0e8c18"/>
<circle cx="854.4" cy="2236.8" r="1.8" fill="#0e8c18"/>
<circle cx="853.2" cy="2236.2" r="1.8" fill="#0e8c18"/>
<circle cx="841.7" cy="2236.0" r="1.8" fill="#0e8c18"/>
<circle cx="859.1" cy="2235.2" r="1.8" fill="#0e8c18"/>
<circle cx="886.0" cy="2234.5" r="1.8" fill="#0e8c18"/>
<circle cx="869.7" cy="2234.0" r="1.8" fill="#0e8c18"/>
<circle cx="883.6" cy="2233.6" r="1.8" fill="#0e8c18"/>
<circle cx="875.1" cy="2232.8" r="1.8" fill="#0e8c18"/>
<circle cx="878.8" cy="2232.5" r="1.8" fill="#0e8c18"/>
<circle cx="886.7" cy="2231.8" r="1.8" fill="#0e8c18"/>
<circle cx="874.6" cy="2231.3" r="1.8" fill="#0e8c18"/>
<circle cx="850.7" cy="2230.5" r="1.8" fill="#0e8c18"/>
<circle cx="849.5" cy="2230.1" r="1.8" fill="#0e8c18"/>
<circle cx="857.6" cy="2229.5" r="1.8" fill="#0e8c18"/>
<circle cx="838.1" cy="2229.0" r="1.8" fill="#0e8c18"/>
<circle cx="848.5" cy="2228.6" r="1.8" fill="#0e8c18"/>
<circle cx="881.3" cy="2227.7" r="1.8" fill="#0e8c18"/>
<circle cx="883.0" cy="2227.3" r="1.8" fill="#0e8c18"/>
<circle cx="853.4" cy="2226.8" r="1.8" fill="#0e8c18"/>
<circle cx="875.5" cy="2226.4" r="1.8" fill="#0e8c18"/>
<circle cx="875.7" cy="2225.9" r="1.8" fill="#0e8c18"/>
<circle cx="881.5" cy="2225.1" r="1.8" fill="#0e8c18"/>
<circle cx="876.7" cy="2224.3" r="1.8" fill="#0e8c18"/>
<circle cx="863.6" cy="2223.6" r="1.8" fill="#0e8c18"/>
<circle cx="842.3" cy="2223.2" r="1.8" fill="#0e8c18"/>
<circle cx="878.3" cy="2222.6" r="1.8" fill="#0e8c18"/>
<circle cx="852.7" cy="2221.6" r="1.8" fill="#0e8c18"/>
<circle cx="868.3" cy="2220.7" r="1.8" fill="#0e8c18"/>
<circle cx="855.4" cy="2220.4" r="1.8" fill="#0e8c18"/>
<circle cx="863.9" cy="2219.3" r="1.8" fill="#0e8c18"/>
<circle cx="885.3" cy="2219.0" r="1.8" fill="#0e8c18"/>
<circle cx="845.1" cy="2218.1" r="1.8" fill="#0e8c18"/>
<circle cx="863.5" cy="2217.6" r="1.8" fill="#0e8c18"/>
<circle cx="869.5" cy="2216.6" r="1.8" fill="#0e8c18"/>
<circle cx="863.9" cy="2215.8" r="1.8" fill="#0e8c18"/>
<circle cx="883.9" cy="2214.6" r="1.8" fill="#0e8c18"/>
<circle cx="857.4" cy="2213.8" r="1.8" fill="#0e8c18"/>
<circle cx="882.7" cy="2213.7" r="1.8" fill="#0e8c18"/>
<circle cx="871.5" cy="2212.8" r="1.8" fill="#0e8c18"/>
<circle cx="885.4" cy="2211.5" r="1.8" fill="#0e8c18"/>
<circle cx="841.5" cy="2211.3" r="1.8" fill="#0e8c18"/>
<circle cx="847.6" cy="2210.4" r="1.8" fill="#0e8c18"/>
<circle cx="851.4" cy="2209.5" r="1.8" fill="#0e8c18"/>
<circle cx="882.3" cy="2208.9" r="1.8" fill="#0e8c18"/>
<circle cx="837.7" cy="2208.0" r="1.8" fill="#0e8c18"/>
<circle cx="850.0" cy="2207.1" r="1.8" fill="#0e8c18"/>
<circle cx="872.8" cy="2206.2" r="1.8" fill="#0e8c18"/>
<circle cx="886.5" cy="2204.9" r="1.8" fill="#0e8c18"/>
<circle cx="845.8" cy="2204.7" r="1.8" fill="#0e8c18"/>
<circle cx="858.9" cy="2203.9" r="1.8" fill="#0e8c18"/>
<circle cx="871.3" cy="2202.4" r="1.8" fill="#0e8c18"/>
<circle cx="871.5" cy="2201.9" r="1.8" fill="#0e8c18"/>
<circle cx="874.3" cy="2200.7" r="1.8" fill="#0e8c18"/>
<circle cx="874.7" cy="2200.0" r="1.8" fill="#0e8c18"/>
<circle cx="849.4" cy="2198.9" r="1.8" fill="#0e8c18"/>
<circle cx="849.9" cy="2198.5" r="1.8" fill="#0e8c18"/>
<circle cx="838.4" cy="2197.7" r="1.8" fill="#0e8c18"/>
<circle cx="871.6" cy="2196.2" r="1.8" fill="#0e8c18"/>
<circle cx="847.5" cy="2195.5" r="1.8" fill="#0e8c18"/>
<circle cx="850.0" cy="2194.5" r="1.8" fill="#0e8c18"/>
<circle cx="885.2" cy="2193.4" r="1.8" fill="#0e8c18"/>
<circle cx="869.2" cy="2192.4" r="1.8" fill="#0e8c18"/>
<circle cx="866.6" cy="2191.9" r="1.8" fill="#0e8c18"/>
<circle cx="869.8" cy="2190.8" r="1.8" fill="#0e8c18"/>
<circle cx="866.9" cy="2189.2" r="1.8" fill="#0e8c18"/>
<circle cx="871.7" cy="2188.6" r="1.8" fill="#0e8c18"/>
<circle cx="852.2" cy="2187.8" r="1.8" fill="#0e8c18"/>
<circle cx="840.2" cy="2186.4" r="1.8" fill="#0e8c18"/>
<circle cx="840.4" cy="2185.8" r="1.8" fill="#0e8c18"/>
<circle cx="837.7" cy="2184.1" r="1.8" fill="#0e8c18"/>
<circle cx="855.1" cy="2183.9" r="1.8" fill="#0e8c18"/>
<circle cx="844.1" cy="2181.9" r="1.8" fill="#0e8c18"/>
<circle cx="842.7" cy="2181.1" r="1.8" fill="#0e8c18"/>
<circle cx="861.7" cy="2180.2" r="1.8" fill="#0e8c18"/>
<circle cx="885.5" cy="2178.3" r="1.8" fill="#0e8c18"/>
<circle cx="871.4" cy="2177.9" r="1.8" fill="#0e8c18"/>
<circle cx="850.7" cy="2176.8" r="1.8" fill="#0e8c18"/>
<circle cx="875.5" cy="2175.8" r="1.8" fill="#0e8c18"/>
<circle cx="845.9" cy="2173.9" r="1.8" fill="#0e8c18"/>
<circle cx="842.0" cy="2172.4" r="1.8" fill="#0e8c18"/>
<circle cx="852.2" cy="2171.2" r="1.8" fill="#0e8c18"/>
<circle cx="857.4" cy="2170.2" r="1.8" fill="#0e8c18"/>
<circle cx="871.5" cy="2168.3" r="1.8" fill="#0e8c18"/>
<circle cx="859.2" cy="2167.9" r="1.8" fill="#0e8c18"/>
<circle cx="873.4" cy="2166.2" r="1.8" fill="#0e8c18"/>
<circle cx="841.8" cy="2164.3" r="1.8" fill="#0e8c18"/>
<circle cx="883.6" cy="2162.3" r="1.8" fill="#0e8c18"/>
<circle cx="854.1" cy="2161.2" r="1.8" fill="#0e8c18"/>
<circle cx="878.6" cy="2159.6" r="1.8" fill="#0e8c18"/>
<circle cx="838.5" cy="2157.8" r="1.8" fill="#0e8c18"/>
<circle cx="878.4" cy="2156.7" r="1.8" fill="#0e8c18"/>
<circle cx="848.3" cy="2154.0" r="1.8" fill="#0e8c18"/>
<circle cx="879.7" cy="2152.5" r="1.8" fill="#0e8c18"/>
<circle cx="877.1" cy="2151.4" r="1.8" fill="#0e8c18"/>
<circle cx="870.5" cy="2149.3" r="1.8" fill="#0e8c18"/>
<circle cx="850.9" cy="2146.3" r="1.8" fill="#0e8c18"/>
<circle cx="837.5" cy="2145.0" r="1.8" fill="#0e8c18"/>
<circle cx="846.5" cy="2143.1" r="1.8" fill="#0e8c18"/>
<circle cx="882.2" cy="2138.7" r="1.8" fill="#0e8c18"/>
<circle cx="844.9" cy="2136.8" r="1.8" fill="#0e8c18"/>
<circle cx="870.0" cy="2133.7" r="1.8" fill="#0e8c18"/>
<circle cx="866.3" cy="2129.4" r="1.8" fill="#0e8c18"/>
<circle cx="870.1" cy="2123.5" r="1.8" fill="#0e8c18"/>
<circle cx="846.0" cy="2122.1" r="1.8" fill="#0e8c18"/>
<circle cx="844.2" cy="2080.0" r="1.8" fill="#0e8c18"/>
<circle cx="841.9" cy="2095.0" r="1.8" fill="#0e8c18"/>
<circle cx="886.1" cy="2432.0" r="1.8" fill="#0e8c18"/>
<circle cx="856.2" cy="2109.7" r="1.8" fill="#0e8c18"/>
<circle cx="869.6" cy="2424.1" r="1.8" fill="#0e8c18"/>
<line x1="771.7" y1="2222.4" x2="820.7" y2="2222.4" stroke="#3c3c3c" stroke-width="1.9"/>
<line x1="837.5" y1="2270.9" x2="886.5" y2="2270.9" stroke="#3c3c3c" stroke-width="1.9"/>
<rect x="1036" y="2006.6" width="523.7" height="438.2000000000003" fill="#fcfcfc"/>
<line x1="1061.0" y1="2006.6" x2="1061.0" y2="2444.8" stroke="#fff" stroke-width="1.4"/>
<line x1="1122.6" y1="2006.6" x2="1122.6" y2="2444.8" stroke="#fff" stroke-width="1.4"/>
<line x1="1184.2" y1="2006.6" x2="1184.2" y2="2444.8" stroke="#fff" stroke-width="1.4"/>
<line x1="1245.8" y1="2006.6" x2="1245.8" y2="2444.8" stroke="#fff" stroke-width="1.4"/>
<line x1="1307.4" y1="2006.6" x2="1307.4" y2="2444.8" stroke="#fff" stroke-width="1.4"/>
<line x1="1369.0" y1="2006.6" x2="1369.0" y2="2444.8" stroke="#fff" stroke-width="1.4"/>
<line x1="1430.6" y1="2006.6" x2="1430.6" y2="2444.8" stroke="#fff" stroke-width="1.4"/>
<line x1="1492.2" y1="2006.6" x2="1492.2" y2="2444.8" stroke="#fff" stroke-width="1.4"/>
<line x1="1553.8" y1="2006.6" x2="1553.8" y2="2444.8" stroke="#fff" stroke-width="1.4"/>
<line x1="1036" y1="2425.2" x2="1559.7" y2="2425.2" stroke="#fff" stroke-width="1.4"/>
<line x1="1036" y1="2360.4" x2="1559.7" y2="2360.4" stroke="#fff" stroke-width="1.4"/>
<line x1="1036" y1="2295.6" x2="1559.7" y2="2295.6" stroke="#fff" stroke-width="1.4"/>
<line x1="1036" y1="2230.8" x2="1559.7" y2="2230.8" stroke="#fff" stroke-width="1.4"/>
<line x1="1036" y1="2166.0" x2="1559.7" y2="2166.0" stroke="#fff" stroke-width="1.4"/>
<line x1="1036" y1="2101.2" x2="1559.7" y2="2101.2" stroke="#fff" stroke-width="1.4"/>
<line x1="1036" y1="2036.4" x2="1559.7" y2="2036.4" stroke="#fff" stroke-width="1.4"/>
<line x1="1061.0" y1="2444.8" x2="1061.0" y2="2447.0" stroke="#888" stroke-width="1"/>
<text x="1058.5" y="2468.3" font-size="20" text-anchor="middle" font-family="'Liberation Sans', Arial, sans-serif" fill="#000" >0</text>
<line x1="1184.2" y1="2444.8" x2="1184.2" y2="2447.0" stroke="#888" stroke-width="1"/>
<text x="1181.7" y="2468.3" font-size="20" text-anchor="middle" font-family="'Liberation Sans', Arial, sans-serif" fill="#000" >1</text>
<line x1="1307.4" y1="2444.8" x2="1307.4" y2="2447.0" stroke="#888" stroke-width="1"/>
<text x="1304.9" y="2468.3" font-size="20" text-anchor="middle" font-family="'Liberation Sans', Arial, sans-serif" fill="#000" >2</text>
<line x1="1430.6" y1="2444.8" x2="1430.6" y2="2447.0" stroke="#888" stroke-width="1"/>
<text x="1428.1" y="2468.3" font-size="20" text-anchor="middle" font-family="'Liberation Sans', Arial, sans-serif" fill="#000" >3</text>
<line x1="1553.8" y1="2444.8" x2="1553.8" y2="2447.0" stroke="#888" stroke-width="1"/>
<text x="1551.3" y="2468.3" font-size="20" text-anchor="middle" font-family="'Liberation Sans', Arial, sans-serif" fill="#000" >4</text>
<line x1="1033.8" y1="2101.2" x2="1036" y2="2101.2" stroke="#888" stroke-width="1"/>
<text x="1028.2" y="2107.0" font-size="20" text-anchor="end" font-family="'Liberation Sans', Arial, sans-serif" fill="#000" >1.5</text>
<line x1="1033.8" y1="2230.8" x2="1036" y2="2230.8" stroke="#888" stroke-width="1"/>
<text x="1028.2" y="2236.6" font-size="20" text-anchor="end" font-family="'Liberation Sans', Arial, sans-serif" fill="#000" >1.0</text>
<line x1="1033.8" y1="2360.4" x2="1036" y2="2360.4" stroke="#888" stroke-width="1"/>
<text x="1028.2" y="2366.2" font-size="20" text-anchor="end" font-family="'Liberation Sans', Arial, sans-serif" fill="#000" >0.5</text>
<text x="1321.2" y="2492.4" font-size="19.5" text-anchor="middle" font-family="'Liberation Sans', Arial, sans-serif" fill="#000" >log(MBL+1)</text>
<text x="979" y="2221.6" font-size="19.5" text-anchor="middle" font-family="'Liberation Sans', Arial, sans-serif" transform="rotate(-90 979 2221.6)">predicted log(MBL+1)</text>
<polygon points="1058.5,2342.0 1070.5,2338.5 1082.4,2334.9 1094.4,2331.4 1106.3,2327.7 1118.3,2324.0 1130.2,2320.2 1142.2,2316.2 1154.1,2312.1 1166.1,2307.9 1178.0,2303.4 1190.0,2298.8 1202.0,2294.1 1213.9,2289.3 1225.9,2284.5 1237.8,2279.6 1249.8,2274.6 1261.7,2269.7 1273.7,2264.7 1285.6,2259.7 1297.6,2254.7 1309.6,2249.7 1321.5,2244.6 1333.5,2239.6 1345.4,2234.6 1357.4,2229.5 1369.3,2224.5 1381.3,2219.5 1393.2,2214.4 1405.2,2209.4 1417.2,2204.3 1429.1,2199.2 1441.1,2194.2 1453.0,2189.1 1465.0,2184.1 1476.9,2179.0 1488.9,2174.0 1500.8,2168.9 1512.8,2163.8 1524.7,2158.8 1536.7,2153.7 1536.7,2207.7 1524.7,2211.1 1512.8,2214.5 1500.8,2217.9 1488.9,2221.3 1476.9,2224.7 1465.0,2228.1 1453.0,2231.5 1441.1,2234.9 1429.1,2238.3 1417.2,2241.8 1405.2,2245.2 1393.2,2248.6 1381.3,2252.0 1369.3,2255.4 1357.4,2258.8 1345.4,2262.3 1333.5,2265.7 1321.5,2269.1 1309.6,2272.6 1297.6,2276.0 1285.6,2279.5 1273.7,2282.9 1261.7,2286.4 1249.8,2289.9 1237.8,2293.5 1225.9,2297.0 1213.9,2300.6 1202.0,2304.3 1190.0,2308.1 1178.0,2311.9 1166.1,2316.0 1154.1,2320.1 1142.2,2324.5 1130.2,2329.0 1118.3,2333.7 1106.3,2338.4 1094.4,2343.3 1082.4,2348.1 1070.5,2353.1 1058.5,2358.0" fill="#d6d6d6" fill-opacity="0.42"/>
<circle cx="1080.1" cy="2025.7" r="2.05" fill="#0e8c18"/>
<circle cx="1091.0" cy="2174.1" r="2.05" fill="#0e8c18"/>
<circle cx="1140.4" cy="2189.4" r="2.05" fill="#0e8c18"/>
<circle cx="1219.0" cy="2183.3" r="2.05" fill="#0e8c18"/>
<circle cx="1241.0" cy="2179.3" r="2.05" fill="#0e8c18"/>
<circle cx="1083.1" cy="2197.6" r="2.05" fill="#0e8c18"/>
<circle cx="1168.9" cy="2196.4" r="2.05" fill="#0e8c18"/>
<circle cx="1080.1" cy="2216.2" r="2.05" fill="#0e8c18"/>
<circle cx="1082.1" cy="2223.6" r="2.05" fill="#0e8c18"/>
<circle cx="1210.3" cy="2213.5" r="2.05" fill="#0e8c18"/>
<circle cx="1287.8" cy="2216.3" r="2.05" fill="#0e8c18"/>
<circle cx="1497.4" cy="2147.3" r="2.05" fill="#0e8c18"/>
<circle cx="1483.7" cy="2155.0" r="2.05" fill="#0e8c18"/>
<circle cx="1478.1" cy="2163.7" r="2.05" fill="#0e8c18"/>
<circle cx="1366.6" cy="2214.0" r="2.05" fill="#0e8c18"/>
<circle cx="1411.3" cy="2221.7" r="2.05" fill="#0e8c18"/>
<circle cx="1068.3" cy="2230.9" r="2.05" fill="#0e8c18"/>
<circle cx="1077.8" cy="2240.6" r="2.05" fill="#0e8c18"/>
<circle cx="1078.2" cy="2241.9" r="2.05" fill="#0e8c18"/>
<circle cx="1107.6" cy="2243.4" r="2.05" fill="#0e8c18"/>
<circle cx="1132.5" cy="2242.3" r="2.05" fill="#0e8c18"/>
<circle cx="1175.1" cy="2230.4" r="2.05" fill="#0e8c18"/>
<circle cx="1182.0" cy="2234.0" r="2.05" fill="#0e8c18"/>
<circle cx="1243.3" cy="2236.2" r="2.05" fill="#0e8c18"/>
<circle cx="1062.5" cy="2245.5" r="2.05" fill="#0e8c18"/>
<circle cx="1092.0" cy="2249.5" r="2.05" fill="#0e8c18"/>
<circle cx="1119.2" cy="2253.1" r="2.05" fill="#0e8c18"/>
<circle cx="1125.8" cy="2249.5" r="2.05" fill="#0e8c18"/>
<circle cx="1156.7" cy="2250.8" r="2.05" fill="#0e8c18"/>
<circle cx="1171.2" cy="2252.1" r="2.05" fill="#0e8c18"/>
<circle cx="1210.4" cy="2252.9" r="2.05" fill="#0e8c18"/>
<circle cx="1237.9" cy="2246.4" r="2.05" fill="#0e8c18"/>
<circle cx="1060.1" cy="2264.9" r="2.05" fill="#0e8c18"/>
<circle cx="1088.8" cy="2266.9" r="2.05" fill="#0e8c18"/>
<circle cx="1090.1" cy="2265.4" r="2.05" fill="#0e8c18"/>
<circle cx="1110.0" cy="2266.4" r="2.05" fill="#0e8c18"/>
<circle cx="1126.6" cy="2262.1" r="2.05" fill="#0e8c18"/>
<circle cx="1160.0" cy="2261.6" r="2.05" fill="#0e8c18"/>
<circle cx="1167.2" cy="2259.5" r="2.05" fill="#0e8c18"/>
<circle cx="1210.1" cy="2264.8" r="2.05" fill="#0e8c18"/>
<circle cx="1240.4" cy="2259.0" r="2.05" fill="#0e8c18"/>
<circle cx="1070.6" cy="2273.2" r="2.05" fill="#0e8c18"/>
<circle cx="1067.1" cy="2277.3" r="2.05" fill="#0e8c18"/>
<circle cx="1081.4" cy="2272.2" r="2.05" fill="#0e8c18"/>
<circle cx="1091.8" cy="2271.8" r="2.05" fill="#0e8c18"/>
<circle cx="1131.9" cy="2272.2" r="2.05" fill="#0e8c18"/>
<circle cx="1131.4" cy="2277.1" r="2.05" fill="#0e8c18"/>
<circle cx="1150.8" cy="2269.4" r="2.05" fill="#0e8c18"/>
<circle cx="1169.0" cy="2273.8" r="2.05" fill="#0e8c18"/>
<circle cx="1215.0" cy="2272.5" r="2.05" fill="#0e8c18"/>
<circle cx="1240.8" cy="2272.2" r="2.05" fill="#0e8c18"/>
<circle cx="1069.4" cy="2283.5" r="2.05" fill="#0e8c18"/>
<circle cx="1062.5" cy="2286.6" r="2.05" fill="#0e8c18"/>
<circle cx="1090.8" cy="2285.5" r="2.05" fill="#0e8c18"/>
<circle cx="1090.8" cy="2287.8" r="2.05" fill="#0e8c18"/>
<circle cx="1108.9" cy="2280.9" r="2.05" fill="#0e8c18"/>
<circle cx="1121.5" cy="2279.4" r="2.05" fill="#0e8c18"/>
<circle cx="1123.2" cy="2280.5" r="2.05" fill="#0e8c18"/>
<circle cx="1114.8" cy="2287.0" r="2.05" fill="#0e8c18"/>
<circle cx="1225.6" cy="2281.5" r="2.05" fill="#0e8c18"/>
<circle cx="1068.1" cy="2290.7" r="2.05" fill="#0e8c18"/>
<circle cx="1104.3" cy="2291.1" r="2.05" fill="#0e8c18"/>
<circle cx="1121.5" cy="2292.4" r="2.05" fill="#0e8c18"/>
<circle cx="1143.1" cy="2291.9" r="2.05" fill="#0e8c18"/>
<circle cx="1188.8" cy="2290.9" r="2.05" fill="#0e8c18"/>
<circle cx="1234.6" cy="2287.9" r="2.05" fill="#0e8c18"/>
<circle cx="1265.2" cy="2291.1" r="2.05" fill="#0e8c18"/>
<circle cx="1060.1" cy="2300.3" r="2.05" fill="#0e8c18"/>
<circle cx="1093.1" cy="2294.2" r="2.05" fill="#0e8c18"/>
<circle cx="1093.8" cy="2298.3" r="2.05" fill="#0e8c18"/>
<circle cx="1126.6" cy="2300.4" r="2.05" fill="#0e8c18"/>
<circle cx="1121.4" cy="2302.4" r="2.05" fill="#0e8c18"/>
<circle cx="1142.2" cy="2300.1" r="2.05" fill="#0e8c18"/>
<circle cx="1171.3" cy="2297.5" r="2.05" fill="#0e8c18"/>
<circle cx="1201.4" cy="2300.3" r="2.05" fill="#0e8c18"/>
<circle cx="1280.5" cy="2298.3" r="2.05" fill="#0e8c18"/>
<circle cx="1062.5" cy="2308.6" r="2.05" fill="#0e8c18"/>
<circle cx="1063.7" cy="2312.9" r="2.05" fill="#0e8c18"/>
<circle cx="1082.1" cy="2307.3" r="2.05" fill="#0e8c18"/>
<circle cx="1087.2" cy="2307.0" r="2.05" fill="#0e8c18"/>
<circle cx="1100.3" cy="2309.6" r="2.05" fill="#0e8c18"/>
<circle cx="1099.0" cy="2311.6" r="2.05" fill="#0e8c18"/>
<circle cx="1095.2" cy="2314.9" r="2.05" fill="#0e8c18"/>
<circle cx="1090.1" cy="2316.4" r="2.05" fill="#0e8c18"/>
<circle cx="1116.9" cy="2307.3" r="2.05" fill="#0e8c18"/>
<circle cx="1121.5" cy="2308.3" r="2.05" fill="#0e8c18"/>
<circle cx="1229.0" cy="2308.6" r="2.05" fill="#0e8c18"/>
<circle cx="1234.4" cy="2310.9" r="2.05" fill="#0e8c18"/>
<circle cx="1060.1" cy="2318.7" r="2.05" fill="#0e8c18"/>
<circle cx="1061.7" cy="2320.8" r="2.05" fill="#0e8c18"/>
<circle cx="1065.8" cy="2317.0" r="2.05" fill="#0e8c18"/>
<circle cx="1073.1" cy="2320.6" r="2.05" fill="#0e8c18"/>
<circle cx="1074.7" cy="2316.4" r="2.05" fill="#0e8c18"/>
<circle cx="1068.0" cy="2323.1" r="2.05" fill="#0e8c18"/>
<circle cx="1060.4" cy="2322.0" r="2.05" fill="#0e8c18"/>
<circle cx="1073.9" cy="2326.7" r="2.05" fill="#0e8c18"/>
<circle cx="1084.1" cy="2324.3" r="2.05" fill="#0e8c18"/>
<circle cx="1089.0" cy="2326.7" r="2.05" fill="#0e8c18"/>
<circle cx="1090.3" cy="2330.3" r="2.05" fill="#0e8c18"/>
<circle cx="1092.9" cy="2332.1" r="2.05" fill="#0e8c18"/>
<circle cx="1138.5" cy="2317.9" r="2.05" fill="#0e8c18"/>
<circle cx="1152.9" cy="2321.8" r="2.05" fill="#0e8c18"/>
<circle cx="1138.5" cy="2326.6" r="2.05" fill="#0e8c18"/>
<circle cx="1180.4" cy="2322.3" r="2.05" fill="#0e8c18"/>
<circle cx="1159.8" cy="2328.0" r="2.05" fill="#0e8c18"/>
<circle cx="1201.9" cy="2325.2" r="2.05" fill="#0e8c18"/>
<circle cx="1291.1" cy="2327.7" r="2.05" fill="#0e8c18"/>
<circle cx="1060.1" cy="2333.5" r="2.05" fill="#0e8c18"/>
<circle cx="1062.5" cy="2335.9" r="2.05" fill="#0e8c18"/>
<circle cx="1060.1" cy="2338.7" r="2.05" fill="#0e8c18"/>
<circle cx="1060.1" cy="2341.7" r="2.05" fill="#0e8c18"/>
<circle cx="1084.2" cy="2333.8" r="2.05" fill="#0e8c18"/>
<circle cx="1089.0" cy="2337.2" r="2.05" fill="#0e8c18"/>
<circle cx="1097.9" cy="2334.8" r="2.05" fill="#0e8c18"/>
<circle cx="1087.0" cy="2344.0" r="2.05" fill="#0e8c18"/>
<circle cx="1105.8" cy="2341.8" r="2.05" fill="#0e8c18"/>
<circle cx="1108.6" cy="2343.0" r="2.05" fill="#0e8c18"/>
<circle cx="1107.7" cy="2349.4" r="2.05" fill="#0e8c18"/>
<circle cx="1116.3" cy="2346.0" r="2.05" fill="#0e8c18"/>
<circle cx="1128.6" cy="2339.4" r="2.05" fill="#0e8c18"/>
<circle cx="1126.6" cy="2345.3" r="2.05" fill="#0e8c18"/>
<circle cx="1135.5" cy="2342.3" r="2.05" fill="#0e8c18"/>
<circle cx="1144.5" cy="2342.5" r="2.05" fill="#0e8c18"/>
<circle cx="1148.3" cy="2335.4" r="2.05" fill="#0e8c18"/>
<circle cx="1147.5" cy="2340.0" r="2.05" fill="#0e8c18"/>
<circle cx="1156.4" cy="2342.2" r="2.05" fill="#0e8c18"/>
<circle cx="1163.8" cy="2341.7" r="2.05" fill="#0e8c18"/>
<circle cx="1263.9" cy="2342.0" r="2.05" fill="#0e8c18"/>
<circle cx="1062.5" cy="2350.7" r="2.05" fill="#0e8c18"/>
<circle cx="1066.0" cy="2349.9" r="2.05" fill="#0e8c18"/>
<circle cx="1068.1" cy="2353.8" r="2.05" fill="#0e8c18"/>
<circle cx="1073.5" cy="2355.2" r="2.05" fill="#0e8c18"/>
<circle cx="1076.5" cy="2355.2" r="2.05" fill="#0e8c18"/>
<circle cx="1082.3" cy="2356.0" r="2.05" fill="#0e8c18"/>
<circle cx="1087.2" cy="2354.2" r="2.05" fill="#0e8c18"/>
<circle cx="1087.4" cy="2357.3" r="2.05" fill="#0e8c18"/>
<circle cx="1093.3" cy="2356.5" r="2.05" fill="#0e8c18"/>
<circle cx="1095.6" cy="2356.0" r="2.05" fill="#0e8c18"/>
<circle cx="1099.5" cy="2357.3" r="2.05" fill="#0e8c18"/>
<circle cx="1102.5" cy="2359.4" r="2.05" fill="#0e8c18"/>
<circle cx="1114.0" cy="2353.8" r="2.05" fill="#0e8c18"/>
<circle cx="1125.0" cy="2350.9" r="2.05" fill="#0e8c18"/>
<circle cx="1113.8" cy="2358.1" r="2.05" fill="#0e8c18"/>
<circle cx="1161.0" cy="2353.7" r="2.05" fill="#0e8c18"/>
<circle cx="1145.7" cy="2355.2" r="2.05" fill="#0e8c18"/>
<circle cx="1148.3" cy="2354.8" r="2.05" fill="#0e8c18"/>
<circle cx="1197.8" cy="2348.4" r="2.05" fill="#0e8c18"/>
<circle cx="1060.1" cy="2361.7" r="2.05" fill="#0e8c18"/>
<circle cx="1064.5" cy="2360.6" r="2.05" fill="#0e8c18"/>
<circle cx="1068.6" cy="2359.4" r="2.05" fill="#0e8c18"/>
<circle cx="1062.5" cy="2364.4" r="2.05" fill="#0e8c18"/>
<circle cx="1060.1" cy="2366.3" r="2.05" fill="#0e8c18"/>
<circle cx="1064.7" cy="2364.0" r="2.05" fill="#0e8c18"/>
<circle cx="1082.9" cy="2365.0" r="2.05" fill="#0e8c18"/>
<circle cx="1091.1" cy="2362.7" r="2.05" fill="#0e8c18"/>
<circle cx="1092.0" cy="2366.3" r="2.05" fill="#0e8c18"/>
<circle cx="1109.7" cy="2366.3" r="2.05" fill="#0e8c18"/>
<circle cx="1112.3" cy="2363.5" r="2.05" fill="#0e8c18"/>
<circle cx="1117.8" cy="2366.2" r="2.05" fill="#0e8c18"/>
<circle cx="1164.3" cy="2359.8" r="2.05" fill="#0e8c18"/>
<circle cx="1166.1" cy="2361.1" r="2.05" fill="#0e8c18"/>
<circle cx="1190.1" cy="2360.3" r="2.05" fill="#0e8c18"/>
<circle cx="1060.1" cy="2369.1" r="2.05" fill="#0e8c18"/>
<circle cx="1062.0" cy="2371.8" r="2.05" fill="#0e8c18"/>
<circle cx="1060.1" cy="2374.5" r="2.05" fill="#0e8c18"/>
<circle cx="1062.5" cy="2374.9" r="2.05" fill="#0e8c18"/>
<circle cx="1073.9" cy="2369.9" r="2.05" fill="#0e8c18"/>
<circle cx="1082.3" cy="2369.5" r="2.05" fill="#0e8c18"/>
<circle cx="1088.5" cy="2370.1" r="2.05" fill="#0e8c18"/>
<circle cx="1089.2" cy="2372.1" r="2.05" fill="#0e8c18"/>
<circle cx="1092.9" cy="2372.9" r="2.05" fill="#0e8c18"/>
<circle cx="1097.7" cy="2370.6" r="2.05" fill="#0e8c18"/>
<circle cx="1096.6" cy="2375.4" r="2.05" fill="#0e8c18"/>
<circle cx="1079.5" cy="2374.1" r="2.05" fill="#0e8c18"/>
<circle cx="1083.7" cy="2375.9" r="2.05" fill="#0e8c18"/>
<circle cx="1064.7" cy="2376.2" r="2.05" fill="#0e8c18"/>
<circle cx="1060.1" cy="2377.8" r="2.05" fill="#0e8c18"/>
<circle cx="1069.4" cy="2379.0" r="2.05" fill="#0e8c18"/>
<circle cx="1077.2" cy="2379.6" r="2.05" fill="#0e8c18"/>
<circle cx="1111.8" cy="2376.5" r="2.05" fill="#0e8c18"/>
<circle cx="1127.9" cy="2373.9" r="2.05" fill="#0e8c18"/>
<circle cx="1143.6" cy="2373.9" r="2.05" fill="#0e8c18"/>
<circle cx="1157.4" cy="2372.6" r="2.05" fill="#0e8c18"/>
<circle cx="1175.1" cy="2366.8" r="2.05" fill="#0e8c18"/>
<circle cx="1247.1" cy="2366.3" r="2.05" fill="#0e8c18"/>
<circle cx="1293.4" cy="2370.1" r="2.05" fill="#0e8c18"/>
<circle cx="1060.1" cy="2382.4" r="2.05" fill="#0e8c18"/>
<circle cx="1062.5" cy="2384.4" r="2.05" fill="#0e8c18"/>
<circle cx="1060.1" cy="2386.9" r="2.05" fill="#0e8c18"/>
<circle cx="1063.9" cy="2384.7" r="2.05" fill="#0e8c18"/>
<circle cx="1060.1" cy="2390.0" r="2.05" fill="#0e8c18"/>
<circle cx="1070.6" cy="2387.4" r="2.05" fill="#0e8c18"/>
<circle cx="1075.2" cy="2385.1" r="2.05" fill="#0e8c18"/>
<circle cx="1081.3" cy="2382.9" r="2.05" fill="#0e8c18"/>
<circle cx="1077.7" cy="2390.2" r="2.05" fill="#0e8c18"/>
<circle cx="1080.1" cy="2391.0" r="2.05" fill="#0e8c18"/>
<circle cx="1084.1" cy="2391.0" r="2.05" fill="#0e8c18"/>
<circle cx="1087.0" cy="2390.7" r="2.05" fill="#0e8c18"/>
<circle cx="1092.9" cy="2389.3" r="2.05" fill="#0e8c18"/>
<circle cx="1097.2" cy="2385.2" r="2.05" fill="#0e8c18"/>
<circle cx="1100.3" cy="2386.1" r="2.05" fill="#0e8c18"/>
<circle cx="1105.3" cy="2388.8" r="2.05" fill="#0e8c18"/>
<circle cx="1120.9" cy="2385.2" r="2.05" fill="#0e8c18"/>
<circle cx="1122.4" cy="2389.0" r="2.05" fill="#0e8c18"/>
<circle cx="1129.4" cy="2384.4" r="2.05" fill="#0e8c18"/>
<circle cx="1128.3" cy="2382.1" r="2.05" fill="#0e8c18"/>
<circle cx="1150.8" cy="2385.4" r="2.05" fill="#0e8c18"/>
<circle cx="1183.7" cy="2380.3" r="2.05" fill="#0e8c18"/>
<circle cx="1200.6" cy="2385.2" r="2.05" fill="#0e8c18"/>
<circle cx="1247.1" cy="2379.6" r="2.05" fill="#0e8c18"/>
<circle cx="1060.1" cy="2392.3" r="2.05" fill="#0e8c18"/>
<circle cx="1070.8" cy="2390.7" r="2.05" fill="#0e8c18"/>
<circle cx="1073.5" cy="2396.2" r="2.05" fill="#0e8c18"/>
<circle cx="1075.2" cy="2395.9" r="2.05" fill="#0e8c18"/>
<circle cx="1075.0" cy="2400.5" r="2.05" fill="#0e8c18"/>
<circle cx="1085.4" cy="2396.4" r="2.05" fill="#0e8c18"/>
<circle cx="1087.0" cy="2400.5" r="2.05" fill="#0e8c18"/>
<circle cx="1092.6" cy="2401.3" r="2.05" fill="#0e8c18"/>
<circle cx="1095.4" cy="2396.4" r="2.05" fill="#0e8c18"/>
<circle cx="1100.7" cy="2394.8" r="2.05" fill="#0e8c18"/>
<circle cx="1101.0" cy="2397.4" r="2.05" fill="#0e8c18"/>
<circle cx="1117.1" cy="2395.1" r="2.05" fill="#0e8c18"/>
<circle cx="1131.6" cy="2395.1" r="2.05" fill="#0e8c18"/>
<circle cx="1138.5" cy="2393.0" r="2.05" fill="#0e8c18"/>
<circle cx="1162.8" cy="2396.6" r="2.05" fill="#0e8c18"/>
<circle cx="1188.3" cy="2399.5" r="2.05" fill="#0e8c18"/>
<circle cx="1061.4" cy="2399.2" r="2.05" fill="#0e8c18"/>
<circle cx="1060.1" cy="2403.3" r="2.05" fill="#0e8c18"/>
<circle cx="1062.5" cy="2405.3" r="2.05" fill="#0e8c18"/>
<circle cx="1060.1" cy="2407.7" r="2.05" fill="#0e8c18"/>
<circle cx="1064.5" cy="2403.3" r="2.05" fill="#0e8c18"/>
<circle cx="1064.7" cy="2408.6" r="2.05" fill="#0e8c18"/>
<circle cx="1065.8" cy="2410.7" r="2.05" fill="#0e8c18"/>
<circle cx="1067.8" cy="2409.9" r="2.05" fill="#0e8c18"/>
<circle cx="1071.7" cy="2406.6" r="2.05" fill="#0e8c18"/>
<circle cx="1071.9" cy="2409.2" r="2.05" fill="#0e8c18"/>
<circle cx="1078.0" cy="2407.9" r="2.05" fill="#0e8c18"/>
<circle cx="1060.1" cy="2412.3" r="2.05" fill="#0e8c18"/>
<circle cx="1061.9" cy="2411.0" r="2.05" fill="#0e8c18"/>
<circle cx="1060.1" cy="2416.1" r="2.05" fill="#0e8c18"/>
<circle cx="1076.0" cy="2412.7" r="2.05" fill="#0e8c18"/>
<circle cx="1076.0" cy="2415.6" r="2.05" fill="#0e8c18"/>
<circle cx="1095.4" cy="2411.2" r="2.05" fill="#0e8c18"/>
<circle cx="1107.7" cy="2405.9" r="2.05" fill="#0e8c18"/>
<circle cx="1107.7" cy="2409.6" r="2.05" fill="#0e8c18"/>
<circle cx="1121.7" cy="2407.7" r="2.05" fill="#0e8c18"/>
<circle cx="1157.4" cy="2403.8" r="2.05" fill="#0e8c18"/>
<circle cx="1064.7" cy="2418.4" r="2.05" fill="#0e8c18"/>
<circle cx="1069.4" cy="2420.2" r="2.05" fill="#0e8c18"/>
<circle cx="1077.3" cy="2422.2" r="2.05" fill="#0e8c18"/>
<circle cx="1080.3" cy="2420.6" r="2.05" fill="#0e8c18"/>
<circle cx="1062.5" cy="2425.7" r="2.05" fill="#0e8c18"/>
<circle cx="1349.6" cy="2232.1" r="2.05" fill="#0e8c18"/>
<circle cx="1312.2" cy="2260.7" r="2.05" fill="#0e8c18"/>
<circle cx="1455.1" cy="2251.3" r="2.05" fill="#0e8c18"/>
<circle cx="1457.8" cy="2269.0" r="2.05" fill="#0e8c18"/>
<circle cx="1536.2" cy="2240.3" r="2.05" fill="#0e8c18"/>
<circle cx="1371.2" cy="2282.2" r="2.05" fill="#0e8c18"/>
<circle cx="1320.9" cy="2290.9" r="2.05" fill="#0e8c18"/>
<circle cx="1351.4" cy="2300.1" r="2.05" fill="#0e8c18"/>
<circle cx="1368.2" cy="2317.2" r="2.05" fill="#0e8c18"/>
<circle cx="1470.1" cy="2320.0" r="2.05" fill="#0e8c18"/>
<circle cx="1397.0" cy="2335.4" r="2.05" fill="#0e8c18"/>
<circle cx="1198.6" cy="2123.6" r="2.05" fill="#f3281c"/>
<circle cx="1150.1" cy="2163.6" r="2.05" fill="#f3281c"/>
<circle cx="1134.0" cy="2171.0" r="2.05" fill="#f3281c"/>
<circle cx="1154.1" cy="2208.8" r="2.05" fill="#f3281c"/>
<circle cx="1165.1" cy="2224.7" r="2.05" fill="#f3281c"/>
<circle cx="1196.5" cy="2223.4" r="2.05" fill="#f3281c"/>
<circle cx="1399.3" cy="2101.8" r="2.05" fill="#f3281c"/>
<circle cx="1421.6" cy="2134.0" r="2.05" fill="#f3281c"/>
<circle cx="1475.3" cy="2190.5" r="2.05" fill="#f3281c"/>
<circle cx="1097.4" cy="2227.5" r="2.05" fill="#f3281c"/>
<circle cx="1123.3" cy="2228.6" r="2.05" fill="#f3281c"/>
<circle cx="1125.3" cy="2228.0" r="2.05" fill="#f3281c"/>
<circle cx="1130.6" cy="2227.8" r="2.05" fill="#f3281c"/>
<circle cx="1165.1" cy="2225.7" r="2.05" fill="#f3281c"/>
<circle cx="1061.2" cy="2238.6" r="2.05" fill="#f3281c"/>
<circle cx="1173.6" cy="2236.2" r="2.05" fill="#f3281c"/>
<circle cx="1203.7" cy="2233.5" r="2.05" fill="#f3281c"/>
<circle cx="1212.1" cy="2235.2" r="2.05" fill="#f3281c"/>
<circle cx="1235.4" cy="2234.5" r="2.05" fill="#f3281c"/>
<circle cx="1225.9" cy="2244.7" r="2.05" fill="#f3281c"/>
<circle cx="1193.8" cy="2249.5" r="2.05" fill="#f3281c"/>
<circle cx="1145.4" cy="2251.6" r="2.05" fill="#f3281c"/>
<circle cx="1145.4" cy="2257.2" r="2.05" fill="#f3281c"/>
<circle cx="1149.0" cy="2260.0" r="2.05" fill="#f3281c"/>
<circle cx="1275.7" cy="2251.8" r="2.05" fill="#f3281c"/>
<circle cx="1065.8" cy="2262.1" r="2.05" fill="#f3281c"/>
<circle cx="1097.4" cy="2265.6" r="2.05" fill="#f3281c"/>
<circle cx="1217.8" cy="2260.7" r="2.05" fill="#f3281c"/>
<circle cx="1224.1" cy="2259.0" r="2.05" fill="#f3281c"/>
<circle cx="1183.7" cy="2264.4" r="2.05" fill="#f3281c"/>
<circle cx="1088.0" cy="2274.0" r="2.05" fill="#f3281c"/>
<circle cx="1156.7" cy="2274.5" r="2.05" fill="#f3281c"/>
<circle cx="1167.7" cy="2273.2" r="2.05" fill="#f3281c"/>
<circle cx="1110.0" cy="2279.2" r="2.05" fill="#f3281c"/>
<circle cx="1062.5" cy="2290.6" r="2.05" fill="#f3281c"/>
<circle cx="1138.5" cy="2293.0" r="2.05" fill="#f3281c"/>
<circle cx="1146.5" cy="2290.4" r="2.05" fill="#f3281c"/>
<circle cx="1099.0" cy="2298.8" r="2.05" fill="#f3281c"/>
<circle cx="1117.1" cy="2305.7" r="2.05" fill="#f3281c"/>
<circle cx="1216.9" cy="2306.2" r="2.05" fill="#f3281c"/>
<circle cx="1068.3" cy="2312.8" r="2.05" fill="#f3281c"/>
<circle cx="1085.1" cy="2314.6" r="2.05" fill="#f3281c"/>
<circle cx="1096.9" cy="2314.9" r="2.05" fill="#f3281c"/>
<circle cx="1124.5" cy="2317.5" r="2.05" fill="#f3281c"/>
<circle cx="1119.2" cy="2320.6" r="2.05" fill="#f3281c"/>
<circle cx="1200.4" cy="2315.4" r="2.05" fill="#f3281c"/>
<circle cx="1064.5" cy="2317.9" r="2.05" fill="#f3281c"/>
<circle cx="1083.1" cy="2327.2" r="2.05" fill="#f3281c"/>
<circle cx="1088.3" cy="2329.2" r="2.05" fill="#f3281c"/>
<circle cx="1103.5" cy="2328.9" r="2.05" fill="#f3281c"/>
<circle cx="1140.9" cy="2337.6" r="2.05" fill="#f3281c"/>
<circle cx="1271.1" cy="2333.8" r="2.05" fill="#f3281c"/>
<circle cx="1059.7" cy="2352.4" r="2.05" fill="#f3281c"/>
<circle cx="1092.4" cy="2351.2" r="2.05" fill="#f3281c"/>
<circle cx="1095.7" cy="2348.3" r="2.05" fill="#f3281c"/>
<circle cx="1102.8" cy="2346.8" r="2.05" fill="#f3281c"/>
<circle cx="1103.5" cy="2350.9" r="2.05" fill="#f3281c"/>
<circle cx="1148.7" cy="2347.3" r="2.05" fill="#f3281c"/>
<circle cx="1141.1" cy="2352.9" r="2.05" fill="#f3281c"/>
<circle cx="1063.7" cy="2357.5" r="2.05" fill="#f3281c"/>
<circle cx="1059.6" cy="2361.7" r="2.05" fill="#f3281c"/>
<circle cx="1112.8" cy="2358.4" r="2.05" fill="#f3281c"/>
<circle cx="1105.3" cy="2363.0" r="2.05" fill="#f3281c"/>
<circle cx="1170.7" cy="2358.4" r="2.05" fill="#f3281c"/>
<circle cx="1072.7" cy="2364.7" r="2.05" fill="#f3281c"/>
<circle cx="1135.2" cy="2366.0" r="2.05" fill="#f3281c"/>
<circle cx="1135.3" cy="2369.3" r="2.05" fill="#f3281c"/>
<circle cx="1069.1" cy="2369.6" r="2.05" fill="#f3281c"/>
<circle cx="1068.3" cy="2372.6" r="2.05" fill="#f3281c"/>
<circle cx="1116.3" cy="2374.2" r="2.05" fill="#f3281c"/>
<circle cx="1099.8" cy="2377.0" r="2.05" fill="#f3281c"/>
<circle cx="1196.0" cy="2378.7" r="2.05" fill="#f3281c"/>
<circle cx="1075.9" cy="2383.1" r="2.05" fill="#f3281c"/>
<circle cx="1074.4" cy="2386.9" r="2.05" fill="#f3281c"/>
<circle cx="1127.9" cy="2381.5" r="2.05" fill="#f3281c"/>
<circle cx="1062.5" cy="2401.2" r="2.05" fill="#f3281c"/>
<circle cx="1420.6" cy="2258.7" r="2.05" fill="#f3281c"/>
<circle cx="1459.7" cy="2255.6" r="2.05" fill="#f3281c"/>
<line x1="1058.5" y1="2350" x2="1536.7" y2="2180.7" stroke="#1f6fe6" stroke-width="2.3"/>
<rect x="1613.1" y="2007.4" width="144.9000000000001" height="436.9000000000001" fill="#fcfcfc"/>
<line x1="1613.1" y1="2425.2" x2="1758" y2="2425.2" stroke="#fff" stroke-width="1.4"/>
<line x1="1613.1" y1="2363.7" x2="1758" y2="2363.7" stroke="#fff" stroke-width="1.4"/>
<line x1="1613.1" y1="2302.2" x2="1758" y2="2302.2" stroke="#fff" stroke-width="1.4"/>
<line x1="1613.1" y1="2240.6" x2="1758" y2="2240.6" stroke="#fff" stroke-width="1.4"/>
<line x1="1613.1" y1="2179.1" x2="1758" y2="2179.1" stroke="#fff" stroke-width="1.4"/>
<line x1="1613.1" y1="2117.6" x2="1758" y2="2117.6" stroke="#fff" stroke-width="1.4"/>
<line x1="1613.1" y1="2056.1" x2="1758" y2="2056.1" stroke="#fff" stroke-width="1.4"/>
<line x1="1653.4" y1="2007.4" x2="1653.4" y2="2444.3" stroke="#fff" stroke-width="1.4"/>
<line x1="1719.6" y1="2007.4" x2="1719.6" y2="2444.3" stroke="#fff" stroke-width="1.4"/>
<line x1="1610.8999999999999" y1="2117.6" x2="1613.1" y2="2117.6" stroke="#888" stroke-width="1"/>
<text x="1606.3" y="2122.9" font-size="20" text-anchor="end" font-family="'Liberation Sans', Arial, sans-serif" fill="#000" >1.5</text>
<line x1="1610.8999999999999" y1="2240.6" x2="1613.1" y2="2240.6" stroke="#888" stroke-width="1"/>
<text x="1606.3" y="2245.9" font-size="20" text-anchor="end" font-family="'Liberation Sans', Arial, sans-serif" fill="#000" >1.0</text>
<line x1="1610.8999999999999" y1="2363.7" x2="1613.1" y2="2363.7" stroke="#888" stroke-width="1"/>
<text x="1606.3" y="2369.0" font-size="20" text-anchor="end" font-family="'Liberation Sans', Arial, sans-serif" fill="#000" >0.5</text>
<line x1="1653.4" y1="2444.3" x2="1653.4" y2="2446.5" stroke="#888" stroke-width="1"/>
<text x="1653.4" y="2464.3" font-size="16" text-anchor="middle" font-family="'Liberation Sans', Arial, sans-serif" fill="#000" >LDep</text>
<line x1="1719.6" y1="2444.3" x2="1719.6" y2="2446.5" stroke="#888" stroke-width="1"/>
<text x="1719.6" y="2464.3" font-size="16" text-anchor="middle" font-family="'Liberation Sans', Arial, sans-serif" fill="#000" >LDom</text>
<polyline points="1653.4,2038.1 1653.4,2027.5 1719.6,2027.5 1719.6,2038.1" fill="none" stroke="#555" stroke-width="1.3"/>
<text x="1633" y="1996.7" font-size="19" font-family="'Liberation Sans', Arial, sans-serif">p &lt; 1.1 x 10<tspan font-size="12" dy="-6.5">-5</tspan></text>
<line x1="1653.4" y1="2118.2" x2="1653.4" y2="2401.6" stroke="#666" stroke-width="1.05"/>
<rect x="1628.5" y="2258.4" width="49.8" height="97.1" fill="#fba4a2" stroke="#555" stroke-width="1.05"/>
<line x1="1719.6" y1="2176.7" x2="1719.6" y2="2425.3" stroke="#666" stroke-width="1.05"/>
<rect x="1694.7" y="2297.4" width="49.8" height="85.3" fill="#a2d2a2" stroke="#555" stroke-width="1.05"/>
<circle cx="1634.9" cy="2393.3" r="1.9" fill="#f3281c"/>
<circle cx="1633.4" cy="2389.5" r="1.9" fill="#f3281c"/>
<circle cx="1631.6" cy="2385.9" r="1.9" fill="#f3281c"/>
<circle cx="1636.3" cy="2382.7" r="1.9" fill="#f3281c"/>
<circle cx="1655.0" cy="2377.6" r="1.9" fill="#f3281c"/>
<circle cx="1670.3" cy="2377.0" r="1.9" fill="#f3281c"/>
<circle cx="1636.6" cy="2372.9" r="1.9" fill="#f3281c"/>
<circle cx="1636.8" cy="2372.1" r="1.9" fill="#f3281c"/>
<circle cx="1666.9" cy="2369.5" r="1.9" fill="#f3281c"/>
<circle cx="1649.6" cy="2368.7" r="1.9" fill="#f3281c"/>
<circle cx="1645.2" cy="2365.9" r="1.9" fill="#f3281c"/>
<circle cx="1634.3" cy="2365.1" r="1.9" fill="#f3281c"/>
<circle cx="1640.3" cy="2363.4" r="1.9" fill="#f3281c"/>
<circle cx="1677.4" cy="2361.6" r="1.9" fill="#f3281c"/>
<circle cx="1633.9" cy="2360.8" r="1.9" fill="#f3281c"/>
<circle cx="1641.2" cy="2359.2" r="1.9" fill="#f3281c"/>
<circle cx="1665.6" cy="2357.1" r="1.9" fill="#f3281c"/>
<circle cx="1673.3" cy="2356.4" r="1.9" fill="#f3281c"/>
<circle cx="1673.9" cy="2354.6" r="1.9" fill="#f3281c"/>
<circle cx="1652.0" cy="2351.2" r="1.9" fill="#f3281c"/>
<circle cx="1676.6" cy="2350.1" r="1.9" fill="#f3281c"/>
<circle cx="1658.7" cy="2347.8" r="1.9" fill="#f3281c"/>
<circle cx="1642.7" cy="2345.3" r="1.9" fill="#f3281c"/>
<circle cx="1651.6" cy="2342.5" r="1.9" fill="#f3281c"/>
<circle cx="1664.4" cy="2340.2" r="1.9" fill="#f3281c"/>
<circle cx="1665.3" cy="2337.1" r="1.9" fill="#f3281c"/>
<circle cx="1634.6" cy="2335.1" r="1.9" fill="#f3281c"/>
<circle cx="1637.8" cy="2331.7" r="1.9" fill="#f3281c"/>
<circle cx="1676.7" cy="2331.3" r="1.9" fill="#f3281c"/>
<circle cx="1633.4" cy="2327.4" r="1.9" fill="#f3281c"/>
<circle cx="1669.3" cy="2324.5" r="1.9" fill="#f3281c"/>
<circle cx="1645.2" cy="2323.6" r="1.9" fill="#f3281c"/>
<circle cx="1640.6" cy="2321.7" r="1.9" fill="#f3281c"/>
<circle cx="1641.0" cy="2318.3" r="1.9" fill="#f3281c"/>
<circle cx="1651.8" cy="2316.6" r="1.9" fill="#f3281c"/>
<circle cx="1678.3" cy="2313.4" r="1.9" fill="#f3281c"/>
<circle cx="1635.5" cy="2310.0" r="1.9" fill="#f3281c"/>
<circle cx="1671.4" cy="2308.8" r="1.9" fill="#f3281c"/>
<circle cx="1644.3" cy="2305.8" r="1.9" fill="#f3281c"/>
<circle cx="1636.8" cy="2301.7" r="1.9" fill="#f3281c"/>
<circle cx="1665.8" cy="2299.6" r="1.9" fill="#f3281c"/>
<circle cx="1645.4" cy="2296.5" r="1.9" fill="#f3281c"/>
<circle cx="1637.5" cy="2292.9" r="1.9" fill="#f3281c"/>
<circle cx="1649.3" cy="2290.9" r="1.9" fill="#f3281c"/>
<circle cx="1669.7" cy="2288.0" r="1.9" fill="#f3281c"/>
<circle cx="1671.8" cy="2284.2" r="1.9" fill="#f3281c"/>
<circle cx="1657.2" cy="2280.9" r="1.9" fill="#f3281c"/>
<circle cx="1628.5" cy="2276.5" r="1.9" fill="#f3281c"/>
<circle cx="1666.8" cy="2274.6" r="1.9" fill="#f3281c"/>
<circle cx="1658.8" cy="2273.1" r="1.9" fill="#f3281c"/>
<circle cx="1673.7" cy="2269.7" r="1.9" fill="#f3281c"/>
<circle cx="1676.4" cy="2265.1" r="1.9" fill="#f3281c"/>
<circle cx="1644.6" cy="2262.7" r="1.9" fill="#f3281c"/>
<circle cx="1671.1" cy="2258.8" r="1.9" fill="#f3281c"/>
<circle cx="1669.6" cy="2254.6" r="1.9" fill="#f3281c"/>
<circle cx="1641.5" cy="2251.0" r="1.9" fill="#f3281c"/>
<circle cx="1646.6" cy="2249.9" r="1.9" fill="#f3281c"/>
<circle cx="1647.0" cy="2242.1" r="1.9" fill="#f3281c"/>
<circle cx="1645.9" cy="2239.5" r="1.9" fill="#f3281c"/>
<circle cx="1647.2" cy="2236.3" r="1.9" fill="#f3281c"/>
<circle cx="1633.6" cy="2231.9" r="1.9" fill="#f3281c"/>
<circle cx="1639.5" cy="2223.4" r="1.9" fill="#f3281c"/>
<circle cx="1674.2" cy="2221.6" r="1.9" fill="#f3281c"/>
<circle cx="1648.9" cy="2216.9" r="1.9" fill="#f3281c"/>
<circle cx="1660.3" cy="2210.2" r="1.9" fill="#f3281c"/>
<circle cx="1673.1" cy="2199.7" r="1.9" fill="#f3281c"/>
<circle cx="1666.4" cy="2196.1" r="1.9" fill="#f3281c"/>
<circle cx="1640.4" cy="2186.6" r="1.9" fill="#f3281c"/>
<circle cx="1674.7" cy="2183.8" r="1.9" fill="#f3281c"/>
<circle cx="1668.9" cy="2171.1" r="1.9" fill="#f3281c"/>
<circle cx="1678.3" cy="2161.3" r="1.9" fill="#f3281c"/>
<circle cx="1665.0" cy="2148.0" r="1.9" fill="#f3281c"/>
<circle cx="1666.3" cy="2118.2" r="1.9" fill="#f3281c"/>
<circle cx="1669.3" cy="2401.6" r="1.9" fill="#f3281c"/>
<circle cx="1707.1" cy="2421.3" r="1.9" fill="#0e8c18"/>
<circle cx="1727.5" cy="2419.7" r="1.9" fill="#0e8c18"/>
<circle cx="1713.5" cy="2418.3" r="1.9" fill="#0e8c18"/>
<circle cx="1736.9" cy="2415.8" r="1.9" fill="#0e8c18"/>
<circle cx="1701.0" cy="2415.3" r="1.9" fill="#0e8c18"/>
<circle cx="1721.6" cy="2414.5" r="1.9" fill="#0e8c18"/>
<circle cx="1711.3" cy="2413.7" r="1.9" fill="#0e8c18"/>
<circle cx="1735.9" cy="2412.3" r="1.9" fill="#0e8c18"/>
<circle cx="1711.7" cy="2411.6" r="1.9" fill="#0e8c18"/>
<circle cx="1737.1" cy="2411.2" r="1.9" fill="#0e8c18"/>
<circle cx="1737.3" cy="2410.1" r="1.9" fill="#0e8c18"/>
<circle cx="1738.8" cy="2409.2" r="1.9" fill="#0e8c18"/>
<circle cx="1701.3" cy="2408.6" r="1.9" fill="#0e8c18"/>
<circle cx="1741.9" cy="2408.2" r="1.9" fill="#0e8c18"/>
<circle cx="1732.0" cy="2407.4" r="1.9" fill="#0e8c18"/>
<circle cx="1728.6" cy="2406.7" r="1.9" fill="#0e8c18"/>
<circle cx="1727.3" cy="2406.1" r="1.9" fill="#0e8c18"/>
<circle cx="1696.6" cy="2405.8" r="1.9" fill="#0e8c18"/>
<circle cx="1738.4" cy="2404.9" r="1.9" fill="#0e8c18"/>
<circle cx="1722.0" cy="2404.3" r="1.9" fill="#0e8c18"/>
<circle cx="1717.3" cy="2403.9" r="1.9" fill="#0e8c18"/>
<circle cx="1711.4" cy="2403.3" r="1.9" fill="#0e8c18"/>
<circle cx="1734.0" cy="2403.1" r="1.9" fill="#0e8c18"/>
<circle cx="1733.9" cy="2402.3" r="1.9" fill="#0e8c18"/>
<circle cx="1738.4" cy="2402.2" r="1.9" fill="#0e8c18"/>
<circle cx="1705.1" cy="2401.7" r="1.9" fill="#0e8c18"/>
<circle cx="1711.5" cy="2401.1" r="1.9" fill="#0e8c18"/>
<circle cx="1706.9" cy="2400.5" r="1.9" fill="#0e8c18"/>
<circle cx="1699.3" cy="2400.4" r="1.9" fill="#0e8c18"/>
<circle cx="1710.8" cy="2399.9" r="1.9" fill="#0e8c18"/>
<circle cx="1695.5" cy="2399.6" r="1.9" fill="#0e8c18"/>
<circle cx="1734.7" cy="2399.0" r="1.9" fill="#0e8c18"/>
<circle cx="1705.7" cy="2398.7" r="1.9" fill="#0e8c18"/>
<circle cx="1697.8" cy="2398.3" r="1.9" fill="#0e8c18"/>
<circle cx="1697.6" cy="2397.6" r="1.9" fill="#0e8c18"/>
<circle cx="1731.8" cy="2397.3" r="1.9" fill="#0e8c18"/>
<circle cx="1704.3" cy="2396.8" r="1.9" fill="#0e8c18"/>
<circle cx="1717.7" cy="2396.6" r="1.9" fill="#0e8c18"/>
<circle cx="1714.6" cy="2396.1" r="1.9" fill="#0e8c18"/>
<circle cx="1735.0" cy="2396.0" r="1.9" fill="#0e8c18"/>
<circle cx="1742.7" cy="2395.3" r="1.9" fill="#0e8c18"/>
<circle cx="1709.9" cy="2395.2" r="1.9" fill="#0e8c18"/>
<circle cx="1726.3" cy="2394.7" r="1.9" fill="#0e8c18"/>
<circle cx="1739.7" cy="2394.3" r="1.9" fill="#0e8c18"/>
<circle cx="1718.1" cy="2393.8" r="1.9" fill="#0e8c18"/>
<circle cx="1739.9" cy="2393.7" r="1.9" fill="#0e8c18"/>
<circle cx="1731.5" cy="2393.1" r="1.9" fill="#0e8c18"/>
<circle cx="1710.0" cy="2392.9" r="1.9" fill="#0e8c18"/>
<circle cx="1738.6" cy="2392.7" r="1.9" fill="#0e8c18"/>
<circle cx="1723.3" cy="2392.2" r="1.9" fill="#0e8c18"/>
<circle cx="1699.6" cy="2392.1" r="1.9" fill="#0e8c18"/>
<circle cx="1724.0" cy="2391.5" r="1.9" fill="#0e8c18"/>
<circle cx="1736.3" cy="2391.3" r="1.9" fill="#0e8c18"/>
<circle cx="1720.5" cy="2391.1" r="1.9" fill="#0e8c18"/>
<circle cx="1718.8" cy="2390.5" r="1.9" fill="#0e8c18"/>
<circle cx="1715.4" cy="2390.4" r="1.9" fill="#0e8c18"/>
<circle cx="1738.9" cy="2390.1" r="1.9" fill="#0e8c18"/>
<circle cx="1728.0" cy="2389.8" r="1.9" fill="#0e8c18"/>
<circle cx="1704.8" cy="2389.4" r="1.9" fill="#0e8c18"/>
<circle cx="1712.6" cy="2389.3" r="1.9" fill="#0e8c18"/>
<circle cx="1712.7" cy="2388.9" r="1.9" fill="#0e8c18"/>
<circle cx="1742.9" cy="2388.6" r="1.9" fill="#0e8c18"/>
<circle cx="1729.6" cy="2388.1" r="1.9" fill="#0e8c18"/>
<circle cx="1700.5" cy="2388.1" r="1.9" fill="#0e8c18"/>
<circle cx="1740.6" cy="2387.6" r="1.9" fill="#0e8c18"/>
<circle cx="1696.0" cy="2387.4" r="1.9" fill="#0e8c18"/>
<circle cx="1724.2" cy="2387.1" r="1.9" fill="#0e8c18"/>
<circle cx="1716.2" cy="2386.7" r="1.9" fill="#0e8c18"/>
<circle cx="1730.6" cy="2386.4" r="1.9" fill="#0e8c18"/>
<circle cx="1716.0" cy="2386.3" r="1.9" fill="#0e8c18"/>
<circle cx="1698.9" cy="2386.0" r="1.9" fill="#0e8c18"/>
<circle cx="1720.8" cy="2385.7" r="1.9" fill="#0e8c18"/>
<circle cx="1735.9" cy="2385.2" r="1.9" fill="#0e8c18"/>
<circle cx="1734.3" cy="2385.2" r="1.9" fill="#0e8c18"/>
<circle cx="1712.3" cy="2384.9" r="1.9" fill="#0e8c18"/>
<circle cx="1705.5" cy="2384.5" r="1.9" fill="#0e8c18"/>
<circle cx="1732.0" cy="2384.3" r="1.9" fill="#0e8c18"/>
<circle cx="1734.9" cy="2383.9" r="1.9" fill="#0e8c18"/>
<circle cx="1705.3" cy="2383.9" r="1.9" fill="#0e8c18"/>
<circle cx="1739.1" cy="2383.6" r="1.9" fill="#0e8c18"/>
<circle cx="1744.6" cy="2383.3" r="1.9" fill="#0e8c18"/>
<circle cx="1716.2" cy="2382.9" r="1.9" fill="#0e8c18"/>
<circle cx="1713.5" cy="2382.7" r="1.9" fill="#0e8c18"/>
<circle cx="1730.3" cy="2382.3" r="1.9" fill="#0e8c18"/>
<circle cx="1741.4" cy="2381.7" r="1.9" fill="#0e8c18"/>
<circle cx="1704.4" cy="2381.4" r="1.9" fill="#0e8c18"/>
<circle cx="1709.5" cy="2380.9" r="1.9" fill="#0e8c18"/>
<circle cx="1710.9" cy="2380.5" r="1.9" fill="#0e8c18"/>
<circle cx="1731.4" cy="2380.3" r="1.9" fill="#0e8c18"/>
<circle cx="1703.7" cy="2379.7" r="1.9" fill="#0e8c18"/>
<circle cx="1722.0" cy="2379.5" r="1.9" fill="#0e8c18"/>
<circle cx="1719.6" cy="2379.2" r="1.9" fill="#0e8c18"/>
<circle cx="1728.2" cy="2378.4" r="1.9" fill="#0e8c18"/>
<circle cx="1701.5" cy="2378.4" r="1.9" fill="#0e8c18"/>
<circle cx="1742.8" cy="2378.0" r="1.9" fill="#0e8c18"/>
<circle cx="1745.0" cy="2377.5" r="1.9" fill="#0e8c18"/>
<circle cx="1722.7" cy="2377.1" r="1.9" fill="#0e8c18"/>
<circle cx="1734.6" cy="2376.4" r="1.9" fill="#0e8c18"/>
<circle cx="1703.5" cy="2376.0" r="1.9" fill="#0e8c18"/>
<circle cx="1740.4" cy="2375.8" r="1.9" fill="#0e8c18"/>
<circle cx="1722.2" cy="2375.3" r="1.9" fill="#0e8c18"/>
<circle cx="1732.8" cy="2374.8" r="1.9" fill="#0e8c18"/>
<circle cx="1738.3" cy="2374.4" r="1.9" fill="#0e8c18"/>
<circle cx="1712.6" cy="2374.1" r="1.9" fill="#0e8c18"/>
<circle cx="1741.1" cy="2373.7" r="1.9" fill="#0e8c18"/>
<circle cx="1704.7" cy="2373.5" r="1.9" fill="#0e8c18"/>
<circle cx="1695.4" cy="2373.0" r="1.9" fill="#0e8c18"/>
<circle cx="1719.7" cy="2372.4" r="1.9" fill="#0e8c18"/>
<circle cx="1739.9" cy="2372.0" r="1.9" fill="#0e8c18"/>
<circle cx="1739.9" cy="2371.5" r="1.9" fill="#0e8c18"/>
<circle cx="1742.7" cy="2371.1" r="1.9" fill="#0e8c18"/>
<circle cx="1720.1" cy="2370.7" r="1.9" fill="#0e8c18"/>
<circle cx="1741.6" cy="2370.6" r="1.9" fill="#0e8c18"/>
<circle cx="1722.6" cy="2370.2" r="1.9" fill="#0e8c18"/>
<circle cx="1701.5" cy="2369.5" r="1.9" fill="#0e8c18"/>
<circle cx="1726.3" cy="2369.2" r="1.9" fill="#0e8c18"/>
<circle cx="1735.0" cy="2368.9" r="1.9" fill="#0e8c18"/>
<circle cx="1715.7" cy="2368.3" r="1.9" fill="#0e8c18"/>
<circle cx="1724.8" cy="2368.1" r="1.9" fill="#0e8c18"/>
<circle cx="1707.4" cy="2367.7" r="1.9" fill="#0e8c18"/>
<circle cx="1708.2" cy="2367.2" r="1.9" fill="#0e8c18"/>
<circle cx="1715.6" cy="2366.8" r="1.9" fill="#0e8c18"/>
<circle cx="1720.3" cy="2366.3" r="1.9" fill="#0e8c18"/>
<circle cx="1718.0" cy="2366.1" r="1.9" fill="#0e8c18"/>
<circle cx="1698.9" cy="2365.4" r="1.9" fill="#0e8c18"/>
<circle cx="1694.5" cy="2365.1" r="1.9" fill="#0e8c18"/>
<circle cx="1711.5" cy="2364.7" r="1.9" fill="#0e8c18"/>
<circle cx="1730.6" cy="2364.2" r="1.9" fill="#0e8c18"/>
<circle cx="1732.2" cy="2363.8" r="1.9" fill="#0e8c18"/>
<circle cx="1706.2" cy="2363.7" r="1.9" fill="#0e8c18"/>
<circle cx="1707.2" cy="2363.1" r="1.9" fill="#0e8c18"/>
<circle cx="1720.4" cy="2362.6" r="1.9" fill="#0e8c18"/>
<circle cx="1703.1" cy="2362.2" r="1.9" fill="#0e8c18"/>
<circle cx="1724.8" cy="2361.8" r="1.9" fill="#0e8c18"/>
<circle cx="1740.1" cy="2361.6" r="1.9" fill="#0e8c18"/>
<circle cx="1704.5" cy="2360.9" r="1.9" fill="#0e8c18"/>
<circle cx="1723.9" cy="2360.5" r="1.9" fill="#0e8c18"/>
<circle cx="1730.8" cy="2360.3" r="1.9" fill="#0e8c18"/>
<circle cx="1732.3" cy="2359.9" r="1.9" fill="#0e8c18"/>
<circle cx="1730.4" cy="2359.2" r="1.9" fill="#0e8c18"/>
<circle cx="1730.3" cy="2359.1" r="1.9" fill="#0e8c18"/>
<circle cx="1708.0" cy="2358.6" r="1.9" fill="#0e8c18"/>
<circle cx="1736.8" cy="2358.0" r="1.9" fill="#0e8c18"/>
<circle cx="1741.2" cy="2357.6" r="1.9" fill="#0e8c18"/>
<circle cx="1696.9" cy="2357.5" r="1.9" fill="#0e8c18"/>
<circle cx="1742.2" cy="2356.9" r="1.9" fill="#0e8c18"/>
<circle cx="1716.7" cy="2356.6" r="1.9" fill="#0e8c18"/>
<circle cx="1698.6" cy="2356.1" r="1.9" fill="#0e8c18"/>
<circle cx="1697.7" cy="2355.6" r="1.9" fill="#0e8c18"/>
<circle cx="1734.7" cy="2355.5" r="1.9" fill="#0e8c18"/>
<circle cx="1728.6" cy="2355.0" r="1.9" fill="#0e8c18"/>
<circle cx="1701.4" cy="2354.6" r="1.9" fill="#0e8c18"/>
<circle cx="1717.6" cy="2354.2" r="1.9" fill="#0e8c18"/>
<circle cx="1726.6" cy="2353.9" r="1.9" fill="#0e8c18"/>
<circle cx="1744.9" cy="2353.4" r="1.9" fill="#0e8c18"/>
<circle cx="1711.3" cy="2352.9" r="1.9" fill="#0e8c18"/>
<circle cx="1733.1" cy="2352.5" r="1.9" fill="#0e8c18"/>
<circle cx="1706.7" cy="2352.2" r="1.9" fill="#0e8c18"/>
<circle cx="1704.3" cy="2351.6" r="1.9" fill="#0e8c18"/>
<circle cx="1702.4" cy="2351.1" r="1.9" fill="#0e8c18"/>
<circle cx="1715.0" cy="2350.8" r="1.9" fill="#0e8c18"/>
<circle cx="1725.6" cy="2350.5" r="1.9" fill="#0e8c18"/>
<circle cx="1709.6" cy="2349.9" r="1.9" fill="#0e8c18"/>
<circle cx="1702.4" cy="2349.6" r="1.9" fill="#0e8c18"/>
<circle cx="1705.3" cy="2349.3" r="1.9" fill="#0e8c18"/>
<circle cx="1698.5" cy="2348.7" r="1.9" fill="#0e8c18"/>
<circle cx="1704.0" cy="2348.4" r="1.9" fill="#0e8c18"/>
<circle cx="1710.2" cy="2347.3" r="1.9" fill="#0e8c18"/>
<circle cx="1719.8" cy="2347.0" r="1.9" fill="#0e8c18"/>
<circle cx="1703.5" cy="2346.3" r="1.9" fill="#0e8c18"/>
<circle cx="1718.6" cy="2345.3" r="1.9" fill="#0e8c18"/>
<circle cx="1716.5" cy="2344.8" r="1.9" fill="#0e8c18"/>
<circle cx="1743.6" cy="2344.1" r="1.9" fill="#0e8c18"/>
<circle cx="1718.9" cy="2343.6" r="1.9" fill="#0e8c18"/>
<circle cx="1742.2" cy="2343.0" r="1.9" fill="#0e8c18"/>
<circle cx="1718.1" cy="2342.3" r="1.9" fill="#0e8c18"/>
<circle cx="1704.3" cy="2341.5" r="1.9" fill="#0e8c18"/>
<circle cx="1724.3" cy="2341.4" r="1.9" fill="#0e8c18"/>
<circle cx="1701.5" cy="2340.4" r="1.9" fill="#0e8c18"/>
<circle cx="1702.8" cy="2340.1" r="1.9" fill="#0e8c18"/>
<circle cx="1697.9" cy="2339.5" r="1.9" fill="#0e8c18"/>
<circle cx="1729.8" cy="2338.5" r="1.9" fill="#0e8c18"/>
<circle cx="1743.3" cy="2338.0" r="1.9" fill="#0e8c18"/>
<circle cx="1714.7" cy="2337.2" r="1.9" fill="#0e8c18"/>
<circle cx="1712.2" cy="2336.6" r="1.9" fill="#0e8c18"/>
<circle cx="1715.8" cy="2336.1" r="1.9" fill="#0e8c18"/>
<circle cx="1712.1" cy="2335.7" r="1.9" fill="#0e8c18"/>
<circle cx="1729.3" cy="2335.2" r="1.9" fill="#0e8c18"/>
<circle cx="1714.1" cy="2334.3" r="1.9" fill="#0e8c18"/>
<circle cx="1701.9" cy="2333.5" r="1.9" fill="#0e8c18"/>
<circle cx="1738.1" cy="2333.2" r="1.9" fill="#0e8c18"/>
<circle cx="1723.3" cy="2332.7" r="1.9" fill="#0e8c18"/>
<circle cx="1694.5" cy="2332.1" r="1.9" fill="#0e8c18"/>
<circle cx="1737.4" cy="2331.4" r="1.9" fill="#0e8c18"/>
<circle cx="1731.2" cy="2330.4" r="1.9" fill="#0e8c18"/>
<circle cx="1712.2" cy="2330.2" r="1.9" fill="#0e8c18"/>
<circle cx="1726.2" cy="2329.5" r="1.9" fill="#0e8c18"/>
<circle cx="1740.9" cy="2328.8" r="1.9" fill="#0e8c18"/>
<circle cx="1714.6" cy="2327.9" r="1.9" fill="#0e8c18"/>
<circle cx="1716.2" cy="2327.1" r="1.9" fill="#0e8c18"/>
<circle cx="1709.4" cy="2327.1" r="1.9" fill="#0e8c18"/>
<circle cx="1722.4" cy="2326.4" r="1.9" fill="#0e8c18"/>
<circle cx="1727.9" cy="2325.3" r="1.9" fill="#0e8c18"/>
<circle cx="1731.5" cy="2324.6" r="1.9" fill="#0e8c18"/>
<circle cx="1742.4" cy="2324.5" r="1.9" fill="#0e8c18"/>
<circle cx="1701.6" cy="2323.8" r="1.9" fill="#0e8c18"/>
<circle cx="1712.8" cy="2323.0" r="1.9" fill="#0e8c18"/>
<circle cx="1737.5" cy="2322.5" r="1.9" fill="#0e8c18"/>
<circle cx="1734.4" cy="2321.8" r="1.9" fill="#0e8c18"/>
<circle cx="1724.2" cy="2321.2" r="1.9" fill="#0e8c18"/>
<circle cx="1728.6" cy="2320.7" r="1.9" fill="#0e8c18"/>
<circle cx="1711.5" cy="2320.2" r="1.9" fill="#0e8c18"/>
<circle cx="1742.2" cy="2319.6" r="1.9" fill="#0e8c18"/>
<circle cx="1722.1" cy="2318.9" r="1.9" fill="#0e8c18"/>
<circle cx="1714.6" cy="2318.3" r="1.9" fill="#0e8c18"/>
<circle cx="1703.5" cy="2317.3" r="1.9" fill="#0e8c18"/>
<circle cx="1700.1" cy="2316.7" r="1.9" fill="#0e8c18"/>
<circle cx="1739.8" cy="2316.3" r="1.9" fill="#0e8c18"/>
<circle cx="1734.9" cy="2315.4" r="1.9" fill="#0e8c18"/>
<circle cx="1695.6" cy="2314.8" r="1.9" fill="#0e8c18"/>
<circle cx="1710.6" cy="2314.4" r="1.9" fill="#0e8c18"/>
<circle cx="1718.6" cy="2313.7" r="1.9" fill="#0e8c18"/>
<circle cx="1719.4" cy="2313.2" r="1.9" fill="#0e8c18"/>
<circle cx="1712.7" cy="2312.1" r="1.9" fill="#0e8c18"/>
<circle cx="1739.7" cy="2311.7" r="1.9" fill="#0e8c18"/>
<circle cx="1712.0" cy="2311.4" r="1.9" fill="#0e8c18"/>
<circle cx="1721.2" cy="2310.8" r="1.9" fill="#0e8c18"/>
<circle cx="1741.4" cy="2309.8" r="1.9" fill="#0e8c18"/>
<circle cx="1726.7" cy="2309.4" r="1.9" fill="#0e8c18"/>
<circle cx="1718.4" cy="2308.5" r="1.9" fill="#0e8c18"/>
<circle cx="1711.1" cy="2308.2" r="1.9" fill="#0e8c18"/>
<circle cx="1713.9" cy="2307.2" r="1.9" fill="#0e8c18"/>
<circle cx="1725.1" cy="2306.6" r="1.9" fill="#0e8c18"/>
<circle cx="1734.1" cy="2306.4" r="1.9" fill="#0e8c18"/>
<circle cx="1707.4" cy="2305.5" r="1.9" fill="#0e8c18"/>
<circle cx="1713.0" cy="2305.1" r="1.9" fill="#0e8c18"/>
<circle cx="1713.9" cy="2304.2" r="1.9" fill="#0e8c18"/>
<circle cx="1712.6" cy="2303.5" r="1.9" fill="#0e8c18"/>
<circle cx="1740.6" cy="2302.8" r="1.9" fill="#0e8c18"/>
<circle cx="1721.6" cy="2302.6" r="1.9" fill="#0e8c18"/>
<circle cx="1708.2" cy="2302.0" r="1.9" fill="#0e8c18"/>
<circle cx="1711.1" cy="2301.1" r="1.9" fill="#0e8c18"/>
<circle cx="1735.9" cy="2300.5" r="1.9" fill="#0e8c18"/>
<circle cx="1702.3" cy="2300.1" r="1.9" fill="#0e8c18"/>
<circle cx="1729.2" cy="2299.5" r="1.9" fill="#0e8c18"/>
<circle cx="1695.3" cy="2298.6" r="1.9" fill="#0e8c18"/>
<circle cx="1704.0" cy="2298.3" r="1.9" fill="#0e8c18"/>
<circle cx="1697.2" cy="2297.3" r="1.9" fill="#0e8c18"/>
<circle cx="1735.1" cy="2296.9" r="1.9" fill="#0e8c18"/>
<circle cx="1701.7" cy="2296.1" r="1.9" fill="#0e8c18"/>
<circle cx="1705.8" cy="2295.2" r="1.9" fill="#0e8c18"/>
<circle cx="1697.1" cy="2294.4" r="1.9" fill="#0e8c18"/>
<circle cx="1707.6" cy="2293.5" r="1.9" fill="#0e8c18"/>
<circle cx="1731.5" cy="2293.3" r="1.9" fill="#0e8c18"/>
<circle cx="1730.8" cy="2292.0" r="1.9" fill="#0e8c18"/>
<circle cx="1740.4" cy="2291.6" r="1.9" fill="#0e8c18"/>
<circle cx="1742.3" cy="2290.8" r="1.9" fill="#0e8c18"/>
<circle cx="1722.2" cy="2289.7" r="1.9" fill="#0e8c18"/>
<circle cx="1741.0" cy="2288.9" r="1.9" fill="#0e8c18"/>
<circle cx="1698.8" cy="2288.2" r="1.9" fill="#0e8c18"/>
<circle cx="1741.2" cy="2287.2" r="1.9" fill="#0e8c18"/>
<circle cx="1716.2" cy="2286.9" r="1.9" fill="#0e8c18"/>
<circle cx="1704.0" cy="2286.0" r="1.9" fill="#0e8c18"/>
<circle cx="1732.2" cy="2284.9" r="1.9" fill="#0e8c18"/>
<circle cx="1737.8" cy="2284.5" r="1.9" fill="#0e8c18"/>
<circle cx="1713.8" cy="2283.7" r="1.9" fill="#0e8c18"/>
<circle cx="1698.9" cy="2282.8" r="1.9" fill="#0e8c18"/>
<circle cx="1738.5" cy="2281.5" r="1.9" fill="#0e8c18"/>
<circle cx="1732.5" cy="2280.7" r="1.9" fill="#0e8c18"/>
<circle cx="1724.5" cy="2279.9" r="1.9" fill="#0e8c18"/>
<circle cx="1743.8" cy="2278.8" r="1.9" fill="#0e8c18"/>
<circle cx="1696.1" cy="2278.1" r="1.9" fill="#0e8c18"/>
<circle cx="1697.0" cy="2277.7" r="1.9" fill="#0e8c18"/>
<circle cx="1700.5" cy="2276.8" r="1.9" fill="#0e8c18"/>
<circle cx="1695.3" cy="2275.5" r="1.9" fill="#0e8c18"/>
<circle cx="1730.2" cy="2275.2" r="1.9" fill="#0e8c18"/>
<circle cx="1726.2" cy="2273.8" r="1.9" fill="#0e8c18"/>
<circle cx="1699.9" cy="2273.4" r="1.9" fill="#0e8c18"/>
<circle cx="1702.4" cy="2272.5" r="1.9" fill="#0e8c18"/>
<circle cx="1703.4" cy="2271.2" r="1.9" fill="#0e8c18"/>
<circle cx="1725.1" cy="2270.6" r="1.9" fill="#0e8c18"/>
<circle cx="1728.4" cy="2268.9" r="1.9" fill="#0e8c18"/>
<circle cx="1743.5" cy="2268.0" r="1.9" fill="#0e8c18"/>
<circle cx="1712.5" cy="2267.4" r="1.9" fill="#0e8c18"/>
<circle cx="1743.9" cy="2266.7" r="1.9" fill="#0e8c18"/>
<circle cx="1716.3" cy="2265.8" r="1.9" fill="#0e8c18"/>
<circle cx="1714.1" cy="2264.4" r="1.9" fill="#0e8c18"/>
<circle cx="1707.1" cy="2263.4" r="1.9" fill="#0e8c18"/>
<circle cx="1706.0" cy="2262.5" r="1.9" fill="#0e8c18"/>
<circle cx="1743.7" cy="2261.1" r="1.9" fill="#0e8c18"/>
<circle cx="1744.7" cy="2260.2" r="1.9" fill="#0e8c18"/>
<circle cx="1730.1" cy="2258.9" r="1.9" fill="#0e8c18"/>
<circle cx="1703.1" cy="2258.6" r="1.9" fill="#0e8c18"/>
<circle cx="1703.3" cy="2257.5" r="1.9" fill="#0e8c18"/>
<circle cx="1701.9" cy="2256.1" r="1.9" fill="#0e8c18"/>
<circle cx="1712.0" cy="2254.8" r="1.9" fill="#0e8c18"/>
<circle cx="1731.6" cy="2254.0" r="1.9" fill="#0e8c18"/>
<circle cx="1697.2" cy="2252.3" r="1.9" fill="#0e8c18"/>
<circle cx="1721.1" cy="2251.7" r="1.9" fill="#0e8c18"/>
<circle cx="1728.8" cy="2250.4" r="1.9" fill="#0e8c18"/>
<circle cx="1695.9" cy="2249.0" r="1.9" fill="#0e8c18"/>
<circle cx="1716.5" cy="2247.4" r="1.9" fill="#0e8c18"/>
<circle cx="1734.4" cy="2246.1" r="1.9" fill="#0e8c18"/>
<circle cx="1723.4" cy="2245.3" r="1.9" fill="#0e8c18"/>
<circle cx="1717.1" cy="2243.9" r="1.9" fill="#0e8c18"/>
<circle cx="1739.0" cy="2242.0" r="1.9" fill="#0e8c18"/>
<circle cx="1724.7" cy="2240.6" r="1.9" fill="#0e8c18"/>
<circle cx="1711.3" cy="2239.7" r="1.9" fill="#0e8c18"/>
<circle cx="1714.3" cy="2239.0" r="1.9" fill="#0e8c18"/>
<circle cx="1742.1" cy="2237.0" r="1.9" fill="#0e8c18"/>
<circle cx="1737.9" cy="2235.3" r="1.9" fill="#0e8c18"/>
<circle cx="1740.7" cy="2234.3" r="1.9" fill="#0e8c18"/>
<circle cx="1722.7" cy="2233.1" r="1.9" fill="#0e8c18"/>
<circle cx="1701.4" cy="2230.0" r="1.9" fill="#0e8c18"/>
<circle cx="1703.1" cy="2228.4" r="1.9" fill="#0e8c18"/>
<circle cx="1713.7" cy="2228.1" r="1.9" fill="#0e8c18"/>
<circle cx="1729.3" cy="2225.7" r="1.9" fill="#0e8c18"/>
<circle cx="1694.4" cy="2223.6" r="1.9" fill="#0e8c18"/>
<circle cx="1734.9" cy="2222.3" r="1.9" fill="#0e8c18"/>
<circle cx="1734.1" cy="2220.8" r="1.9" fill="#0e8c18"/>
<circle cx="1720.4" cy="2217.3" r="1.9" fill="#0e8c18"/>
<circle cx="1694.5" cy="2215.0" r="1.9" fill="#0e8c18"/>
<circle cx="1734.7" cy="2213.4" r="1.9" fill="#0e8c18"/>
<circle cx="1715.2" cy="2211.8" r="1.9" fill="#0e8c18"/>
<circle cx="1728.2" cy="2208.4" r="1.9" fill="#0e8c18"/>
<circle cx="1723.1" cy="2206.4" r="1.9" fill="#0e8c18"/>
<circle cx="1731.2" cy="2200.2" r="1.9" fill="#0e8c18"/>
<circle cx="1715.0" cy="2199.8" r="1.9" fill="#0e8c18"/>
<circle cx="1743.0" cy="2194.5" r="1.9" fill="#0e8c18"/>
<circle cx="1742.7" cy="2184.2" r="1.9" fill="#0e8c18"/>
<circle cx="1741.4" cy="2046.4" r="1.9" fill="#0e8c18"/>
<circle cx="1725.5" cy="2176.7" r="1.9" fill="#0e8c18"/>
<circle cx="1710.3" cy="2425.3" r="1.9" fill="#0e8c18"/>
<line x1="1628.5" y1="2312.1" x2="1678.3" y2="2312.1" stroke="#3c3c3c" stroke-width="1.9"/>
<line x1="1694.7" y1="2349" x2="1744.5" y2="2349" stroke="#3c3c3c" stroke-width="1.9"/>
</svg></body></html>
